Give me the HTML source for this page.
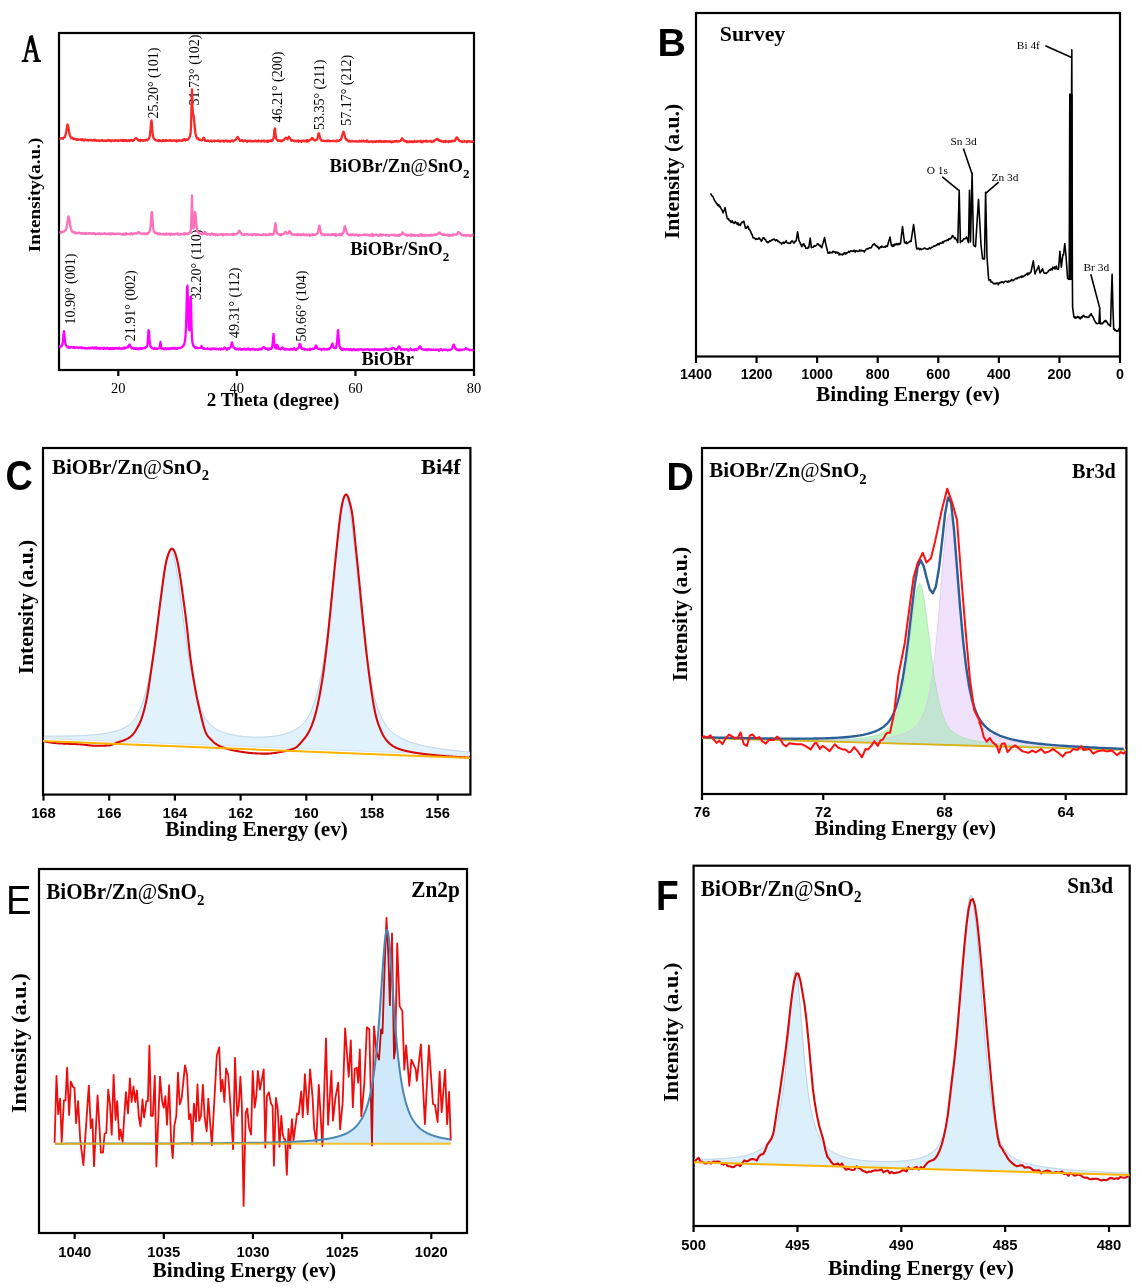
<!DOCTYPE html>
<html><head><meta charset="utf-8"><style>
html,body{margin:0;padding:0;background:#fff;}
svg{display:block;will-change:transform;}
</style></head><body>
<svg width="1142" height="1288" viewBox="0 0 1142 1288">
<rect width="1142" height="1288" fill="#fff"/>
<rect x="59" y="33" width="415" height="337" fill="none" stroke="#000" stroke-width="2.2"/>
<line x1="118.28571428571428" y1="370" x2="118.28571428571428" y2="376" stroke="#000" stroke-width="2.2"/>
<line x1="236.85714285714286" y1="370" x2="236.85714285714286" y2="376" stroke="#000" stroke-width="2.2"/>
<line x1="355.42857142857144" y1="370" x2="355.42857142857144" y2="376" stroke="#000" stroke-width="2.2"/>
<line x1="474.0" y1="370" x2="474.0" y2="376" stroke="#000" stroke-width="2.2"/>
<text x="118.28571428571428" y="393" font-family='"Liberation Serif", serif' font-size="14.5" font-weight="normal" text-anchor="middle" >20</text>
<text x="236.85714285714286" y="393" font-family='"Liberation Serif", serif' font-size="14.5" font-weight="normal" text-anchor="middle" >40</text>
<text x="355.42857142857144" y="393" font-family='"Liberation Serif", serif' font-size="14.5" font-weight="normal" text-anchor="middle" >60</text>
<text x="474.0" y="393" font-family='"Liberation Serif", serif' font-size="14.5" font-weight="normal" text-anchor="middle" >80</text>
<text x="273" y="406" font-family='"Liberation Serif", serif' font-size="18.8" font-weight="bold" text-anchor="middle" textLength="132.6" lengthAdjust="spacingAndGlyphs" >2 Theta (degree)</text>
<text transform="translate(39.65,195) scale(0.925,1) rotate(-90)" font-family='"Liberation Serif", serif' font-size="18.7" font-weight="bold" text-anchor="middle" textLength="114.6" lengthAdjust="spacingAndGlyphs">Intensity(a.u.)</text>
<path fill-rule="evenodd" d="M29.2 36.5 L30.5 35.4 L32.8 35.0 L38.8 59.6 L40.9 60.2 L40.9 61.9 L33.2 61.9 L33.2 60.4 L35.0 59.9 L33.8 52.6 L27.9 52.6 L26.0 59.6 L28.4 60.2 L28.4 61.9 L21.7 61.9 L21.7 60.4 L24.0 59.6 Z M30.5 41.8 L28.4 50.3 L32.9 50.3 Z" fill="#000"/>
<text transform="translate(158.1,118.60000000000001) rotate(-90)" font-family='"Liberation Serif", serif' font-size="14" font-weight="normal" text-anchor="start">25.20° (101)</text>
<text transform="translate(198.7,105.4) rotate(-90)" font-family='"Liberation Serif", serif' font-size="14" font-weight="normal" text-anchor="start">31.73° (102)</text>
<text transform="translate(282.2,122.60000000000001) rotate(-90)" font-family='"Liberation Serif", serif' font-size="14" font-weight="normal" text-anchor="start">46.21° (200)</text>
<text transform="translate(324.1,130.1) rotate(-90)" font-family='"Liberation Serif", serif' font-size="14" font-weight="normal" text-anchor="start">53.35° (211)</text>
<text transform="translate(351.1,125.80000000000001) rotate(-90)" font-family='"Liberation Serif", serif' font-size="14" font-weight="normal" text-anchor="start">57.17° (212)</text>
<text transform="translate(75.4,324.59999999999997) rotate(-90)" font-family='"Liberation Serif", serif' font-size="14" font-weight="normal" text-anchor="start">10.90° (001)</text>
<text transform="translate(135.0,341.2) rotate(-90)" font-family='"Liberation Serif", serif' font-size="14" font-weight="normal" text-anchor="start">21.91° (002)</text>
<text transform="translate(200.9,300.0) rotate(-90)" font-family='"Liberation Serif", serif' font-size="14" font-weight="normal" text-anchor="start">32.20° (110)</text>
<text transform="translate(238.5,338.09999999999997) rotate(-90)" font-family='"Liberation Serif", serif' font-size="14" font-weight="normal" text-anchor="start">49.31° (112)</text>
<text transform="translate(305.7,341.5) rotate(-90)" font-family='"Liberation Serif", serif' font-size="14" font-weight="normal" text-anchor="start">50.66° (104)</text>
<polyline points="59.50,138.70 60.00,138.78 60.50,138.55 61.00,138.29 61.50,138.38 62.00,138.12 62.50,138.38 63.00,138.69 63.50,137.84 64.00,137.49 64.50,137.39 65.00,136.55 65.50,135.14 66.00,132.71 66.50,130.15 67.00,127.15 67.50,124.42 68.00,125.69 68.50,128.25 69.00,131.64 69.50,133.88 70.00,136.07 70.50,136.73 71.00,137.90 71.50,138.26 72.00,138.42 72.50,137.81 73.00,138.66 73.50,138.96 74.00,139.12 74.50,138.63 75.00,139.07 75.50,138.96 76.00,139.08 76.50,139.78 77.00,139.17 77.50,139.49 78.00,139.85 78.50,139.37 79.00,139.57 79.50,139.68 80.00,139.69 80.50,139.27 81.00,139.76 81.50,140.23 82.00,139.24 82.50,140.11 83.00,139.88 83.50,139.64 84.00,140.59 84.50,140.18 85.00,139.51 85.50,139.98 86.00,140.18 86.50,139.94 87.00,140.26 87.50,140.02 88.00,140.30 88.50,140.60 89.00,139.88 89.50,140.21 90.00,139.99 90.50,140.22 91.00,139.78 91.50,140.02 92.00,140.17 92.50,140.58 93.00,140.68 93.50,139.84 94.00,140.04 94.50,140.57 95.00,139.67 95.50,140.22 96.00,140.37 96.50,140.86 97.00,140.69 97.50,140.35 98.00,140.36 98.50,140.42 99.00,141.06 99.50,140.40 100.00,140.46 100.50,140.69 101.00,140.53 101.50,140.50 102.00,140.18 102.50,140.57 103.00,140.42 103.50,140.99 104.00,140.81 104.50,140.58 105.00,140.82 105.50,140.47 106.00,140.96 106.50,140.59 107.00,140.80 107.50,140.14 108.00,140.72 108.50,140.01 109.00,139.89 109.50,140.50 110.00,140.29 110.50,140.66 111.00,141.39 111.50,140.32 112.00,140.39 112.50,140.69 113.00,140.79 113.50,140.55 114.00,140.55 114.50,140.87 115.00,140.80 115.50,140.26 116.00,140.60 116.50,140.64 117.00,140.26 117.50,140.72 118.00,140.33 118.50,140.97 119.00,140.70 119.50,140.66 120.00,140.42 120.50,140.59 121.00,139.93 121.50,140.24 122.00,140.76 122.50,139.89 123.00,140.93 123.50,140.02 124.00,140.90 124.50,140.34 125.00,140.90 125.50,140.67 126.00,140.09 126.50,141.06 127.00,141.13 127.50,140.59 128.00,140.52 128.50,140.55 129.00,140.26 129.50,140.97 130.00,140.39 130.50,140.55 131.00,140.27 131.50,140.30 132.00,140.03 132.50,140.87 133.00,140.29 133.50,140.54 134.00,139.97 134.50,139.35 135.00,138.94 135.50,138.26 136.00,138.16 136.50,138.32 137.00,138.94 137.50,139.09 138.00,139.67 138.50,140.76 139.00,140.08 139.50,140.02 140.00,140.55 140.50,140.96 141.00,139.97 141.50,140.42 142.00,140.27 142.50,139.87 143.00,140.73 143.50,140.45 144.00,140.46 144.50,140.14 145.00,140.52 145.50,140.12 146.00,140.19 146.50,139.76 147.00,139.59 147.50,140.31 148.00,139.40 148.50,139.29 149.00,138.50 149.50,137.07 150.00,134.39 150.50,129.91 151.00,122.96 151.50,120.40 152.00,125.73 152.50,132.36 153.00,136.11 153.50,138.00 154.00,138.66 154.50,138.91 155.00,140.06 155.50,140.29 156.00,140.07 156.50,140.42 157.00,140.60 157.50,140.69 158.00,140.77 158.50,140.33 159.00,141.06 159.50,140.12 160.00,140.89 160.50,140.78 161.00,140.93 161.50,141.30 162.00,141.17 162.50,140.26 163.00,140.08 163.50,140.97 164.00,140.34 164.50,140.69 165.00,141.00 165.50,140.13 166.00,139.98 166.50,140.81 167.00,140.74 167.50,140.64 168.00,140.74 168.50,140.43 169.00,140.20 169.50,140.67 170.00,140.39 170.50,140.16 171.00,140.91 171.50,140.71 172.00,140.87 172.50,140.38 173.00,140.50 173.50,140.38 174.00,140.41 174.50,140.79 175.00,140.44 175.50,140.83 176.00,140.82 176.50,141.41 177.00,140.20 177.50,140.99 178.00,140.64 178.50,140.66 179.00,140.14 179.50,140.47 180.00,140.88 180.50,140.57 181.00,140.61 181.50,140.45 182.00,140.93 182.50,140.48 183.00,139.68 183.50,140.17 184.00,139.67 184.50,139.16 185.00,140.04 185.50,140.60 186.00,140.04 186.50,139.48 187.00,139.39 187.50,139.90 188.00,139.27 188.50,138.85 189.00,138.27 189.50,137.47 190.00,136.37 190.50,133.75 191.00,127.38 191.50,107.43 192.00,89.34 192.50,107.90 193.00,114.47 193.50,115.00 194.00,119.33 194.50,124.75 195.00,129.09 195.50,133.72 196.00,136.02 196.50,136.88 197.00,138.28 197.50,138.78 198.00,138.16 198.50,139.48 199.00,139.60 199.50,139.83 200.00,139.56 200.50,139.94 201.00,140.04 201.50,140.53 202.00,140.17 202.50,139.78 203.00,139.54 203.50,137.57 204.00,137.90 204.50,138.71 205.00,140.63 205.50,140.72 206.00,140.84 206.50,140.84 207.00,140.70 207.50,140.78 208.00,140.64 208.50,140.69 209.00,140.80 209.50,141.33 210.00,141.01 210.50,140.81 211.00,140.64 211.50,140.63 212.00,141.43 212.50,141.05 213.00,140.91 213.50,140.77 214.00,140.51 214.50,140.89 215.00,141.22 215.50,140.79 216.00,140.85 216.50,140.86 217.00,140.98 217.50,140.39 218.00,140.87 218.50,140.66 219.00,141.27 219.50,140.69 220.00,141.17 220.50,141.50 221.00,140.86 221.50,140.77 222.00,141.05 222.50,140.98 223.00,140.64 223.50,141.15 224.00,141.69 224.50,140.90 225.00,140.92 225.50,140.62 226.00,141.10 226.50,140.55 227.00,140.60 227.50,141.44 228.00,140.67 228.50,141.36 229.00,141.51 229.50,141.06 230.00,141.16 230.50,141.64 231.00,140.87 231.50,140.72 232.00,140.43 232.50,140.89 233.00,141.35 233.50,141.12 234.00,140.38 234.50,140.29 235.00,140.21 235.50,140.15 236.00,139.43 236.50,138.76 237.00,137.83 237.50,137.00 238.00,137.38 238.50,138.38 239.00,139.19 239.50,140.05 240.00,140.95 240.50,140.75 241.00,140.71 241.50,140.19 242.00,140.98 242.50,140.21 243.00,140.43 243.50,141.25 244.00,141.22 244.50,140.94 245.00,140.41 245.50,140.89 246.00,140.79 246.50,141.26 247.00,141.84 247.50,141.13 248.00,140.79 248.50,140.66 249.00,141.05 249.50,141.01 250.00,140.68 250.50,141.12 251.00,140.68 251.50,141.48 252.00,141.46 252.50,141.47 253.00,140.93 253.50,141.28 254.00,141.05 254.50,140.97 255.00,140.98 255.50,140.65 256.00,140.60 256.50,141.39 257.00,141.04 257.50,141.18 258.00,141.46 258.50,140.50 259.00,140.84 259.50,141.17 260.00,141.25 260.50,140.98 261.00,141.47 261.50,141.18 262.00,140.68 262.50,140.78 263.00,141.39 263.50,141.26 264.00,140.43 264.50,141.57 265.00,141.30 265.50,141.56 266.00,140.95 266.50,140.97 267.00,140.67 267.50,141.94 268.00,140.98 268.50,141.58 269.00,140.77 269.50,141.03 270.00,140.35 270.50,140.75 271.00,141.15 271.50,140.27 272.00,140.92 272.50,140.39 273.00,139.40 273.50,138.35 274.00,135.18 274.50,129.57 275.00,128.38 275.50,134.04 276.00,137.97 276.50,139.21 277.00,139.71 277.50,140.44 278.00,140.93 278.50,140.19 279.00,140.79 279.50,140.60 280.00,140.50 280.50,141.14 281.00,140.64 281.50,141.32 282.00,140.46 282.50,140.77 283.00,140.38 283.50,139.90 284.00,139.89 284.50,138.96 285.00,138.47 285.50,137.82 286.00,137.69 286.50,138.56 287.00,138.93 287.50,139.18 288.00,138.06 288.50,137.70 289.00,136.80 289.50,138.11 290.00,138.38 290.50,138.92 291.00,140.08 291.50,140.84 292.00,140.13 292.50,140.41 293.00,140.62 293.50,140.54 294.00,141.12 294.50,140.73 295.00,140.79 295.50,141.27 296.00,140.82 296.50,141.25 297.00,140.77 297.50,140.70 298.00,140.49 298.50,141.79 299.00,141.03 299.50,141.23 300.00,141.14 300.50,141.21 301.00,141.17 301.50,141.82 302.00,140.79 302.50,140.60 303.00,140.79 303.50,140.68 304.00,141.40 304.50,141.42 305.00,140.79 305.50,140.62 306.00,140.97 306.50,141.56 307.00,140.06 307.50,141.20 308.00,140.59 308.50,141.27 309.00,140.42 309.50,140.52 310.00,139.81 310.50,139.53 311.00,139.70 311.50,138.78 312.00,137.98 312.50,138.15 313.00,138.48 313.50,139.61 314.00,140.14 314.50,140.35 315.00,140.42 315.50,140.03 316.00,140.26 316.50,139.96 317.00,139.78 317.50,138.72 318.00,135.97 318.50,133.48 319.00,133.43 319.50,135.35 320.00,137.52 320.50,139.20 321.00,139.64 321.50,140.63 322.00,140.61 322.50,140.88 323.00,140.83 323.50,140.71 324.00,140.68 324.50,140.97 325.00,140.89 325.50,141.19 326.00,141.13 326.50,140.67 327.00,141.18 327.50,140.70 328.00,140.96 328.50,141.08 329.00,140.46 329.50,141.22 330.00,141.24 330.50,141.13 331.00,141.04 331.50,141.05 332.00,140.84 332.50,141.08 333.00,140.97 333.50,141.19 334.00,140.72 334.50,141.21 335.00,141.16 335.50,141.04 336.00,140.91 336.50,141.22 337.00,140.40 337.50,141.09 338.00,140.94 338.50,140.86 339.00,140.77 339.50,140.23 340.00,140.11 340.50,140.00 341.00,139.24 341.50,138.05 342.00,135.79 342.50,134.33 343.00,132.46 343.50,131.75 344.00,132.89 344.50,134.52 345.00,137.40 345.50,138.45 346.00,138.54 346.50,140.13 347.00,139.82 347.50,140.12 348.00,140.50 348.50,141.29 349.00,140.80 349.50,141.09 350.00,141.66 350.50,141.65 351.00,141.09 351.50,141.08 352.00,140.75 352.50,140.97 353.00,141.38 353.50,141.38 354.00,141.30 354.50,141.62 355.00,141.01 355.50,141.27 356.00,141.56 356.50,141.51 357.00,141.69 357.50,141.46 358.00,141.22 358.50,141.46 359.00,140.99 359.50,140.77 360.00,141.56 360.50,141.34 361.00,141.47 361.50,140.77 362.00,141.24 362.50,141.16 363.00,141.07 363.50,140.59 364.00,141.26 364.50,141.70 365.00,141.52 365.50,141.18 366.00,141.39 366.50,141.66 367.00,140.43 367.50,141.36 368.00,141.59 368.50,141.64 369.00,142.00 369.50,141.81 370.00,141.52 370.50,141.52 371.00,141.69 371.50,141.23 372.00,141.40 372.50,141.74 373.00,142.11 373.50,141.37 374.00,141.41 374.50,141.50 375.00,141.90 375.50,141.42 376.00,141.95 376.50,141.09 377.00,141.37 377.50,141.37 378.00,141.71 378.50,141.80 379.00,140.91 379.50,141.12 380.00,141.56 380.50,141.21 381.00,140.91 381.50,141.81 382.00,141.62 382.50,141.62 383.00,141.28 383.50,141.81 384.00,141.37 384.50,141.84 385.00,141.13 385.50,141.16 386.00,141.53 386.50,141.21 387.00,141.69 387.50,141.55 388.00,141.14 388.50,141.48 389.00,141.34 389.50,141.78 390.00,141.24 390.50,141.31 391.00,141.88 391.50,142.24 392.00,142.16 392.50,141.48 393.00,141.53 393.50,141.99 394.00,141.41 394.50,141.10 395.00,141.48 395.50,141.59 396.00,141.14 396.50,140.84 397.00,140.90 397.50,141.62 398.00,141.10 398.50,141.28 399.00,141.35 399.50,141.41 400.00,140.93 400.50,140.93 401.00,139.90 401.50,139.26 402.00,138.24 402.50,139.11 403.00,139.56 403.50,140.09 404.00,140.71 404.50,141.01 405.00,141.47 405.50,140.74 406.00,140.99 406.50,141.25 407.00,142.30 407.50,141.76 408.00,141.41 408.50,141.71 409.00,142.19 409.50,141.39 410.00,141.35 410.50,141.91 411.00,141.66 411.50,141.73 412.00,141.32 412.50,142.17 413.00,142.10 413.50,141.70 414.00,141.75 414.50,140.80 415.00,141.73 415.50,141.45 416.00,141.67 416.50,141.75 417.00,141.40 417.50,140.93 418.00,141.65 418.50,141.26 419.00,141.40 419.50,141.31 420.00,141.40 420.50,140.71 421.00,141.94 421.50,141.61 422.00,141.91 422.50,142.21 423.00,141.52 423.50,140.88 424.00,141.20 424.50,141.09 425.00,141.33 425.50,141.53 426.00,140.80 426.50,141.61 427.00,140.96 427.50,141.58 428.00,141.43 428.50,141.35 429.00,141.42 429.50,141.24 430.00,141.20 430.50,140.80 431.00,141.36 431.50,141.98 432.00,141.98 432.50,141.68 433.00,141.37 433.50,140.77 434.00,141.34 434.50,140.60 435.00,140.31 435.50,139.90 436.00,139.67 436.50,139.15 437.00,139.08 437.50,138.75 438.00,139.23 438.50,140.51 439.00,140.05 439.50,140.32 440.00,140.86 440.50,141.13 441.00,140.65 441.50,141.08 442.00,141.56 442.50,141.40 443.00,141.39 443.50,141.92 444.00,141.17 444.50,141.46 445.00,141.26 445.50,141.98 446.00,140.78 446.50,141.24 447.00,141.29 447.50,141.71 448.00,141.70 448.50,141.97 449.00,140.93 449.50,141.73 450.00,141.36 450.50,141.22 451.00,141.62 451.50,141.08 452.00,140.64 452.50,141.20 453.00,140.73 453.50,140.93 454.00,141.12 454.50,140.83 455.00,140.83 455.50,139.54 456.00,138.21 456.50,137.64 457.00,137.33 457.50,137.79 458.00,139.27 458.50,139.69 459.00,139.80 459.50,141.11 460.00,141.06 460.50,141.36 461.00,141.37 461.50,141.61 462.00,141.45 462.50,141.91 463.00,141.65 463.50,141.66 464.00,141.69 464.50,141.05 465.00,141.52 465.50,141.50 466.00,141.67 466.50,141.13 467.00,142.18 467.50,141.66 468.00,141.20 468.50,141.03 469.00,141.54 469.50,141.61 470.00,141.39 470.50,141.68 471.00,141.43 471.50,141.85 472.00,141.40 472.50,141.65 473.00,142.01 473.50,142.57" fill="none" stroke="#fa2828" stroke-width="2.3" stroke-linejoin="round"/>
<polyline points="59.50,232.16 60.00,232.33 60.50,232.16 61.00,232.70 61.50,231.97 62.00,232.14 62.50,232.23 63.00,231.79 63.50,231.67 64.00,231.66 64.50,230.84 65.00,230.70 65.50,230.48 66.00,229.73 66.50,228.05 67.00,225.07 67.50,222.14 68.00,218.76 68.50,216.30 69.00,217.20 69.50,220.49 70.00,224.73 70.50,227.15 71.00,228.85 71.50,230.16 72.00,231.68 72.50,231.71 73.00,232.35 73.50,232.01 74.00,232.68 74.50,232.28 75.00,232.54 75.50,233.56 76.00,233.03 76.50,232.65 77.00,232.86 77.50,233.05 78.00,233.40 78.50,232.85 79.00,232.44 79.50,232.99 80.00,233.12 80.50,233.18 81.00,233.63 81.50,233.30 82.00,233.50 82.50,232.85 83.00,233.56 83.50,234.01 84.00,233.57 84.50,233.41 85.00,233.39 85.50,233.98 86.00,233.04 86.50,233.35 87.00,233.56 87.50,233.68 88.00,233.28 88.50,233.56 89.00,233.37 89.50,233.52 90.00,233.45 90.50,233.11 91.00,233.52 91.50,233.84 92.00,233.21 92.50,233.48 93.00,233.81 93.50,233.22 94.00,233.67 94.50,233.25 95.00,234.03 95.50,234.46 96.00,234.37 96.50,233.60 97.00,233.95 97.50,233.74 98.00,233.75 98.50,234.27 99.00,233.28 99.50,234.12 100.00,233.75 100.50,234.26 101.00,233.84 101.50,233.54 102.00,233.88 102.50,234.04 103.00,233.80 103.50,233.96 104.00,233.61 104.50,233.05 105.00,234.11 105.50,234.05 106.00,233.86 106.50,233.83 107.00,234.18 107.50,233.66 108.00,233.57 108.50,233.76 109.00,234.24 109.50,233.34 110.00,234.25 110.50,233.61 111.00,233.45 111.50,234.28 112.00,233.81 112.50,233.39 113.00,233.72 113.50,234.18 114.00,234.27 114.50,233.71 115.00,234.00 115.50,234.11 116.00,233.64 116.50,233.99 117.00,233.86 117.50,233.69 118.00,233.71 118.50,233.90 119.00,233.89 119.50,233.69 120.00,233.74 120.50,234.28 121.00,233.97 121.50,234.20 122.00,234.32 122.50,234.10 123.00,234.70 123.50,233.61 124.00,234.19 124.50,233.79 125.00,234.56 125.50,234.50 126.00,233.23 126.50,233.57 127.00,234.14 127.50,234.19 128.00,234.17 128.50,233.89 129.00,234.07 129.50,234.14 130.00,233.88 130.50,234.26 131.00,233.11 131.50,234.12 132.00,233.53 132.50,234.22 133.00,233.79 133.50,233.54 134.00,233.96 134.50,233.48 135.00,233.43 135.50,233.13 136.00,233.55 136.50,233.52 137.00,233.38 137.50,232.52 138.00,232.47 138.50,231.97 139.00,232.24 139.50,232.95 140.00,233.52 140.50,233.30 141.00,233.50 141.50,233.62 142.00,233.75 142.50,233.44 143.00,234.13 143.50,233.63 144.00,233.92 144.50,233.46 145.00,233.85 145.50,233.82 146.00,233.49 146.50,234.28 147.00,233.61 147.50,233.97 148.00,233.51 148.50,232.68 149.00,232.37 149.50,231.97 150.00,230.45 150.50,227.41 151.00,221.29 151.50,212.69 152.00,212.06 152.50,219.04 153.00,226.61 153.50,229.77 154.00,231.40 154.50,232.36 155.00,232.99 155.50,232.69 156.00,232.78 156.50,233.16 157.00,232.93 157.50,233.39 158.00,234.35 158.50,233.47 159.00,234.11 159.50,233.44 160.00,234.05 160.50,233.86 161.00,233.97 161.50,234.21 162.00,234.64 162.50,234.11 163.00,234.09 163.50,233.72 164.00,234.28 164.50,234.00 165.00,234.38 165.50,234.08 166.00,234.71 166.50,233.42 167.00,234.01 167.50,234.43 168.00,234.01 168.50,233.86 169.00,234.05 169.50,233.66 170.00,234.19 170.50,235.00 171.00,234.56 171.50,233.77 172.00,233.85 172.50,234.02 173.00,234.52 173.50,233.88 174.00,233.93 174.50,234.48 175.00,234.48 175.50,234.04 176.00,233.78 176.50,233.63 177.00,233.93 177.50,233.39 178.00,234.44 178.50,233.95 179.00,234.34 179.50,234.82 180.00,234.58 180.50,233.76 181.00,234.46 181.50,234.55 182.00,233.88 182.50,233.80 183.00,234.08 183.50,233.55 184.00,234.61 184.50,233.23 185.00,233.66 185.50,233.93 186.00,233.91 186.50,234.00 187.00,233.98 187.50,233.73 188.00,234.11 188.50,232.82 189.00,233.37 189.50,232.80 190.00,232.55 190.50,231.49 191.00,228.01 191.50,213.23 192.00,195.40 192.50,221.34 193.00,227.67 193.50,228.43 194.00,225.35 194.50,217.84 195.00,211.86 195.50,213.76 196.00,220.53 196.50,226.42 197.00,229.72 197.50,231.32 198.00,232.31 198.50,232.70 199.00,233.48 199.50,233.31 200.00,233.46 200.50,233.31 201.00,233.80 201.50,233.56 202.00,233.84 202.50,234.27 203.00,233.96 203.50,233.77 204.00,233.06 204.50,231.91 205.00,232.06 205.50,233.08 206.00,234.06 206.50,233.66 207.00,234.62 207.50,234.22 208.00,233.99 208.50,234.11 209.00,234.07 209.50,234.38 210.00,234.09 210.50,234.76 211.00,234.10 211.50,233.58 212.00,234.13 212.50,233.69 213.00,234.39 213.50,234.78 214.00,234.65 214.50,233.96 215.00,234.17 215.50,235.06 216.00,234.56 216.50,234.45 217.00,234.83 217.50,235.32 218.00,234.92 218.50,234.52 219.00,234.60 219.50,234.70 220.00,234.27 220.50,234.12 221.00,234.51 221.50,234.16 222.00,234.48 222.50,234.54 223.00,235.32 223.50,234.21 224.00,234.47 224.50,234.46 225.00,234.67 225.50,234.89 226.00,234.35 226.50,234.24 227.00,233.95 227.50,234.20 228.00,234.72 228.50,234.55 229.00,234.17 229.50,234.40 230.00,234.54 230.50,234.70 231.00,234.32 231.50,234.43 232.00,233.88 232.50,234.10 233.00,235.06 233.50,233.72 234.00,234.35 234.50,234.52 235.00,234.28 235.50,234.08 236.00,234.28 236.50,234.21 237.00,234.02 237.50,233.08 238.00,233.14 238.50,232.02 239.00,231.02 239.50,230.69 240.00,231.44 240.50,232.64 241.00,233.03 241.50,234.08 242.00,234.47 242.50,234.63 243.00,234.82 243.50,234.34 244.00,234.38 244.50,234.76 245.00,234.02 245.50,234.60 246.00,234.35 246.50,234.42 247.00,233.96 247.50,234.26 248.00,234.58 248.50,234.90 249.00,234.94 249.50,234.57 250.00,234.54 250.50,234.32 251.00,234.76 251.50,234.53 252.00,234.83 252.50,235.24 253.00,234.62 253.50,234.11 254.00,234.33 254.50,234.12 255.00,234.22 255.50,235.10 256.00,234.72 256.50,234.11 257.00,234.87 257.50,235.09 258.00,234.52 258.50,234.41 259.00,234.53 259.50,234.75 260.00,234.87 260.50,235.06 261.00,235.08 261.50,235.07 262.00,235.13 262.50,234.88 263.00,234.11 263.50,234.60 264.00,234.76 264.50,234.51 265.00,234.96 265.50,234.51 266.00,234.31 266.50,235.14 267.00,234.86 267.50,234.70 268.00,234.93 268.50,234.97 269.00,234.70 269.50,233.71 270.00,234.31 270.50,234.35 271.00,234.12 271.50,234.48 272.00,234.74 272.50,234.02 273.00,233.58 273.50,234.30 274.00,232.52 274.50,229.87 275.00,225.57 275.50,223.05 276.00,227.41 276.50,231.79 277.00,232.96 277.50,233.43 278.00,234.11 278.50,234.48 279.00,234.09 279.50,234.48 280.00,234.37 280.50,235.40 281.00,234.16 281.50,234.88 282.00,234.33 282.50,234.23 283.00,234.39 283.50,234.21 284.00,233.95 284.50,233.07 285.00,232.12 285.50,231.81 286.00,232.42 286.50,232.94 287.00,233.60 287.50,233.36 288.00,233.37 288.50,233.03 289.00,231.93 289.50,231.05 290.00,231.55 290.50,232.21 291.00,233.93 291.50,233.55 292.00,234.58 292.50,234.53 293.00,235.03 293.50,234.86 294.00,234.52 294.50,234.53 295.00,234.66 295.50,234.71 296.00,234.48 296.50,234.67 297.00,235.26 297.50,234.11 298.00,234.81 298.50,234.41 299.00,234.80 299.50,235.04 300.00,234.73 300.50,235.02 301.00,234.20 301.50,235.15 302.00,234.56 302.50,234.99 303.00,234.84 303.50,233.87 304.00,234.51 304.50,234.86 305.00,235.32 305.50,234.88 306.00,234.87 306.50,234.29 307.00,235.28 307.50,235.42 308.00,234.79 308.50,234.70 309.00,234.21 309.50,235.09 310.00,235.72 310.50,235.02 311.00,235.20 311.50,234.94 312.00,234.40 312.50,235.20 313.00,234.28 313.50,234.62 314.00,234.77 314.50,234.94 315.00,234.73 315.50,234.65 316.00,234.14 316.50,233.80 317.00,234.00 317.50,233.19 318.00,231.79 318.50,229.46 319.00,226.57 319.50,225.63 320.00,228.81 320.50,231.32 321.00,233.34 321.50,234.05 322.00,234.92 322.50,233.88 323.00,234.28 323.50,234.91 324.00,234.57 324.50,234.58 325.00,235.32 325.50,234.63 326.00,234.36 326.50,234.32 327.00,234.91 327.50,234.91 328.00,234.33 328.50,234.48 329.00,235.01 329.50,235.03 330.00,234.61 330.50,235.06 331.00,235.04 331.50,234.22 332.00,234.73 332.50,234.99 333.00,234.64 333.50,234.09 334.00,234.74 334.50,235.10 335.00,235.38 335.50,234.06 336.00,235.73 336.50,234.41 337.00,235.13 337.50,235.21 338.00,235.10 338.50,234.78 339.00,234.29 339.50,234.87 340.00,234.35 340.50,233.64 341.00,235.40 341.50,234.51 342.00,234.64 342.50,233.24 343.00,233.25 343.50,231.86 344.00,229.71 344.50,226.96 345.00,226.28 345.50,228.62 346.00,230.17 346.50,231.93 347.00,233.48 347.50,233.61 348.00,234.18 348.50,234.38 349.00,235.21 349.50,235.08 350.00,234.67 350.50,235.16 351.00,234.50 351.50,234.69 352.00,235.15 352.50,234.42 353.00,234.77 353.50,234.42 354.00,234.94 354.50,235.48 355.00,234.66 355.50,235.01 356.00,234.62 356.50,234.54 357.00,234.52 357.50,235.47 358.00,235.79 358.50,235.14 359.00,234.72 359.50,235.22 360.00,234.86 360.50,235.27 361.00,235.09 361.50,235.09 362.00,235.21 362.50,234.80 363.00,234.86 363.50,234.40 364.00,234.85 364.50,234.51 365.00,234.96 365.50,234.68 366.00,235.05 366.50,235.18 367.00,234.53 367.50,234.74 368.00,234.70 368.50,235.29 369.00,235.63 369.50,235.33 370.00,234.91 370.50,235.55 371.00,234.51 371.50,235.57 372.00,234.82 372.50,234.07 373.00,235.98 373.50,235.60 374.00,234.69 374.50,235.11 375.00,234.98 375.50,235.09 376.00,234.54 376.50,234.82 377.00,235.23 377.50,235.14 378.00,235.49 378.50,235.10 379.00,235.89 379.50,234.82 380.00,235.17 380.50,234.41 381.00,234.64 381.50,235.54 382.00,234.75 382.50,235.27 383.00,235.06 383.50,234.72 384.00,234.97 384.50,234.91 385.00,234.92 385.50,235.35 386.00,235.32 386.50,234.89 387.00,234.78 387.50,235.19 388.00,235.06 388.50,235.46 389.00,236.03 389.50,235.39 390.00,235.09 390.50,235.04 391.00,234.80 391.50,234.78 392.00,234.75 392.50,234.96 393.00,234.95 393.50,235.36 394.00,234.96 394.50,235.03 395.00,234.67 395.50,235.67 396.00,235.26 396.50,235.71 397.00,235.35 397.50,235.58 398.00,234.96 398.50,235.28 399.00,235.94 399.50,234.52 400.00,235.28 400.50,235.32 401.00,234.60 401.50,234.23 402.00,233.68 402.50,232.44 403.00,233.10 403.50,233.38 404.00,234.05 404.50,234.43 405.00,234.79 405.50,234.99 406.00,235.16 406.50,234.53 407.00,235.78 407.50,235.50 408.00,235.36 408.50,234.99 409.00,235.09 409.50,235.33 410.00,235.29 410.50,234.54 411.00,235.42 411.50,236.20 412.00,234.50 412.50,235.52 413.00,235.30 413.50,235.13 414.00,235.66 414.50,234.75 415.00,235.24 415.50,235.70 416.00,235.11 416.50,235.03 417.00,235.23 417.50,235.03 418.00,235.74 418.50,234.86 419.00,235.51 419.50,234.74 420.00,235.43 420.50,235.16 421.00,234.27 421.50,235.19 422.00,234.81 422.50,235.04 423.00,235.75 423.50,234.80 424.00,234.82 424.50,235.72 425.00,235.24 425.50,235.75 426.00,235.32 426.50,234.88 427.00,235.17 427.50,235.64 428.00,235.53 428.50,235.19 429.00,235.21 429.50,235.14 430.00,234.97 430.50,235.87 431.00,235.17 431.50,234.75 432.00,234.97 432.50,235.39 433.00,235.35 433.50,235.04 434.00,234.82 434.50,235.03 435.00,234.37 435.50,234.43 436.00,235.06 436.50,234.41 437.00,234.43 437.50,234.32 438.00,233.57 438.50,232.74 439.00,233.08 439.50,232.61 440.00,232.72 440.50,233.72 441.00,234.13 441.50,234.07 442.00,234.67 442.50,234.76 443.00,234.22 443.50,234.94 444.00,234.95 444.50,234.93 445.00,234.53 445.50,235.01 446.00,235.14 446.50,235.21 447.00,234.77 447.50,235.42 448.00,234.76 448.50,235.12 449.00,235.67 449.50,234.96 450.00,235.02 450.50,235.59 451.00,235.06 451.50,235.09 452.00,235.26 452.50,235.55 453.00,234.36 453.50,234.83 454.00,234.74 454.50,234.66 455.00,234.68 455.50,234.59 456.00,234.84 456.50,234.15 457.00,234.09 457.50,233.57 458.00,232.38 458.50,232.02 459.00,232.49 459.50,232.61 460.00,233.06 460.50,233.93 461.00,234.09 461.50,234.81 462.00,235.21 462.50,234.72 463.00,235.01 463.50,235.54 464.00,235.00 464.50,235.27 465.00,234.86 465.50,234.96 466.00,235.08 466.50,236.04 467.00,235.15 467.50,235.12 468.00,235.11 468.50,235.26 469.00,235.56 469.50,235.40 470.00,236.06 470.50,235.42 471.00,235.85 471.50,235.45 472.00,235.57 472.50,234.86 473.00,235.32 473.50,235.34" fill="none" stroke="#ff70bb" stroke-width="2.3" stroke-linejoin="round"/>
<polyline points="59.50,346.98 60.00,346.21 60.50,347.12 61.00,346.45 61.50,346.05 62.00,345.40 62.50,343.88 63.00,340.84 63.50,334.87 64.00,331.26 64.50,335.43 65.00,340.79 65.50,343.88 66.00,345.37 66.50,346.01 67.00,346.68 67.50,347.36 68.00,346.74 68.50,347.77 69.00,347.62 69.50,347.24 70.00,347.73 70.50,346.99 71.00,346.93 71.50,347.12 72.00,347.46 72.50,347.51 73.00,347.47 73.50,347.71 74.00,346.94 74.50,347.88 75.00,347.23 75.50,347.51 76.00,347.61 76.50,347.37 77.00,347.31 77.50,347.45 78.00,347.81 78.50,348.03 79.00,348.04 79.50,347.50 80.00,347.59 80.50,347.55 81.00,348.05 81.50,347.19 82.00,348.34 82.50,347.75 83.00,347.66 83.50,348.06 84.00,348.32 84.50,348.08 85.00,348.34 85.50,348.03 86.00,348.43 86.50,348.44 87.00,347.98 87.50,348.53 88.00,348.10 88.50,348.08 89.00,347.74 89.50,347.97 90.00,348.35 90.50,347.63 91.00,348.33 91.50,348.23 92.00,348.22 92.50,347.36 93.00,348.10 93.50,348.38 94.00,347.89 94.50,348.20 95.00,347.35 95.50,348.42 96.00,347.97 96.50,348.51 97.00,347.57 97.50,348.47 98.00,348.15 98.50,348.53 99.00,347.93 99.50,348.05 100.00,349.06 100.50,347.99 101.00,348.04 101.50,348.19 102.00,347.93 102.50,348.71 103.00,348.90 103.50,348.05 104.00,347.70 104.50,348.72 105.00,348.70 105.50,348.60 106.00,348.72 106.50,348.01 107.00,348.26 107.50,347.84 108.00,347.83 108.50,348.67 109.00,348.10 109.50,349.13 110.00,348.36 110.50,348.12 111.00,348.62 111.50,348.98 112.00,348.52 112.50,347.93 113.00,348.48 113.50,348.84 114.00,348.19 114.50,348.09 115.00,348.72 115.50,348.41 116.00,347.98 116.50,348.24 117.00,348.11 117.50,348.48 118.00,348.41 118.50,348.78 119.00,348.62 119.50,347.83 120.00,348.52 120.50,348.69 121.00,348.53 121.50,348.73 122.00,348.17 122.50,348.02 123.00,348.67 123.50,347.96 124.00,347.57 124.50,348.66 125.00,348.02 125.50,348.13 126.00,347.69 126.50,347.62 127.00,347.52 127.50,347.50 128.00,347.22 128.50,345.46 129.00,345.58 129.50,344.57 130.00,345.31 130.50,346.88 131.00,347.33 131.50,347.25 132.00,348.67 132.50,347.85 133.00,348.32 133.50,348.35 134.00,348.82 134.50,348.19 135.00,348.72 135.50,348.13 136.00,348.79 136.50,348.14 137.00,348.29 137.50,349.08 138.00,348.53 138.50,348.46 139.00,349.21 139.50,348.55 140.00,348.13 140.50,348.67 141.00,347.99 141.50,348.78 142.00,348.79 142.50,348.15 143.00,348.10 143.50,348.34 144.00,348.23 144.50,347.80 145.00,348.23 145.50,347.15 146.00,347.46 146.50,347.03 147.00,346.19 147.50,344.17 148.00,338.08 148.50,330.18 149.00,331.41 149.50,339.76 150.00,344.23 150.50,346.13 151.00,347.43 151.50,347.36 152.00,347.96 152.50,348.46 153.00,348.56 153.50,348.82 154.00,348.23 154.50,347.99 155.00,348.76 155.50,348.53 156.00,348.83 156.50,348.45 157.00,348.86 157.50,348.72 158.00,348.64 158.50,348.49 159.00,348.28 159.50,347.68 160.00,344.94 160.50,341.84 161.00,346.31 161.50,348.54 162.00,348.23 162.50,348.74 163.00,348.43 163.50,348.42 164.00,349.24 164.50,348.44 165.00,348.11 165.50,348.31 166.00,348.46 166.50,349.33 167.00,348.65 167.50,348.90 168.00,348.22 168.50,348.70 169.00,348.81 169.50,349.20 170.00,348.32 170.50,348.77 171.00,348.65 171.50,348.18 172.00,348.52 172.50,348.43 173.00,347.69 173.50,348.70 174.00,348.66 174.50,348.30 175.00,347.96 175.50,348.92 176.00,348.47 176.50,348.70 177.00,348.79 177.50,348.07 178.00,348.48 178.50,348.05 179.00,348.04 179.50,347.94 180.00,347.86 180.50,348.11 181.00,347.60 181.50,347.29 182.00,346.98 182.50,346.84 183.00,345.94 183.50,345.43 184.00,344.66 184.50,343.05 185.00,340.76 185.50,335.81 186.00,327.11 186.50,309.90 187.00,289.05 187.50,285.68 188.00,304.76 188.50,321.28 189.00,329.89 189.50,330.20 190.00,318.69 190.50,296.53 191.00,301.40 191.50,326.34 192.00,337.61 192.50,342.77 193.00,344.20 193.50,346.32 194.00,346.30 194.50,346.89 195.00,347.59 195.50,347.97 196.00,347.34 196.50,347.77 197.00,347.53 197.50,348.17 198.00,348.16 198.50,348.13 199.00,348.05 199.50,348.15 200.00,347.95 200.50,348.11 201.00,347.77 201.50,345.94 202.00,347.26 202.50,347.91 203.00,348.58 203.50,348.23 204.00,348.59 204.50,348.32 205.00,348.97 205.50,348.79 206.00,348.72 206.50,348.93 207.00,348.73 207.50,348.29 208.00,349.06 208.50,348.96 209.00,348.82 209.50,349.23 210.00,349.32 210.50,348.53 211.00,348.64 211.50,349.47 212.00,349.43 212.50,348.68 213.00,348.54 213.50,348.73 214.00,348.79 214.50,348.41 215.00,348.99 215.50,348.53 216.00,348.56 216.50,349.31 217.00,348.75 217.50,348.97 218.00,349.22 218.50,349.29 219.00,348.88 219.50,349.02 220.00,348.71 220.50,349.61 221.00,349.21 221.50,348.58 222.00,348.95 222.50,349.15 223.00,348.95 223.50,349.12 224.00,348.36 224.50,347.36 225.00,348.11 225.50,348.16 226.00,348.89 226.50,348.92 227.00,349.82 227.50,348.90 228.00,348.09 228.50,348.53 229.00,348.70 229.50,348.04 230.00,347.82 230.50,347.27 231.00,346.13 231.50,343.89 232.00,342.34 232.50,344.23 233.00,345.84 233.50,347.25 234.00,347.67 234.50,348.24 235.00,348.94 235.50,348.26 236.00,348.88 236.50,349.21 237.00,348.87 237.50,349.12 238.00,348.67 238.50,349.54 239.00,349.48 239.50,349.19 240.00,348.51 240.50,348.77 241.00,349.48 241.50,349.75 242.00,349.26 242.50,349.60 243.00,348.95 243.50,349.11 244.00,349.18 244.50,349.33 245.00,348.65 245.50,349.52 246.00,349.65 246.50,348.79 247.00,348.72 247.50,349.32 248.00,348.97 248.50,348.37 249.00,349.49 249.50,349.26 250.00,349.04 250.50,349.95 251.00,349.26 251.50,348.95 252.00,349.25 252.50,348.85 253.00,348.95 253.50,349.35 254.00,349.02 254.50,349.06 255.00,349.80 255.50,349.51 256.00,349.49 256.50,349.39 257.00,349.37 257.50,349.71 258.00,349.18 258.50,349.83 259.00,348.83 259.50,349.06 260.00,348.64 260.50,348.96 261.00,349.20 261.50,349.41 262.00,348.45 262.50,348.28 263.00,347.58 263.50,346.99 264.00,347.05 264.50,348.07 265.00,347.92 265.50,348.84 266.00,348.95 266.50,348.78 267.00,348.69 267.50,348.57 268.00,349.71 268.50,348.57 269.00,349.56 269.50,349.17 270.00,348.76 270.50,348.36 271.00,348.94 271.50,348.83 272.00,347.16 272.50,345.30 273.00,340.12 273.50,333.81 274.00,340.40 274.50,345.10 275.00,347.49 275.50,347.44 276.00,348.59 276.50,346.85 277.00,344.75 277.50,345.25 278.00,347.01 278.50,348.87 279.00,348.54 279.50,348.83 280.00,349.10 280.50,349.43 281.00,348.68 281.50,348.54 282.00,347.53 282.50,347.41 283.00,348.41 283.50,348.88 284.00,348.74 284.50,349.57 285.00,348.71 285.50,349.63 286.00,349.58 286.50,349.23 287.00,349.00 287.50,349.20 288.00,349.45 288.50,349.55 289.00,349.39 289.50,349.64 290.00,349.10 290.50,349.38 291.00,348.75 291.50,349.56 292.00,349.34 292.50,349.14 293.00,349.68 293.50,349.51 294.00,348.26 294.50,349.24 295.00,348.69 295.50,349.54 296.00,349.99 296.50,348.86 297.00,348.95 297.50,348.64 298.00,348.48 298.50,347.80 299.00,346.60 299.50,343.87 300.00,344.00 300.50,344.67 301.00,346.91 301.50,348.37 302.00,348.80 302.50,348.51 303.00,348.75 303.50,348.93 304.00,349.14 304.50,349.61 305.00,348.79 305.50,349.43 306.00,349.50 306.50,349.50 307.00,349.47 307.50,349.85 308.00,349.50 308.50,349.63 309.00,349.53 309.50,349.96 310.00,348.66 310.50,349.77 311.00,349.21 311.50,349.19 312.00,348.92 312.50,348.57 313.00,349.02 313.50,348.81 314.00,349.02 314.50,347.88 315.00,347.97 315.50,346.16 316.00,345.38 316.50,346.40 317.00,347.64 317.50,348.23 318.00,348.77 318.50,349.12 319.00,349.14 319.50,348.76 320.00,349.20 320.50,349.00 321.00,349.39 321.50,350.00 322.00,349.57 322.50,349.25 323.00,348.79 323.50,348.87 324.00,348.77 324.50,349.61 325.00,349.08 325.50,349.36 326.00,349.11 326.50,349.34 327.00,349.78 327.50,349.02 328.00,349.09 328.50,348.87 329.00,349.38 329.50,348.58 330.00,348.33 330.50,347.80 331.00,346.85 331.50,345.74 332.00,344.44 332.50,343.46 333.00,346.19 333.50,347.43 334.00,347.65 334.50,348.15 335.00,348.11 335.50,347.68 336.00,347.99 336.50,345.18 337.00,342.46 337.50,335.74 338.00,330.23 338.50,335.71 339.00,342.71 339.50,346.03 340.00,347.65 340.50,348.44 341.00,347.87 341.50,349.33 342.00,349.78 342.50,349.44 343.00,349.53 343.50,348.75 344.00,349.25 344.50,349.05 345.00,349.16 345.50,349.73 346.00,349.13 346.50,349.38 347.00,348.78 347.50,349.40 348.00,349.50 348.50,349.24 349.00,349.24 349.50,350.16 350.00,349.09 350.50,349.15 351.00,349.24 351.50,349.95 352.00,350.27 352.50,349.66 353.00,349.29 353.50,349.40 354.00,349.93 354.50,349.24 355.00,350.07 355.50,350.06 356.00,349.59 356.50,349.80 357.00,349.84 357.50,350.12 358.00,349.21 358.50,350.00 359.00,349.45 359.50,349.32 360.00,349.63 360.50,349.52 361.00,349.25 361.50,349.04 362.00,349.27 362.50,350.11 363.00,350.29 363.50,349.84 364.00,350.03 364.50,349.43 365.00,349.59 365.50,349.72 366.00,349.24 366.50,349.27 367.00,349.66 367.50,349.51 368.00,349.25 368.50,349.76 369.00,349.54 369.50,349.99 370.00,349.63 370.50,349.53 371.00,349.68 371.50,349.58 372.00,349.41 372.50,349.50 373.00,349.90 373.50,349.87 374.00,350.10 374.50,349.05 375.00,349.51 375.50,349.50 376.00,349.71 376.50,349.49 377.00,349.47 377.50,349.93 378.00,349.72 378.50,349.25 379.00,350.12 379.50,350.00 380.00,349.46 380.50,349.95 381.00,349.40 381.50,350.05 382.00,349.58 382.50,349.37 383.00,349.52 383.50,349.38 384.00,349.72 384.50,349.71 385.00,349.66 385.50,349.44 386.00,348.35 386.50,349.66 387.00,348.95 387.50,349.69 388.00,349.98 388.50,349.66 389.00,349.39 389.50,349.42 390.00,349.36 390.50,349.09 391.00,348.87 391.50,348.42 392.00,348.70 392.50,347.82 393.00,348.00 393.50,347.89 394.00,348.47 394.50,348.77 395.00,349.25 395.50,349.51 396.00,349.35 396.50,349.00 397.00,348.85 397.50,349.40 398.00,348.03 398.50,346.78 399.00,346.23 399.50,346.71 400.00,347.93 400.50,348.54 401.00,349.96 401.50,349.49 402.00,349.65 402.50,349.47 403.00,349.08 403.50,349.14 404.00,349.78 404.50,349.79 405.00,349.58 405.50,349.27 406.00,349.18 406.50,349.58 407.00,349.19 407.50,350.02 408.00,350.11 408.50,350.70 409.00,350.02 409.50,349.51 410.00,349.41 410.50,348.51 411.00,349.51 411.50,349.65 412.00,350.05 412.50,349.92 413.00,349.91 413.50,349.77 414.00,349.92 414.50,350.18 415.00,349.28 415.50,349.46 416.00,349.09 416.50,350.09 417.00,349.88 417.50,349.53 418.00,348.55 418.50,348.50 419.00,347.53 419.50,346.69 420.00,346.26 420.50,347.21 421.00,347.85 421.50,349.00 422.00,349.21 422.50,349.26 423.00,349.46 423.50,349.42 424.00,349.91 424.50,349.57 425.00,349.80 425.50,349.58 426.00,349.22 426.50,350.07 427.00,349.39 427.50,350.01 428.00,349.93 428.50,349.21 429.00,349.46 429.50,349.62 430.00,349.52 430.50,349.40 431.00,350.07 431.50,349.73 432.00,349.96 432.50,349.67 433.00,349.93 433.50,349.57 434.00,349.82 434.50,350.04 435.00,349.85 435.50,349.68 436.00,349.46 436.50,349.90 437.00,349.96 437.50,349.75 438.00,349.58 438.50,350.04 439.00,350.71 439.50,349.74 440.00,349.96 440.50,349.98 441.00,348.95 441.50,349.89 442.00,349.60 442.50,350.33 443.00,349.75 443.50,349.57 444.00,349.76 444.50,349.89 445.00,349.63 445.50,349.80 446.00,349.34 446.50,349.72 447.00,350.06 447.50,350.46 448.00,350.00 448.50,349.82 449.00,350.10 449.50,349.99 450.00,350.15 450.50,349.83 451.00,349.23 451.50,349.03 452.00,348.39 452.50,347.42 453.00,346.02 453.50,344.68 454.00,344.70 454.50,346.56 455.00,347.27 455.50,348.77 456.00,349.18 456.50,348.82 457.00,349.79 457.50,349.94 458.00,349.73 458.50,350.32 459.00,350.42 459.50,349.37 460.00,350.18 460.50,349.98 461.00,349.98 461.50,350.17 462.00,349.59 462.50,349.63 463.00,349.54 463.50,349.54 464.00,349.73 464.50,349.16 465.00,349.03 465.50,348.96 466.00,347.95 466.50,348.54 467.00,348.55 467.50,349.34 468.00,349.57 468.50,349.85 469.00,349.67 469.50,350.23 470.00,349.90 470.50,349.94 471.00,349.94 471.50,350.19 472.00,349.79 472.50,350.35 473.00,350.13 473.50,350.02" fill="none" stroke="#ff00ff" stroke-width="2.3" stroke-linejoin="round"/>
<text transform="translate(329.60,172.10) scale(1.010,1.000)" font-family='"Liberation Serif", serif' font-size="18.5" font-weight="bold" text-anchor="start">BiOBr/Zn<tspan font-weight="normal">@</tspan>SnO<tspan font-size="12.9" dy="5.5">2</tspan></text>
<text x="350.2" y="255" font-family='"Liberation Serif", serif' font-size="18.5" font-weight="bold">BiOBr/SnO<tspan font-size="13" dy="5.5">2</tspan></text>
<text x="361.5" y="365.4" font-family='"Liberation Serif", serif' font-size="18.5" font-weight="bold" text-anchor="start" >BiOBr</text>
<rect x="696" y="13" width="424" height="343.5" fill="none" stroke="#000" stroke-width="2.2"/>
<line x1="696.0" y1="356.5" x2="696.0" y2="363.0" stroke="#000" stroke-width="2.2"/>
<line x1="756.5714285714286" y1="356.5" x2="756.5714285714286" y2="363.0" stroke="#000" stroke-width="2.2"/>
<line x1="817.1428571428571" y1="356.5" x2="817.1428571428571" y2="363.0" stroke="#000" stroke-width="2.2"/>
<line x1="877.7142857142857" y1="356.5" x2="877.7142857142857" y2="363.0" stroke="#000" stroke-width="2.2"/>
<line x1="938.2857142857142" y1="356.5" x2="938.2857142857142" y2="363.0" stroke="#000" stroke-width="2.2"/>
<line x1="998.8571428571429" y1="356.5" x2="998.8571428571429" y2="363.0" stroke="#000" stroke-width="2.2"/>
<line x1="1059.4285714285713" y1="356.5" x2="1059.4285714285713" y2="363.0" stroke="#000" stroke-width="2.2"/>
<line x1="1120.0" y1="356.5" x2="1120.0" y2="363.0" stroke="#000" stroke-width="2.2"/>
<text x="696.0" y="379.4" font-family='"Liberation Sans", sans-serif' font-size="14.3" font-weight="bold" text-anchor="middle" >1400</text>
<text x="756.6" y="379.4" font-family='"Liberation Sans", sans-serif' font-size="14.3" font-weight="bold" text-anchor="middle" >1200</text>
<text x="817.1" y="379.4" font-family='"Liberation Sans", sans-serif' font-size="14.3" font-weight="bold" text-anchor="middle" >1000</text>
<text x="877.7" y="379.4" font-family='"Liberation Sans", sans-serif' font-size="14.3" font-weight="bold" text-anchor="middle" >800</text>
<text x="938.3" y="379.4" font-family='"Liberation Sans", sans-serif' font-size="14.3" font-weight="bold" text-anchor="middle" >600</text>
<text x="998.9" y="379.4" font-family='"Liberation Sans", sans-serif' font-size="14.3" font-weight="bold" text-anchor="middle" >400</text>
<text x="1059.4" y="379.4" font-family='"Liberation Sans", sans-serif' font-size="14.3" font-weight="bold" text-anchor="middle" >200</text>
<text x="1120.0" y="379.4" font-family='"Liberation Sans", sans-serif' font-size="14.3" font-weight="bold" text-anchor="middle" >0</text>
<text x="908" y="401.1" font-family='"Liberation Serif", serif' font-size="21.2" font-weight="bold" text-anchor="middle" textLength="183.9" lengthAdjust="spacingAndGlyphs" >Binding Energy (ev)</text>
<text transform="translate(679.3,171.45) rotate(-90)" font-family='"Liberation Serif", serif' font-size="21.2" font-weight="bold" text-anchor="middle" textLength="135.3" lengthAdjust="spacingAndGlyphs">Intensity (a.u.)</text>
<text transform="translate(657.42,56.29) scale(1.026,1.019)" font-family='"Liberation Sans", sans-serif' font-size="38.4" font-weight="bold">B</text>
<text x="719.75" y="40.8" font-family='"Liberation Serif", serif' font-size="21" font-weight="bold" text-anchor="start" textLength="65.5" lengthAdjust="spacingAndGlyphs" >Survey</text>
<polyline points="710.50,193.60 711.15,194.37 711.80,195.39 712.45,196.41 713.10,196.60 713.75,198.87 714.40,200.10 714.94,201.01 715.48,201.98 716.02,202.27 716.56,203.59 717.10,203.60 717.50,205.40 718.15,205.61 718.80,204.71 719.45,206.81 720.10,206.30 720.80,207.86 721.50,209.30 722.07,209.82 722.63,211.52 723.20,212.80 723.80,210.58 724.40,210.49 725.00,207.60 727.10,218.10 727.77,219.02 728.45,218.54 729.12,220.35 729.80,220.70 730.43,220.85 731.06,222.50 731.69,221.24 732.31,220.95 732.94,222.59 733.57,222.74 734.20,223.30 734.77,222.80 735.33,221.59 735.90,222.50 736.55,223.17 737.20,224.29 737.85,222.75 738.50,224.88 739.15,224.35 739.80,225.10 740.40,225.53 741.00,223.61 741.60,222.50 742.15,222.07 742.70,222.46 743.25,221.81 743.80,221.20 745.50,228.20 746.04,227.59 746.58,228.03 747.12,227.08 747.66,226.10 748.20,226.80 748.90,229.25 749.60,229.27 750.30,230.80 750.84,231.87 751.38,233.79 751.92,234.14 752.46,235.66 753.00,237.80 753.65,237.74 754.30,237.95 754.95,238.49 755.60,239.28 756.25,238.62 756.90,239.10 757.55,239.15 758.20,238.98 758.85,237.83 759.50,238.20 760.10,239.36 760.70,239.75 761.30,241.30 761.87,240.72 762.43,239.22 763.00,237.80 763.55,238.23 764.10,237.91 764.65,239.14 765.20,239.50 765.75,239.85 766.30,241.44 766.85,241.76 767.40,242.60 767.94,241.81 768.48,242.43 769.02,241.98 769.56,240.91 770.10,240.90 770.68,241.31 771.27,240.27 771.85,240.03 772.43,240.03 773.02,239.32 773.60,239.50 774.18,239.34 774.77,239.58 775.35,240.59 775.93,240.66 776.52,239.77 777.10,240.00 777.75,241.44 778.40,241.08 779.05,241.86 779.70,242.20 780.35,242.89 781.00,242.76 781.65,244.13 782.30,243.00 782.93,243.02 783.56,242.11 784.19,243.38 784.81,242.32 785.44,242.26 786.07,240.67 786.70,242.20 787.32,242.91 787.94,242.97 788.56,243.12 789.18,243.38 789.80,243.00 790.32,243.41 790.85,241.92 791.38,241.94 791.90,240.90 792.45,241.02 793.00,241.76 793.55,243.06 794.10,243.00 794.65,242.57 795.20,240.97 795.75,241.25 796.30,240.40 797.60,231.70 798.90,240.40 799.48,241.56 800.06,242.47 800.64,244.42 801.22,245.22 801.80,246.70 802.47,244.84 803.13,244.09 803.80,243.70 804.47,246.21 805.13,245.93 805.80,248.30 806.40,248.30 807.00,248.40 807.60,248.29 808.20,247.15 808.80,247.70 810.20,238.00 811.40,247.70 812.00,247.24 812.60,247.21 813.20,247.29 813.80,246.21 814.40,245.64 815.00,246.00 815.58,246.09 816.16,245.69 816.74,244.82 817.32,243.83 817.90,243.70 818.47,244.50 819.04,244.90 819.61,245.87 820.19,245.30 820.76,246.62 821.33,247.04 821.90,247.70 822.55,244.56 823.20,242.77 823.85,240.14 824.50,237.60 826.00,245.00 828.00,253.10 828.58,252.76 829.17,253.08 829.75,251.97 830.33,252.60 830.92,252.75 831.50,252.56 832.08,252.88 832.67,251.51 833.25,251.22 833.83,252.06 834.42,252.07 835.00,251.70 835.60,253.13 836.20,252.56 836.80,252.00 837.40,253.18 838.00,252.53 838.60,252.44 839.20,254.96 839.80,253.96 840.40,254.43 841.00,254.30 841.62,254.45 842.25,254.97 842.88,253.97 843.50,254.32 844.12,252.92 844.75,252.56 845.38,253.95 846.00,253.00 846.57,253.56 847.13,252.77 847.70,252.36 848.27,252.07 848.83,251.34 849.40,252.31 849.97,251.57 850.53,251.23 851.10,250.70 851.69,250.94 852.28,251.34 852.87,251.07 853.46,251.23 854.05,250.21 854.64,251.16 855.23,252.11 855.82,250.65 856.41,250.90 857.00,251.00 857.62,251.46 858.24,251.47 858.86,251.25 859.48,249.99 860.10,251.13 860.72,250.17 861.34,250.34 861.96,251.06 862.58,250.57 863.20,250.70 863.80,250.93 864.40,252.01 865.00,250.49 865.60,250.25 866.20,249.14 866.80,249.07 867.40,248.63 868.00,249.00 868.66,248.45 869.32,247.88 869.98,247.86 870.64,247.85 871.30,247.70 871.90,246.35 872.50,245.32 873.10,244.55 873.70,244.75 874.30,243.70 874.87,244.30 875.44,245.41 876.01,245.99 876.59,245.80 877.16,246.93 877.73,246.34 878.30,247.70 878.89,248.87 879.47,248.18 880.06,247.32 880.65,246.71 881.24,247.47 881.83,246.15 882.41,246.66 883.00,247.00 883.63,247.31 884.26,246.84 884.89,246.43 885.51,247.12 886.14,245.93 886.77,246.56 887.40,246.30 888.05,243.70 888.70,241.18 889.35,239.58 890.00,237.00 891.40,245.70 891.98,245.00 892.55,246.45 893.12,244.93 893.70,246.19 894.27,244.35 894.85,245.13 895.42,243.99 896.00,244.50 896.56,243.66 897.12,244.39 897.69,244.57 898.25,243.40 898.81,244.65 899.38,243.46 899.94,243.87 900.50,243.70 902.50,226.50 904.50,242.60 905.08,242.88 905.67,243.06 906.25,241.81 906.83,243.76 907.42,243.24 908.00,243.00 908.60,242.49 909.20,241.88 909.80,241.23 910.40,241.13 911.00,241.60 913.60,224.50 916.60,248.70 917.18,249.03 917.76,248.57 918.35,248.16 918.93,248.52 919.51,249.70 920.09,248.68 920.67,248.57 921.25,249.66 921.84,249.20 922.42,249.00 923.00,249.00 923.60,248.64 924.20,248.10 924.80,248.28 925.40,248.64 926.00,248.75 926.60,249.05 927.20,249.13 927.80,248.92 928.40,248.90 929.00,248.20 929.60,247.54 930.20,248.70 930.80,248.08 931.40,247.50 932.00,247.33 932.60,247.20 933.20,246.33 933.80,246.06 934.40,246.28 935.00,246.00 935.59,245.73 936.18,244.97 936.77,245.27 937.36,244.55 937.94,243.77 938.53,244.02 939.12,244.70 939.71,242.96 940.30,243.00 940.89,243.39 941.47,243.26 942.06,243.07 942.65,241.55 943.24,242.86 943.83,241.56 944.41,241.11 945.00,241.00 945.60,240.61 946.20,240.80 946.80,240.23 947.40,239.84 948.00,240.37 948.60,239.00 949.20,238.56 949.80,239.30 950.40,238.60 951.00,238.24 951.60,237.70 952.20,235.76 952.80,235.60 953.40,236.86 954.00,237.20 954.60,238.57 955.20,237.58 955.80,239.05 956.40,239.60 957.10,240.95 957.80,242.60 959.20,190.30 960.40,242.60 961.05,241.08 961.70,240.91 962.35,241.27 963.00,240.00 963.58,239.24 964.17,238.60 964.75,238.98 965.33,238.54 965.92,238.04 966.50,237.00 967.17,238.43 967.83,240.70 968.50,242.60 969.50,190.30 970.50,242.00 972.10,173.20 973.50,244.70 974.17,245.93 974.83,245.67 975.50,246.70 978.50,199.30 981.00,245.00 982.60,258.80 983.23,258.39 983.87,259.26 984.50,258.80 985.60,192.30 987.00,256.70 988.60,278.90 989.20,280.53 989.80,279.82 990.40,279.80 991.00,282.00 991.62,281.52 992.23,282.08 992.85,282.87 993.47,283.61 994.08,283.50 994.70,283.90 995.29,283.41 995.88,283.78 996.47,283.07 997.06,283.47 997.64,283.05 998.23,284.77 998.82,283.65 999.41,282.64 1000.00,283.00 1000.60,282.34 1001.20,282.53 1001.80,281.75 1002.40,282.13 1003.00,282.01 1003.60,282.79 1004.20,281.95 1004.80,281.63 1005.40,281.21 1006.00,281.19 1006.60,281.68 1007.20,281.48 1007.80,282.11 1008.40,281.02 1009.00,281.83 1009.60,281.27 1010.20,281.01 1010.80,280.90 1011.41,279.54 1012.03,279.67 1012.64,280.53 1013.25,280.63 1013.87,279.71 1014.48,279.76 1015.09,278.86 1015.71,278.62 1016.32,278.20 1016.93,278.84 1017.55,278.23 1018.16,277.65 1018.77,277.34 1019.39,277.57 1020.00,277.00 1020.59,276.97 1021.19,276.13 1021.78,277.32 1022.37,276.31 1022.97,275.97 1023.56,276.57 1024.15,276.12 1024.75,275.30 1025.34,275.43 1025.93,274.34 1026.53,274.37 1027.12,273.28 1027.71,274.98 1028.31,273.06 1028.90,273.90 1029.60,273.64 1030.30,272.18 1031.00,272.00 1033.30,260.80 1035.00,273.90 1035.60,272.01 1036.20,271.09 1036.80,270.00 1037.40,268.84 1038.00,268.12 1038.60,265.80 1040.00,272.90 1040.65,272.07 1041.30,271.33 1041.95,269.50 1042.60,268.80 1043.30,271.24 1044.00,272.90 1044.58,273.13 1045.15,272.95 1045.72,273.30 1046.30,273.50 1046.90,272.77 1047.50,272.21 1048.10,271.62 1048.70,270.70 1049.29,270.13 1049.88,269.71 1050.47,270.24 1051.07,268.60 1051.66,268.90 1052.25,269.80 1052.84,267.17 1053.43,267.99 1054.03,268.45 1054.62,266.88 1055.21,268.92 1055.80,267.20 1056.34,266.18 1056.88,268.79 1057.42,269.26 1057.96,269.30 1058.50,269.20 1059.90,251.40 1061.30,267.20 1062.90,254.60 1063.50,255.00 1064.80,243.50 1066.00,255.80 1067.60,278.60 1068.13,278.74 1068.67,279.33 1069.20,279.40 1069.80,94.00 1070.60,270.00 1071.80,49.90 1072.40,281.00 1072.60,307.00 1073.90,317.20 1074.50,316.91 1075.10,318.05 1075.70,317.18 1076.30,318.00 1077.05,317.05 1077.80,316.40 1078.40,317.55 1079.00,316.99 1079.60,318.00 1080.20,318.80 1080.76,318.27 1081.32,316.82 1081.88,317.58 1082.44,316.51 1083.00,315.70 1083.67,315.30 1084.33,316.54 1085.00,317.00 1085.62,316.69 1086.24,316.88 1086.86,317.40 1087.48,317.09 1088.10,317.60 1088.72,317.35 1089.34,315.65 1089.96,315.80 1090.58,314.46 1091.20,313.70 1091.84,315.51 1092.48,316.08 1093.12,317.44 1093.76,318.43 1094.40,320.40 1095.02,321.34 1095.64,322.16 1096.26,323.43 1096.88,323.59 1097.50,323.50 1098.25,323.39 1099.00,323.00 1099.70,308.60 1100.30,323.90 1100.84,323.54 1101.38,323.63 1101.92,323.16 1102.46,323.74 1103.00,322.70 1103.56,322.76 1104.12,321.32 1104.68,320.94 1105.24,321.61 1105.80,320.40 1106.47,321.60 1107.13,322.34 1107.80,323.50 1108.34,324.71 1108.88,324.41 1109.42,325.03 1109.96,325.49 1110.50,326.30 1111.30,298.30 1112.10,274.30 1112.90,307.00 1113.70,329.10 1114.32,328.48 1114.94,330.50 1115.56,329.82 1116.18,330.63 1116.80,331.40 1117.33,330.72 1117.87,331.27 1118.40,330.60 1119.20,328.30 1120.00,330.00" fill="none" stroke="#000" stroke-width="1.6" stroke-linejoin="round"/>
<rect x="1069.3" y="94" width="3.4" height="186" fill="#000"/>
<text x="1016.8" y="48.7" font-family='"Liberation Serif", serif' font-size="11.4" font-weight="normal" text-anchor="start" >Bi 4f</text>
<line x1="1045.3" y1="45.8" x2="1071.7" y2="57.6" stroke="#000" stroke-width="1.6"/>
<text x="950.4" y="145.2" font-family='"Liberation Serif", serif' font-size="11.4" font-weight="normal" text-anchor="start" >Sn 3d</text>
<line x1="963.4" y1="148.4" x2="972.1" y2="174" stroke="#000" stroke-width="1.6"/>
<text x="926.8" y="174.4" font-family='"Liberation Serif", serif' font-size="11.4" font-weight="normal" text-anchor="start" >O 1s</text>
<line x1="942.3" y1="176.8" x2="958.8" y2="190.3" stroke="#000" stroke-width="1.6"/>
<text x="991.6" y="181.2" font-family='"Liberation Serif", serif' font-size="11.4" font-weight="normal" text-anchor="start" >Zn 3d</text>
<line x1="998.7" y1="182.2" x2="985.6" y2="193.3" stroke="#000" stroke-width="1.6"/>
<text x="1083.5" y="270.9" font-family='"Liberation Serif", serif' font-size="11.4" font-weight="normal" text-anchor="start" >Br 3d</text>
<line x1="1090.8" y1="274.3" x2="1099.9" y2="308.6" stroke="#000" stroke-width="1.6"/>
<rect x="43" y="448" width="427.4" height="346.6" fill="none" stroke="#000" stroke-width="2.2"/>
<line x1="43.5" y1="794.6" x2="43.5" y2="800.6" stroke="#000" stroke-width="2.2"/>
<line x1="109.2" y1="794.6" x2="109.2" y2="800.6" stroke="#000" stroke-width="2.2"/>
<line x1="174.9" y1="794.6" x2="174.9" y2="800.6" stroke="#000" stroke-width="2.2"/>
<line x1="240.60000000000002" y1="794.6" x2="240.60000000000002" y2="800.6" stroke="#000" stroke-width="2.2"/>
<line x1="306.3" y1="794.6" x2="306.3" y2="800.6" stroke="#000" stroke-width="2.2"/>
<line x1="372.0" y1="794.6" x2="372.0" y2="800.6" stroke="#000" stroke-width="2.2"/>
<line x1="437.70000000000005" y1="794.6" x2="437.70000000000005" y2="800.6" stroke="#000" stroke-width="2.2"/>
<text x="43.5" y="817.6" font-family='"Liberation Sans", sans-serif' font-size="14.8" font-weight="bold" text-anchor="middle" >168</text>
<text x="109.2" y="817.6" font-family='"Liberation Sans", sans-serif' font-size="14.8" font-weight="bold" text-anchor="middle" >166</text>
<text x="174.9" y="817.6" font-family='"Liberation Sans", sans-serif' font-size="14.8" font-weight="bold" text-anchor="middle" >164</text>
<text x="240.6" y="817.6" font-family='"Liberation Sans", sans-serif' font-size="14.8" font-weight="bold" text-anchor="middle" >162</text>
<text x="306.3" y="817.6" font-family='"Liberation Sans", sans-serif' font-size="14.8" font-weight="bold" text-anchor="middle" >160</text>
<text x="372.0" y="817.6" font-family='"Liberation Sans", sans-serif' font-size="14.8" font-weight="bold" text-anchor="middle" >158</text>
<text x="437.7" y="817.6" font-family='"Liberation Sans", sans-serif' font-size="14.8" font-weight="bold" text-anchor="middle" >156</text>
<text x="256.55" y="836.1" font-family='"Liberation Serif", serif' font-size="21.2" font-weight="bold" text-anchor="middle" textLength="182.8" lengthAdjust="spacingAndGlyphs" >Binding Energy (ev)</text>
<text transform="translate(32.6,607.05) rotate(-90)" font-family='"Liberation Serif", serif' font-size="21.2" font-weight="bold" text-anchor="middle" textLength="134.3" lengthAdjust="spacingAndGlyphs">Intensity (a.u.)</text>
<text transform="translate(5.62,490.23) scale(0.984,1.089)" font-family='"Liberation Sans", sans-serif' font-size="38.4" font-weight="bold">C</text>
<text transform="translate(51.90,474.10) scale(0.999,0.964)" font-family='"Liberation Serif", serif' font-size="21" font-weight="bold" text-anchor="start">BiOBr/Zn<tspan font-weight="normal">@</tspan>SnO<tspan font-size="14.7" dy="6.3">2</tspan></text>
<text transform="translate(420.98,473.90) scale(1.065,1.036)" font-family='"Liberation Serif", serif' font-size="21" font-weight="bold">Bi4f</text>
<polygon points="44.00,736.07 44.50,736.07 45.00,736.08 45.50,736.08 46.00,736.08 46.50,736.09 47.00,736.09 47.50,736.09 48.00,736.09 48.50,736.09 49.00,736.10 49.50,736.10 50.00,736.10 50.50,736.10 51.00,736.10 51.50,736.10 52.00,736.10 52.50,736.10 53.00,736.10 53.50,736.10 54.00,736.10 54.50,736.10 55.00,736.10 55.50,736.10 56.00,736.10 56.50,736.10 57.00,736.09 57.50,736.09 58.00,736.09 58.50,736.09 59.00,736.08 59.50,736.08 60.00,736.08 60.50,736.07 61.00,736.07 61.50,736.06 62.00,736.06 62.50,736.05 63.00,736.05 63.50,736.04 64.00,736.04 64.50,736.03 65.00,736.02 65.50,736.02 66.00,736.01 66.50,736.00 67.00,735.99 67.50,735.98 68.00,735.98 68.50,735.97 69.00,735.96 69.50,735.95 70.00,735.94 70.50,735.92 71.00,735.91 71.50,735.90 72.00,735.89 72.50,735.88 73.00,735.86 73.50,735.85 74.00,735.83 74.50,735.82 75.00,735.80 75.50,735.79 76.00,735.77 76.50,735.76 77.00,735.74 77.50,735.72 78.00,735.70 78.50,735.68 79.00,735.66 79.50,735.64 80.00,735.62 80.50,735.60 81.00,735.58 81.50,735.56 82.00,735.53 82.50,735.51 83.00,735.48 83.50,735.46 84.00,735.43 84.50,735.41 85.00,735.38 85.50,735.35 86.00,735.32 86.50,735.29 87.00,735.26 87.50,735.23 88.00,735.20 88.50,735.16 89.00,735.13 89.50,735.09 90.00,735.06 90.50,735.02 91.00,734.98 91.50,734.94 92.00,734.90 92.50,734.86 93.00,734.82 93.50,734.77 94.00,734.73 94.50,734.68 95.00,734.64 95.50,734.59 96.00,734.54 96.50,734.49 97.00,734.44 97.50,734.38 98.00,734.33 98.50,734.27 99.00,734.21 99.50,734.16 100.00,734.09 100.50,734.03 101.00,733.97 101.50,733.90 102.00,733.84 102.50,733.77 103.00,733.70 103.50,733.62 104.00,733.55 104.50,733.47 105.00,733.39 105.50,733.31 106.00,733.23 106.50,733.15 107.00,733.06 107.50,732.97 108.00,732.88 108.50,732.78 109.00,732.69 109.50,732.59 110.00,732.49 110.50,732.38 111.00,732.27 111.50,732.16 112.00,732.05 112.50,731.93 113.00,731.81 113.50,731.69 114.00,731.56 114.50,731.43 115.00,731.29 115.50,731.15 116.00,731.01 116.50,730.86 117.00,730.71 117.50,730.55 118.00,730.38 118.50,730.22 119.00,730.04 119.50,729.86 120.00,729.68 120.50,729.48 121.00,729.28 121.50,729.08 122.00,728.86 122.50,728.64 123.00,728.41 123.50,728.17 124.00,727.92 124.50,727.66 125.00,727.39 125.50,727.11 126.00,726.82 126.50,726.51 127.00,726.19 127.50,725.86 128.00,725.51 128.50,725.14 129.00,724.76 129.50,724.36 130.00,723.94 130.50,723.50 131.00,723.04 131.50,722.56 132.00,722.05 132.50,721.52 133.00,720.96 133.50,720.38 134.00,719.76 134.50,719.11 135.00,718.43 135.50,717.71 136.00,716.96 136.50,716.17 137.00,715.33 137.50,714.46 138.00,713.54 138.50,712.57 139.00,711.55 139.50,710.49 140.00,709.37 140.50,708.19 141.00,706.96 141.50,705.66 142.00,704.31 142.50,702.89 143.00,701.40 143.50,699.85 144.00,698.23 144.50,696.53 145.00,694.76 145.50,692.91 146.00,690.99 146.50,688.98 147.00,686.90 147.50,684.73 148.00,682.48 148.50,680.14 149.00,677.72 149.50,675.21 150.00,672.61 150.50,669.93 151.00,667.16 151.50,664.31 152.00,661.37 152.50,658.34 153.00,655.24 153.50,652.05 154.00,648.78 154.50,645.44 155.00,642.02 155.50,638.54 156.00,634.98 156.50,631.37 157.00,627.71 157.50,624.00 158.00,620.24 158.50,616.46 159.00,612.64 159.50,608.82 160.00,604.98 160.50,601.16 161.00,597.35 161.50,593.58 162.00,589.86 162.50,586.19 163.00,582.61 163.50,579.12 164.00,575.75 164.50,572.51 165.00,569.42 165.50,566.50 166.00,563.77 166.50,561.25 167.00,558.95 167.50,556.90 168.00,555.11 168.50,553.60 169.00,552.38 169.50,551.45 170.00,550.83 170.50,550.52 171.00,550.53 171.50,550.85 172.00,551.49 172.50,552.43 173.00,553.67 173.50,555.20 174.00,557.00 174.50,559.07 175.00,561.38 175.50,563.92 176.00,566.66 176.50,569.60 177.00,572.71 177.50,575.97 178.00,579.36 178.50,582.87 179.00,586.47 179.50,590.16 180.00,593.90 180.50,597.70 181.00,601.53 181.50,605.37 182.00,609.23 182.50,613.08 183.00,616.91 183.50,620.72 184.00,624.50 184.50,628.23 185.00,631.92 185.50,635.56 186.00,639.13 186.50,642.64 187.00,646.08 187.50,649.44 188.00,652.74 188.50,655.95 189.00,659.08 189.50,662.13 190.00,665.09 190.50,667.97 191.00,670.76 191.50,673.47 192.00,676.08 192.50,678.62 193.00,681.06 193.50,683.42 194.00,685.70 194.50,687.89 195.00,690.00 195.50,692.02 196.00,693.97 196.50,695.84 197.00,697.63 197.50,699.35 198.00,701.00 198.50,702.57 199.00,704.08 199.50,705.52 200.00,706.90 200.50,708.21 201.00,709.46 201.50,710.66 202.00,711.80 202.50,712.89 203.00,713.93 203.50,714.91 204.00,715.85 204.50,716.75 205.00,717.60 205.50,718.41 206.00,719.19 206.50,719.92 207.00,720.62 207.50,721.29 208.00,721.93 208.50,722.53 209.00,723.11 209.50,723.66 210.00,724.18 210.50,724.68 211.00,725.16 211.50,725.62 212.00,726.05 212.50,726.47 213.00,726.87 213.50,727.25 214.00,727.61 214.50,727.96 215.00,728.30 215.50,728.62 216.00,728.93 216.50,729.22 217.00,729.51 217.50,729.78 218.00,730.04 218.50,730.30 219.00,730.54 219.50,730.78 220.00,731.01 220.50,731.23 221.00,731.44 221.50,731.64 222.00,731.84 222.50,732.03 223.00,732.22 223.50,732.40 224.00,732.57 224.50,732.74 225.00,732.91 225.50,733.06 226.00,733.22 226.50,733.37 227.00,733.51 227.50,733.65 228.00,733.79 228.50,733.92 229.00,734.05 229.50,734.18 230.00,734.30 230.50,734.42 231.00,734.53 231.50,734.64 232.00,734.75 232.50,734.86 233.00,734.96 233.50,735.06 234.00,735.15 234.50,735.25 235.00,735.34 235.50,735.43 236.00,735.51 236.50,735.59 237.00,735.67 237.50,735.75 238.00,735.83 238.50,735.90 239.00,735.97 239.50,736.04 240.00,736.11 240.50,736.17 241.00,736.23 241.50,736.29 242.00,736.35 242.50,736.41 243.00,736.46 243.50,736.51 244.00,736.56 244.50,736.61 245.00,736.65 245.50,736.70 246.00,736.74 246.50,736.78 247.00,736.82 247.50,736.85 248.00,736.89 248.50,736.92 249.00,736.95 249.50,736.98 250.00,737.01 250.50,737.03 251.00,737.06 251.50,737.08 252.00,737.10 252.50,737.12 253.00,737.14 253.50,737.15 254.00,737.16 254.50,737.18 255.00,737.18 255.50,737.19 256.00,737.20 256.50,737.20 257.00,737.21 257.50,737.21 258.00,737.21 258.50,737.20 259.00,737.20 259.50,737.19 260.00,737.19 260.50,737.18 261.00,737.17 261.50,737.15 262.00,737.14 262.50,737.12 263.00,737.10 263.50,737.08 264.00,737.06 264.50,737.03 265.00,737.01 265.50,736.98 266.00,736.95 266.50,736.92 267.00,736.88 267.50,736.85 268.00,736.81 268.50,736.77 269.00,736.72 269.50,736.68 270.00,736.63 270.50,736.58 271.00,736.53 271.50,736.48 272.00,736.42 272.50,736.36 273.00,736.30 273.50,736.23 274.00,736.17 274.50,736.10 275.00,736.03 275.50,735.95 276.00,735.87 276.50,735.79 277.00,735.71 277.50,735.63 278.00,735.54 278.50,735.44 279.00,735.35 279.50,735.25 280.00,735.15 280.50,735.04 281.00,734.93 281.50,734.82 282.00,734.71 282.50,734.59 283.00,734.46 283.50,734.34 284.00,734.20 284.50,734.07 285.00,733.93 285.50,733.78 286.00,733.63 286.50,733.48 287.00,733.32 287.50,733.15 288.00,732.98 288.50,732.81 289.00,732.62 289.50,732.44 290.00,732.24 290.50,732.04 291.00,731.84 291.50,731.62 292.00,731.40 292.50,731.17 293.00,730.93 293.50,730.69 294.00,730.43 294.50,730.17 295.00,729.90 295.50,729.61 296.00,729.32 296.50,729.01 297.00,728.70 297.50,728.37 298.00,728.02 298.50,727.67 299.00,727.30 299.50,726.91 300.00,726.51 300.50,726.09 301.00,725.65 301.50,725.20 302.00,724.72 302.50,724.23 303.00,723.71 303.50,723.16 304.00,722.60 304.50,722.00 305.00,721.38 305.50,720.73 306.00,720.05 306.50,719.34 307.00,718.59 307.50,717.81 308.00,716.99 308.50,716.13 309.00,715.23 309.50,714.29 310.00,713.30 310.50,712.27 311.00,711.18 311.50,710.04 312.00,708.85 312.50,707.60 313.00,706.29 313.50,704.92 314.00,703.48 314.50,701.98 315.00,700.41 315.50,698.77 316.00,697.05 316.50,695.26 317.00,693.38 317.50,691.43 318.00,689.39 318.50,687.26 319.00,685.05 319.50,682.74 320.00,680.35 320.50,677.85 321.00,675.26 321.50,672.57 322.00,669.78 322.50,666.89 323.00,663.90 323.50,660.80 324.00,657.60 324.50,654.29 325.00,650.88 325.50,647.36 326.00,643.74 326.50,640.01 327.00,636.18 327.50,632.25 328.00,628.22 328.50,624.09 329.00,619.87 329.50,615.56 330.00,611.16 330.50,606.68 331.00,602.12 331.50,597.50 332.00,592.81 332.50,588.08 333.00,583.29 333.50,578.47 334.00,573.63 334.50,568.78 335.00,563.93 335.50,559.10 336.00,554.31 336.50,549.56 337.00,544.88 337.50,540.30 338.00,535.82 338.50,531.47 339.00,527.28 339.50,523.26 340.00,519.45 340.50,515.86 341.00,512.52 341.50,509.44 342.00,506.66 342.50,504.20 343.00,502.06 343.50,500.28 344.00,498.86 344.50,497.82 345.00,497.16 345.50,496.89 346.00,497.02 346.50,497.54 347.00,498.44 347.50,499.73 348.00,501.39 348.50,503.41 349.00,505.77 349.50,508.45 350.00,511.43 350.50,514.70 351.00,518.22 351.50,521.98 352.00,525.95 352.50,530.12 353.00,534.44 353.50,538.91 354.00,543.50 354.50,548.18 355.00,552.95 355.50,557.78 356.00,562.64 356.50,567.54 357.00,572.44 357.50,577.34 358.00,582.22 358.50,587.07 359.00,591.89 359.50,596.65 360.00,601.36 360.50,606.00 361.00,610.57 361.50,615.06 362.00,619.46 362.50,623.78 363.00,628.01 363.50,632.14 364.00,636.17 364.50,640.10 365.00,643.93 365.50,647.66 366.00,651.28 366.50,654.79 367.00,658.20 367.50,661.51 368.00,664.71 368.50,667.81 369.00,670.80 369.50,673.69 370.00,676.48 370.50,679.17 371.00,681.76 371.50,684.26 372.00,686.66 372.50,688.97 373.00,691.19 373.50,693.33 374.00,695.38 374.50,697.34 375.00,699.23 375.50,701.03 376.00,702.77 376.50,704.42 377.00,706.01 377.50,707.53 378.00,708.99 378.50,710.38 379.00,711.71 379.50,712.99 380.00,714.21 380.50,715.37 381.00,716.49 381.50,717.55 382.00,718.57 382.50,719.55 383.00,720.48 383.50,721.37 384.00,722.23 384.50,723.05 385.00,723.83 385.50,724.58 386.00,725.30 386.50,725.99 387.00,726.65 387.50,727.29 388.00,727.90 388.50,728.48 389.00,729.04 389.50,729.59 390.00,730.11 390.50,730.61 391.00,731.09 391.50,731.56 392.00,732.01 392.50,732.45 393.00,732.87 393.50,733.27 394.00,733.66 394.50,734.04 395.00,734.41 395.50,734.77 396.00,735.12 396.50,735.45 397.00,735.78 397.50,736.10 398.00,736.40 398.50,736.70 399.00,737.00 399.50,737.28 400.00,737.56 400.50,737.83 401.00,738.09 401.50,738.35 402.00,738.60 402.50,738.84 403.00,739.08 403.50,739.31 404.00,739.54 404.50,739.77 405.00,739.98 405.50,740.20 406.00,740.41 406.50,740.61 407.00,740.81 407.50,741.01 408.00,741.20 408.50,741.39 409.00,741.57 409.50,741.76 410.00,741.93 410.50,742.11 411.00,742.28 411.50,742.45 412.00,742.61 412.50,742.77 413.00,742.93 413.50,743.09 414.00,743.24 414.50,743.39 415.00,743.54 415.50,743.69 416.00,743.83 416.50,743.97 417.00,744.11 417.50,744.25 418.00,744.38 418.50,744.51 419.00,744.64 419.50,744.77 420.00,744.89 420.50,745.02 421.00,745.14 421.50,745.26 422.00,745.38 422.50,745.49 423.00,745.61 423.50,745.72 424.00,745.83 424.50,745.94 425.00,746.05 425.50,746.16 426.00,746.26 426.50,746.37 427.00,746.47 427.50,746.57 428.00,746.67 428.50,746.77 429.00,746.86 429.50,746.96 430.00,747.05 430.50,747.15 431.00,747.24 431.50,747.33 432.00,747.42 432.50,747.51 433.00,747.59 433.50,747.68 434.00,747.77 434.50,747.85 435.00,747.93 435.50,748.01 436.00,748.10 436.50,748.18 437.00,748.26 437.50,748.33 438.00,748.41 438.50,748.49 439.00,748.56 439.50,748.64 440.00,748.71 440.50,748.79 441.00,748.86 441.50,748.93 442.00,749.00 442.50,749.07 443.00,749.14 443.50,749.21 444.00,749.28 444.50,749.35 445.00,749.41 445.50,749.48 446.00,749.54 446.50,749.61 447.00,749.67 447.50,749.74 448.00,749.80 448.50,749.86 449.00,749.92 449.50,749.98 450.00,750.04 450.50,750.10 451.00,750.16 451.50,750.22 452.00,750.28 452.50,750.34 453.00,750.40 453.50,750.45 454.00,750.51 454.50,750.57 455.00,750.62 455.50,750.68 456.00,750.73 456.50,750.79 457.00,750.84 457.50,750.89 458.00,750.95 458.50,751.00 459.00,751.05 459.50,751.10 460.00,751.15 460.50,751.20 461.00,751.26 461.50,751.31 462.00,751.36 462.50,751.40 463.00,751.45 463.50,751.50 464.00,751.55 464.50,751.60 465.00,751.65 465.50,751.69 466.00,751.74 466.50,751.79 467.00,751.83 467.50,751.88 468.00,751.93 468.50,751.97 469.00,752.02 469.50,752.06 470.00,752.11 470.00,755.42 469.50,755.40 469.00,755.38 468.50,755.36 468.00,755.34 467.50,755.32 467.00,755.30 466.50,755.28 466.00,755.26 465.50,755.24 465.00,755.22 464.50,755.20 464.00,755.18 463.50,755.16 463.00,755.14 462.50,755.12 462.00,755.10 461.50,755.08 461.00,755.06 460.50,755.04 460.00,755.02 459.50,755.00 459.00,754.98 458.50,754.96 458.00,754.94 457.50,754.92 457.00,754.90 456.50,754.88 456.00,754.86 455.50,754.84 455.00,754.82 454.50,754.80 454.00,754.78 453.50,754.76 453.00,754.74 452.50,754.72 452.00,754.70 451.50,754.68 451.00,754.66 450.50,754.64 450.00,754.62 449.50,754.60 449.00,754.58 448.50,754.56 448.00,754.54 447.50,754.52 447.00,754.50 446.50,754.48 446.00,754.46 445.50,754.44 445.00,754.42 444.50,754.40 444.00,754.38 443.50,754.36 443.00,754.34 442.50,754.32 442.00,754.30 441.50,754.28 441.00,754.26 440.50,754.24 440.00,754.22 439.50,754.20 439.00,754.18 438.50,754.16 438.00,754.14 437.50,754.12 437.00,754.10 436.50,754.08 436.00,754.06 435.50,754.04 435.00,754.02 434.50,754.00 434.00,753.98 433.50,753.96 433.00,753.94 432.50,753.92 432.00,753.90 431.50,753.88 431.00,753.86 430.50,753.84 430.00,753.82 429.50,753.80 429.00,753.79 428.50,753.77 428.00,753.75 427.50,753.73 427.00,753.71 426.50,753.69 426.00,753.67 425.50,753.65 425.00,753.63 424.50,753.61 424.00,753.59 423.50,753.57 423.00,753.55 422.50,753.53 422.00,753.51 421.50,753.49 421.00,753.47 420.50,753.45 420.00,753.43 419.50,753.41 419.00,753.39 418.50,753.37 418.00,753.35 417.50,753.33 417.00,753.31 416.50,753.29 416.00,753.27 415.50,753.25 415.00,753.23 414.50,753.21 414.00,753.19 413.50,753.17 413.00,753.15 412.50,753.13 412.00,753.11 411.50,753.09 411.00,753.07 410.50,753.05 410.00,753.03 409.50,753.01 409.00,752.99 408.50,752.97 408.00,752.95 407.50,752.93 407.00,752.91 406.50,752.89 406.00,752.87 405.50,752.85 405.00,752.83 404.50,752.81 404.00,752.79 403.50,752.77 403.00,752.75 402.50,752.73 402.00,752.71 401.50,752.69 401.00,752.67 400.50,752.65 400.00,752.63 399.50,752.61 399.00,752.59 398.50,752.57 398.00,752.55 397.50,752.53 397.00,752.51 396.50,752.49 396.00,752.47 395.50,752.45 395.00,752.43 394.50,752.41 394.00,752.39 393.50,752.37 393.00,752.35 392.50,752.33 392.00,752.31 391.50,752.29 391.00,752.27 390.50,752.25 390.00,752.23 389.50,752.21 389.00,752.19 388.50,752.17 388.00,752.15 387.50,752.13 387.00,752.11 386.50,752.09 386.00,752.07 385.50,752.05 385.00,752.03 384.50,752.01 384.00,751.99 383.50,751.97 383.00,751.95 382.50,751.93 382.00,751.91 381.50,751.89 381.00,751.87 380.50,751.85 380.00,751.83 379.50,751.81 379.00,751.80 378.50,751.78 378.00,751.76 377.50,751.74 377.00,751.72 376.50,751.70 376.00,751.68 375.50,751.66 375.00,751.64 374.50,751.62 374.00,751.60 373.50,751.58 373.00,751.56 372.50,751.54 372.00,751.52 371.50,751.50 371.00,751.48 370.50,751.46 370.00,751.44 369.50,751.42 369.00,751.40 368.50,751.38 368.00,751.36 367.50,751.34 367.00,751.32 366.50,751.30 366.00,751.28 365.50,751.26 365.00,751.24 364.50,751.22 364.00,751.20 363.50,751.18 363.00,751.16 362.50,751.14 362.00,751.12 361.50,751.10 361.00,751.08 360.50,751.06 360.00,751.04 359.50,751.02 359.00,751.00 358.50,750.98 358.00,750.96 357.50,750.94 357.00,750.92 356.50,750.90 356.00,750.88 355.50,750.86 355.00,750.84 354.50,750.82 354.00,750.80 353.50,750.78 353.00,750.76 352.50,750.74 352.00,750.72 351.50,750.70 351.00,750.68 350.50,750.66 350.00,750.64 349.50,750.62 349.00,750.60 348.50,750.58 348.00,750.56 347.50,750.54 347.00,750.52 346.50,750.50 346.00,750.48 345.50,750.46 345.00,750.44 344.50,750.42 344.00,750.40 343.50,750.38 343.00,750.36 342.50,750.34 342.00,750.32 341.50,750.30 341.00,750.28 340.50,750.26 340.00,750.24 339.50,750.22 339.00,750.20 338.50,750.18 338.00,750.16 337.50,750.14 337.00,750.12 336.50,750.10 336.00,750.08 335.50,750.06 335.00,750.04 334.50,750.02 334.00,750.00 333.50,749.98 333.00,749.96 332.50,749.94 332.00,749.92 331.50,749.90 331.00,749.88 330.50,749.86 330.00,749.84 329.50,749.82 329.00,749.81 328.50,749.79 328.00,749.77 327.50,749.75 327.00,749.73 326.50,749.71 326.00,749.69 325.50,749.67 325.00,749.65 324.50,749.63 324.00,749.61 323.50,749.59 323.00,749.57 322.50,749.55 322.00,749.53 321.50,749.51 321.00,749.49 320.50,749.47 320.00,749.45 319.50,749.43 319.00,749.41 318.50,749.39 318.00,749.37 317.50,749.35 317.00,749.33 316.50,749.31 316.00,749.29 315.50,749.27 315.00,749.25 314.50,749.23 314.00,749.21 313.50,749.19 313.00,749.17 312.50,749.15 312.00,749.13 311.50,749.11 311.00,749.09 310.50,749.07 310.00,749.05 309.50,749.03 309.00,749.01 308.50,748.99 308.00,748.97 307.50,748.95 307.00,748.93 306.50,748.91 306.00,748.89 305.50,748.87 305.00,748.85 304.50,748.83 304.00,748.81 303.50,748.79 303.00,748.77 302.50,748.75 302.00,748.73 301.50,748.71 301.00,748.69 300.50,748.67 300.00,748.65 299.50,748.63 299.00,748.61 298.50,748.59 298.00,748.57 297.50,748.55 297.00,748.53 296.50,748.51 296.00,748.49 295.50,748.47 295.00,748.45 294.50,748.43 294.00,748.41 293.50,748.39 293.00,748.37 292.50,748.35 292.00,748.33 291.50,748.31 291.00,748.29 290.50,748.27 290.00,748.25 289.50,748.23 289.00,748.21 288.50,748.19 288.00,748.17 287.50,748.15 287.00,748.13 286.50,748.11 286.00,748.09 285.50,748.07 285.00,748.05 284.50,748.03 284.00,748.01 283.50,747.99 283.00,747.97 282.50,747.95 282.00,747.93 281.50,747.91 281.00,747.89 280.50,747.87 280.00,747.85 279.50,747.83 279.00,747.82 278.50,747.80 278.00,747.78 277.50,747.76 277.00,747.74 276.50,747.72 276.00,747.70 275.50,747.68 275.00,747.66 274.50,747.64 274.00,747.62 273.50,747.60 273.00,747.58 272.50,747.56 272.00,747.54 271.50,747.52 271.00,747.50 270.50,747.48 270.00,747.46 269.50,747.44 269.00,747.42 268.50,747.40 268.00,747.38 267.50,747.36 267.00,747.34 266.50,747.32 266.00,747.30 265.50,747.28 265.00,747.26 264.50,747.24 264.00,747.22 263.50,747.20 263.00,747.18 262.50,747.16 262.00,747.14 261.50,747.12 261.00,747.10 260.50,747.08 260.00,747.06 259.50,747.04 259.00,747.02 258.50,747.00 258.00,746.98 257.50,746.96 257.00,746.94 256.50,746.92 256.00,746.90 255.50,746.88 255.00,746.86 254.50,746.84 254.00,746.82 253.50,746.80 253.00,746.78 252.50,746.76 252.00,746.74 251.50,746.72 251.00,746.70 250.50,746.68 250.00,746.66 249.50,746.64 249.00,746.62 248.50,746.60 248.00,746.58 247.50,746.56 247.00,746.54 246.50,746.52 246.00,746.50 245.50,746.48 245.00,746.46 244.50,746.44 244.00,746.42 243.50,746.40 243.00,746.38 242.50,746.36 242.00,746.34 241.50,746.32 241.00,746.30 240.50,746.28 240.00,746.26 239.50,746.24 239.00,746.22 238.50,746.20 238.00,746.18 237.50,746.16 237.00,746.14 236.50,746.12 236.00,746.10 235.50,746.08 235.00,746.06 234.50,746.04 234.00,746.02 233.50,746.00 233.00,745.98 232.50,745.96 232.00,745.94 231.50,745.92 231.00,745.90 230.50,745.88 230.00,745.86 229.50,745.84 229.00,745.83 228.50,745.81 228.00,745.79 227.50,745.77 227.00,745.75 226.50,745.73 226.00,745.71 225.50,745.69 225.00,745.67 224.50,745.65 224.00,745.63 223.50,745.61 223.00,745.59 222.50,745.57 222.00,745.55 221.50,745.53 221.00,745.51 220.50,745.49 220.00,745.47 219.50,745.45 219.00,745.43 218.50,745.41 218.00,745.39 217.50,745.37 217.00,745.35 216.50,745.33 216.00,745.31 215.50,745.29 215.00,745.27 214.50,745.25 214.00,745.23 213.50,745.21 213.00,745.19 212.50,745.17 212.00,745.15 211.50,745.13 211.00,745.11 210.50,745.09 210.00,745.07 209.50,745.05 209.00,745.03 208.50,745.01 208.00,744.99 207.50,744.97 207.00,744.95 206.50,744.93 206.00,744.91 205.50,744.89 205.00,744.87 204.50,744.85 204.00,744.83 203.50,744.81 203.00,744.79 202.50,744.77 202.00,744.75 201.50,744.73 201.00,744.71 200.50,744.69 200.00,744.67 199.50,744.65 199.00,744.63 198.50,744.61 198.00,744.59 197.50,744.57 197.00,744.55 196.50,744.53 196.00,744.51 195.50,744.49 195.00,744.47 194.50,744.45 194.00,744.43 193.50,744.41 193.00,744.39 192.50,744.37 192.00,744.35 191.50,744.33 191.00,744.31 190.50,744.29 190.00,744.27 189.50,744.25 189.00,744.23 188.50,744.21 188.00,744.19 187.50,744.17 187.00,744.15 186.50,744.13 186.00,744.11 185.50,744.09 185.00,744.07 184.50,744.05 184.00,744.03 183.50,744.01 183.00,743.99 182.50,743.97 182.00,743.95 181.50,743.93 181.00,743.91 180.50,743.89 180.00,743.87 179.50,743.85 179.00,743.84 178.50,743.82 178.00,743.80 177.50,743.78 177.00,743.76 176.50,743.74 176.00,743.72 175.50,743.70 175.00,743.68 174.50,743.66 174.00,743.64 173.50,743.62 173.00,743.60 172.50,743.58 172.00,743.56 171.50,743.54 171.00,743.52 170.50,743.50 170.00,743.48 169.50,743.46 169.00,743.44 168.50,743.42 168.00,743.40 167.50,743.38 167.00,743.36 166.50,743.34 166.00,743.32 165.50,743.30 165.00,743.28 164.50,743.26 164.00,743.24 163.50,743.22 163.00,743.20 162.50,743.18 162.00,743.16 161.50,743.14 161.00,743.12 160.50,743.10 160.00,743.08 159.50,743.06 159.00,743.04 158.50,743.02 158.00,743.00 157.50,742.98 157.00,742.96 156.50,742.94 156.00,742.92 155.50,742.90 155.00,742.88 154.50,742.86 154.00,742.84 153.50,742.82 153.00,742.80 152.50,742.78 152.00,742.76 151.50,742.74 151.00,742.72 150.50,742.70 150.00,742.68 149.50,742.66 149.00,742.64 148.50,742.62 148.00,742.60 147.50,742.58 147.00,742.56 146.50,742.54 146.00,742.52 145.50,742.50 145.00,742.48 144.50,742.46 144.00,742.44 143.50,742.42 143.00,742.40 142.50,742.38 142.00,742.36 141.50,742.34 141.00,742.32 140.50,742.30 140.00,742.28 139.50,742.26 139.00,742.24 138.50,742.22 138.00,742.20 137.50,742.18 137.00,742.16 136.50,742.14 136.00,742.12 135.50,742.10 135.00,742.08 134.50,742.06 134.00,742.04 133.50,742.02 133.00,742.00 132.50,741.98 132.00,741.96 131.50,741.94 131.00,741.92 130.50,741.90 130.00,741.88 129.50,741.86 129.00,741.85 128.50,741.83 128.00,741.81 127.50,741.79 127.00,741.77 126.50,741.75 126.00,741.73 125.50,741.71 125.00,741.69 124.50,741.67 124.00,741.65 123.50,741.63 123.00,741.61 122.50,741.59 122.00,741.57 121.50,741.55 121.00,741.53 120.50,741.51 120.00,741.49 119.50,741.47 119.00,741.45 118.50,741.43 118.00,741.41 117.50,741.39 117.00,741.37 116.50,741.35 116.00,741.33 115.50,741.31 115.00,741.29 114.50,741.27 114.00,741.25 113.50,741.23 113.00,741.21 112.50,741.19 112.00,741.17 111.50,741.15 111.00,741.13 110.50,741.11 110.00,741.09 109.50,741.07 109.00,741.05 108.50,741.03 108.00,741.01 107.50,740.99 107.00,740.97 106.50,740.95 106.00,740.93 105.50,740.91 105.00,740.89 104.50,740.87 104.00,740.85 103.50,740.83 103.00,740.81 102.50,740.79 102.00,740.77 101.50,740.75 101.00,740.73 100.50,740.71 100.00,740.69 99.50,740.67 99.00,740.65 98.50,740.63 98.00,740.61 97.50,740.59 97.00,740.57 96.50,740.55 96.00,740.53 95.50,740.51 95.00,740.49 94.50,740.47 94.00,740.45 93.50,740.43 93.00,740.41 92.50,740.39 92.00,740.37 91.50,740.35 91.00,740.33 90.50,740.31 90.00,740.29 89.50,740.27 89.00,740.25 88.50,740.23 88.00,740.21 87.50,740.19 87.00,740.17 86.50,740.15 86.00,740.13 85.50,740.11 85.00,740.09 84.50,740.07 84.00,740.05 83.50,740.03 83.00,740.01 82.50,739.99 82.00,739.97 81.50,739.95 81.00,739.93 80.50,739.91 80.00,739.89 79.50,739.87 79.00,739.86 78.50,739.84 78.00,739.82 77.50,739.80 77.00,739.78 76.50,739.76 76.00,739.74 75.50,739.72 75.00,739.70 74.50,739.68 74.00,739.66 73.50,739.64 73.00,739.62 72.50,739.60 72.00,739.58 71.50,739.56 71.00,739.54 70.50,739.52 70.00,739.50 69.50,739.48 69.00,739.46 68.50,739.44 68.00,739.42 67.50,739.40 67.00,739.38 66.50,739.36 66.00,739.34 65.50,739.32 65.00,739.30 64.50,739.28 64.00,739.26 63.50,739.24 63.00,739.22 62.50,739.20 62.00,739.18 61.50,739.16 61.00,739.14 60.50,739.12 60.00,739.10 59.50,739.08 59.00,739.06 58.50,739.04 58.00,739.02 57.50,739.00 57.00,738.98 56.50,738.96 56.00,738.94 55.50,738.92 55.00,738.90 54.50,738.88 54.00,738.86 53.50,738.84 53.00,738.82 52.50,738.80 52.00,738.78 51.50,738.76 51.00,738.74 50.50,738.72 50.00,738.70 49.50,738.68 49.00,738.66 48.50,738.64 48.00,738.62 47.50,738.60 47.00,738.58 46.50,738.56 46.00,738.54 45.50,738.52 45.00,738.50 44.50,738.48 44.00,738.46" fill="#e1f2fc" stroke="none"/>
<polyline points="44.00,736.07 44.50,736.07 45.00,736.08 45.50,736.08 46.00,736.08 46.50,736.09 47.00,736.09 47.50,736.09 48.00,736.09 48.50,736.09 49.00,736.10 49.50,736.10 50.00,736.10 50.50,736.10 51.00,736.10 51.50,736.10 52.00,736.10 52.50,736.10 53.00,736.10 53.50,736.10 54.00,736.10 54.50,736.10 55.00,736.10 55.50,736.10 56.00,736.10 56.50,736.10 57.00,736.09 57.50,736.09 58.00,736.09 58.50,736.09 59.00,736.08 59.50,736.08 60.00,736.08 60.50,736.07 61.00,736.07 61.50,736.06 62.00,736.06 62.50,736.05 63.00,736.05 63.50,736.04 64.00,736.04 64.50,736.03 65.00,736.02 65.50,736.02 66.00,736.01 66.50,736.00 67.00,735.99 67.50,735.98 68.00,735.98 68.50,735.97 69.00,735.96 69.50,735.95 70.00,735.94 70.50,735.92 71.00,735.91 71.50,735.90 72.00,735.89 72.50,735.88 73.00,735.86 73.50,735.85 74.00,735.83 74.50,735.82 75.00,735.80 75.50,735.79 76.00,735.77 76.50,735.76 77.00,735.74 77.50,735.72 78.00,735.70 78.50,735.68 79.00,735.66 79.50,735.64 80.00,735.62 80.50,735.60 81.00,735.58 81.50,735.56 82.00,735.53 82.50,735.51 83.00,735.48 83.50,735.46 84.00,735.43 84.50,735.41 85.00,735.38 85.50,735.35 86.00,735.32 86.50,735.29 87.00,735.26 87.50,735.23 88.00,735.20 88.50,735.16 89.00,735.13 89.50,735.09 90.00,735.06 90.50,735.02 91.00,734.98 91.50,734.94 92.00,734.90 92.50,734.86 93.00,734.82 93.50,734.77 94.00,734.73 94.50,734.68 95.00,734.64 95.50,734.59 96.00,734.54 96.50,734.49 97.00,734.44 97.50,734.38 98.00,734.33 98.50,734.27 99.00,734.21 99.50,734.16 100.00,734.09 100.50,734.03 101.00,733.97 101.50,733.90 102.00,733.84 102.50,733.77 103.00,733.70 103.50,733.62 104.00,733.55 104.50,733.47 105.00,733.39 105.50,733.31 106.00,733.23 106.50,733.15 107.00,733.06 107.50,732.97 108.00,732.88 108.50,732.78 109.00,732.69 109.50,732.59 110.00,732.49 110.50,732.38 111.00,732.27 111.50,732.16 112.00,732.05 112.50,731.93 113.00,731.81 113.50,731.69 114.00,731.56 114.50,731.43 115.00,731.29 115.50,731.15 116.00,731.01 116.50,730.86 117.00,730.71 117.50,730.55 118.00,730.38 118.50,730.22 119.00,730.04 119.50,729.86 120.00,729.68 120.50,729.48 121.00,729.28 121.50,729.08 122.00,728.86 122.50,728.64 123.00,728.41 123.50,728.17 124.00,727.92 124.50,727.66 125.00,727.39 125.50,727.11 126.00,726.82 126.50,726.51 127.00,726.19 127.50,725.86 128.00,725.51 128.50,725.14 129.00,724.76 129.50,724.36 130.00,723.94 130.50,723.50 131.00,723.04 131.50,722.56 132.00,722.05 132.50,721.52 133.00,720.96 133.50,720.38 134.00,719.76 134.50,719.11 135.00,718.43 135.50,717.71 136.00,716.96 136.50,716.17 137.00,715.33 137.50,714.46 138.00,713.54 138.50,712.57 139.00,711.55 139.50,710.49 140.00,709.37 140.50,708.19 141.00,706.96 141.50,705.66 142.00,704.31 142.50,702.89 143.00,701.40 143.50,699.85 144.00,698.23 144.50,696.53 145.00,694.76 145.50,692.91 146.00,690.99 146.50,688.98 147.00,686.90 147.50,684.73 148.00,682.48 148.50,680.14 149.00,677.72 149.50,675.21 150.00,672.61 150.50,669.93 151.00,667.16 151.50,664.31 152.00,661.37 152.50,658.34 153.00,655.24 153.50,652.05 154.00,648.78 154.50,645.44 155.00,642.02 155.50,638.54 156.00,634.98 156.50,631.37 157.00,627.71 157.50,624.00 158.00,620.24 158.50,616.46 159.00,612.64 159.50,608.82 160.00,604.98 160.50,601.16 161.00,597.35 161.50,593.58 162.00,589.86 162.50,586.19 163.00,582.61 163.50,579.12 164.00,575.75 164.50,572.51 165.00,569.42 165.50,566.50 166.00,563.77 166.50,561.25 167.00,558.95 167.50,556.90 168.00,555.11 168.50,553.60 169.00,552.38 169.50,551.45 170.00,550.83 170.50,550.52 171.00,550.53 171.50,550.85 172.00,551.49 172.50,552.43 173.00,553.67 173.50,555.20 174.00,557.00 174.50,559.07 175.00,561.38 175.50,563.92 176.00,566.66 176.50,569.60 177.00,572.71 177.50,575.97 178.00,579.36 178.50,582.87 179.00,586.47 179.50,590.16 180.00,593.90 180.50,597.70 181.00,601.53 181.50,605.37 182.00,609.23 182.50,613.08 183.00,616.91 183.50,620.72 184.00,624.50 184.50,628.23 185.00,631.92 185.50,635.56 186.00,639.13 186.50,642.64 187.00,646.08 187.50,649.44 188.00,652.74 188.50,655.95 189.00,659.08 189.50,662.13 190.00,665.09 190.50,667.97 191.00,670.76 191.50,673.47 192.00,676.08 192.50,678.62 193.00,681.06 193.50,683.42 194.00,685.70 194.50,687.89 195.00,690.00 195.50,692.02 196.00,693.97 196.50,695.84 197.00,697.63 197.50,699.35 198.00,701.00 198.50,702.57 199.00,704.08 199.50,705.52 200.00,706.90 200.50,708.21 201.00,709.46 201.50,710.66 202.00,711.80 202.50,712.89 203.00,713.93 203.50,714.91 204.00,715.85 204.50,716.75 205.00,717.60 205.50,718.41 206.00,719.19 206.50,719.92 207.00,720.62 207.50,721.29 208.00,721.93 208.50,722.53 209.00,723.11 209.50,723.66 210.00,724.18 210.50,724.68 211.00,725.16 211.50,725.62 212.00,726.05 212.50,726.47 213.00,726.87 213.50,727.25 214.00,727.61 214.50,727.96 215.00,728.30 215.50,728.62 216.00,728.93 216.50,729.22 217.00,729.51 217.50,729.78 218.00,730.04 218.50,730.30 219.00,730.54 219.50,730.78 220.00,731.01 220.50,731.23 221.00,731.44 221.50,731.64 222.00,731.84 222.50,732.03 223.00,732.22 223.50,732.40 224.00,732.57 224.50,732.74 225.00,732.91 225.50,733.06 226.00,733.22 226.50,733.37 227.00,733.51 227.50,733.65 228.00,733.79 228.50,733.92 229.00,734.05 229.50,734.18 230.00,734.30 230.50,734.42 231.00,734.53 231.50,734.64 232.00,734.75 232.50,734.86 233.00,734.96 233.50,735.06 234.00,735.15 234.50,735.25 235.00,735.34 235.50,735.43 236.00,735.51 236.50,735.59 237.00,735.67 237.50,735.75 238.00,735.83 238.50,735.90 239.00,735.97 239.50,736.04 240.00,736.11 240.50,736.17 241.00,736.23 241.50,736.29 242.00,736.35 242.50,736.41 243.00,736.46 243.50,736.51 244.00,736.56 244.50,736.61 245.00,736.65 245.50,736.70 246.00,736.74 246.50,736.78 247.00,736.82 247.50,736.85 248.00,736.89 248.50,736.92 249.00,736.95 249.50,736.98 250.00,737.01 250.50,737.03 251.00,737.06 251.50,737.08 252.00,737.10 252.50,737.12 253.00,737.14 253.50,737.15 254.00,737.16 254.50,737.18 255.00,737.18 255.50,737.19 256.00,737.20 256.50,737.20 257.00,737.21 257.50,737.21 258.00,737.21 258.50,737.20 259.00,737.20 259.50,737.19 260.00,737.19 260.50,737.18 261.00,737.17 261.50,737.15 262.00,737.14 262.50,737.12 263.00,737.10 263.50,737.08 264.00,737.06 264.50,737.03 265.00,737.01 265.50,736.98 266.00,736.95 266.50,736.92 267.00,736.88 267.50,736.85 268.00,736.81 268.50,736.77 269.00,736.72 269.50,736.68 270.00,736.63 270.50,736.58 271.00,736.53 271.50,736.48 272.00,736.42 272.50,736.36 273.00,736.30 273.50,736.23 274.00,736.17 274.50,736.10 275.00,736.03 275.50,735.95 276.00,735.87 276.50,735.79 277.00,735.71 277.50,735.63 278.00,735.54 278.50,735.44 279.00,735.35 279.50,735.25 280.00,735.15 280.50,735.04 281.00,734.93 281.50,734.82 282.00,734.71 282.50,734.59 283.00,734.46 283.50,734.34 284.00,734.20 284.50,734.07 285.00,733.93 285.50,733.78 286.00,733.63 286.50,733.48 287.00,733.32 287.50,733.15 288.00,732.98 288.50,732.81 289.00,732.62 289.50,732.44 290.00,732.24 290.50,732.04 291.00,731.84 291.50,731.62 292.00,731.40 292.50,731.17 293.00,730.93 293.50,730.69 294.00,730.43 294.50,730.17 295.00,729.90 295.50,729.61 296.00,729.32 296.50,729.01 297.00,728.70 297.50,728.37 298.00,728.02 298.50,727.67 299.00,727.30 299.50,726.91 300.00,726.51 300.50,726.09 301.00,725.65 301.50,725.20 302.00,724.72 302.50,724.23 303.00,723.71 303.50,723.16 304.00,722.60 304.50,722.00 305.00,721.38 305.50,720.73 306.00,720.05 306.50,719.34 307.00,718.59 307.50,717.81 308.00,716.99 308.50,716.13 309.00,715.23 309.50,714.29 310.00,713.30 310.50,712.27 311.00,711.18 311.50,710.04 312.00,708.85 312.50,707.60 313.00,706.29 313.50,704.92 314.00,703.48 314.50,701.98 315.00,700.41 315.50,698.77 316.00,697.05 316.50,695.26 317.00,693.38 317.50,691.43 318.00,689.39 318.50,687.26 319.00,685.05 319.50,682.74 320.00,680.35 320.50,677.85 321.00,675.26 321.50,672.57 322.00,669.78 322.50,666.89 323.00,663.90 323.50,660.80 324.00,657.60 324.50,654.29 325.00,650.88 325.50,647.36 326.00,643.74 326.50,640.01 327.00,636.18 327.50,632.25 328.00,628.22 328.50,624.09 329.00,619.87 329.50,615.56 330.00,611.16 330.50,606.68 331.00,602.12 331.50,597.50 332.00,592.81 332.50,588.08 333.00,583.29 333.50,578.47 334.00,573.63 334.50,568.78 335.00,563.93 335.50,559.10 336.00,554.31 336.50,549.56 337.00,544.88 337.50,540.30 338.00,535.82 338.50,531.47 339.00,527.28 339.50,523.26 340.00,519.45 340.50,515.86 341.00,512.52 341.50,509.44 342.00,506.66 342.50,504.20 343.00,502.06 343.50,500.28 344.00,498.86 344.50,497.82 345.00,497.16 345.50,496.89 346.00,497.02 346.50,497.54 347.00,498.44 347.50,499.73 348.00,501.39 348.50,503.41 349.00,505.77 349.50,508.45 350.00,511.43 350.50,514.70 351.00,518.22 351.50,521.98 352.00,525.95 352.50,530.12 353.00,534.44 353.50,538.91 354.00,543.50 354.50,548.18 355.00,552.95 355.50,557.78 356.00,562.64 356.50,567.54 357.00,572.44 357.50,577.34 358.00,582.22 358.50,587.07 359.00,591.89 359.50,596.65 360.00,601.36 360.50,606.00 361.00,610.57 361.50,615.06 362.00,619.46 362.50,623.78 363.00,628.01 363.50,632.14 364.00,636.17 364.50,640.10 365.00,643.93 365.50,647.66 366.00,651.28 366.50,654.79 367.00,658.20 367.50,661.51 368.00,664.71 368.50,667.81 369.00,670.80 369.50,673.69 370.00,676.48 370.50,679.17 371.00,681.76 371.50,684.26 372.00,686.66 372.50,688.97 373.00,691.19 373.50,693.33 374.00,695.38 374.50,697.34 375.00,699.23 375.50,701.03 376.00,702.77 376.50,704.42 377.00,706.01 377.50,707.53 378.00,708.99 378.50,710.38 379.00,711.71 379.50,712.99 380.00,714.21 380.50,715.37 381.00,716.49 381.50,717.55 382.00,718.57 382.50,719.55 383.00,720.48 383.50,721.37 384.00,722.23 384.50,723.05 385.00,723.83 385.50,724.58 386.00,725.30 386.50,725.99 387.00,726.65 387.50,727.29 388.00,727.90 388.50,728.48 389.00,729.04 389.50,729.59 390.00,730.11 390.50,730.61 391.00,731.09 391.50,731.56 392.00,732.01 392.50,732.45 393.00,732.87 393.50,733.27 394.00,733.66 394.50,734.04 395.00,734.41 395.50,734.77 396.00,735.12 396.50,735.45 397.00,735.78 397.50,736.10 398.00,736.40 398.50,736.70 399.00,737.00 399.50,737.28 400.00,737.56 400.50,737.83 401.00,738.09 401.50,738.35 402.00,738.60 402.50,738.84 403.00,739.08 403.50,739.31 404.00,739.54 404.50,739.77 405.00,739.98 405.50,740.20 406.00,740.41 406.50,740.61 407.00,740.81 407.50,741.01 408.00,741.20 408.50,741.39 409.00,741.57 409.50,741.76 410.00,741.93 410.50,742.11 411.00,742.28 411.50,742.45 412.00,742.61 412.50,742.77 413.00,742.93 413.50,743.09 414.00,743.24 414.50,743.39 415.00,743.54 415.50,743.69 416.00,743.83 416.50,743.97 417.00,744.11 417.50,744.25 418.00,744.38 418.50,744.51 419.00,744.64 419.50,744.77 420.00,744.89 420.50,745.02 421.00,745.14 421.50,745.26 422.00,745.38 422.50,745.49 423.00,745.61 423.50,745.72 424.00,745.83 424.50,745.94 425.00,746.05 425.50,746.16 426.00,746.26 426.50,746.37 427.00,746.47 427.50,746.57 428.00,746.67 428.50,746.77 429.00,746.86 429.50,746.96 430.00,747.05 430.50,747.15 431.00,747.24 431.50,747.33 432.00,747.42 432.50,747.51 433.00,747.59 433.50,747.68 434.00,747.77 434.50,747.85 435.00,747.93 435.50,748.01 436.00,748.10 436.50,748.18 437.00,748.26 437.50,748.33 438.00,748.41 438.50,748.49 439.00,748.56 439.50,748.64 440.00,748.71 440.50,748.79 441.00,748.86 441.50,748.93 442.00,749.00 442.50,749.07 443.00,749.14 443.50,749.21 444.00,749.28 444.50,749.35 445.00,749.41 445.50,749.48 446.00,749.54 446.50,749.61 447.00,749.67 447.50,749.74 448.00,749.80 448.50,749.86 449.00,749.92 449.50,749.98 450.00,750.04 450.50,750.10 451.00,750.16 451.50,750.22 452.00,750.28 452.50,750.34 453.00,750.40 453.50,750.45 454.00,750.51 454.50,750.57 455.00,750.62 455.50,750.68 456.00,750.73 456.50,750.79 457.00,750.84 457.50,750.89 458.00,750.95 458.50,751.00 459.00,751.05 459.50,751.10 460.00,751.15 460.50,751.20 461.00,751.26 461.50,751.31 462.00,751.36 462.50,751.40 463.00,751.45 463.50,751.50 464.00,751.55 464.50,751.60 465.00,751.65 465.50,751.69 466.00,751.74 466.50,751.79 467.00,751.83 467.50,751.88 468.00,751.93 468.50,751.97 469.00,752.02 469.50,752.06 470.00,752.11" fill="none" stroke="#b6cfe6" stroke-width="1"/>
<polyline points="44.00,738.46 44.50,738.48 45.00,738.50 45.50,738.52 46.00,738.54 46.50,738.56 47.00,738.58 47.50,738.60 48.00,738.62 48.50,738.64 49.00,738.66 49.50,738.68 50.00,738.70 50.50,738.72 51.00,738.74 51.50,738.76 52.00,738.78 52.50,738.80 53.00,738.82 53.50,738.84 54.00,738.86 54.50,738.88 55.00,738.90 55.50,738.92 56.00,738.94 56.50,738.96 57.00,738.98 57.50,739.00 58.00,739.02 58.50,739.04 59.00,739.06 59.50,739.08 60.00,739.10 60.50,739.12 61.00,739.14 61.50,739.16 62.00,739.18 62.50,739.20 63.00,739.22 63.50,739.24 64.00,739.26 64.50,739.28 65.00,739.30 65.50,739.32 66.00,739.34 66.50,739.36 67.00,739.38 67.50,739.40 68.00,739.42 68.50,739.44 69.00,739.46 69.50,739.48 70.00,739.50 70.50,739.52 71.00,739.54 71.50,739.56 72.00,739.58 72.50,739.60 73.00,739.62 73.50,739.64 74.00,739.66 74.50,739.68 75.00,739.70 75.50,739.72 76.00,739.74 76.50,739.76 77.00,739.78 77.50,739.80 78.00,739.82 78.50,739.84 79.00,739.86 79.50,739.87 80.00,739.89 80.50,739.91 81.00,739.93 81.50,739.95 82.00,739.97 82.50,739.99 83.00,740.01 83.50,740.03 84.00,740.05 84.50,740.07 85.00,740.09 85.50,740.11 86.00,740.13 86.50,740.15 87.00,740.17 87.50,740.19 88.00,740.21 88.50,740.23 89.00,740.25 89.50,740.27 90.00,740.29 90.50,740.31 91.00,740.33 91.50,740.35 92.00,740.37 92.50,740.39 93.00,740.41 93.50,740.43 94.00,740.45 94.50,740.47 95.00,740.49 95.50,740.51 96.00,740.53 96.50,740.55 97.00,740.57 97.50,740.59 98.00,740.61 98.50,740.63 99.00,740.65 99.50,740.67 100.00,740.69 100.50,740.71 101.00,740.73 101.50,740.75 102.00,740.77 102.50,740.79 103.00,740.81 103.50,740.83 104.00,740.85 104.50,740.87 105.00,740.89 105.50,740.91 106.00,740.93 106.50,740.95 107.00,740.97 107.50,740.99 108.00,741.01 108.50,741.03 109.00,741.05 109.50,741.07 110.00,741.09 110.50,741.11 111.00,741.13 111.50,741.15 112.00,741.17 112.50,741.19 113.00,741.21 113.50,741.23 114.00,741.25 114.50,741.27 115.00,741.29 115.50,741.31 116.00,741.33 116.50,741.35 117.00,741.37 117.50,741.39 118.00,741.41 118.50,741.43 119.00,741.45 119.50,741.47 120.00,741.49 120.50,741.51 121.00,741.53 121.50,741.55 122.00,741.57 122.50,741.59 123.00,741.61 123.50,741.63 124.00,741.65 124.50,741.67 125.00,741.69 125.50,741.71 126.00,741.73 126.50,741.75 127.00,741.77 127.50,741.79 128.00,741.81 128.50,741.83 129.00,741.85 129.50,741.86 130.00,741.88 130.50,741.90 131.00,741.92 131.50,741.94 132.00,741.96 132.50,741.98 133.00,742.00 133.50,742.02 134.00,742.04 134.50,742.06 135.00,742.08 135.50,742.10 136.00,742.12 136.50,742.14 137.00,742.16 137.50,742.18 138.00,742.20 138.50,742.22 139.00,742.24 139.50,742.26 140.00,742.28 140.50,742.30 141.00,742.32 141.50,742.34 142.00,742.36 142.50,742.38 143.00,742.40 143.50,742.42 144.00,742.44 144.50,742.46 145.00,742.48 145.50,742.50 146.00,742.52 146.50,742.54 147.00,742.56 147.50,742.58 148.00,742.60 148.50,742.62 149.00,742.64 149.50,742.66 150.00,742.68 150.50,742.70 151.00,742.72 151.50,742.74 152.00,742.76 152.50,742.78 153.00,742.80 153.50,742.82 154.00,742.84 154.50,742.86 155.00,742.88 155.50,742.90 156.00,742.92 156.50,742.94 157.00,742.96 157.50,742.98 158.00,743.00 158.50,743.02 159.00,743.04 159.50,743.06 160.00,743.08 160.50,743.10 161.00,743.12 161.50,743.14 162.00,743.16 162.50,743.18 163.00,743.20 163.50,743.22 164.00,743.24 164.50,743.26 165.00,743.28 165.50,743.30 166.00,743.32 166.50,743.34 167.00,743.36 167.50,743.38 168.00,743.40 168.50,743.42 169.00,743.44 169.50,743.46 170.00,743.48 170.50,743.50 171.00,743.52 171.50,743.54 172.00,743.56 172.50,743.58 173.00,743.60 173.50,743.62 174.00,743.64 174.50,743.66 175.00,743.68 175.50,743.70 176.00,743.72 176.50,743.74 177.00,743.76 177.50,743.78 178.00,743.80 178.50,743.82 179.00,743.84 179.50,743.85 180.00,743.87 180.50,743.89 181.00,743.91 181.50,743.93 182.00,743.95 182.50,743.97 183.00,743.99 183.50,744.01 184.00,744.03 184.50,744.05 185.00,744.07 185.50,744.09 186.00,744.11 186.50,744.13 187.00,744.15 187.50,744.17 188.00,744.19 188.50,744.21 189.00,744.23 189.50,744.25 190.00,744.27 190.50,744.29 191.00,744.31 191.50,744.33 192.00,744.35 192.50,744.37 193.00,744.39 193.50,744.41 194.00,744.43 194.50,744.45 195.00,744.47 195.50,744.49 196.00,744.51 196.50,744.53 197.00,744.55 197.50,744.57 198.00,744.59 198.50,744.61 199.00,744.63 199.50,744.65 200.00,744.67 200.50,744.69 201.00,744.71 201.50,744.73 202.00,744.75 202.50,744.77 203.00,744.79 203.50,744.81 204.00,744.83 204.50,744.85 205.00,744.87 205.50,744.89 206.00,744.91 206.50,744.93 207.00,744.95 207.50,744.97 208.00,744.99 208.50,745.01 209.00,745.03 209.50,745.05 210.00,745.07 210.50,745.09 211.00,745.11 211.50,745.13 212.00,745.15 212.50,745.17 213.00,745.19 213.50,745.21 214.00,745.23 214.50,745.25 215.00,745.27 215.50,745.29 216.00,745.31 216.50,745.33 217.00,745.35 217.50,745.37 218.00,745.39 218.50,745.41 219.00,745.43 219.50,745.45 220.00,745.47 220.50,745.49 221.00,745.51 221.50,745.53 222.00,745.55 222.50,745.57 223.00,745.59 223.50,745.61 224.00,745.63 224.50,745.65 225.00,745.67 225.50,745.69 226.00,745.71 226.50,745.73 227.00,745.75 227.50,745.77 228.00,745.79 228.50,745.81 229.00,745.83 229.50,745.84 230.00,745.86 230.50,745.88 231.00,745.90 231.50,745.92 232.00,745.94 232.50,745.96 233.00,745.98 233.50,746.00 234.00,746.02 234.50,746.04 235.00,746.06 235.50,746.08 236.00,746.10 236.50,746.12 237.00,746.14 237.50,746.16 238.00,746.18 238.50,746.20 239.00,746.22 239.50,746.24 240.00,746.26 240.50,746.28 241.00,746.30 241.50,746.32 242.00,746.34 242.50,746.36 243.00,746.38 243.50,746.40 244.00,746.42 244.50,746.44 245.00,746.46 245.50,746.48 246.00,746.50 246.50,746.52 247.00,746.54 247.50,746.56 248.00,746.58 248.50,746.60 249.00,746.62 249.50,746.64 250.00,746.66 250.50,746.68 251.00,746.70 251.50,746.72 252.00,746.74 252.50,746.76 253.00,746.78 253.50,746.80 254.00,746.82 254.50,746.84 255.00,746.86 255.50,746.88 256.00,746.90 256.50,746.92 257.00,746.94 257.50,746.96 258.00,746.98 258.50,747.00 259.00,747.02 259.50,747.04 260.00,747.06 260.50,747.08 261.00,747.10 261.50,747.12 262.00,747.14 262.50,747.16 263.00,747.18 263.50,747.20 264.00,747.22 264.50,747.24 265.00,747.26 265.50,747.28 266.00,747.30 266.50,747.32 267.00,747.34 267.50,747.36 268.00,747.38 268.50,747.40 269.00,747.42 269.50,747.44 270.00,747.46 270.50,747.48 271.00,747.50 271.50,747.52 272.00,747.54 272.50,747.56 273.00,747.58 273.50,747.60 274.00,747.62 274.50,747.64 275.00,747.66 275.50,747.68 276.00,747.70 276.50,747.72 277.00,747.74 277.50,747.76 278.00,747.78 278.50,747.80 279.00,747.82 279.50,747.83 280.00,747.85 280.50,747.87 281.00,747.89 281.50,747.91 282.00,747.93 282.50,747.95 283.00,747.97 283.50,747.99 284.00,748.01 284.50,748.03 285.00,748.05 285.50,748.07 286.00,748.09 286.50,748.11 287.00,748.13 287.50,748.15 288.00,748.17 288.50,748.19 289.00,748.21 289.50,748.23 290.00,748.25 290.50,748.27 291.00,748.29 291.50,748.31 292.00,748.33 292.50,748.35 293.00,748.37 293.50,748.39 294.00,748.41 294.50,748.43 295.00,748.45 295.50,748.47 296.00,748.49 296.50,748.51 297.00,748.53 297.50,748.55 298.00,748.57 298.50,748.59 299.00,748.61 299.50,748.63 300.00,748.65 300.50,748.67 301.00,748.69 301.50,748.71 302.00,748.73 302.50,748.75 303.00,748.77 303.50,748.79 304.00,748.81 304.50,748.83 305.00,748.85 305.50,748.87 306.00,748.89 306.50,748.91 307.00,748.93 307.50,748.95 308.00,748.97 308.50,748.99 309.00,749.01 309.50,749.03 310.00,749.05 310.50,749.07 311.00,749.09 311.50,749.11 312.00,749.13 312.50,749.15 313.00,749.17 313.50,749.19 314.00,749.21 314.50,749.23 315.00,749.25 315.50,749.27 316.00,749.29 316.50,749.31 317.00,749.33 317.50,749.35 318.00,749.37 318.50,749.39 319.00,749.41 319.50,749.43 320.00,749.45 320.50,749.47 321.00,749.49 321.50,749.51 322.00,749.53 322.50,749.55 323.00,749.57 323.50,749.59 324.00,749.61 324.50,749.63 325.00,749.65 325.50,749.67 326.00,749.69 326.50,749.71 327.00,749.73 327.50,749.75 328.00,749.77 328.50,749.79 329.00,749.81 329.50,749.82 330.00,749.84 330.50,749.86 331.00,749.88 331.50,749.90 332.00,749.92 332.50,749.94 333.00,749.96 333.50,749.98 334.00,750.00 334.50,750.02 335.00,750.04 335.50,750.06 336.00,750.08 336.50,750.10 337.00,750.12 337.50,750.14 338.00,750.16 338.50,750.18 339.00,750.20 339.50,750.22 340.00,750.24 340.50,750.26 341.00,750.28 341.50,750.30 342.00,750.32 342.50,750.34 343.00,750.36 343.50,750.38 344.00,750.40 344.50,750.42 345.00,750.44 345.50,750.46 346.00,750.48 346.50,750.50 347.00,750.52 347.50,750.54 348.00,750.56 348.50,750.58 349.00,750.60 349.50,750.62 350.00,750.64 350.50,750.66 351.00,750.68 351.50,750.70 352.00,750.72 352.50,750.74 353.00,750.76 353.50,750.78 354.00,750.80 354.50,750.82 355.00,750.84 355.50,750.86 356.00,750.88 356.50,750.90 357.00,750.92 357.50,750.94 358.00,750.96 358.50,750.98 359.00,751.00 359.50,751.02 360.00,751.04 360.50,751.06 361.00,751.08 361.50,751.10 362.00,751.12 362.50,751.14 363.00,751.16 363.50,751.18 364.00,751.20 364.50,751.22 365.00,751.24 365.50,751.26 366.00,751.28 366.50,751.30 367.00,751.32 367.50,751.34 368.00,751.36 368.50,751.38 369.00,751.40 369.50,751.42 370.00,751.44 370.50,751.46 371.00,751.48 371.50,751.50 372.00,751.52 372.50,751.54 373.00,751.56 373.50,751.58 374.00,751.60 374.50,751.62 375.00,751.64 375.50,751.66 376.00,751.68 376.50,751.70 377.00,751.72 377.50,751.74 378.00,751.76 378.50,751.78 379.00,751.80 379.50,751.81 380.00,751.83 380.50,751.85 381.00,751.87 381.50,751.89 382.00,751.91 382.50,751.93 383.00,751.95 383.50,751.97 384.00,751.99 384.50,752.01 385.00,752.03 385.50,752.05 386.00,752.07 386.50,752.09 387.00,752.11 387.50,752.13 388.00,752.15 388.50,752.17 389.00,752.19 389.50,752.21 390.00,752.23 390.50,752.25 391.00,752.27 391.50,752.29 392.00,752.31 392.50,752.33 393.00,752.35 393.50,752.37 394.00,752.39 394.50,752.41 395.00,752.43 395.50,752.45 396.00,752.47 396.50,752.49 397.00,752.51 397.50,752.53 398.00,752.55 398.50,752.57 399.00,752.59 399.50,752.61 400.00,752.63 400.50,752.65 401.00,752.67 401.50,752.69 402.00,752.71 402.50,752.73 403.00,752.75 403.50,752.77 404.00,752.79 404.50,752.81 405.00,752.83 405.50,752.85 406.00,752.87 406.50,752.89 407.00,752.91 407.50,752.93 408.00,752.95 408.50,752.97 409.00,752.99 409.50,753.01 410.00,753.03 410.50,753.05 411.00,753.07 411.50,753.09 412.00,753.11 412.50,753.13 413.00,753.15 413.50,753.17 414.00,753.19 414.50,753.21 415.00,753.23 415.50,753.25 416.00,753.27 416.50,753.29 417.00,753.31 417.50,753.33 418.00,753.35 418.50,753.37 419.00,753.39 419.50,753.41 420.00,753.43 420.50,753.45 421.00,753.47 421.50,753.49 422.00,753.51 422.50,753.53 423.00,753.55 423.50,753.57 424.00,753.59 424.50,753.61 425.00,753.63 425.50,753.65 426.00,753.67 426.50,753.69 427.00,753.71 427.50,753.73 428.00,753.75 428.50,753.77 429.00,753.79 429.50,753.80 430.00,753.82 430.50,753.84 431.00,753.86 431.50,753.88 432.00,753.90 432.50,753.92 433.00,753.94 433.50,753.96 434.00,753.98 434.50,754.00 435.00,754.02 435.50,754.04 436.00,754.06 436.50,754.08 437.00,754.10 437.50,754.12 438.00,754.14 438.50,754.16 439.00,754.18 439.50,754.20 440.00,754.22 440.50,754.24 441.00,754.26 441.50,754.28 442.00,754.30 442.50,754.32 443.00,754.34 443.50,754.36 444.00,754.38 444.50,754.40 445.00,754.42 445.50,754.44 446.00,754.46 446.50,754.48 447.00,754.50 447.50,754.52 448.00,754.54 448.50,754.56 449.00,754.58 449.50,754.60 450.00,754.62 450.50,754.64 451.00,754.66 451.50,754.68 452.00,754.70 452.50,754.72 453.00,754.74 453.50,754.76 454.00,754.78 454.50,754.80 455.00,754.82 455.50,754.84 456.00,754.86 456.50,754.88 457.00,754.90 457.50,754.92 458.00,754.94 458.50,754.96 459.00,754.98 459.50,755.00 460.00,755.02 460.50,755.04 461.00,755.06 461.50,755.08 462.00,755.10 462.50,755.12 463.00,755.14 463.50,755.16 464.00,755.18 464.50,755.20 465.00,755.22 465.50,755.24 466.00,755.26 466.50,755.28 467.00,755.30 467.50,755.32 468.00,755.34 468.50,755.36 469.00,755.38 469.50,755.40 470.00,755.42" fill="none" stroke="#c3d7ea" stroke-width="0.8"/>
<polyline points="44.00,741.39 44.50,741.47 45.00,741.56 45.50,741.64 46.00,741.73 46.50,741.81 47.00,741.90 47.50,741.98 48.00,742.06 48.50,742.14 49.00,742.22 49.50,742.29 50.00,742.37 50.50,742.45 51.00,742.52 51.50,742.59 52.00,742.66 52.50,742.73 53.00,742.79 53.50,742.85 54.00,742.92 54.50,742.97 55.00,743.03 55.50,743.08 56.00,743.14 56.50,743.18 57.00,743.23 57.50,743.27 58.00,743.31 58.50,743.35 59.00,743.38 59.50,743.41 60.00,743.44 60.50,743.47 61.00,743.49 61.50,743.52 62.00,743.54 62.50,743.57 63.00,743.59 63.50,743.61 64.00,743.64 64.50,743.66 65.00,743.68 65.50,743.70 66.00,743.72 66.50,743.74 67.00,743.75 67.50,743.77 68.00,743.79 68.50,743.81 69.00,743.83 69.50,743.84 70.00,743.86 70.50,743.88 71.00,743.90 71.50,743.92 72.00,743.93 72.50,743.95 73.00,743.97 73.50,743.99 74.00,744.01 74.50,744.03 75.00,744.05 75.50,744.07 76.00,744.09 76.50,744.11 77.00,744.13 77.50,744.15 78.00,744.18 78.50,744.20 79.00,744.23 79.50,744.26 80.00,744.29 80.50,744.33 81.00,744.38 81.50,744.43 82.00,744.48 82.50,744.53 83.00,744.58 83.50,744.64 84.00,744.70 84.50,744.76 85.00,744.82 85.50,744.89 86.00,744.95 86.50,745.01 87.00,745.07 87.50,745.14 88.00,745.20 88.50,745.26 89.00,745.32 89.50,745.37 90.00,745.43 90.50,745.48 91.00,745.53 91.50,745.58 92.00,745.62 92.50,745.66 93.00,745.70 93.50,745.73 94.00,745.75 94.50,745.77 95.00,745.79 95.50,745.80 96.00,745.80 96.50,745.80 97.00,745.80 97.50,745.80 98.00,745.80 98.50,745.79 99.00,745.79 99.50,745.78 100.00,745.77 100.50,745.77 101.00,745.76 101.50,745.74 102.00,745.73 102.50,745.72 103.00,745.70 103.50,745.69 104.00,745.67 104.50,745.65 105.00,745.63 105.50,745.61 106.00,745.59 106.50,745.56 107.00,745.54 107.50,745.51 108.00,745.48 108.50,745.45 109.00,745.42 109.50,745.38 110.00,745.32 110.50,745.22 111.00,745.10 111.50,744.95 112.00,744.78 112.50,744.60 113.00,744.40 113.50,744.18 114.00,743.96 114.50,743.73 115.00,743.50 115.50,743.27 116.00,743.04 116.50,742.81 117.00,742.60 117.50,742.40 118.00,742.22 118.50,742.05 119.00,741.90 119.50,741.76 120.00,741.62 120.50,741.47 121.00,741.31 121.50,741.15 122.00,740.99 122.50,740.82 123.00,740.64 123.50,740.45 124.00,740.26 124.50,740.05 125.00,739.84 125.50,739.62 126.00,739.39 126.50,739.15 127.00,738.90 127.50,738.63 128.00,738.35 128.50,738.06 129.00,737.75 129.50,737.41 130.00,737.05 130.50,736.66 131.00,736.24 131.50,735.79 132.00,735.30 132.50,734.78 133.00,734.22 133.50,733.62 134.00,732.97 134.50,732.29 135.00,731.55 135.50,730.77 136.00,729.93 136.50,729.04 137.00,728.16 137.50,727.27 138.00,726.38 138.50,725.46 139.00,724.50 139.50,723.49 140.00,722.42 140.50,721.26 141.00,720.02 141.50,718.67 142.00,717.21 142.50,715.64 143.00,713.99 143.50,712.26 144.00,710.45 144.50,708.53 145.00,706.50 145.50,704.35 146.00,702.06 146.50,699.64 147.00,697.07 147.50,694.33 148.00,691.42 148.50,688.37 149.00,685.19 149.50,681.90 150.00,678.54 150.50,675.12 151.00,671.66 151.50,668.19 152.00,664.72 152.50,661.26 153.00,657.79 153.50,654.29 154.00,650.75 154.50,647.17 155.00,643.52 155.50,639.80 156.00,636.00 156.50,632.10 157.00,628.14 157.50,624.16 158.00,620.18 158.50,616.19 159.00,612.22 159.50,608.26 160.00,604.34 160.50,600.46 161.00,596.62 161.50,592.85 162.00,589.05 162.50,585.23 163.00,581.44 163.50,577.74 164.00,574.19 164.50,570.84 165.00,567.75 165.50,564.97 166.00,562.52 166.50,560.34 167.00,558.41 167.50,556.68 168.00,555.11 168.50,553.66 169.00,552.31 169.50,551.17 170.00,550.24 170.50,549.53 171.00,549.03 171.50,548.73 172.00,548.65 172.50,548.78 173.00,549.12 173.50,549.68 174.00,550.47 174.50,551.48 175.00,552.72 175.50,554.13 176.00,555.71 176.50,557.49 177.00,559.46 177.50,561.65 178.00,564.05 178.50,566.68 179.00,569.49 179.50,572.46 180.00,575.57 180.50,578.83 181.00,582.19 181.50,585.67 182.00,589.23 182.50,592.86 183.00,596.55 183.50,600.26 184.00,603.99 184.50,607.75 185.00,611.56 185.50,615.41 186.00,619.32 186.50,623.31 187.00,627.56 187.50,632.07 188.00,636.74 188.50,641.46 189.00,646.11 189.50,650.59 190.00,654.77 190.50,658.59 191.00,662.22 191.50,665.72 192.00,669.10 192.50,672.37 193.00,675.54 193.50,678.62 194.00,681.62 194.50,684.56 195.00,687.43 195.50,690.24 196.00,692.93 196.50,695.53 197.00,698.03 197.50,700.45 198.00,702.79 198.50,705.05 199.00,707.26 199.50,709.41 200.00,711.52 200.50,713.63 201.00,715.73 201.50,717.83 202.00,719.88 202.50,721.89 203.00,723.82 203.50,725.67 204.00,727.41 204.50,729.02 205.00,730.50 205.50,731.82 206.00,732.97 206.50,733.98 207.00,734.85 207.50,735.62 208.00,736.30 208.50,736.91 209.00,737.46 209.50,737.97 210.00,738.46 210.50,738.95 211.00,739.46 211.50,740.00 212.00,740.55 212.50,741.07 213.00,741.56 213.50,742.02 214.00,742.46 214.50,742.88 215.00,743.27 215.50,743.64 216.00,744.00 216.50,744.33 217.00,744.65 217.50,744.95 218.00,745.24 218.50,745.51 219.00,745.77 219.50,746.01 220.00,746.24 220.50,746.46 221.00,746.66 221.50,746.86 222.00,747.04 222.50,747.23 223.00,747.41 223.50,747.58 224.00,747.75 224.50,747.92 225.00,748.08 225.50,748.24 226.00,748.40 226.50,748.55 227.00,748.70 227.50,748.85 228.00,749.00 228.50,749.14 229.00,749.28 229.50,749.41 230.00,749.54 230.50,749.67 231.00,749.80 231.50,749.92 232.00,750.04 232.50,750.16 233.00,750.27 233.50,750.38 234.00,750.48 234.50,750.58 235.00,750.68 235.50,750.77 236.00,750.87 236.50,750.96 237.00,751.05 237.50,751.14 238.00,751.23 238.50,751.32 239.00,751.41 239.50,751.50 240.00,751.58 240.50,751.67 241.00,751.75 241.50,751.83 242.00,751.91 242.50,751.99 243.00,752.07 243.50,752.15 244.00,752.22 244.50,752.29 245.00,752.36 245.50,752.43 246.00,752.50 246.50,752.56 247.00,752.62 247.50,752.68 248.00,752.74 248.50,752.80 249.00,752.85 249.50,752.90 250.00,752.95 250.50,752.99 251.00,753.03 251.50,753.07 252.00,753.11 252.50,753.14 253.00,753.18 253.50,753.21 254.00,753.24 254.50,753.27 255.00,753.30 255.50,753.33 256.00,753.36 256.50,753.39 257.00,753.42 257.50,753.44 258.00,753.47 258.50,753.49 259.00,753.51 259.50,753.53 260.00,753.55 260.50,753.57 261.00,753.58 261.50,753.60 262.00,753.61 262.50,753.62 263.00,753.63 263.50,753.64 264.00,753.64 264.50,753.64 265.00,753.64 265.50,753.64 266.00,753.64 266.50,753.63 267.00,753.62 267.50,753.61 268.00,753.60 268.50,753.58 269.00,753.56 269.50,753.53 270.00,753.50 270.50,753.46 271.00,753.42 271.50,753.37 272.00,753.32 272.50,753.26 273.00,753.20 273.50,753.14 274.00,753.07 274.50,753.00 275.00,752.93 275.50,752.85 276.00,752.77 276.50,752.69 277.00,752.61 277.50,752.52 278.00,752.43 278.50,752.34 279.00,752.25 279.50,752.16 280.00,752.06 280.50,751.96 281.00,751.87 281.50,751.77 282.00,751.67 282.50,751.56 283.00,751.46 283.50,751.36 284.00,751.26 284.50,751.16 285.00,751.05 285.50,750.95 286.00,750.84 286.50,750.73 287.00,750.62 287.50,750.50 288.00,750.39 288.50,750.26 289.00,750.13 289.50,750.00 290.00,749.86 290.50,749.72 291.00,749.56 291.50,749.40 292.00,749.23 292.50,749.06 293.00,748.87 293.50,748.67 294.00,748.46 294.50,748.24 295.00,748.00 295.50,747.73 296.00,747.42 296.50,747.06 297.00,746.67 297.50,746.24 298.00,745.78 298.50,745.29 299.00,744.77 299.50,744.24 300.00,743.69 300.50,743.12 301.00,742.54 301.50,741.95 302.00,741.36 302.50,740.77 303.00,740.17 303.50,739.58 304.00,739.00 304.50,738.40 305.00,737.78 305.50,737.11 306.00,736.42 306.50,735.69 307.00,734.92 307.50,734.11 308.00,733.26 308.50,732.37 309.00,731.44 309.50,730.47 310.00,729.44 310.50,728.37 311.00,727.24 311.50,726.06 312.00,724.80 312.50,723.48 313.00,722.09 313.50,720.61 314.00,719.06 314.50,717.42 315.00,715.70 315.50,713.88 316.00,711.97 316.50,709.97 317.00,707.86 317.50,705.65 318.00,703.35 318.50,700.97 319.00,698.51 319.50,695.95 320.00,693.30 320.50,690.54 321.00,687.67 321.50,684.69 322.00,681.58 322.50,678.35 323.00,674.98 323.50,671.49 324.00,667.90 324.50,664.20 325.00,660.39 325.50,656.47 326.00,652.41 326.50,648.23 327.00,643.90 327.50,639.43 328.00,634.81 328.50,630.06 329.00,625.19 329.50,620.23 330.00,615.19 330.50,610.09 331.00,604.95 331.50,599.80 332.00,594.65 332.50,589.53 333.00,584.41 333.50,579.32 334.00,574.24 334.50,569.20 335.00,564.20 335.50,559.25 336.00,554.35 336.50,549.51 337.00,544.74 337.50,539.98 338.00,535.28 338.50,530.67 339.00,526.20 339.50,521.91 340.00,517.85 340.50,514.06 341.00,510.59 341.50,507.47 342.00,504.72 342.50,502.32 343.00,500.27 343.50,498.55 344.00,497.15 344.50,496.06 345.00,495.26 345.50,494.74 346.00,494.49 346.50,494.57 347.00,494.99 347.50,495.75 348.00,496.83 348.50,498.22 349.00,499.92 349.50,501.78 350.00,503.56 350.50,505.40 351.00,507.44 351.50,509.79 352.00,512.60 352.50,516.00 353.00,520.03 353.50,524.55 354.00,529.42 354.50,534.49 355.00,539.62 355.50,544.67 356.00,549.52 356.50,554.37 357.00,559.26 357.50,564.20 358.00,569.19 358.50,574.21 359.00,579.27 359.50,584.37 360.00,589.50 360.50,594.67 361.00,599.83 361.50,604.97 362.00,610.08 362.50,615.14 363.00,620.15 363.50,625.09 364.00,629.97 364.50,634.76 365.00,639.47 365.50,644.09 366.00,648.62 366.50,653.05 367.00,657.37 367.50,661.60 368.00,665.71 368.50,669.72 369.00,673.62 369.50,677.40 370.00,681.11 370.50,684.72 371.00,688.24 371.50,691.66 372.00,694.96 372.50,698.13 373.00,701.18 373.50,704.09 374.00,706.85 374.50,709.46 375.00,711.90 375.50,714.16 376.00,716.25 376.50,718.16 377.00,719.93 377.50,721.57 378.00,723.10 378.50,724.53 379.00,725.88 379.50,727.17 380.00,728.43 380.50,729.66 381.00,730.85 381.50,731.99 382.00,733.05 382.50,734.05 383.00,735.00 383.50,735.88 384.00,736.72 384.50,737.51 385.00,738.25 385.50,738.95 386.00,739.61 386.50,740.24 387.00,740.83 387.50,741.40 388.00,741.93 388.50,742.45 389.00,742.94 389.50,743.41 390.00,743.86 390.50,744.28 391.00,744.69 391.50,745.06 392.00,745.42 392.50,745.76 393.00,746.08 393.50,746.39 394.00,746.68 394.50,746.95 395.00,747.21 395.50,747.46 396.00,747.70 396.50,747.93 397.00,748.14 397.50,748.35 398.00,748.55 398.50,748.74 399.00,748.92 399.50,749.10 400.00,749.27 400.50,749.43 401.00,749.59 401.50,749.74 402.00,749.89 402.50,750.03 403.00,750.17 403.50,750.31 404.00,750.44 404.50,750.57 405.00,750.69 405.50,750.81 406.00,750.93 406.50,751.05 407.00,751.16 407.50,751.27 408.00,751.38 408.50,751.48 409.00,751.59 409.50,751.69 410.00,751.79 410.50,751.88 411.00,751.98 411.50,752.07 412.00,752.16 412.50,752.26 413.00,752.34 413.50,752.43 414.00,752.52 414.50,752.60 415.00,752.68 415.50,752.77 416.00,752.85 416.50,752.92 417.00,753.00 417.50,753.08 418.00,753.16 418.50,753.23 419.00,753.30 419.50,753.38 420.00,753.45 420.50,753.52 421.00,753.59 421.50,753.65 422.00,753.72 422.50,753.79 423.00,753.85 423.50,753.92 424.00,753.98 424.50,754.05 425.00,754.11 425.50,754.17 426.00,754.23 426.50,754.29 427.00,754.35 427.50,754.41 428.00,754.47 428.50,754.52 429.00,754.58 429.50,754.64 430.00,754.69 430.50,754.74 431.00,754.80 431.50,754.85 432.00,754.90 432.50,754.96 433.00,755.01 433.50,755.06 434.00,755.11 434.50,755.16 435.00,755.21 435.50,755.26 436.00,755.31 436.50,755.35 437.00,755.40 437.50,755.45 438.00,755.50 438.50,755.54 439.00,755.59 439.50,755.63 440.00,755.68 440.50,755.72 441.00,755.77 441.50,755.81 442.00,755.85 442.50,755.89 443.00,755.94 443.50,755.98 444.00,756.02 444.50,756.06 445.00,756.10 445.50,756.14 446.00,756.18 446.50,756.22 447.00,756.25 447.50,756.29 448.00,756.33 448.50,756.37 449.00,756.40 449.50,756.44 450.00,756.47 450.50,756.51 451.00,756.54 451.50,756.58 452.00,756.61 452.50,756.64 453.00,756.68 453.50,756.71 454.00,756.74 454.50,756.77 455.00,756.81 455.50,756.84 456.00,756.87 456.50,756.90 457.00,756.93 457.50,756.96 458.00,756.99 458.50,757.02 459.00,757.05 459.50,757.08 460.00,757.10 460.50,757.13 461.00,757.16 461.50,757.19 462.00,757.22 462.50,757.24 463.00,757.27 463.50,757.30 464.00,757.32 464.50,757.35 465.00,757.38 465.50,757.40 466.00,757.43 466.50,757.45 467.00,757.48 467.50,757.50 468.00,757.53 468.50,757.55 469.00,757.58 469.50,757.60 470.00,757.62" fill="none" stroke="#d8070a" stroke-width="2.1" stroke-linejoin="round"/>
<line x1="43" y1="741" x2="470" y2="758" stroke="#ffb300" stroke-width="2"/>
<rect x="702" y="448" width="424.4000000000001" height="346" fill="none" stroke="#000" stroke-width="2.2"/>
<line x1="702.0" y1="794" x2="702.0" y2="800" stroke="#000" stroke-width="2.2"/>
<line x1="823.24" y1="794" x2="823.24" y2="800" stroke="#000" stroke-width="2.2"/>
<line x1="944.48" y1="794" x2="944.48" y2="800" stroke="#000" stroke-width="2.2"/>
<line x1="1065.72" y1="794" x2="1065.72" y2="800" stroke="#000" stroke-width="2.2"/>
<text x="702.0" y="816.9" font-family='"Liberation Sans", sans-serif' font-size="14.8" font-weight="bold" text-anchor="middle" >76</text>
<text x="823.2" y="816.9" font-family='"Liberation Sans", sans-serif' font-size="14.8" font-weight="bold" text-anchor="middle" >72</text>
<text x="944.5" y="816.9" font-family='"Liberation Sans", sans-serif' font-size="14.8" font-weight="bold" text-anchor="middle" >68</text>
<text x="1065.7" y="816.9" font-family='"Liberation Sans", sans-serif' font-size="14.8" font-weight="bold" text-anchor="middle" >64</text>
<text x="905.35" y="835.3" font-family='"Liberation Serif", serif' font-size="21.2" font-weight="bold" text-anchor="middle" textLength="181.6" lengthAdjust="spacingAndGlyphs" >Binding Energy (ev)</text>
<text transform="translate(686.5,614.05) rotate(-90)" font-family='"Liberation Serif", serif' font-size="21.2" font-weight="bold" text-anchor="middle" textLength="134.3" lengthAdjust="spacingAndGlyphs">Intensity (a.u.)</text>
<text transform="translate(666.43,489.60) scale(0.988,1.018)" font-family='"Liberation Sans", sans-serif' font-size="38.4" font-weight="bold">D</text>
<text transform="translate(709.20,477.10) scale(1.000,1.020)" font-family='"Liberation Serif", serif' font-size="21" font-weight="bold" text-anchor="start">BiOBr/Zn<tspan font-weight="normal">@</tspan>SnO<tspan font-size="14.7" dy="6.3">2</tspan></text>
<text transform="translate(1072.02,478.10) scale(0.962,1.036)" font-family='"Liberation Serif", serif' font-size="21" font-weight="bold">Br3d</text>
<polygon points="703.00,737.66 703.50,737.67 704.00,737.68 704.50,737.69 705.00,737.71 705.50,737.72 706.00,737.73 706.50,737.75 707.00,737.76 707.50,737.77 708.00,737.78 708.50,737.80 709.00,737.81 709.50,737.82 710.00,737.83 710.50,737.85 711.00,737.86 711.50,737.87 712.00,737.88 712.50,737.90 713.00,737.91 713.50,737.92 714.00,737.93 714.50,737.95 715.00,737.96 715.50,737.97 716.00,737.98 716.50,738.00 717.00,738.01 717.50,738.02 718.00,738.03 718.50,738.05 719.00,738.06 719.50,738.07 720.00,738.08 720.50,738.10 721.00,738.11 721.50,738.12 722.00,738.13 722.50,738.15 723.00,738.16 723.50,738.17 724.00,738.18 724.50,738.19 725.00,738.21 725.50,738.22 726.00,738.23 726.50,738.24 727.00,738.26 727.50,738.27 728.00,738.28 728.50,738.29 729.00,738.30 729.50,738.32 730.00,738.33 730.50,738.34 731.00,738.35 731.50,738.36 732.00,738.38 732.50,738.39 733.00,738.40 733.50,738.41 734.00,738.43 734.50,738.44 735.00,738.45 735.50,738.46 736.00,738.47 736.50,738.48 737.00,738.50 737.50,738.51 738.00,738.52 738.50,738.53 739.00,738.54 739.50,738.56 740.00,738.57 740.50,738.58 741.00,738.59 741.50,738.60 742.00,738.61 742.50,738.63 743.00,738.64 743.50,738.65 744.00,738.66 744.50,738.67 745.00,738.68 745.50,738.70 746.00,738.71 746.50,738.72 747.00,738.73 747.50,738.74 748.00,738.75 748.50,738.77 749.00,738.78 749.50,738.79 750.00,738.80 750.50,738.81 751.00,738.82 751.50,738.83 752.00,738.85 752.50,738.86 753.00,738.87 753.50,738.88 754.00,738.89 754.50,738.90 755.00,738.91 755.50,738.92 756.00,738.94 756.50,738.95 757.00,738.96 757.50,738.97 758.00,738.98 758.50,738.99 759.00,739.00 759.50,739.01 760.00,739.02 760.50,739.03 761.00,739.05 761.50,739.06 762.00,739.07 762.50,739.08 763.00,739.09 763.50,739.10 764.00,739.11 764.50,739.12 765.00,739.13 765.50,739.14 766.00,739.15 766.50,739.16 767.00,739.17 767.50,739.18 768.00,739.20 768.50,739.21 769.00,739.22 769.50,739.23 770.00,739.24 770.50,739.25 771.00,739.26 771.50,739.27 772.00,739.28 772.50,739.29 773.00,739.30 773.50,739.31 774.00,739.32 774.50,739.33 775.00,739.34 775.50,739.35 776.00,739.36 776.50,739.37 777.00,739.38 777.50,739.39 778.00,739.40 778.50,739.41 779.00,739.42 779.50,739.43 780.00,739.44 780.50,739.45 781.00,739.46 781.50,739.47 782.00,739.48 782.50,739.48 783.00,739.49 783.50,739.50 784.00,739.51 784.50,739.52 785.00,739.53 785.50,739.54 786.00,739.55 786.50,739.56 787.00,739.57 787.50,739.58 788.00,739.59 788.50,739.59 789.00,739.60 789.50,739.61 790.00,739.62 790.50,739.63 791.00,739.64 791.50,739.65 792.00,739.66 792.50,739.66 793.00,739.67 793.50,739.68 794.00,739.69 794.50,739.70 795.00,739.71 795.50,739.71 796.00,739.72 796.50,739.73 797.00,739.74 797.50,739.75 798.00,739.75 798.50,739.76 799.00,739.77 799.50,739.78 800.00,739.78 800.50,739.79 801.00,739.80 801.50,739.81 802.00,739.81 802.50,739.82 803.00,739.83 803.50,739.83 804.00,739.84 804.50,739.85 805.00,739.86 805.50,739.86 806.00,739.87 806.50,739.88 807.00,739.88 807.50,739.89 808.00,739.90 808.50,739.90 809.00,739.91 809.50,739.91 810.00,739.92 810.50,739.93 811.00,739.93 811.50,739.94 812.00,739.94 812.50,739.95 813.00,739.95 813.50,739.96 814.00,739.97 814.50,739.97 815.00,739.98 815.50,739.98 816.00,739.99 816.50,739.99 817.00,739.99 817.50,740.00 818.00,740.00 818.50,740.01 819.00,740.01 819.50,740.02 820.00,740.02 820.50,740.02 821.00,740.03 821.50,740.03 822.00,740.04 822.50,740.04 823.00,740.04 823.50,740.05 824.00,740.05 824.50,740.05 825.00,740.05 825.50,740.06 826.00,740.06 826.50,740.06 827.00,740.06 827.50,740.07 828.00,740.07 828.50,740.07 829.00,740.07 829.50,740.07 830.00,740.07 830.50,740.07 831.00,740.08 831.50,740.08 832.00,740.08 832.50,740.08 833.00,740.08 833.50,740.08 834.00,740.08 834.50,740.08 835.00,740.08 835.50,740.08 836.00,740.08 836.50,740.07 837.00,740.07 837.50,740.07 838.00,740.07 838.50,740.07 839.00,740.07 839.50,740.06 840.00,740.06 840.50,740.06 841.00,740.06 841.50,740.05 842.00,740.05 842.50,740.04 843.00,740.04 843.50,740.04 844.00,740.03 844.50,740.03 845.00,740.02 845.50,740.02 846.00,740.01 846.50,740.01 847.00,740.00 847.50,739.99 848.00,739.99 848.50,739.98 849.00,739.97 849.50,739.96 850.00,739.96 850.50,739.95 851.00,739.94 851.50,739.93 852.00,739.92 852.50,739.91 853.00,739.90 853.50,739.89 854.00,739.88 854.50,739.87 855.00,739.86 855.50,739.84 856.00,739.83 856.50,739.82 857.00,739.81 857.50,739.79 858.00,739.78 858.50,739.76 859.00,739.75 859.50,739.73 860.00,739.72 860.50,739.70 861.00,739.68 861.50,739.66 862.00,739.65 862.50,739.63 863.00,739.61 863.50,739.59 864.00,739.57 864.50,739.55 865.00,739.52 865.50,739.50 866.00,739.48 866.50,739.46 867.00,739.43 867.50,739.41 868.00,739.38 868.50,739.35 869.00,739.33 869.50,739.30 870.00,739.27 870.50,739.24 871.00,739.21 871.50,739.18 872.00,739.15 872.50,739.11 873.00,739.08 873.50,739.05 874.00,739.01 874.50,738.97 875.00,738.94 875.50,738.90 876.00,738.86 876.50,738.82 877.00,738.78 877.50,738.73 878.00,738.69 878.50,738.64 879.00,738.60 879.50,738.55 880.00,738.50 880.50,738.45 881.00,738.40 881.50,738.34 882.00,738.29 882.50,738.23 883.00,738.18 883.50,738.12 884.00,738.05 884.50,737.99 885.00,737.93 885.50,737.86 886.00,737.79 886.50,737.72 887.00,737.65 887.50,737.58 888.00,737.50 888.50,737.43 889.00,737.35 889.50,737.26 890.00,737.18 890.50,737.09 891.00,737.00 891.50,736.91 892.00,736.81 892.50,736.72 893.00,736.62 893.50,736.51 894.00,736.41 894.50,736.30 895.00,736.19 895.50,736.07 896.00,735.95 896.50,735.83 897.00,735.70 897.50,735.57 898.00,735.44 898.50,735.30 899.00,735.16 899.50,735.01 900.00,734.86 900.50,734.70 901.00,734.54 901.50,734.37 902.00,734.20 902.50,734.02 903.00,733.84 903.50,733.65 904.00,733.46 904.50,733.25 905.00,733.04 905.50,732.83 906.00,732.60 906.50,732.37 907.00,732.13 907.50,731.88 908.00,731.63 908.50,731.36 909.00,731.08 909.50,730.80 910.00,730.50 910.50,730.19 911.00,729.86 911.50,729.53 912.00,729.17 912.50,728.81 913.00,728.43 913.50,728.03 914.00,727.61 914.50,727.17 915.00,726.72 915.50,726.24 916.00,725.73 916.50,725.20 917.00,724.64 917.50,724.05 918.00,723.43 918.50,722.78 919.00,722.08 919.50,721.35 920.00,720.57 920.50,719.75 921.00,718.87 921.50,717.94 922.00,716.96 922.50,715.91 923.00,714.79 923.50,713.60 924.00,712.34 924.50,710.99 925.00,709.55 925.50,708.03 926.00,706.40 926.50,704.66 927.00,702.82 927.50,700.86 928.00,698.77 928.50,696.55 929.00,694.20 929.50,691.70 930.00,689.06 930.50,686.25 931.00,683.29 931.50,680.16 932.00,676.85 932.50,673.37 933.00,669.71 933.50,665.86 934.00,661.83 934.50,657.60 935.00,653.18 935.50,648.57 936.00,643.76 936.50,638.77 937.00,633.59 937.50,628.23 938.00,622.70 938.50,617.00 939.00,611.15 939.50,605.17 940.00,599.07 940.50,592.88 941.00,586.61 941.50,580.31 942.00,574.00 942.50,567.72 943.00,561.52 943.50,555.45 944.00,549.56 944.50,543.91 945.00,538.55 945.50,533.56 946.00,528.99 946.50,524.91 947.00,521.37 947.50,518.44 948.00,516.15 948.50,514.56 949.00,513.68 949.50,513.53 950.00,514.12 950.50,515.43 951.00,517.44 951.50,520.13 952.00,523.43 952.50,527.31 953.00,531.70 953.50,536.54 954.00,541.78 954.50,547.33 955.00,553.16 955.50,559.18 956.00,565.36 956.50,571.64 957.00,577.97 957.50,584.31 958.00,590.62 958.50,596.88 959.00,603.05 959.50,609.12 960.00,615.05 960.50,620.84 961.00,626.48 961.50,631.94 962.00,637.23 962.50,642.34 963.00,647.25 963.50,651.98 964.00,656.51 964.50,660.85 965.00,665.00 965.50,668.96 966.00,672.73 966.50,676.32 967.00,679.73 967.50,682.97 968.00,686.03 968.50,688.93 969.00,691.68 969.50,694.27 970.00,696.71 970.50,699.02 971.00,701.19 971.50,703.23 972.00,705.16 972.50,706.97 973.00,708.67 973.50,710.27 974.00,711.77 974.50,713.19 975.00,714.52 975.50,715.77 976.00,716.94 976.50,718.05 977.00,719.09 977.50,720.08 978.00,721.00 978.50,721.88 979.00,722.70 979.50,723.48 980.00,724.22 980.50,724.92 981.00,725.59 981.50,726.22 982.00,726.82 982.50,727.39 983.00,727.93 983.50,728.45 984.00,728.95 984.50,729.42 985.00,729.88 985.50,730.31 986.00,730.73 986.50,731.13 987.00,731.52 987.50,731.89 988.00,732.25 988.50,732.59 989.00,732.92 989.50,733.25 990.00,733.56 990.50,733.86 991.00,734.15 991.50,734.43 992.00,734.70 992.50,734.96 993.00,735.22 993.50,735.47 994.00,735.71 994.50,735.94 995.00,736.17 995.50,736.39 996.00,736.60 996.50,736.81 997.00,737.01 997.50,737.21 998.00,737.40 998.50,737.59 999.00,737.77 999.50,737.95 1000.00,738.12 1000.50,738.29 1001.00,738.46 1001.50,738.62 1002.00,738.77 1002.50,738.93 1003.00,739.08 1003.50,739.22 1004.00,739.36 1004.50,739.50 1005.00,739.64 1005.50,739.77 1006.00,739.90 1006.50,740.03 1007.00,740.15 1007.50,740.28 1008.00,740.39 1008.50,740.51 1009.00,740.63 1009.50,740.74 1010.00,740.85 1010.50,740.95 1011.00,741.06 1011.50,741.16 1012.00,741.26 1012.50,741.36 1013.00,741.46 1013.50,741.56 1014.00,741.65 1014.50,741.74 1015.00,741.83 1015.50,741.92 1016.00,742.01 1016.50,742.09 1017.00,742.18 1017.50,742.26 1018.00,742.34 1018.50,742.42 1019.00,742.50 1019.50,742.57 1020.00,742.65 1020.50,742.72 1021.00,742.80 1021.50,742.87 1022.00,742.94 1022.50,743.01 1023.00,743.08 1023.50,743.15 1024.00,743.21 1024.50,743.28 1025.00,743.34 1025.50,743.41 1026.00,743.47 1026.50,743.53 1027.00,743.59 1027.50,743.65 1028.00,743.71 1028.50,743.77 1029.00,743.83 1029.50,743.88 1030.00,743.94 1030.50,743.99 1031.00,744.05 1031.50,744.10 1032.00,744.16 1032.50,744.21 1033.00,744.26 1033.50,744.31 1034.00,744.36 1034.50,744.41 1035.00,744.46 1035.50,744.51 1036.00,744.56 1036.50,744.60 1037.00,744.65 1037.50,744.70 1038.00,744.74 1038.50,744.79 1039.00,744.83 1039.50,744.88 1040.00,744.92 1040.50,744.97 1041.00,745.01 1041.50,745.05 1042.00,745.09 1042.50,745.13 1043.00,745.18 1043.50,745.22 1044.00,745.26 1044.50,745.30 1045.00,745.34 1045.50,745.38 1046.00,745.41 1046.50,745.45 1047.00,745.49 1047.50,745.53 1048.00,745.57 1048.50,745.60 1049.00,745.64 1049.50,745.68 1050.00,745.71 1050.50,745.75 1051.00,745.78 1051.50,745.82 1052.00,745.85 1052.50,745.89 1053.00,745.92 1053.50,745.96 1054.00,745.99 1054.50,746.02 1055.00,746.06 1055.50,746.09 1056.00,746.12 1056.50,746.15 1057.00,746.19 1057.50,746.22 1058.00,746.25 1058.50,746.28 1059.00,746.31 1059.50,746.34 1060.00,746.37 1060.50,746.40 1061.00,746.43 1061.50,746.46 1062.00,746.49 1062.50,746.52 1063.00,746.55 1063.50,746.58 1064.00,746.61 1064.50,746.64 1065.00,746.67 1065.50,746.70 1066.00,746.73 1066.50,746.75 1067.00,746.78 1067.50,746.81 1068.00,746.84 1068.50,746.87 1069.00,746.89 1069.50,746.92 1070.00,746.95 1070.50,746.97 1071.00,747.00 1071.50,747.03 1072.00,747.05 1072.50,747.08 1073.00,747.11 1073.50,747.13 1074.00,747.16 1074.50,747.18 1075.00,747.21 1075.50,747.23 1076.00,747.26 1076.50,747.28 1077.00,747.31 1077.50,747.33 1078.00,747.36 1078.50,747.38 1079.00,747.41 1079.50,747.43 1080.00,747.46 1080.50,747.48 1081.00,747.50 1081.50,747.53 1082.00,747.55 1082.50,747.58 1083.00,747.60 1083.50,747.62 1084.00,747.65 1084.50,747.67 1085.00,747.69 1085.50,747.72 1086.00,747.74 1086.50,747.76 1087.00,747.79 1087.50,747.81 1088.00,747.83 1088.50,747.85 1089.00,747.88 1089.50,747.90 1090.00,747.92 1090.50,747.94 1091.00,747.97 1091.50,747.99 1092.00,748.01 1092.50,748.03 1093.00,748.05 1093.50,748.07 1094.00,748.10 1094.50,748.12 1095.00,748.14 1095.50,748.16 1096.00,748.18 1096.50,748.20 1097.00,748.22 1097.50,748.25 1098.00,748.27 1098.50,748.29 1099.00,748.31 1099.50,748.33 1100.00,748.35 1100.50,748.37 1101.00,748.39 1101.50,748.41 1102.00,748.43 1102.50,748.45 1103.00,748.47 1103.50,748.49 1104.00,748.52 1104.50,748.54 1105.00,748.56 1105.50,748.58 1106.00,748.60 1106.50,748.62 1107.00,748.64 1107.50,748.66 1108.00,748.68 1108.50,748.70 1109.00,748.72 1109.50,748.74 1110.00,748.75 1110.50,748.77 1111.00,748.79 1111.50,748.81 1112.00,748.83 1112.50,748.85 1113.00,748.87 1113.50,748.89 1114.00,748.91 1114.50,748.93 1115.00,748.95 1115.50,748.97 1116.00,748.99 1116.50,749.01 1117.00,749.03 1117.50,749.04 1118.00,749.06 1118.50,749.08 1119.00,749.10 1119.50,749.12 1120.00,749.14 1120.50,749.16 1121.00,749.18 1121.50,749.19 1122.00,749.21 1122.50,749.23 1123.00,749.25 1123.50,749.27 1124.00,749.29 1124.50,749.31 1125.00,749.32 1125.50,749.34 1125.50,750.07 1125.00,750.06 1124.50,750.04 1124.00,750.03 1123.50,750.01 1123.00,750.00 1122.50,749.98 1122.00,749.97 1121.50,749.96 1121.00,749.94 1120.50,749.93 1120.00,749.91 1119.50,749.90 1119.00,749.88 1118.50,749.87 1118.00,749.86 1117.50,749.84 1117.00,749.83 1116.50,749.81 1116.00,749.80 1115.50,749.78 1115.00,749.77 1114.50,749.76 1114.00,749.74 1113.50,749.73 1113.00,749.71 1112.50,749.70 1112.00,749.68 1111.50,749.67 1111.00,749.66 1110.50,749.64 1110.00,749.63 1109.50,749.61 1109.00,749.60 1108.50,749.59 1108.00,749.57 1107.50,749.56 1107.00,749.54 1106.50,749.53 1106.00,749.51 1105.50,749.50 1105.00,749.49 1104.50,749.47 1104.00,749.46 1103.50,749.44 1103.00,749.43 1102.50,749.41 1102.00,749.40 1101.50,749.39 1101.00,749.37 1100.50,749.36 1100.00,749.34 1099.50,749.33 1099.00,749.31 1098.50,749.30 1098.00,749.29 1097.50,749.27 1097.00,749.26 1096.50,749.24 1096.00,749.23 1095.50,749.21 1095.00,749.20 1094.50,749.19 1094.00,749.17 1093.50,749.16 1093.00,749.14 1092.50,749.13 1092.00,749.12 1091.50,749.10 1091.00,749.09 1090.50,749.07 1090.00,749.06 1089.50,749.04 1089.00,749.03 1088.50,749.02 1088.00,749.00 1087.50,748.99 1087.00,748.97 1086.50,748.96 1086.00,748.94 1085.50,748.93 1085.00,748.92 1084.50,748.90 1084.00,748.89 1083.50,748.87 1083.00,748.86 1082.50,748.84 1082.00,748.83 1081.50,748.82 1081.00,748.80 1080.50,748.79 1080.00,748.77 1079.50,748.76 1079.00,748.74 1078.50,748.73 1078.00,748.72 1077.50,748.70 1077.00,748.69 1076.50,748.67 1076.00,748.66 1075.50,748.64 1075.00,748.63 1074.50,748.62 1074.00,748.60 1073.50,748.59 1073.00,748.57 1072.50,748.56 1072.00,748.54 1071.50,748.53 1071.00,748.52 1070.50,748.50 1070.00,748.49 1069.50,748.47 1069.00,748.46 1068.50,748.45 1068.00,748.43 1067.50,748.42 1067.00,748.40 1066.50,748.39 1066.00,748.37 1065.50,748.36 1065.00,748.35 1064.50,748.33 1064.00,748.32 1063.50,748.30 1063.00,748.29 1062.50,748.27 1062.00,748.26 1061.50,748.25 1061.00,748.23 1060.50,748.22 1060.00,748.20 1059.50,748.19 1059.00,748.17 1058.50,748.16 1058.00,748.15 1057.50,748.13 1057.00,748.12 1056.50,748.10 1056.00,748.09 1055.50,748.07 1055.00,748.06 1054.50,748.05 1054.00,748.03 1053.50,748.02 1053.00,748.00 1052.50,747.99 1052.00,747.98 1051.50,747.96 1051.00,747.95 1050.50,747.93 1050.00,747.92 1049.50,747.90 1049.00,747.89 1048.50,747.88 1048.00,747.86 1047.50,747.85 1047.00,747.83 1046.50,747.82 1046.00,747.80 1045.50,747.79 1045.00,747.78 1044.50,747.76 1044.00,747.75 1043.50,747.73 1043.00,747.72 1042.50,747.70 1042.00,747.69 1041.50,747.68 1041.00,747.66 1040.50,747.65 1040.00,747.63 1039.50,747.62 1039.00,747.60 1038.50,747.59 1038.00,747.58 1037.50,747.56 1037.00,747.55 1036.50,747.53 1036.00,747.52 1035.50,747.50 1035.00,747.49 1034.50,747.48 1034.00,747.46 1033.50,747.45 1033.00,747.43 1032.50,747.42 1032.00,747.40 1031.50,747.39 1031.00,747.38 1030.50,747.36 1030.00,747.35 1029.50,747.33 1029.00,747.32 1028.50,747.31 1028.00,747.29 1027.50,747.28 1027.00,747.26 1026.50,747.25 1026.00,747.23 1025.50,747.22 1025.00,747.21 1024.50,747.19 1024.00,747.18 1023.50,747.16 1023.00,747.15 1022.50,747.13 1022.00,747.12 1021.50,747.11 1021.00,747.09 1020.50,747.08 1020.00,747.06 1019.50,747.05 1019.00,747.03 1018.50,747.02 1018.00,747.01 1017.50,746.99 1017.00,746.98 1016.50,746.96 1016.00,746.95 1015.50,746.93 1015.00,746.92 1014.50,746.91 1014.00,746.89 1013.50,746.88 1013.00,746.86 1012.50,746.85 1012.00,746.84 1011.50,746.82 1011.00,746.81 1010.50,746.79 1010.00,746.78 1009.50,746.76 1009.00,746.75 1008.50,746.74 1008.00,746.72 1007.50,746.71 1007.00,746.69 1006.50,746.68 1006.00,746.66 1005.50,746.65 1005.00,746.64 1004.50,746.62 1004.00,746.61 1003.50,746.59 1003.00,746.58 1002.50,746.56 1002.00,746.55 1001.50,746.54 1001.00,746.52 1000.50,746.51 1000.00,746.49 999.50,746.48 999.00,746.46 998.50,746.45 998.00,746.44 997.50,746.42 997.00,746.41 996.50,746.39 996.00,746.38 995.50,746.36 995.00,746.35 994.50,746.34 994.00,746.32 993.50,746.31 993.00,746.29 992.50,746.28 992.00,746.26 991.50,746.25 991.00,746.24 990.50,746.22 990.00,746.21 989.50,746.19 989.00,746.18 988.50,746.17 988.00,746.15 987.50,746.14 987.00,746.12 986.50,746.11 986.00,746.09 985.50,746.08 985.00,746.07 984.50,746.05 984.00,746.04 983.50,746.02 983.00,746.01 982.50,745.99 982.00,745.98 981.50,745.97 981.00,745.95 980.50,745.94 980.00,745.92 979.50,745.91 979.00,745.89 978.50,745.88 978.00,745.87 977.50,745.85 977.00,745.84 976.50,745.82 976.00,745.81 975.50,745.79 975.00,745.78 974.50,745.77 974.00,745.75 973.50,745.74 973.00,745.72 972.50,745.71 972.00,745.70 971.50,745.68 971.00,745.67 970.50,745.65 970.00,745.64 969.50,745.62 969.00,745.61 968.50,745.60 968.00,745.58 967.50,745.57 967.00,745.55 966.50,745.54 966.00,745.52 965.50,745.51 965.00,745.50 964.50,745.48 964.00,745.47 963.50,745.45 963.00,745.44 962.50,745.42 962.00,745.41 961.50,745.40 961.00,745.38 960.50,745.37 960.00,745.35 959.50,745.34 959.00,745.32 958.50,745.31 958.00,745.30 957.50,745.28 957.00,745.27 956.50,745.25 956.00,745.24 955.50,745.22 955.00,745.21 954.50,745.20 954.00,745.18 953.50,745.17 953.00,745.15 952.50,745.14 952.00,745.12 951.50,745.11 951.00,745.10 950.50,745.08 950.00,745.07 949.50,745.05 949.00,745.04 948.50,745.03 948.00,745.01 947.50,745.00 947.00,744.98 946.50,744.97 946.00,744.95 945.50,744.94 945.00,744.93 944.50,744.91 944.00,744.90 943.50,744.88 943.00,744.87 942.50,744.85 942.00,744.84 941.50,744.83 941.00,744.81 940.50,744.80 940.00,744.78 939.50,744.77 939.00,744.75 938.50,744.74 938.00,744.73 937.50,744.71 937.00,744.70 936.50,744.68 936.00,744.67 935.50,744.65 935.00,744.64 934.50,744.63 934.00,744.61 933.50,744.60 933.00,744.58 932.50,744.57 932.00,744.55 931.50,744.54 931.00,744.53 930.50,744.51 930.00,744.50 929.50,744.48 929.00,744.47 928.50,744.46 928.00,744.44 927.50,744.43 927.00,744.41 926.50,744.40 926.00,744.38 925.50,744.37 925.00,744.36 924.50,744.34 924.00,744.33 923.50,744.31 923.00,744.30 922.50,744.28 922.00,744.27 921.50,744.26 921.00,744.24 920.50,744.23 920.00,744.21 919.50,744.20 919.00,744.18 918.50,744.17 918.00,744.16 917.50,744.14 917.00,744.13 916.50,744.11 916.00,744.10 915.50,744.08 915.00,744.07 914.50,744.06 914.00,744.04 913.50,744.03 913.00,744.01 912.50,744.00 912.00,743.99 911.50,743.97 911.00,743.96 910.50,743.94 910.00,743.93 909.50,743.91 909.00,743.90 908.50,743.89 908.00,743.87 907.50,743.86 907.00,743.84 906.50,743.83 906.00,743.81 905.50,743.80 905.00,743.79 904.50,743.77 904.00,743.76 903.50,743.74 903.00,743.73 902.50,743.71 902.00,743.70 901.50,743.69 901.00,743.67 900.50,743.66 900.00,743.64 899.50,743.63 899.00,743.61 898.50,743.60 898.00,743.59 897.50,743.57 897.00,743.56 896.50,743.54 896.00,743.53 895.50,743.51 895.00,743.50 894.50,743.49 894.00,743.47 893.50,743.46 893.00,743.44 892.50,743.43 892.00,743.41 891.50,743.40 891.00,743.39 890.50,743.37 890.00,743.36 889.50,743.34 889.00,743.33 888.50,743.32 888.00,743.30 887.50,743.29 887.00,743.27 886.50,743.26 886.00,743.24 885.50,743.23 885.00,743.22 884.50,743.20 884.00,743.19 883.50,743.17 883.00,743.16 882.50,743.14 882.00,743.13 881.50,743.12 881.00,743.10 880.50,743.09 880.00,743.07 879.50,743.06 879.00,743.04 878.50,743.03 878.00,743.02 877.50,743.00 877.00,742.99 876.50,742.97 876.00,742.96 875.50,742.94 875.00,742.93 874.50,742.92 874.00,742.90 873.50,742.89 873.00,742.87 872.50,742.86 872.00,742.85 871.50,742.83 871.00,742.82 870.50,742.80 870.00,742.79 869.50,742.77 869.00,742.76 868.50,742.75 868.00,742.73 867.50,742.72 867.00,742.70 866.50,742.69 866.00,742.67 865.50,742.66 865.00,742.65 864.50,742.63 864.00,742.62 863.50,742.60 863.00,742.59 862.50,742.57 862.00,742.56 861.50,742.55 861.00,742.53 860.50,742.52 860.00,742.50 859.50,742.49 859.00,742.47 858.50,742.46 858.00,742.45 857.50,742.43 857.00,742.42 856.50,742.40 856.00,742.39 855.50,742.37 855.00,742.36 854.50,742.35 854.00,742.33 853.50,742.32 853.00,742.30 852.50,742.29 852.00,742.27 851.50,742.26 851.00,742.25 850.50,742.23 850.00,742.22 849.50,742.20 849.00,742.19 848.50,742.18 848.00,742.16 847.50,742.15 847.00,742.13 846.50,742.12 846.00,742.10 845.50,742.09 845.00,742.08 844.50,742.06 844.00,742.05 843.50,742.03 843.00,742.02 842.50,742.00 842.00,741.99 841.50,741.98 841.00,741.96 840.50,741.95 840.00,741.93 839.50,741.92 839.00,741.90 838.50,741.89 838.00,741.88 837.50,741.86 837.00,741.85 836.50,741.83 836.00,741.82 835.50,741.80 835.00,741.79 834.50,741.78 834.00,741.76 833.50,741.75 833.00,741.73 832.50,741.72 832.00,741.71 831.50,741.69 831.00,741.68 830.50,741.66 830.00,741.65 829.50,741.63 829.00,741.62 828.50,741.61 828.00,741.59 827.50,741.58 827.00,741.56 826.50,741.55 826.00,741.53 825.50,741.52 825.00,741.51 824.50,741.49 824.00,741.48 823.50,741.46 823.00,741.45 822.50,741.43 822.00,741.42 821.50,741.41 821.00,741.39 820.50,741.38 820.00,741.36 819.50,741.35 819.00,741.33 818.50,741.32 818.00,741.31 817.50,741.29 817.00,741.28 816.50,741.26 816.00,741.25 815.50,741.23 815.00,741.22 814.50,741.21 814.00,741.19 813.50,741.18 813.00,741.16 812.50,741.15 812.00,741.13 811.50,741.12 811.00,741.11 810.50,741.09 810.00,741.08 809.50,741.06 809.00,741.05 808.50,741.04 808.00,741.02 807.50,741.01 807.00,740.99 806.50,740.98 806.00,740.96 805.50,740.95 805.00,740.94 804.50,740.92 804.00,740.91 803.50,740.89 803.00,740.88 802.50,740.86 802.00,740.85 801.50,740.84 801.00,740.82 800.50,740.81 800.00,740.79 799.50,740.78 799.00,740.76 798.50,740.75 798.00,740.74 797.50,740.72 797.00,740.71 796.50,740.69 796.00,740.68 795.50,740.66 795.00,740.65 794.50,740.64 794.00,740.62 793.50,740.61 793.00,740.59 792.50,740.58 792.00,740.57 791.50,740.55 791.00,740.54 790.50,740.52 790.00,740.51 789.50,740.49 789.00,740.48 788.50,740.47 788.00,740.45 787.50,740.44 787.00,740.42 786.50,740.41 786.00,740.39 785.50,740.38 785.00,740.37 784.50,740.35 784.00,740.34 783.50,740.32 783.00,740.31 782.50,740.29 782.00,740.28 781.50,740.27 781.00,740.25 780.50,740.24 780.00,740.22 779.50,740.21 779.00,740.19 778.50,740.18 778.00,740.17 777.50,740.15 777.00,740.14 776.50,740.12 776.00,740.11 775.50,740.09 775.00,740.08 774.50,740.07 774.00,740.05 773.50,740.04 773.00,740.02 772.50,740.01 772.00,740.00 771.50,739.98 771.00,739.97 770.50,739.95 770.00,739.94 769.50,739.92 769.00,739.91 768.50,739.90 768.00,739.88 767.50,739.87 767.00,739.85 766.50,739.84 766.00,739.82 765.50,739.81 765.00,739.80 764.50,739.78 764.00,739.77 763.50,739.75 763.00,739.74 762.50,739.72 762.00,739.71 761.50,739.70 761.00,739.68 760.50,739.67 760.00,739.65 759.50,739.64 759.00,739.62 758.50,739.61 758.00,739.60 757.50,739.58 757.00,739.57 756.50,739.55 756.00,739.54 755.50,739.52 755.00,739.51 754.50,739.50 754.00,739.48 753.50,739.47 753.00,739.45 752.50,739.44 752.00,739.42 751.50,739.41 751.00,739.40 750.50,739.38 750.00,739.37 749.50,739.35 749.00,739.34 748.50,739.33 748.00,739.31 747.50,739.30 747.00,739.28 746.50,739.27 746.00,739.25 745.50,739.24 745.00,739.23 744.50,739.21 744.00,739.20 743.50,739.18 743.00,739.17 742.50,739.15 742.00,739.14 741.50,739.13 741.00,739.11 740.50,739.10 740.00,739.08 739.50,739.07 739.00,739.05 738.50,739.04 738.00,739.03 737.50,739.01 737.00,739.00 736.50,738.98 736.00,738.97 735.50,738.95 735.00,738.94 734.50,738.93 734.00,738.91 733.50,738.90 733.00,738.88 732.50,738.87 732.00,738.86 731.50,738.84 731.00,738.83 730.50,738.81 730.00,738.80 729.50,738.78 729.00,738.77 728.50,738.76 728.00,738.74 727.50,738.73 727.00,738.71 726.50,738.70 726.00,738.68 725.50,738.67 725.00,738.66 724.50,738.64 724.00,738.63 723.50,738.61 723.00,738.60 722.50,738.58 722.00,738.57 721.50,738.56 721.00,738.54 720.50,738.53 720.00,738.51 719.50,738.50 719.00,738.48 718.50,738.47 718.00,738.46 717.50,738.44 717.00,738.43 716.50,738.41 716.00,738.40 715.50,738.38 715.00,738.37 714.50,738.36 714.00,738.34 713.50,738.33 713.00,738.31 712.50,738.30 712.00,738.28 711.50,738.27 711.00,738.26 710.50,738.24 710.00,738.23 709.50,738.21 709.00,738.20 708.50,738.19 708.00,738.17 707.50,738.16 707.00,738.14 706.50,738.13 706.00,738.11 705.50,738.10 705.00,738.09 704.50,738.07 704.00,738.06 703.50,738.04 703.00,738.03" fill="#f0e2fc" stroke="none"/>
<polygon points="703.00,737.69 703.50,737.70 704.00,737.71 704.50,737.72 705.00,737.74 705.50,737.75 706.00,737.76 706.50,737.78 707.00,737.79 707.50,737.80 708.00,737.81 708.50,737.83 709.00,737.84 709.50,737.85 710.00,737.86 710.50,737.88 711.00,737.89 711.50,737.90 712.00,737.91 712.50,737.93 713.00,737.94 713.50,737.95 714.00,737.96 714.50,737.98 715.00,737.99 715.50,738.00 716.00,738.01 716.50,738.02 717.00,738.04 717.50,738.05 718.00,738.06 718.50,738.07 719.00,738.09 719.50,738.10 720.00,738.11 720.50,738.12 721.00,738.14 721.50,738.15 722.00,738.16 722.50,738.17 723.00,738.18 723.50,738.20 724.00,738.21 724.50,738.22 725.00,738.23 725.50,738.24 726.00,738.26 726.50,738.27 727.00,738.28 727.50,738.29 728.00,738.30 728.50,738.32 729.00,738.33 729.50,738.34 730.00,738.35 730.50,738.36 731.00,738.38 731.50,738.39 732.00,738.40 732.50,738.41 733.00,738.42 733.50,738.44 734.00,738.45 734.50,738.46 735.00,738.47 735.50,738.48 736.00,738.49 736.50,738.51 737.00,738.52 737.50,738.53 738.00,738.54 738.50,738.55 739.00,738.56 739.50,738.58 740.00,738.59 740.50,738.60 741.00,738.61 741.50,738.62 742.00,738.63 742.50,738.64 743.00,738.66 743.50,738.67 744.00,738.68 744.50,738.69 745.00,738.70 745.50,738.71 746.00,738.72 746.50,738.73 747.00,738.75 747.50,738.76 748.00,738.77 748.50,738.78 749.00,738.79 749.50,738.80 750.00,738.81 750.50,738.82 751.00,738.83 751.50,738.84 752.00,738.86 752.50,738.87 753.00,738.88 753.50,738.89 754.00,738.90 754.50,738.91 755.00,738.92 755.50,738.93 756.00,738.94 756.50,738.95 757.00,738.96 757.50,738.97 758.00,738.98 758.50,738.99 759.00,739.00 759.50,739.02 760.00,739.03 760.50,739.04 761.00,739.05 761.50,739.06 762.00,739.07 762.50,739.08 763.00,739.09 763.50,739.10 764.00,739.11 764.50,739.12 765.00,739.13 765.50,739.14 766.00,739.15 766.50,739.16 767.00,739.17 767.50,739.18 768.00,739.19 768.50,739.20 769.00,739.21 769.50,739.22 770.00,739.22 770.50,739.23 771.00,739.24 771.50,739.25 772.00,739.26 772.50,739.27 773.00,739.28 773.50,739.29 774.00,739.30 774.50,739.31 775.00,739.32 775.50,739.33 776.00,739.34 776.50,739.34 777.00,739.35 777.50,739.36 778.00,739.37 778.50,739.38 779.00,739.39 779.50,739.40 780.00,739.40 780.50,739.41 781.00,739.42 781.50,739.43 782.00,739.44 782.50,739.45 783.00,739.45 783.50,739.46 784.00,739.47 784.50,739.48 785.00,739.49 785.50,739.49 786.00,739.50 786.50,739.51 787.00,739.52 787.50,739.52 788.00,739.53 788.50,739.54 789.00,739.55 789.50,739.55 790.00,739.56 790.50,739.57 791.00,739.57 791.50,739.58 792.00,739.59 792.50,739.59 793.00,739.60 793.50,739.61 794.00,739.61 794.50,739.62 795.00,739.63 795.50,739.63 796.00,739.64 796.50,739.64 797.00,739.65 797.50,739.65 798.00,739.66 798.50,739.67 799.00,739.67 799.50,739.68 800.00,739.68 800.50,739.69 801.00,739.69 801.50,739.70 802.00,739.70 802.50,739.71 803.00,739.71 803.50,739.71 804.00,739.72 804.50,739.72 805.00,739.73 805.50,739.73 806.00,739.73 806.50,739.74 807.00,739.74 807.50,739.74 808.00,739.75 808.50,739.75 809.00,739.75 809.50,739.75 810.00,739.76 810.50,739.76 811.00,739.76 811.50,739.76 812.00,739.77 812.50,739.77 813.00,739.77 813.50,739.77 814.00,739.77 814.50,739.77 815.00,739.77 815.50,739.77 816.00,739.77 816.50,739.77 817.00,739.77 817.50,739.77 818.00,739.77 818.50,739.77 819.00,739.77 819.50,739.77 820.00,739.77 820.50,739.77 821.00,739.76 821.50,739.76 822.00,739.76 822.50,739.76 823.00,739.76 823.50,739.75 824.00,739.75 824.50,739.75 825.00,739.74 825.50,739.74 826.00,739.73 826.50,739.73 827.00,739.72 827.50,739.72 828.00,739.71 828.50,739.71 829.00,739.70 829.50,739.69 830.00,739.69 830.50,739.68 831.00,739.67 831.50,739.66 832.00,739.65 832.50,739.64 833.00,739.64 833.50,739.63 834.00,739.62 834.50,739.61 835.00,739.59 835.50,739.58 836.00,739.57 836.50,739.56 837.00,739.55 837.50,739.53 838.00,739.52 838.50,739.51 839.00,739.49 839.50,739.48 840.00,739.46 840.50,739.44 841.00,739.43 841.50,739.41 842.00,739.39 842.50,739.37 843.00,739.35 843.50,739.33 844.00,739.31 844.50,739.29 845.00,739.27 845.50,739.25 846.00,739.22 846.50,739.20 847.00,739.17 847.50,739.15 848.00,739.12 848.50,739.10 849.00,739.07 849.50,739.04 850.00,739.01 850.50,738.98 851.00,738.95 851.50,738.91 852.00,738.88 852.50,738.84 853.00,738.81 853.50,738.77 854.00,738.73 854.50,738.69 855.00,738.65 855.50,738.61 856.00,738.57 856.50,738.53 857.00,738.48 857.50,738.43 858.00,738.39 858.50,738.34 859.00,738.29 859.50,738.23 860.00,738.18 860.50,738.12 861.00,738.06 861.50,738.01 862.00,737.94 862.50,737.88 863.00,737.82 863.50,737.75 864.00,737.68 864.50,737.61 865.00,737.54 865.50,737.46 866.00,737.38 866.50,737.30 867.00,737.22 867.50,737.13 868.00,737.05 868.50,736.95 869.00,736.86 869.50,736.76 870.00,736.66 870.50,736.56 871.00,736.45 871.50,736.34 872.00,736.23 872.50,736.11 873.00,735.99 873.50,735.86 874.00,735.73 874.50,735.59 875.00,735.45 875.50,735.31 876.00,735.16 876.50,735.00 877.00,734.84 877.50,734.67 878.00,734.49 878.50,734.31 879.00,734.12 879.50,733.92 880.00,733.71 880.50,733.49 881.00,733.26 881.50,733.02 882.00,732.77 882.50,732.51 883.00,732.24 883.50,731.95 884.00,731.64 884.50,731.32 885.00,730.98 885.50,730.62 886.00,730.25 886.50,729.84 887.00,729.42 887.50,728.97 888.00,728.49 888.50,727.99 889.00,727.45 889.50,726.87 890.00,726.26 890.50,725.61 891.00,724.92 891.50,724.19 892.00,723.40 892.50,722.57 893.00,721.68 893.50,720.73 894.00,719.72 894.50,718.65 895.00,717.51 895.50,716.29 896.00,715.00 896.50,713.63 897.00,712.18 897.50,710.65 898.00,709.02 898.50,707.29 899.00,705.48 899.50,703.56 900.00,701.53 900.50,699.40 901.00,697.17 901.50,694.82 902.00,692.36 902.50,689.78 903.00,687.09 903.50,684.29 904.00,681.36 904.50,678.33 905.00,675.18 905.50,671.92 906.00,668.55 906.50,665.08 907.00,661.51 907.50,657.84 908.00,654.09 908.50,650.26 909.00,646.36 909.50,642.40 910.00,638.40 910.50,634.37 911.00,630.33 911.50,626.29 912.00,622.28 912.50,618.32 913.00,614.44 913.50,610.65 914.00,607.00 914.50,603.51 915.00,600.21 915.50,597.14 916.00,594.32 916.50,591.79 917.00,589.58 917.50,587.72 918.00,586.23 918.50,585.12 919.00,584.43 919.50,584.15 920.00,584.29 920.50,584.85 921.00,585.82 921.50,587.18 922.00,588.93 922.50,591.03 923.00,593.46 923.50,596.20 924.00,599.20 924.50,602.44 925.00,605.89 925.50,609.51 926.00,613.27 926.50,617.15 927.00,621.11 927.50,625.13 928.00,629.19 928.50,633.26 929.00,637.33 929.50,641.37 930.00,645.37 930.50,649.33 931.00,653.21 931.50,657.03 932.00,660.76 932.50,664.40 933.00,667.94 933.50,671.38 934.00,674.71 934.50,677.93 935.00,681.04 935.50,684.04 936.00,686.92 936.50,689.68 937.00,692.33 937.50,694.87 938.00,697.29 938.50,699.60 939.00,701.80 939.50,703.89 940.00,705.88 940.50,707.77 941.00,709.56 941.50,711.25 942.00,712.86 942.50,714.37 943.00,715.80 943.50,717.15 944.00,718.42 944.50,719.62 945.00,720.75 945.50,721.81 946.00,722.81 946.50,723.75 947.00,724.64 947.50,725.47 948.00,726.25 948.50,726.99 949.00,727.68 949.50,728.34 950.00,728.95 950.50,729.53 951.00,730.08 951.50,730.60 952.00,731.09 952.50,731.55 953.00,731.99 953.50,732.41 954.00,732.80 954.50,733.18 955.00,733.53 955.50,733.87 956.00,734.20 956.50,734.51 957.00,734.80 957.50,735.09 958.00,735.36 958.50,735.62 959.00,735.87 959.50,736.11 960.00,736.34 960.50,736.56 961.00,736.78 961.50,736.99 962.00,737.19 962.50,737.38 963.00,737.57 963.50,737.75 964.00,737.93 964.50,738.10 965.00,738.26 965.50,738.43 966.00,738.58 966.50,738.73 967.00,738.88 967.50,739.03 968.00,739.17 968.50,739.30 969.00,739.44 969.50,739.57 970.00,739.69 970.50,739.82 971.00,739.94 971.50,740.06 972.00,740.17 972.50,740.28 973.00,740.39 973.50,740.50 974.00,740.61 974.50,740.71 975.00,740.81 975.50,740.91 976.00,741.00 976.50,741.10 977.00,741.19 977.50,741.28 978.00,741.37 978.50,741.46 979.00,741.54 979.50,741.63 980.00,741.71 980.50,741.79 981.00,741.87 981.50,741.94 982.00,742.02 982.50,742.09 983.00,742.17 983.50,742.24 984.00,742.31 984.50,742.38 985.00,742.45 985.50,742.51 986.00,742.58 986.50,742.64 987.00,742.71 987.50,742.77 988.00,742.83 988.50,742.89 989.00,742.95 989.50,743.01 990.00,743.07 990.50,743.13 991.00,743.18 991.50,743.24 992.00,743.29 992.50,743.34 993.00,743.40 993.50,743.45 994.00,743.50 994.50,743.55 995.00,743.60 995.50,743.65 996.00,743.70 996.50,743.75 997.00,743.80 997.50,743.84 998.00,743.89 998.50,743.93 999.00,743.98 999.50,744.02 1000.00,744.07 1000.50,744.11 1001.00,744.15 1001.50,744.20 1002.00,744.24 1002.50,744.28 1003.00,744.32 1003.50,744.36 1004.00,744.40 1004.50,744.44 1005.00,744.48 1005.50,744.52 1006.00,744.56 1006.50,744.59 1007.00,744.63 1007.50,744.67 1008.00,744.71 1008.50,744.74 1009.00,744.78 1009.50,744.81 1010.00,744.85 1010.50,744.88 1011.00,744.92 1011.50,744.95 1012.00,744.99 1012.50,745.02 1013.00,745.05 1013.50,745.09 1014.00,745.12 1014.50,745.15 1015.00,745.19 1015.50,745.22 1016.00,745.25 1016.50,745.28 1017.00,745.31 1017.50,745.34 1018.00,745.37 1018.50,745.40 1019.00,745.43 1019.50,745.46 1020.00,745.49 1020.50,745.52 1021.00,745.55 1021.50,745.58 1022.00,745.61 1022.50,745.64 1023.00,745.67 1023.50,745.70 1024.00,745.72 1024.50,745.75 1025.00,745.78 1025.50,745.81 1026.00,745.83 1026.50,745.86 1027.00,745.89 1027.50,745.91 1028.00,745.94 1028.50,745.97 1029.00,745.99 1029.50,746.02 1030.00,746.05 1030.50,746.07 1031.00,746.10 1031.50,746.12 1032.00,746.15 1032.50,746.17 1033.00,746.20 1033.50,746.22 1034.00,746.25 1034.50,746.27 1035.00,746.30 1035.50,746.32 1036.00,746.35 1036.50,746.37 1037.00,746.39 1037.50,746.42 1038.00,746.44 1038.50,746.47 1039.00,746.49 1039.50,746.51 1040.00,746.54 1040.50,746.56 1041.00,746.58 1041.50,746.61 1042.00,746.63 1042.50,746.65 1043.00,746.67 1043.50,746.70 1044.00,746.72 1044.50,746.74 1045.00,746.76 1045.50,746.79 1046.00,746.81 1046.50,746.83 1047.00,746.85 1047.50,746.87 1048.00,746.90 1048.50,746.92 1049.00,746.94 1049.50,746.96 1050.00,746.98 1050.50,747.00 1051.00,747.02 1051.50,747.05 1052.00,747.07 1052.50,747.09 1053.00,747.11 1053.50,747.13 1054.00,747.15 1054.50,747.17 1055.00,747.19 1055.50,747.21 1056.00,747.23 1056.50,747.25 1057.00,747.27 1057.50,747.29 1058.00,747.31 1058.50,747.33 1059.00,747.35 1059.50,747.37 1060.00,747.39 1060.50,747.41 1061.00,747.43 1061.50,747.45 1062.00,747.47 1062.50,747.49 1063.00,747.51 1063.50,747.53 1064.00,747.55 1064.50,747.57 1065.00,747.59 1065.50,747.61 1066.00,747.63 1066.50,747.65 1067.00,747.67 1067.50,747.69 1068.00,747.71 1068.50,747.73 1069.00,747.74 1069.50,747.76 1070.00,747.78 1070.50,747.80 1071.00,747.82 1071.50,747.84 1072.00,747.86 1072.50,747.88 1073.00,747.89 1073.50,747.91 1074.00,747.93 1074.50,747.95 1075.00,747.97 1075.50,747.99 1076.00,748.01 1076.50,748.02 1077.00,748.04 1077.50,748.06 1078.00,748.08 1078.50,748.10 1079.00,748.12 1079.50,748.13 1080.00,748.15 1080.50,748.17 1081.00,748.19 1081.50,748.21 1082.00,748.22 1082.50,748.24 1083.00,748.26 1083.50,748.28 1084.00,748.30 1084.50,748.31 1085.00,748.33 1085.50,748.35 1086.00,748.37 1086.50,748.38 1087.00,748.40 1087.50,748.42 1088.00,748.44 1088.50,748.45 1089.00,748.47 1089.50,748.49 1090.00,748.51 1090.50,748.52 1091.00,748.54 1091.50,748.56 1092.00,748.58 1092.50,748.59 1093.00,748.61 1093.50,748.63 1094.00,748.65 1094.50,748.66 1095.00,748.68 1095.50,748.70 1096.00,748.71 1096.50,748.73 1097.00,748.75 1097.50,748.77 1098.00,748.78 1098.50,748.80 1099.00,748.82 1099.50,748.83 1100.00,748.85 1100.50,748.87 1101.00,748.89 1101.50,748.90 1102.00,748.92 1102.50,748.94 1103.00,748.95 1103.50,748.97 1104.00,748.99 1104.50,749.00 1105.00,749.02 1105.50,749.04 1106.00,749.05 1106.50,749.07 1107.00,749.09 1107.50,749.10 1108.00,749.12 1108.50,749.14 1109.00,749.15 1109.50,749.17 1110.00,749.19 1110.50,749.20 1111.00,749.22 1111.50,749.24 1112.00,749.25 1112.50,749.27 1113.00,749.29 1113.50,749.30 1114.00,749.32 1114.50,749.33 1115.00,749.35 1115.50,749.37 1116.00,749.38 1116.50,749.40 1117.00,749.42 1117.50,749.43 1118.00,749.45 1118.50,749.47 1119.00,749.48 1119.50,749.50 1120.00,749.51 1120.50,749.53 1121.00,749.55 1121.50,749.56 1122.00,749.58 1122.50,749.60 1123.00,749.61 1123.50,749.63 1124.00,749.64 1124.50,749.66 1125.00,749.68 1125.50,749.69 1125.50,750.07 1125.00,750.06 1124.50,750.04 1124.00,750.03 1123.50,750.01 1123.00,750.00 1122.50,749.98 1122.00,749.97 1121.50,749.96 1121.00,749.94 1120.50,749.93 1120.00,749.91 1119.50,749.90 1119.00,749.88 1118.50,749.87 1118.00,749.86 1117.50,749.84 1117.00,749.83 1116.50,749.81 1116.00,749.80 1115.50,749.78 1115.00,749.77 1114.50,749.76 1114.00,749.74 1113.50,749.73 1113.00,749.71 1112.50,749.70 1112.00,749.68 1111.50,749.67 1111.00,749.66 1110.50,749.64 1110.00,749.63 1109.50,749.61 1109.00,749.60 1108.50,749.59 1108.00,749.57 1107.50,749.56 1107.00,749.54 1106.50,749.53 1106.00,749.51 1105.50,749.50 1105.00,749.49 1104.50,749.47 1104.00,749.46 1103.50,749.44 1103.00,749.43 1102.50,749.41 1102.00,749.40 1101.50,749.39 1101.00,749.37 1100.50,749.36 1100.00,749.34 1099.50,749.33 1099.00,749.31 1098.50,749.30 1098.00,749.29 1097.50,749.27 1097.00,749.26 1096.50,749.24 1096.00,749.23 1095.50,749.21 1095.00,749.20 1094.50,749.19 1094.00,749.17 1093.50,749.16 1093.00,749.14 1092.50,749.13 1092.00,749.12 1091.50,749.10 1091.00,749.09 1090.50,749.07 1090.00,749.06 1089.50,749.04 1089.00,749.03 1088.50,749.02 1088.00,749.00 1087.50,748.99 1087.00,748.97 1086.50,748.96 1086.00,748.94 1085.50,748.93 1085.00,748.92 1084.50,748.90 1084.00,748.89 1083.50,748.87 1083.00,748.86 1082.50,748.84 1082.00,748.83 1081.50,748.82 1081.00,748.80 1080.50,748.79 1080.00,748.77 1079.50,748.76 1079.00,748.74 1078.50,748.73 1078.00,748.72 1077.50,748.70 1077.00,748.69 1076.50,748.67 1076.00,748.66 1075.50,748.64 1075.00,748.63 1074.50,748.62 1074.00,748.60 1073.50,748.59 1073.00,748.57 1072.50,748.56 1072.00,748.54 1071.50,748.53 1071.00,748.52 1070.50,748.50 1070.00,748.49 1069.50,748.47 1069.00,748.46 1068.50,748.45 1068.00,748.43 1067.50,748.42 1067.00,748.40 1066.50,748.39 1066.00,748.37 1065.50,748.36 1065.00,748.35 1064.50,748.33 1064.00,748.32 1063.50,748.30 1063.00,748.29 1062.50,748.27 1062.00,748.26 1061.50,748.25 1061.00,748.23 1060.50,748.22 1060.00,748.20 1059.50,748.19 1059.00,748.17 1058.50,748.16 1058.00,748.15 1057.50,748.13 1057.00,748.12 1056.50,748.10 1056.00,748.09 1055.50,748.07 1055.00,748.06 1054.50,748.05 1054.00,748.03 1053.50,748.02 1053.00,748.00 1052.50,747.99 1052.00,747.98 1051.50,747.96 1051.00,747.95 1050.50,747.93 1050.00,747.92 1049.50,747.90 1049.00,747.89 1048.50,747.88 1048.00,747.86 1047.50,747.85 1047.00,747.83 1046.50,747.82 1046.00,747.80 1045.50,747.79 1045.00,747.78 1044.50,747.76 1044.00,747.75 1043.50,747.73 1043.00,747.72 1042.50,747.70 1042.00,747.69 1041.50,747.68 1041.00,747.66 1040.50,747.65 1040.00,747.63 1039.50,747.62 1039.00,747.60 1038.50,747.59 1038.00,747.58 1037.50,747.56 1037.00,747.55 1036.50,747.53 1036.00,747.52 1035.50,747.50 1035.00,747.49 1034.50,747.48 1034.00,747.46 1033.50,747.45 1033.00,747.43 1032.50,747.42 1032.00,747.40 1031.50,747.39 1031.00,747.38 1030.50,747.36 1030.00,747.35 1029.50,747.33 1029.00,747.32 1028.50,747.31 1028.00,747.29 1027.50,747.28 1027.00,747.26 1026.50,747.25 1026.00,747.23 1025.50,747.22 1025.00,747.21 1024.50,747.19 1024.00,747.18 1023.50,747.16 1023.00,747.15 1022.50,747.13 1022.00,747.12 1021.50,747.11 1021.00,747.09 1020.50,747.08 1020.00,747.06 1019.50,747.05 1019.00,747.03 1018.50,747.02 1018.00,747.01 1017.50,746.99 1017.00,746.98 1016.50,746.96 1016.00,746.95 1015.50,746.93 1015.00,746.92 1014.50,746.91 1014.00,746.89 1013.50,746.88 1013.00,746.86 1012.50,746.85 1012.00,746.84 1011.50,746.82 1011.00,746.81 1010.50,746.79 1010.00,746.78 1009.50,746.76 1009.00,746.75 1008.50,746.74 1008.00,746.72 1007.50,746.71 1007.00,746.69 1006.50,746.68 1006.00,746.66 1005.50,746.65 1005.00,746.64 1004.50,746.62 1004.00,746.61 1003.50,746.59 1003.00,746.58 1002.50,746.56 1002.00,746.55 1001.50,746.54 1001.00,746.52 1000.50,746.51 1000.00,746.49 999.50,746.48 999.00,746.46 998.50,746.45 998.00,746.44 997.50,746.42 997.00,746.41 996.50,746.39 996.00,746.38 995.50,746.36 995.00,746.35 994.50,746.34 994.00,746.32 993.50,746.31 993.00,746.29 992.50,746.28 992.00,746.26 991.50,746.25 991.00,746.24 990.50,746.22 990.00,746.21 989.50,746.19 989.00,746.18 988.50,746.17 988.00,746.15 987.50,746.14 987.00,746.12 986.50,746.11 986.00,746.09 985.50,746.08 985.00,746.07 984.50,746.05 984.00,746.04 983.50,746.02 983.00,746.01 982.50,745.99 982.00,745.98 981.50,745.97 981.00,745.95 980.50,745.94 980.00,745.92 979.50,745.91 979.00,745.89 978.50,745.88 978.00,745.87 977.50,745.85 977.00,745.84 976.50,745.82 976.00,745.81 975.50,745.79 975.00,745.78 974.50,745.77 974.00,745.75 973.50,745.74 973.00,745.72 972.50,745.71 972.00,745.70 971.50,745.68 971.00,745.67 970.50,745.65 970.00,745.64 969.50,745.62 969.00,745.61 968.50,745.60 968.00,745.58 967.50,745.57 967.00,745.55 966.50,745.54 966.00,745.52 965.50,745.51 965.00,745.50 964.50,745.48 964.00,745.47 963.50,745.45 963.00,745.44 962.50,745.42 962.00,745.41 961.50,745.40 961.00,745.38 960.50,745.37 960.00,745.35 959.50,745.34 959.00,745.32 958.50,745.31 958.00,745.30 957.50,745.28 957.00,745.27 956.50,745.25 956.00,745.24 955.50,745.22 955.00,745.21 954.50,745.20 954.00,745.18 953.50,745.17 953.00,745.15 952.50,745.14 952.00,745.12 951.50,745.11 951.00,745.10 950.50,745.08 950.00,745.07 949.50,745.05 949.00,745.04 948.50,745.03 948.00,745.01 947.50,745.00 947.00,744.98 946.50,744.97 946.00,744.95 945.50,744.94 945.00,744.93 944.50,744.91 944.00,744.90 943.50,744.88 943.00,744.87 942.50,744.85 942.00,744.84 941.50,744.83 941.00,744.81 940.50,744.80 940.00,744.78 939.50,744.77 939.00,744.75 938.50,744.74 938.00,744.73 937.50,744.71 937.00,744.70 936.50,744.68 936.00,744.67 935.50,744.65 935.00,744.64 934.50,744.63 934.00,744.61 933.50,744.60 933.00,744.58 932.50,744.57 932.00,744.55 931.50,744.54 931.00,744.53 930.50,744.51 930.00,744.50 929.50,744.48 929.00,744.47 928.50,744.46 928.00,744.44 927.50,744.43 927.00,744.41 926.50,744.40 926.00,744.38 925.50,744.37 925.00,744.36 924.50,744.34 924.00,744.33 923.50,744.31 923.00,744.30 922.50,744.28 922.00,744.27 921.50,744.26 921.00,744.24 920.50,744.23 920.00,744.21 919.50,744.20 919.00,744.18 918.50,744.17 918.00,744.16 917.50,744.14 917.00,744.13 916.50,744.11 916.00,744.10 915.50,744.08 915.00,744.07 914.50,744.06 914.00,744.04 913.50,744.03 913.00,744.01 912.50,744.00 912.00,743.99 911.50,743.97 911.00,743.96 910.50,743.94 910.00,743.93 909.50,743.91 909.00,743.90 908.50,743.89 908.00,743.87 907.50,743.86 907.00,743.84 906.50,743.83 906.00,743.81 905.50,743.80 905.00,743.79 904.50,743.77 904.00,743.76 903.50,743.74 903.00,743.73 902.50,743.71 902.00,743.70 901.50,743.69 901.00,743.67 900.50,743.66 900.00,743.64 899.50,743.63 899.00,743.61 898.50,743.60 898.00,743.59 897.50,743.57 897.00,743.56 896.50,743.54 896.00,743.53 895.50,743.51 895.00,743.50 894.50,743.49 894.00,743.47 893.50,743.46 893.00,743.44 892.50,743.43 892.00,743.41 891.50,743.40 891.00,743.39 890.50,743.37 890.00,743.36 889.50,743.34 889.00,743.33 888.50,743.32 888.00,743.30 887.50,743.29 887.00,743.27 886.50,743.26 886.00,743.24 885.50,743.23 885.00,743.22 884.50,743.20 884.00,743.19 883.50,743.17 883.00,743.16 882.50,743.14 882.00,743.13 881.50,743.12 881.00,743.10 880.50,743.09 880.00,743.07 879.50,743.06 879.00,743.04 878.50,743.03 878.00,743.02 877.50,743.00 877.00,742.99 876.50,742.97 876.00,742.96 875.50,742.94 875.00,742.93 874.50,742.92 874.00,742.90 873.50,742.89 873.00,742.87 872.50,742.86 872.00,742.85 871.50,742.83 871.00,742.82 870.50,742.80 870.00,742.79 869.50,742.77 869.00,742.76 868.50,742.75 868.00,742.73 867.50,742.72 867.00,742.70 866.50,742.69 866.00,742.67 865.50,742.66 865.00,742.65 864.50,742.63 864.00,742.62 863.50,742.60 863.00,742.59 862.50,742.57 862.00,742.56 861.50,742.55 861.00,742.53 860.50,742.52 860.00,742.50 859.50,742.49 859.00,742.47 858.50,742.46 858.00,742.45 857.50,742.43 857.00,742.42 856.50,742.40 856.00,742.39 855.50,742.37 855.00,742.36 854.50,742.35 854.00,742.33 853.50,742.32 853.00,742.30 852.50,742.29 852.00,742.27 851.50,742.26 851.00,742.25 850.50,742.23 850.00,742.22 849.50,742.20 849.00,742.19 848.50,742.18 848.00,742.16 847.50,742.15 847.00,742.13 846.50,742.12 846.00,742.10 845.50,742.09 845.00,742.08 844.50,742.06 844.00,742.05 843.50,742.03 843.00,742.02 842.50,742.00 842.00,741.99 841.50,741.98 841.00,741.96 840.50,741.95 840.00,741.93 839.50,741.92 839.00,741.90 838.50,741.89 838.00,741.88 837.50,741.86 837.00,741.85 836.50,741.83 836.00,741.82 835.50,741.80 835.00,741.79 834.50,741.78 834.00,741.76 833.50,741.75 833.00,741.73 832.50,741.72 832.00,741.71 831.50,741.69 831.00,741.68 830.50,741.66 830.00,741.65 829.50,741.63 829.00,741.62 828.50,741.61 828.00,741.59 827.50,741.58 827.00,741.56 826.50,741.55 826.00,741.53 825.50,741.52 825.00,741.51 824.50,741.49 824.00,741.48 823.50,741.46 823.00,741.45 822.50,741.43 822.00,741.42 821.50,741.41 821.00,741.39 820.50,741.38 820.00,741.36 819.50,741.35 819.00,741.33 818.50,741.32 818.00,741.31 817.50,741.29 817.00,741.28 816.50,741.26 816.00,741.25 815.50,741.23 815.00,741.22 814.50,741.21 814.00,741.19 813.50,741.18 813.00,741.16 812.50,741.15 812.00,741.13 811.50,741.12 811.00,741.11 810.50,741.09 810.00,741.08 809.50,741.06 809.00,741.05 808.50,741.04 808.00,741.02 807.50,741.01 807.00,740.99 806.50,740.98 806.00,740.96 805.50,740.95 805.00,740.94 804.50,740.92 804.00,740.91 803.50,740.89 803.00,740.88 802.50,740.86 802.00,740.85 801.50,740.84 801.00,740.82 800.50,740.81 800.00,740.79 799.50,740.78 799.00,740.76 798.50,740.75 798.00,740.74 797.50,740.72 797.00,740.71 796.50,740.69 796.00,740.68 795.50,740.66 795.00,740.65 794.50,740.64 794.00,740.62 793.50,740.61 793.00,740.59 792.50,740.58 792.00,740.57 791.50,740.55 791.00,740.54 790.50,740.52 790.00,740.51 789.50,740.49 789.00,740.48 788.50,740.47 788.00,740.45 787.50,740.44 787.00,740.42 786.50,740.41 786.00,740.39 785.50,740.38 785.00,740.37 784.50,740.35 784.00,740.34 783.50,740.32 783.00,740.31 782.50,740.29 782.00,740.28 781.50,740.27 781.00,740.25 780.50,740.24 780.00,740.22 779.50,740.21 779.00,740.19 778.50,740.18 778.00,740.17 777.50,740.15 777.00,740.14 776.50,740.12 776.00,740.11 775.50,740.09 775.00,740.08 774.50,740.07 774.00,740.05 773.50,740.04 773.00,740.02 772.50,740.01 772.00,740.00 771.50,739.98 771.00,739.97 770.50,739.95 770.00,739.94 769.50,739.92 769.00,739.91 768.50,739.90 768.00,739.88 767.50,739.87 767.00,739.85 766.50,739.84 766.00,739.82 765.50,739.81 765.00,739.80 764.50,739.78 764.00,739.77 763.50,739.75 763.00,739.74 762.50,739.72 762.00,739.71 761.50,739.70 761.00,739.68 760.50,739.67 760.00,739.65 759.50,739.64 759.00,739.62 758.50,739.61 758.00,739.60 757.50,739.58 757.00,739.57 756.50,739.55 756.00,739.54 755.50,739.52 755.00,739.51 754.50,739.50 754.00,739.48 753.50,739.47 753.00,739.45 752.50,739.44 752.00,739.42 751.50,739.41 751.00,739.40 750.50,739.38 750.00,739.37 749.50,739.35 749.00,739.34 748.50,739.33 748.00,739.31 747.50,739.30 747.00,739.28 746.50,739.27 746.00,739.25 745.50,739.24 745.00,739.23 744.50,739.21 744.00,739.20 743.50,739.18 743.00,739.17 742.50,739.15 742.00,739.14 741.50,739.13 741.00,739.11 740.50,739.10 740.00,739.08 739.50,739.07 739.00,739.05 738.50,739.04 738.00,739.03 737.50,739.01 737.00,739.00 736.50,738.98 736.00,738.97 735.50,738.95 735.00,738.94 734.50,738.93 734.00,738.91 733.50,738.90 733.00,738.88 732.50,738.87 732.00,738.86 731.50,738.84 731.00,738.83 730.50,738.81 730.00,738.80 729.50,738.78 729.00,738.77 728.50,738.76 728.00,738.74 727.50,738.73 727.00,738.71 726.50,738.70 726.00,738.68 725.50,738.67 725.00,738.66 724.50,738.64 724.00,738.63 723.50,738.61 723.00,738.60 722.50,738.58 722.00,738.57 721.50,738.56 721.00,738.54 720.50,738.53 720.00,738.51 719.50,738.50 719.00,738.48 718.50,738.47 718.00,738.46 717.50,738.44 717.00,738.43 716.50,738.41 716.00,738.40 715.50,738.38 715.00,738.37 714.50,738.36 714.00,738.34 713.50,738.33 713.00,738.31 712.50,738.30 712.00,738.28 711.50,738.27 711.00,738.26 710.50,738.24 710.00,738.23 709.50,738.21 709.00,738.20 708.50,738.19 708.00,738.17 707.50,738.16 707.00,738.14 706.50,738.13 706.00,738.11 705.50,738.10 705.00,738.09 704.50,738.07 704.00,738.06 703.50,738.04 703.00,738.03" fill="#c2f8c2" stroke="none"/>
<polygon points="703.00,737.69 703.50,737.70 704.00,737.71 704.50,737.72 705.00,737.74 705.50,737.75 706.00,737.76 706.50,737.78 707.00,737.79 707.50,737.80 708.00,737.81 708.50,737.83 709.00,737.84 709.50,737.85 710.00,737.86 710.50,737.88 711.00,737.89 711.50,737.90 712.00,737.91 712.50,737.93 713.00,737.94 713.50,737.95 714.00,737.96 714.50,737.98 715.00,737.99 715.50,738.00 716.00,738.01 716.50,738.02 717.00,738.04 717.50,738.05 718.00,738.06 718.50,738.07 719.00,738.09 719.50,738.10 720.00,738.11 720.50,738.12 721.00,738.14 721.50,738.15 722.00,738.16 722.50,738.17 723.00,738.18 723.50,738.20 724.00,738.21 724.50,738.22 725.00,738.23 725.50,738.24 726.00,738.26 726.50,738.27 727.00,738.28 727.50,738.29 728.00,738.30 728.50,738.32 729.00,738.33 729.50,738.34 730.00,738.35 730.50,738.36 731.00,738.38 731.50,738.39 732.00,738.40 732.50,738.41 733.00,738.42 733.50,738.44 734.00,738.45 734.50,738.46 735.00,738.47 735.50,738.48 736.00,738.49 736.50,738.51 737.00,738.52 737.50,738.53 738.00,738.54 738.50,738.55 739.00,738.56 739.50,738.58 740.00,738.59 740.50,738.60 741.00,738.61 741.50,738.62 742.00,738.63 742.50,738.64 743.00,738.66 743.50,738.67 744.00,738.68 744.50,738.69 745.00,738.70 745.50,738.71 746.00,738.72 746.50,738.73 747.00,738.75 747.50,738.76 748.00,738.77 748.50,738.78 749.00,738.79 749.50,738.80 750.00,738.81 750.50,738.82 751.00,738.83 751.50,738.84 752.00,738.86 752.50,738.87 753.00,738.88 753.50,738.89 754.00,738.90 754.50,738.91 755.00,738.92 755.50,738.93 756.00,738.94 756.50,738.95 757.00,738.96 757.50,738.97 758.00,738.98 758.50,738.99 759.00,739.00 759.50,739.02 760.00,739.03 760.50,739.04 761.00,739.05 761.50,739.06 762.00,739.07 762.50,739.08 763.00,739.09 763.50,739.10 764.00,739.11 764.50,739.12 765.00,739.13 765.50,739.14 766.00,739.15 766.50,739.16 767.00,739.17 767.50,739.18 768.00,739.20 768.50,739.21 769.00,739.22 769.50,739.23 770.00,739.24 770.50,739.25 771.00,739.26 771.50,739.27 772.00,739.28 772.50,739.29 773.00,739.30 773.50,739.31 774.00,739.32 774.50,739.33 775.00,739.34 775.50,739.35 776.00,739.36 776.50,739.37 777.00,739.38 777.50,739.39 778.00,739.40 778.50,739.41 779.00,739.42 779.50,739.43 780.00,739.44 780.50,739.45 781.00,739.46 781.50,739.47 782.00,739.48 782.50,739.48 783.00,739.49 783.50,739.50 784.00,739.51 784.50,739.52 785.00,739.53 785.50,739.54 786.00,739.55 786.50,739.56 787.00,739.57 787.50,739.58 788.00,739.59 788.50,739.59 789.00,739.60 789.50,739.61 790.00,739.62 790.50,739.63 791.00,739.64 791.50,739.65 792.00,739.66 792.50,739.66 793.00,739.67 793.50,739.68 794.00,739.69 794.50,739.70 795.00,739.71 795.50,739.71 796.00,739.72 796.50,739.73 797.00,739.74 797.50,739.75 798.00,739.75 798.50,739.76 799.00,739.77 799.50,739.78 800.00,739.78 800.50,739.79 801.00,739.80 801.50,739.81 802.00,739.81 802.50,739.82 803.00,739.83 803.50,739.83 804.00,739.84 804.50,739.85 805.00,739.86 805.50,739.86 806.00,739.87 806.50,739.88 807.00,739.88 807.50,739.89 808.00,739.90 808.50,739.90 809.00,739.91 809.50,739.91 810.00,739.92 810.50,739.93 811.00,739.93 811.50,739.94 812.00,739.94 812.50,739.95 813.00,739.95 813.50,739.96 814.00,739.97 814.50,739.97 815.00,739.98 815.50,739.98 816.00,739.99 816.50,739.99 817.00,739.99 817.50,740.00 818.00,740.00 818.50,740.01 819.00,740.01 819.50,740.02 820.00,740.02 820.50,740.02 821.00,740.03 821.50,740.03 822.00,740.04 822.50,740.04 823.00,740.04 823.50,740.05 824.00,740.05 824.50,740.05 825.00,740.05 825.50,740.06 826.00,740.06 826.50,740.06 827.00,740.06 827.50,740.07 828.00,740.07 828.50,740.07 829.00,740.07 829.50,740.07 830.00,740.07 830.50,740.07 831.00,740.08 831.50,740.08 832.00,740.08 832.50,740.08 833.00,740.08 833.50,740.08 834.00,740.08 834.50,740.08 835.00,740.08 835.50,740.08 836.00,740.08 836.50,740.07 837.00,740.07 837.50,740.07 838.00,740.07 838.50,740.07 839.00,740.07 839.50,740.06 840.00,740.06 840.50,740.06 841.00,740.06 841.50,740.05 842.00,740.05 842.50,740.04 843.00,740.04 843.50,740.04 844.00,740.03 844.50,740.03 845.00,740.02 845.50,740.02 846.00,740.01 846.50,740.01 847.00,740.00 847.50,739.99 848.00,739.99 848.50,739.98 849.00,739.97 849.50,739.96 850.00,739.96 850.50,739.95 851.00,739.94 851.50,739.93 852.00,739.92 852.50,739.91 853.00,739.90 853.50,739.89 854.00,739.88 854.50,739.87 855.00,739.86 855.50,739.84 856.00,739.83 856.50,739.82 857.00,739.81 857.50,739.79 858.00,739.78 858.50,739.76 859.00,739.75 859.50,739.73 860.00,739.72 860.50,739.70 861.00,739.68 861.50,739.66 862.00,739.65 862.50,739.63 863.00,739.61 863.50,739.59 864.00,739.57 864.50,739.55 865.00,739.52 865.50,739.50 866.00,739.48 866.50,739.46 867.00,739.43 867.50,739.41 868.00,739.38 868.50,739.35 869.00,739.33 869.50,739.30 870.00,739.27 870.50,739.24 871.00,739.21 871.50,739.18 872.00,739.15 872.50,739.11 873.00,739.08 873.50,739.05 874.00,739.01 874.50,738.97 875.00,738.94 875.50,738.90 876.00,738.86 876.50,738.82 877.00,738.78 877.50,738.73 878.00,738.69 878.50,738.64 879.00,738.60 879.50,738.55 880.00,738.50 880.50,738.45 881.00,738.40 881.50,738.34 882.00,738.29 882.50,738.23 883.00,738.18 883.50,738.12 884.00,738.05 884.50,737.99 885.00,737.93 885.50,737.86 886.00,737.79 886.50,737.72 887.00,737.65 887.50,737.58 888.00,737.50 888.50,737.43 889.00,737.35 889.50,737.26 890.00,737.18 890.50,737.09 891.00,737.00 891.50,736.91 892.00,736.81 892.50,736.72 893.00,736.62 893.50,736.51 894.00,736.41 894.50,736.30 895.00,736.19 895.50,736.07 896.00,735.95 896.50,735.83 897.00,735.70 897.50,735.57 898.00,735.44 898.50,735.30 899.00,735.16 899.50,735.01 900.00,734.86 900.50,734.70 901.00,734.54 901.50,734.37 902.00,734.20 902.50,734.02 903.00,733.84 903.50,733.65 904.00,733.46 904.50,733.25 905.00,733.04 905.50,732.83 906.00,732.60 906.50,732.37 907.00,732.13 907.50,731.88 908.00,731.63 908.50,731.36 909.00,731.08 909.50,730.80 910.00,730.50 910.50,730.19 911.00,729.86 911.50,729.53 912.00,729.17 912.50,728.81 913.00,728.43 913.50,728.03 914.00,727.61 914.50,727.17 915.00,726.72 915.50,726.24 916.00,725.73 916.50,725.20 917.00,724.64 917.50,724.05 918.00,723.43 918.50,722.78 919.00,722.08 919.50,721.35 920.00,720.57 920.50,719.75 921.00,718.87 921.50,717.94 922.00,716.96 922.50,715.91 923.00,714.79 923.50,713.60 924.00,712.34 924.50,710.99 925.00,709.55 925.50,708.03 926.00,706.40 926.50,704.66 927.00,702.82 927.50,700.86 928.00,698.77 928.50,696.55 929.00,694.20 929.50,691.70 930.00,689.06 930.50,686.25 931.00,683.29 931.50,680.16 932.00,676.85 932.50,673.37 933.00,669.71 933.50,671.38 934.00,674.71 934.50,677.93 935.00,681.04 935.50,684.04 936.00,686.92 936.50,689.68 937.00,692.33 937.50,694.87 938.00,697.29 938.50,699.60 939.00,701.80 939.50,703.89 940.00,705.88 940.50,707.77 941.00,709.56 941.50,711.25 942.00,712.86 942.50,714.37 943.00,715.80 943.50,717.15 944.00,718.42 944.50,719.62 945.00,720.75 945.50,721.81 946.00,722.81 946.50,723.75 947.00,724.64 947.50,725.47 948.00,726.25 948.50,726.99 949.00,727.68 949.50,728.34 950.00,728.95 950.50,729.53 951.00,730.08 951.50,730.60 952.00,731.09 952.50,731.55 953.00,731.99 953.50,732.41 954.00,732.80 954.50,733.18 955.00,733.53 955.50,733.87 956.00,734.20 956.50,734.51 957.00,734.80 957.50,735.09 958.00,735.36 958.50,735.62 959.00,735.87 959.50,736.11 960.00,736.34 960.50,736.56 961.00,736.78 961.50,736.99 962.00,737.19 962.50,737.38 963.00,737.57 963.50,737.75 964.00,737.93 964.50,738.10 965.00,738.26 965.50,738.43 966.00,738.58 966.50,738.73 967.00,738.88 967.50,739.03 968.00,739.17 968.50,739.30 969.00,739.44 969.50,739.57 970.00,739.69 970.50,739.82 971.00,739.94 971.50,740.06 972.00,740.17 972.50,740.28 973.00,740.39 973.50,740.50 974.00,740.61 974.50,740.71 975.00,740.81 975.50,740.91 976.00,741.00 976.50,741.10 977.00,741.19 977.50,741.28 978.00,741.37 978.50,741.46 979.00,741.54 979.50,741.63 980.00,741.71 980.50,741.79 981.00,741.87 981.50,741.94 982.00,742.02 982.50,742.09 983.00,742.17 983.50,742.24 984.00,742.31 984.50,742.38 985.00,742.45 985.50,742.51 986.00,742.58 986.50,742.64 987.00,742.71 987.50,742.77 988.00,742.83 988.50,742.89 989.00,742.95 989.50,743.01 990.00,743.07 990.50,743.13 991.00,743.18 991.50,743.24 992.00,743.29 992.50,743.34 993.00,743.40 993.50,743.45 994.00,743.50 994.50,743.55 995.00,743.60 995.50,743.65 996.00,743.70 996.50,743.75 997.00,743.80 997.50,743.84 998.00,743.89 998.50,743.93 999.00,743.98 999.50,744.02 1000.00,744.07 1000.50,744.11 1001.00,744.15 1001.50,744.20 1002.00,744.24 1002.50,744.28 1003.00,744.32 1003.50,744.36 1004.00,744.40 1004.50,744.44 1005.00,744.48 1005.50,744.52 1006.00,744.56 1006.50,744.59 1007.00,744.63 1007.50,744.67 1008.00,744.71 1008.50,744.74 1009.00,744.78 1009.50,744.81 1010.00,744.85 1010.50,744.88 1011.00,744.92 1011.50,744.95 1012.00,744.99 1012.50,745.02 1013.00,745.05 1013.50,745.09 1014.00,745.12 1014.50,745.15 1015.00,745.19 1015.50,745.22 1016.00,745.25 1016.50,745.28 1017.00,745.31 1017.50,745.34 1018.00,745.37 1018.50,745.40 1019.00,745.43 1019.50,745.46 1020.00,745.49 1020.50,745.52 1021.00,745.55 1021.50,745.58 1022.00,745.61 1022.50,745.64 1023.00,745.67 1023.50,745.70 1024.00,745.72 1024.50,745.75 1025.00,745.78 1025.50,745.81 1026.00,745.83 1026.50,745.86 1027.00,745.89 1027.50,745.91 1028.00,745.94 1028.50,745.97 1029.00,745.99 1029.50,746.02 1030.00,746.05 1030.50,746.07 1031.00,746.10 1031.50,746.12 1032.00,746.15 1032.50,746.17 1033.00,746.20 1033.50,746.22 1034.00,746.25 1034.50,746.27 1035.00,746.30 1035.50,746.32 1036.00,746.35 1036.50,746.37 1037.00,746.39 1037.50,746.42 1038.00,746.44 1038.50,746.47 1039.00,746.49 1039.50,746.51 1040.00,746.54 1040.50,746.56 1041.00,746.58 1041.50,746.61 1042.00,746.63 1042.50,746.65 1043.00,746.67 1043.50,746.70 1044.00,746.72 1044.50,746.74 1045.00,746.76 1045.50,746.79 1046.00,746.81 1046.50,746.83 1047.00,746.85 1047.50,746.87 1048.00,746.90 1048.50,746.92 1049.00,746.94 1049.50,746.96 1050.00,746.98 1050.50,747.00 1051.00,747.02 1051.50,747.05 1052.00,747.07 1052.50,747.09 1053.00,747.11 1053.50,747.13 1054.00,747.15 1054.50,747.17 1055.00,747.19 1055.50,747.21 1056.00,747.23 1056.50,747.25 1057.00,747.27 1057.50,747.29 1058.00,747.31 1058.50,747.33 1059.00,747.35 1059.50,747.37 1060.00,747.39 1060.50,747.41 1061.00,747.43 1061.50,747.45 1062.00,747.47 1062.50,747.49 1063.00,747.51 1063.50,747.53 1064.00,747.55 1064.50,747.57 1065.00,747.59 1065.50,747.61 1066.00,747.63 1066.50,747.65 1067.00,747.67 1067.50,747.69 1068.00,747.71 1068.50,747.73 1069.00,747.74 1069.50,747.76 1070.00,747.78 1070.50,747.80 1071.00,747.82 1071.50,747.84 1072.00,747.86 1072.50,747.88 1073.00,747.89 1073.50,747.91 1074.00,747.93 1074.50,747.95 1075.00,747.97 1075.50,747.99 1076.00,748.01 1076.50,748.02 1077.00,748.04 1077.50,748.06 1078.00,748.08 1078.50,748.10 1079.00,748.12 1079.50,748.13 1080.00,748.15 1080.50,748.17 1081.00,748.19 1081.50,748.21 1082.00,748.22 1082.50,748.24 1083.00,748.26 1083.50,748.28 1084.00,748.30 1084.50,748.31 1085.00,748.33 1085.50,748.35 1086.00,748.37 1086.50,748.38 1087.00,748.40 1087.50,748.42 1088.00,748.44 1088.50,748.45 1089.00,748.47 1089.50,748.49 1090.00,748.51 1090.50,748.52 1091.00,748.54 1091.50,748.56 1092.00,748.58 1092.50,748.59 1093.00,748.61 1093.50,748.63 1094.00,748.65 1094.50,748.66 1095.00,748.68 1095.50,748.70 1096.00,748.71 1096.50,748.73 1097.00,748.75 1097.50,748.77 1098.00,748.78 1098.50,748.80 1099.00,748.82 1099.50,748.83 1100.00,748.85 1100.50,748.87 1101.00,748.89 1101.50,748.90 1102.00,748.92 1102.50,748.94 1103.00,748.95 1103.50,748.97 1104.00,748.99 1104.50,749.00 1105.00,749.02 1105.50,749.04 1106.00,749.05 1106.50,749.07 1107.00,749.09 1107.50,749.10 1108.00,749.12 1108.50,749.14 1109.00,749.15 1109.50,749.17 1110.00,749.19 1110.50,749.20 1111.00,749.22 1111.50,749.24 1112.00,749.25 1112.50,749.27 1113.00,749.29 1113.50,749.30 1114.00,749.32 1114.50,749.33 1115.00,749.35 1115.50,749.37 1116.00,749.38 1116.50,749.40 1117.00,749.42 1117.50,749.43 1118.00,749.45 1118.50,749.47 1119.00,749.48 1119.50,749.50 1120.00,749.51 1120.50,749.53 1121.00,749.55 1121.50,749.56 1122.00,749.58 1122.50,749.60 1123.00,749.61 1123.50,749.63 1124.00,749.64 1124.50,749.66 1125.00,749.68 1125.50,749.69 1125.50,750.07 1125.00,750.06 1124.50,750.04 1124.00,750.03 1123.50,750.01 1123.00,750.00 1122.50,749.98 1122.00,749.97 1121.50,749.96 1121.00,749.94 1120.50,749.93 1120.00,749.91 1119.50,749.90 1119.00,749.88 1118.50,749.87 1118.00,749.86 1117.50,749.84 1117.00,749.83 1116.50,749.81 1116.00,749.80 1115.50,749.78 1115.00,749.77 1114.50,749.76 1114.00,749.74 1113.50,749.73 1113.00,749.71 1112.50,749.70 1112.00,749.68 1111.50,749.67 1111.00,749.66 1110.50,749.64 1110.00,749.63 1109.50,749.61 1109.00,749.60 1108.50,749.59 1108.00,749.57 1107.50,749.56 1107.00,749.54 1106.50,749.53 1106.00,749.51 1105.50,749.50 1105.00,749.49 1104.50,749.47 1104.00,749.46 1103.50,749.44 1103.00,749.43 1102.50,749.41 1102.00,749.40 1101.50,749.39 1101.00,749.37 1100.50,749.36 1100.00,749.34 1099.50,749.33 1099.00,749.31 1098.50,749.30 1098.00,749.29 1097.50,749.27 1097.00,749.26 1096.50,749.24 1096.00,749.23 1095.50,749.21 1095.00,749.20 1094.50,749.19 1094.00,749.17 1093.50,749.16 1093.00,749.14 1092.50,749.13 1092.00,749.12 1091.50,749.10 1091.00,749.09 1090.50,749.07 1090.00,749.06 1089.50,749.04 1089.00,749.03 1088.50,749.02 1088.00,749.00 1087.50,748.99 1087.00,748.97 1086.50,748.96 1086.00,748.94 1085.50,748.93 1085.00,748.92 1084.50,748.90 1084.00,748.89 1083.50,748.87 1083.00,748.86 1082.50,748.84 1082.00,748.83 1081.50,748.82 1081.00,748.80 1080.50,748.79 1080.00,748.77 1079.50,748.76 1079.00,748.74 1078.50,748.73 1078.00,748.72 1077.50,748.70 1077.00,748.69 1076.50,748.67 1076.00,748.66 1075.50,748.64 1075.00,748.63 1074.50,748.62 1074.00,748.60 1073.50,748.59 1073.00,748.57 1072.50,748.56 1072.00,748.54 1071.50,748.53 1071.00,748.52 1070.50,748.50 1070.00,748.49 1069.50,748.47 1069.00,748.46 1068.50,748.45 1068.00,748.43 1067.50,748.42 1067.00,748.40 1066.50,748.39 1066.00,748.37 1065.50,748.36 1065.00,748.35 1064.50,748.33 1064.00,748.32 1063.50,748.30 1063.00,748.29 1062.50,748.27 1062.00,748.26 1061.50,748.25 1061.00,748.23 1060.50,748.22 1060.00,748.20 1059.50,748.19 1059.00,748.17 1058.50,748.16 1058.00,748.15 1057.50,748.13 1057.00,748.12 1056.50,748.10 1056.00,748.09 1055.50,748.07 1055.00,748.06 1054.50,748.05 1054.00,748.03 1053.50,748.02 1053.00,748.00 1052.50,747.99 1052.00,747.98 1051.50,747.96 1051.00,747.95 1050.50,747.93 1050.00,747.92 1049.50,747.90 1049.00,747.89 1048.50,747.88 1048.00,747.86 1047.50,747.85 1047.00,747.83 1046.50,747.82 1046.00,747.80 1045.50,747.79 1045.00,747.78 1044.50,747.76 1044.00,747.75 1043.50,747.73 1043.00,747.72 1042.50,747.70 1042.00,747.69 1041.50,747.68 1041.00,747.66 1040.50,747.65 1040.00,747.63 1039.50,747.62 1039.00,747.60 1038.50,747.59 1038.00,747.58 1037.50,747.56 1037.00,747.55 1036.50,747.53 1036.00,747.52 1035.50,747.50 1035.00,747.49 1034.50,747.48 1034.00,747.46 1033.50,747.45 1033.00,747.43 1032.50,747.42 1032.00,747.40 1031.50,747.39 1031.00,747.38 1030.50,747.36 1030.00,747.35 1029.50,747.33 1029.00,747.32 1028.50,747.31 1028.00,747.29 1027.50,747.28 1027.00,747.26 1026.50,747.25 1026.00,747.23 1025.50,747.22 1025.00,747.21 1024.50,747.19 1024.00,747.18 1023.50,747.16 1023.00,747.15 1022.50,747.13 1022.00,747.12 1021.50,747.11 1021.00,747.09 1020.50,747.08 1020.00,747.06 1019.50,747.05 1019.00,747.03 1018.50,747.02 1018.00,747.01 1017.50,746.99 1017.00,746.98 1016.50,746.96 1016.00,746.95 1015.50,746.93 1015.00,746.92 1014.50,746.91 1014.00,746.89 1013.50,746.88 1013.00,746.86 1012.50,746.85 1012.00,746.84 1011.50,746.82 1011.00,746.81 1010.50,746.79 1010.00,746.78 1009.50,746.76 1009.00,746.75 1008.50,746.74 1008.00,746.72 1007.50,746.71 1007.00,746.69 1006.50,746.68 1006.00,746.66 1005.50,746.65 1005.00,746.64 1004.50,746.62 1004.00,746.61 1003.50,746.59 1003.00,746.58 1002.50,746.56 1002.00,746.55 1001.50,746.54 1001.00,746.52 1000.50,746.51 1000.00,746.49 999.50,746.48 999.00,746.46 998.50,746.45 998.00,746.44 997.50,746.42 997.00,746.41 996.50,746.39 996.00,746.38 995.50,746.36 995.00,746.35 994.50,746.34 994.00,746.32 993.50,746.31 993.00,746.29 992.50,746.28 992.00,746.26 991.50,746.25 991.00,746.24 990.50,746.22 990.00,746.21 989.50,746.19 989.00,746.18 988.50,746.17 988.00,746.15 987.50,746.14 987.00,746.12 986.50,746.11 986.00,746.09 985.50,746.08 985.00,746.07 984.50,746.05 984.00,746.04 983.50,746.02 983.00,746.01 982.50,745.99 982.00,745.98 981.50,745.97 981.00,745.95 980.50,745.94 980.00,745.92 979.50,745.91 979.00,745.89 978.50,745.88 978.00,745.87 977.50,745.85 977.00,745.84 976.50,745.82 976.00,745.81 975.50,745.79 975.00,745.78 974.50,745.77 974.00,745.75 973.50,745.74 973.00,745.72 972.50,745.71 972.00,745.70 971.50,745.68 971.00,745.67 970.50,745.65 970.00,745.64 969.50,745.62 969.00,745.61 968.50,745.60 968.00,745.58 967.50,745.57 967.00,745.55 966.50,745.54 966.00,745.52 965.50,745.51 965.00,745.50 964.50,745.48 964.00,745.47 963.50,745.45 963.00,745.44 962.50,745.42 962.00,745.41 961.50,745.40 961.00,745.38 960.50,745.37 960.00,745.35 959.50,745.34 959.00,745.32 958.50,745.31 958.00,745.30 957.50,745.28 957.00,745.27 956.50,745.25 956.00,745.24 955.50,745.22 955.00,745.21 954.50,745.20 954.00,745.18 953.50,745.17 953.00,745.15 952.50,745.14 952.00,745.12 951.50,745.11 951.00,745.10 950.50,745.08 950.00,745.07 949.50,745.05 949.00,745.04 948.50,745.03 948.00,745.01 947.50,745.00 947.00,744.98 946.50,744.97 946.00,744.95 945.50,744.94 945.00,744.93 944.50,744.91 944.00,744.90 943.50,744.88 943.00,744.87 942.50,744.85 942.00,744.84 941.50,744.83 941.00,744.81 940.50,744.80 940.00,744.78 939.50,744.77 939.00,744.75 938.50,744.74 938.00,744.73 937.50,744.71 937.00,744.70 936.50,744.68 936.00,744.67 935.50,744.65 935.00,744.64 934.50,744.63 934.00,744.61 933.50,744.60 933.00,744.58 932.50,744.57 932.00,744.55 931.50,744.54 931.00,744.53 930.50,744.51 930.00,744.50 929.50,744.48 929.00,744.47 928.50,744.46 928.00,744.44 927.50,744.43 927.00,744.41 926.50,744.40 926.00,744.38 925.50,744.37 925.00,744.36 924.50,744.34 924.00,744.33 923.50,744.31 923.00,744.30 922.50,744.28 922.00,744.27 921.50,744.26 921.00,744.24 920.50,744.23 920.00,744.21 919.50,744.20 919.00,744.18 918.50,744.17 918.00,744.16 917.50,744.14 917.00,744.13 916.50,744.11 916.00,744.10 915.50,744.08 915.00,744.07 914.50,744.06 914.00,744.04 913.50,744.03 913.00,744.01 912.50,744.00 912.00,743.99 911.50,743.97 911.00,743.96 910.50,743.94 910.00,743.93 909.50,743.91 909.00,743.90 908.50,743.89 908.00,743.87 907.50,743.86 907.00,743.84 906.50,743.83 906.00,743.81 905.50,743.80 905.00,743.79 904.50,743.77 904.00,743.76 903.50,743.74 903.00,743.73 902.50,743.71 902.00,743.70 901.50,743.69 901.00,743.67 900.50,743.66 900.00,743.64 899.50,743.63 899.00,743.61 898.50,743.60 898.00,743.59 897.50,743.57 897.00,743.56 896.50,743.54 896.00,743.53 895.50,743.51 895.00,743.50 894.50,743.49 894.00,743.47 893.50,743.46 893.00,743.44 892.50,743.43 892.00,743.41 891.50,743.40 891.00,743.39 890.50,743.37 890.00,743.36 889.50,743.34 889.00,743.33 888.50,743.32 888.00,743.30 887.50,743.29 887.00,743.27 886.50,743.26 886.00,743.24 885.50,743.23 885.00,743.22 884.50,743.20 884.00,743.19 883.50,743.17 883.00,743.16 882.50,743.14 882.00,743.13 881.50,743.12 881.00,743.10 880.50,743.09 880.00,743.07 879.50,743.06 879.00,743.04 878.50,743.03 878.00,743.02 877.50,743.00 877.00,742.99 876.50,742.97 876.00,742.96 875.50,742.94 875.00,742.93 874.50,742.92 874.00,742.90 873.50,742.89 873.00,742.87 872.50,742.86 872.00,742.85 871.50,742.83 871.00,742.82 870.50,742.80 870.00,742.79 869.50,742.77 869.00,742.76 868.50,742.75 868.00,742.73 867.50,742.72 867.00,742.70 866.50,742.69 866.00,742.67 865.50,742.66 865.00,742.65 864.50,742.63 864.00,742.62 863.50,742.60 863.00,742.59 862.50,742.57 862.00,742.56 861.50,742.55 861.00,742.53 860.50,742.52 860.00,742.50 859.50,742.49 859.00,742.47 858.50,742.46 858.00,742.45 857.50,742.43 857.00,742.42 856.50,742.40 856.00,742.39 855.50,742.37 855.00,742.36 854.50,742.35 854.00,742.33 853.50,742.32 853.00,742.30 852.50,742.29 852.00,742.27 851.50,742.26 851.00,742.25 850.50,742.23 850.00,742.22 849.50,742.20 849.00,742.19 848.50,742.18 848.00,742.16 847.50,742.15 847.00,742.13 846.50,742.12 846.00,742.10 845.50,742.09 845.00,742.08 844.50,742.06 844.00,742.05 843.50,742.03 843.00,742.02 842.50,742.00 842.00,741.99 841.50,741.98 841.00,741.96 840.50,741.95 840.00,741.93 839.50,741.92 839.00,741.90 838.50,741.89 838.00,741.88 837.50,741.86 837.00,741.85 836.50,741.83 836.00,741.82 835.50,741.80 835.00,741.79 834.50,741.78 834.00,741.76 833.50,741.75 833.00,741.73 832.50,741.72 832.00,741.71 831.50,741.69 831.00,741.68 830.50,741.66 830.00,741.65 829.50,741.63 829.00,741.62 828.50,741.61 828.00,741.59 827.50,741.58 827.00,741.56 826.50,741.55 826.00,741.53 825.50,741.52 825.00,741.51 824.50,741.49 824.00,741.48 823.50,741.46 823.00,741.45 822.50,741.43 822.00,741.42 821.50,741.41 821.00,741.39 820.50,741.38 820.00,741.36 819.50,741.35 819.00,741.33 818.50,741.32 818.00,741.31 817.50,741.29 817.00,741.28 816.50,741.26 816.00,741.25 815.50,741.23 815.00,741.22 814.50,741.21 814.00,741.19 813.50,741.18 813.00,741.16 812.50,741.15 812.00,741.13 811.50,741.12 811.00,741.11 810.50,741.09 810.00,741.08 809.50,741.06 809.00,741.05 808.50,741.04 808.00,741.02 807.50,741.01 807.00,740.99 806.50,740.98 806.00,740.96 805.50,740.95 805.00,740.94 804.50,740.92 804.00,740.91 803.50,740.89 803.00,740.88 802.50,740.86 802.00,740.85 801.50,740.84 801.00,740.82 800.50,740.81 800.00,740.79 799.50,740.78 799.00,740.76 798.50,740.75 798.00,740.74 797.50,740.72 797.00,740.71 796.50,740.69 796.00,740.68 795.50,740.66 795.00,740.65 794.50,740.64 794.00,740.62 793.50,740.61 793.00,740.59 792.50,740.58 792.00,740.57 791.50,740.55 791.00,740.54 790.50,740.52 790.00,740.51 789.50,740.49 789.00,740.48 788.50,740.47 788.00,740.45 787.50,740.44 787.00,740.42 786.50,740.41 786.00,740.39 785.50,740.38 785.00,740.37 784.50,740.35 784.00,740.34 783.50,740.32 783.00,740.31 782.50,740.29 782.00,740.28 781.50,740.27 781.00,740.25 780.50,740.24 780.00,740.22 779.50,740.21 779.00,740.19 778.50,740.18 778.00,740.17 777.50,740.15 777.00,740.14 776.50,740.12 776.00,740.11 775.50,740.09 775.00,740.08 774.50,740.07 774.00,740.05 773.50,740.04 773.00,740.02 772.50,740.01 772.00,740.00 771.50,739.98 771.00,739.97 770.50,739.95 770.00,739.94 769.50,739.92 769.00,739.91 768.50,739.90 768.00,739.88 767.50,739.87 767.00,739.85 766.50,739.84 766.00,739.82 765.50,739.81 765.00,739.80 764.50,739.78 764.00,739.77 763.50,739.75 763.00,739.74 762.50,739.72 762.00,739.71 761.50,739.70 761.00,739.68 760.50,739.67 760.00,739.65 759.50,739.64 759.00,739.62 758.50,739.61 758.00,739.60 757.50,739.58 757.00,739.57 756.50,739.55 756.00,739.54 755.50,739.52 755.00,739.51 754.50,739.50 754.00,739.48 753.50,739.47 753.00,739.45 752.50,739.44 752.00,739.42 751.50,739.41 751.00,739.40 750.50,739.38 750.00,739.37 749.50,739.35 749.00,739.34 748.50,739.33 748.00,739.31 747.50,739.30 747.00,739.28 746.50,739.27 746.00,739.25 745.50,739.24 745.00,739.23 744.50,739.21 744.00,739.20 743.50,739.18 743.00,739.17 742.50,739.15 742.00,739.14 741.50,739.13 741.00,739.11 740.50,739.10 740.00,739.08 739.50,739.07 739.00,739.05 738.50,739.04 738.00,739.03 737.50,739.01 737.00,739.00 736.50,738.98 736.00,738.97 735.50,738.95 735.00,738.94 734.50,738.93 734.00,738.91 733.50,738.90 733.00,738.88 732.50,738.87 732.00,738.86 731.50,738.84 731.00,738.83 730.50,738.81 730.00,738.80 729.50,738.78 729.00,738.77 728.50,738.76 728.00,738.74 727.50,738.73 727.00,738.71 726.50,738.70 726.00,738.68 725.50,738.67 725.00,738.66 724.50,738.64 724.00,738.63 723.50,738.61 723.00,738.60 722.50,738.58 722.00,738.57 721.50,738.56 721.00,738.54 720.50,738.53 720.00,738.51 719.50,738.50 719.00,738.48 718.50,738.47 718.00,738.46 717.50,738.44 717.00,738.43 716.50,738.41 716.00,738.40 715.50,738.38 715.00,738.37 714.50,738.36 714.00,738.34 713.50,738.33 713.00,738.31 712.50,738.30 712.00,738.28 711.50,738.27 711.00,738.26 710.50,738.24 710.00,738.23 709.50,738.21 709.00,738.20 708.50,738.19 708.00,738.17 707.50,738.16 707.00,738.14 706.50,738.13 706.00,738.11 705.50,738.10 705.00,738.09 704.50,738.07 704.00,738.06 703.50,738.04 703.00,738.03" fill="#c4e4d3" stroke="none"/>
<polyline points="703.00,737.69 703.50,737.70 704.00,737.71 704.50,737.72 705.00,737.74 705.50,737.75 706.00,737.76 706.50,737.78 707.00,737.79 707.50,737.80 708.00,737.81 708.50,737.83 709.00,737.84 709.50,737.85 710.00,737.86 710.50,737.88 711.00,737.89 711.50,737.90 712.00,737.91 712.50,737.93 713.00,737.94 713.50,737.95 714.00,737.96 714.50,737.98 715.00,737.99 715.50,738.00 716.00,738.01 716.50,738.02 717.00,738.04 717.50,738.05 718.00,738.06 718.50,738.07 719.00,738.09 719.50,738.10 720.00,738.11 720.50,738.12 721.00,738.14 721.50,738.15 722.00,738.16 722.50,738.17 723.00,738.18 723.50,738.20 724.00,738.21 724.50,738.22 725.00,738.23 725.50,738.24 726.00,738.26 726.50,738.27 727.00,738.28 727.50,738.29 728.00,738.30 728.50,738.32 729.00,738.33 729.50,738.34 730.00,738.35 730.50,738.36 731.00,738.38 731.50,738.39 732.00,738.40 732.50,738.41 733.00,738.42 733.50,738.44 734.00,738.45 734.50,738.46 735.00,738.47 735.50,738.48 736.00,738.49 736.50,738.51 737.00,738.52 737.50,738.53 738.00,738.54 738.50,738.55 739.00,738.56 739.50,738.58 740.00,738.59 740.50,738.60 741.00,738.61 741.50,738.62 742.00,738.63 742.50,738.64 743.00,738.66 743.50,738.67 744.00,738.68 744.50,738.69 745.00,738.70 745.50,738.71 746.00,738.72 746.50,738.73 747.00,738.75 747.50,738.76 748.00,738.77 748.50,738.78 749.00,738.79 749.50,738.80 750.00,738.81 750.50,738.82 751.00,738.83 751.50,738.84 752.00,738.86 752.50,738.87 753.00,738.88 753.50,738.89 754.00,738.90 754.50,738.91 755.00,738.92 755.50,738.93 756.00,738.94 756.50,738.95 757.00,738.96 757.50,738.97 758.00,738.98 758.50,738.99 759.00,739.00 759.50,739.02 760.00,739.03 760.50,739.04 761.00,739.05 761.50,739.06 762.00,739.07 762.50,739.08 763.00,739.09 763.50,739.10 764.00,739.11 764.50,739.12 765.00,739.13 765.50,739.14 766.00,739.15 766.50,739.16 767.00,739.17 767.50,739.18 768.00,739.19 768.50,739.20 769.00,739.21 769.50,739.22 770.00,739.22 770.50,739.23 771.00,739.24 771.50,739.25 772.00,739.26 772.50,739.27 773.00,739.28 773.50,739.29 774.00,739.30 774.50,739.31 775.00,739.32 775.50,739.33 776.00,739.34 776.50,739.34 777.00,739.35 777.50,739.36 778.00,739.37 778.50,739.38 779.00,739.39 779.50,739.40 780.00,739.40 780.50,739.41 781.00,739.42 781.50,739.43 782.00,739.44 782.50,739.45 783.00,739.45 783.50,739.46 784.00,739.47 784.50,739.48 785.00,739.49 785.50,739.49 786.00,739.50 786.50,739.51 787.00,739.52 787.50,739.52 788.00,739.53 788.50,739.54 789.00,739.55 789.50,739.55 790.00,739.56 790.50,739.57 791.00,739.57 791.50,739.58 792.00,739.59 792.50,739.59 793.00,739.60 793.50,739.61 794.00,739.61 794.50,739.62 795.00,739.63 795.50,739.63 796.00,739.64 796.50,739.64 797.00,739.65 797.50,739.65 798.00,739.66 798.50,739.67 799.00,739.67 799.50,739.68 800.00,739.68 800.50,739.69 801.00,739.69 801.50,739.70 802.00,739.70 802.50,739.71 803.00,739.71 803.50,739.71 804.00,739.72 804.50,739.72 805.00,739.73 805.50,739.73 806.00,739.73 806.50,739.74 807.00,739.74 807.50,739.74 808.00,739.75 808.50,739.75 809.00,739.75 809.50,739.75 810.00,739.76 810.50,739.76 811.00,739.76 811.50,739.76 812.00,739.77 812.50,739.77 813.00,739.77 813.50,739.77 814.00,739.77 814.50,739.77 815.00,739.77 815.50,739.77 816.00,739.77 816.50,739.77 817.00,739.77 817.50,739.77 818.00,739.77 818.50,739.77 819.00,739.77 819.50,739.77 820.00,739.77 820.50,739.77 821.00,739.76 821.50,739.76 822.00,739.76 822.50,739.76 823.00,739.76 823.50,739.75 824.00,739.75 824.50,739.75 825.00,739.74 825.50,739.74 826.00,739.73 826.50,739.73 827.00,739.72 827.50,739.72 828.00,739.71 828.50,739.71 829.00,739.70 829.50,739.69 830.00,739.69 830.50,739.68 831.00,739.67 831.50,739.66 832.00,739.65 832.50,739.64 833.00,739.64 833.50,739.63 834.00,739.62 834.50,739.61 835.00,739.59 835.50,739.58 836.00,739.57 836.50,739.56 837.00,739.55 837.50,739.53 838.00,739.52 838.50,739.51 839.00,739.49 839.50,739.48 840.00,739.46 840.50,739.44 841.00,739.43 841.50,739.41 842.00,739.39 842.50,739.37 843.00,739.35 843.50,739.33 844.00,739.31 844.50,739.29 845.00,739.27 845.50,739.25 846.00,739.22 846.50,739.20 847.00,739.17 847.50,739.15 848.00,739.12 848.50,739.10 849.00,739.07 849.50,739.04 850.00,739.01 850.50,738.98 851.00,738.95 851.50,738.91 852.00,738.88 852.50,738.84 853.00,738.81 853.50,738.77 854.00,738.73 854.50,738.69 855.00,738.65 855.50,738.61 856.00,738.57 856.50,738.53 857.00,738.48 857.50,738.43 858.00,738.39 858.50,738.34 859.00,738.29 859.50,738.23 860.00,738.18 860.50,738.12 861.00,738.06 861.50,738.01 862.00,737.94 862.50,737.88 863.00,737.82 863.50,737.75 864.00,737.68 864.50,737.61 865.00,737.54 865.50,737.46 866.00,737.38 866.50,737.30 867.00,737.22 867.50,737.13 868.00,737.05 868.50,736.95 869.00,736.86 869.50,736.76 870.00,736.66 870.50,736.56 871.00,736.45 871.50,736.34 872.00,736.23 872.50,736.11 873.00,735.99 873.50,735.86 874.00,735.73 874.50,735.59 875.00,735.45 875.50,735.31 876.00,735.16 876.50,735.00 877.00,734.84 877.50,734.67 878.00,734.49 878.50,734.31 879.00,734.12 879.50,733.92 880.00,733.71 880.50,733.49 881.00,733.26 881.50,733.02 882.00,732.77 882.50,732.51 883.00,732.24 883.50,731.95 884.00,731.64 884.50,731.32 885.00,730.98 885.50,730.62 886.00,730.25 886.50,729.84 887.00,729.42 887.50,728.97 888.00,728.49 888.50,727.99 889.00,727.45 889.50,726.87 890.00,726.26 890.50,725.61 891.00,724.92 891.50,724.19 892.00,723.40 892.50,722.57 893.00,721.68 893.50,720.73 894.00,719.72 894.50,718.65 895.00,717.51 895.50,716.29 896.00,715.00 896.50,713.63 897.00,712.18 897.50,710.65 898.00,709.02 898.50,707.29 899.00,705.48 899.50,703.56 900.00,701.53 900.50,699.40 901.00,697.17 901.50,694.82 902.00,692.36 902.50,689.78 903.00,687.09 903.50,684.29 904.00,681.36 904.50,678.33 905.00,675.18 905.50,671.92 906.00,668.55 906.50,665.08 907.00,661.51 907.50,657.84 908.00,654.09 908.50,650.26 909.00,646.36 909.50,642.40 910.00,638.40 910.50,634.37 911.00,630.33 911.50,626.29 912.00,622.28 912.50,618.32 913.00,614.44 913.50,610.65 914.00,607.00 914.50,603.51 915.00,600.21 915.50,597.14 916.00,594.32 916.50,591.79 917.00,589.58 917.50,587.72 918.00,586.23 918.50,585.12 919.00,584.43 919.50,584.15 920.00,584.29 920.50,584.85 921.00,585.82 921.50,587.18 922.00,588.93 922.50,591.03 923.00,593.46 923.50,596.20 924.00,599.20 924.50,602.44 925.00,605.89 925.50,609.51 926.00,613.27 926.50,617.15 927.00,621.11 927.50,625.13 928.00,629.19 928.50,633.26 929.00,637.33 929.50,641.37 930.00,645.37 930.50,649.33 931.00,653.21 931.50,657.03 932.00,660.76 932.50,664.40 933.00,667.94 933.50,671.38 934.00,674.71 934.50,677.93 935.00,681.04 935.50,684.04 936.00,686.92 936.50,689.68 937.00,692.33 937.50,694.87 938.00,697.29 938.50,699.60 939.00,701.80 939.50,703.89 940.00,705.88 940.50,707.77 941.00,709.56 941.50,711.25 942.00,712.86 942.50,714.37 943.00,715.80 943.50,717.15 944.00,718.42 944.50,719.62 945.00,720.75 945.50,721.81 946.00,722.81 946.50,723.75 947.00,724.64 947.50,725.47 948.00,726.25 948.50,726.99 949.00,727.68 949.50,728.34 950.00,728.95 950.50,729.53 951.00,730.08 951.50,730.60 952.00,731.09 952.50,731.55 953.00,731.99 953.50,732.41 954.00,732.80 954.50,733.18 955.00,733.53 955.50,733.87 956.00,734.20 956.50,734.51 957.00,734.80 957.50,735.09 958.00,735.36 958.50,735.62 959.00,735.87 959.50,736.11 960.00,736.34 960.50,736.56 961.00,736.78 961.50,736.99 962.00,737.19 962.50,737.38 963.00,737.57 963.50,737.75 964.00,737.93 964.50,738.10 965.00,738.26 965.50,738.43 966.00,738.58 966.50,738.73 967.00,738.88 967.50,739.03 968.00,739.17 968.50,739.30 969.00,739.44 969.50,739.57 970.00,739.69 970.50,739.82 971.00,739.94 971.50,740.06 972.00,740.17 972.50,740.28 973.00,740.39 973.50,740.50 974.00,740.61 974.50,740.71 975.00,740.81 975.50,740.91 976.00,741.00 976.50,741.10 977.00,741.19 977.50,741.28 978.00,741.37 978.50,741.46 979.00,741.54 979.50,741.63 980.00,741.71 980.50,741.79 981.00,741.87 981.50,741.94 982.00,742.02 982.50,742.09 983.00,742.17 983.50,742.24 984.00,742.31 984.50,742.38 985.00,742.45 985.50,742.51 986.00,742.58 986.50,742.64 987.00,742.71 987.50,742.77 988.00,742.83 988.50,742.89 989.00,742.95 989.50,743.01 990.00,743.07 990.50,743.13 991.00,743.18 991.50,743.24 992.00,743.29 992.50,743.34 993.00,743.40 993.50,743.45 994.00,743.50 994.50,743.55 995.00,743.60 995.50,743.65 996.00,743.70 996.50,743.75 997.00,743.80 997.50,743.84 998.00,743.89 998.50,743.93 999.00,743.98 999.50,744.02 1000.00,744.07 1000.50,744.11 1001.00,744.15 1001.50,744.20 1002.00,744.24 1002.50,744.28 1003.00,744.32 1003.50,744.36 1004.00,744.40 1004.50,744.44 1005.00,744.48 1005.50,744.52 1006.00,744.56 1006.50,744.59 1007.00,744.63 1007.50,744.67 1008.00,744.71 1008.50,744.74 1009.00,744.78 1009.50,744.81 1010.00,744.85 1010.50,744.88 1011.00,744.92 1011.50,744.95 1012.00,744.99 1012.50,745.02 1013.00,745.05 1013.50,745.09 1014.00,745.12 1014.50,745.15 1015.00,745.19 1015.50,745.22 1016.00,745.25 1016.50,745.28 1017.00,745.31 1017.50,745.34 1018.00,745.37 1018.50,745.40 1019.00,745.43 1019.50,745.46 1020.00,745.49 1020.50,745.52 1021.00,745.55 1021.50,745.58 1022.00,745.61 1022.50,745.64 1023.00,745.67 1023.50,745.70 1024.00,745.72 1024.50,745.75 1025.00,745.78 1025.50,745.81 1026.00,745.83 1026.50,745.86 1027.00,745.89 1027.50,745.91 1028.00,745.94 1028.50,745.97 1029.00,745.99 1029.50,746.02 1030.00,746.05 1030.50,746.07 1031.00,746.10 1031.50,746.12 1032.00,746.15 1032.50,746.17 1033.00,746.20 1033.50,746.22 1034.00,746.25 1034.50,746.27 1035.00,746.30 1035.50,746.32 1036.00,746.35 1036.50,746.37 1037.00,746.39 1037.50,746.42 1038.00,746.44 1038.50,746.47 1039.00,746.49 1039.50,746.51 1040.00,746.54 1040.50,746.56 1041.00,746.58 1041.50,746.61 1042.00,746.63 1042.50,746.65 1043.00,746.67 1043.50,746.70 1044.00,746.72 1044.50,746.74 1045.00,746.76 1045.50,746.79 1046.00,746.81 1046.50,746.83 1047.00,746.85 1047.50,746.87 1048.00,746.90 1048.50,746.92 1049.00,746.94 1049.50,746.96 1050.00,746.98 1050.50,747.00 1051.00,747.02 1051.50,747.05 1052.00,747.07 1052.50,747.09 1053.00,747.11 1053.50,747.13 1054.00,747.15 1054.50,747.17 1055.00,747.19 1055.50,747.21 1056.00,747.23 1056.50,747.25 1057.00,747.27 1057.50,747.29 1058.00,747.31 1058.50,747.33 1059.00,747.35 1059.50,747.37 1060.00,747.39 1060.50,747.41 1061.00,747.43 1061.50,747.45 1062.00,747.47 1062.50,747.49 1063.00,747.51 1063.50,747.53 1064.00,747.55 1064.50,747.57 1065.00,747.59 1065.50,747.61 1066.00,747.63 1066.50,747.65 1067.00,747.67 1067.50,747.69 1068.00,747.71 1068.50,747.73 1069.00,747.74 1069.50,747.76 1070.00,747.78 1070.50,747.80 1071.00,747.82 1071.50,747.84 1072.00,747.86 1072.50,747.88 1073.00,747.89 1073.50,747.91 1074.00,747.93 1074.50,747.95 1075.00,747.97 1075.50,747.99 1076.00,748.01 1076.50,748.02 1077.00,748.04 1077.50,748.06 1078.00,748.08 1078.50,748.10 1079.00,748.12 1079.50,748.13 1080.00,748.15 1080.50,748.17 1081.00,748.19 1081.50,748.21 1082.00,748.22 1082.50,748.24 1083.00,748.26 1083.50,748.28 1084.00,748.30 1084.50,748.31 1085.00,748.33 1085.50,748.35 1086.00,748.37 1086.50,748.38 1087.00,748.40 1087.50,748.42 1088.00,748.44 1088.50,748.45 1089.00,748.47 1089.50,748.49 1090.00,748.51 1090.50,748.52 1091.00,748.54 1091.50,748.56 1092.00,748.58 1092.50,748.59 1093.00,748.61 1093.50,748.63 1094.00,748.65 1094.50,748.66 1095.00,748.68 1095.50,748.70 1096.00,748.71 1096.50,748.73 1097.00,748.75 1097.50,748.77 1098.00,748.78 1098.50,748.80 1099.00,748.82 1099.50,748.83 1100.00,748.85 1100.50,748.87 1101.00,748.89 1101.50,748.90 1102.00,748.92 1102.50,748.94 1103.00,748.95 1103.50,748.97 1104.00,748.99 1104.50,749.00 1105.00,749.02 1105.50,749.04 1106.00,749.05 1106.50,749.07 1107.00,749.09 1107.50,749.10 1108.00,749.12 1108.50,749.14 1109.00,749.15 1109.50,749.17 1110.00,749.19 1110.50,749.20 1111.00,749.22 1111.50,749.24 1112.00,749.25 1112.50,749.27 1113.00,749.29 1113.50,749.30 1114.00,749.32 1114.50,749.33 1115.00,749.35 1115.50,749.37 1116.00,749.38 1116.50,749.40 1117.00,749.42 1117.50,749.43 1118.00,749.45 1118.50,749.47 1119.00,749.48 1119.50,749.50 1120.00,749.51 1120.50,749.53 1121.00,749.55 1121.50,749.56 1122.00,749.58 1122.50,749.60 1123.00,749.61 1123.50,749.63 1124.00,749.64 1124.50,749.66 1125.00,749.68 1125.50,749.69" fill="none" stroke="#a6dcae" stroke-width="0.7"/>
<polyline points="703.00,737.66 703.50,737.67 704.00,737.68 704.50,737.69 705.00,737.71 705.50,737.72 706.00,737.73 706.50,737.75 707.00,737.76 707.50,737.77 708.00,737.78 708.50,737.80 709.00,737.81 709.50,737.82 710.00,737.83 710.50,737.85 711.00,737.86 711.50,737.87 712.00,737.88 712.50,737.90 713.00,737.91 713.50,737.92 714.00,737.93 714.50,737.95 715.00,737.96 715.50,737.97 716.00,737.98 716.50,738.00 717.00,738.01 717.50,738.02 718.00,738.03 718.50,738.05 719.00,738.06 719.50,738.07 720.00,738.08 720.50,738.10 721.00,738.11 721.50,738.12 722.00,738.13 722.50,738.15 723.00,738.16 723.50,738.17 724.00,738.18 724.50,738.19 725.00,738.21 725.50,738.22 726.00,738.23 726.50,738.24 727.00,738.26 727.50,738.27 728.00,738.28 728.50,738.29 729.00,738.30 729.50,738.32 730.00,738.33 730.50,738.34 731.00,738.35 731.50,738.36 732.00,738.38 732.50,738.39 733.00,738.40 733.50,738.41 734.00,738.43 734.50,738.44 735.00,738.45 735.50,738.46 736.00,738.47 736.50,738.48 737.00,738.50 737.50,738.51 738.00,738.52 738.50,738.53 739.00,738.54 739.50,738.56 740.00,738.57 740.50,738.58 741.00,738.59 741.50,738.60 742.00,738.61 742.50,738.63 743.00,738.64 743.50,738.65 744.00,738.66 744.50,738.67 745.00,738.68 745.50,738.70 746.00,738.71 746.50,738.72 747.00,738.73 747.50,738.74 748.00,738.75 748.50,738.77 749.00,738.78 749.50,738.79 750.00,738.80 750.50,738.81 751.00,738.82 751.50,738.83 752.00,738.85 752.50,738.86 753.00,738.87 753.50,738.88 754.00,738.89 754.50,738.90 755.00,738.91 755.50,738.92 756.00,738.94 756.50,738.95 757.00,738.96 757.50,738.97 758.00,738.98 758.50,738.99 759.00,739.00 759.50,739.01 760.00,739.02 760.50,739.03 761.00,739.05 761.50,739.06 762.00,739.07 762.50,739.08 763.00,739.09 763.50,739.10 764.00,739.11 764.50,739.12 765.00,739.13 765.50,739.14 766.00,739.15 766.50,739.16 767.00,739.17 767.50,739.18 768.00,739.20 768.50,739.21 769.00,739.22 769.50,739.23 770.00,739.24 770.50,739.25 771.00,739.26 771.50,739.27 772.00,739.28 772.50,739.29 773.00,739.30 773.50,739.31 774.00,739.32 774.50,739.33 775.00,739.34 775.50,739.35 776.00,739.36 776.50,739.37 777.00,739.38 777.50,739.39 778.00,739.40 778.50,739.41 779.00,739.42 779.50,739.43 780.00,739.44 780.50,739.45 781.00,739.46 781.50,739.47 782.00,739.48 782.50,739.48 783.00,739.49 783.50,739.50 784.00,739.51 784.50,739.52 785.00,739.53 785.50,739.54 786.00,739.55 786.50,739.56 787.00,739.57 787.50,739.58 788.00,739.59 788.50,739.59 789.00,739.60 789.50,739.61 790.00,739.62 790.50,739.63 791.00,739.64 791.50,739.65 792.00,739.66 792.50,739.66 793.00,739.67 793.50,739.68 794.00,739.69 794.50,739.70 795.00,739.71 795.50,739.71 796.00,739.72 796.50,739.73 797.00,739.74 797.50,739.75 798.00,739.75 798.50,739.76 799.00,739.77 799.50,739.78 800.00,739.78 800.50,739.79 801.00,739.80 801.50,739.81 802.00,739.81 802.50,739.82 803.00,739.83 803.50,739.83 804.00,739.84 804.50,739.85 805.00,739.86 805.50,739.86 806.00,739.87 806.50,739.88 807.00,739.88 807.50,739.89 808.00,739.90 808.50,739.90 809.00,739.91 809.50,739.91 810.00,739.92 810.50,739.93 811.00,739.93 811.50,739.94 812.00,739.94 812.50,739.95 813.00,739.95 813.50,739.96 814.00,739.97 814.50,739.97 815.00,739.98 815.50,739.98 816.00,739.99 816.50,739.99 817.00,739.99 817.50,740.00 818.00,740.00 818.50,740.01 819.00,740.01 819.50,740.02 820.00,740.02 820.50,740.02 821.00,740.03 821.50,740.03 822.00,740.04 822.50,740.04 823.00,740.04 823.50,740.05 824.00,740.05 824.50,740.05 825.00,740.05 825.50,740.06 826.00,740.06 826.50,740.06 827.00,740.06 827.50,740.07 828.00,740.07 828.50,740.07 829.00,740.07 829.50,740.07 830.00,740.07 830.50,740.07 831.00,740.08 831.50,740.08 832.00,740.08 832.50,740.08 833.00,740.08 833.50,740.08 834.00,740.08 834.50,740.08 835.00,740.08 835.50,740.08 836.00,740.08 836.50,740.07 837.00,740.07 837.50,740.07 838.00,740.07 838.50,740.07 839.00,740.07 839.50,740.06 840.00,740.06 840.50,740.06 841.00,740.06 841.50,740.05 842.00,740.05 842.50,740.04 843.00,740.04 843.50,740.04 844.00,740.03 844.50,740.03 845.00,740.02 845.50,740.02 846.00,740.01 846.50,740.01 847.00,740.00 847.50,739.99 848.00,739.99 848.50,739.98 849.00,739.97 849.50,739.96 850.00,739.96 850.50,739.95 851.00,739.94 851.50,739.93 852.00,739.92 852.50,739.91 853.00,739.90 853.50,739.89 854.00,739.88 854.50,739.87 855.00,739.86 855.50,739.84 856.00,739.83 856.50,739.82 857.00,739.81 857.50,739.79 858.00,739.78 858.50,739.76 859.00,739.75 859.50,739.73 860.00,739.72 860.50,739.70 861.00,739.68 861.50,739.66 862.00,739.65 862.50,739.63 863.00,739.61 863.50,739.59 864.00,739.57 864.50,739.55 865.00,739.52 865.50,739.50 866.00,739.48 866.50,739.46 867.00,739.43 867.50,739.41 868.00,739.38 868.50,739.35 869.00,739.33 869.50,739.30 870.00,739.27 870.50,739.24 871.00,739.21 871.50,739.18 872.00,739.15 872.50,739.11 873.00,739.08 873.50,739.05 874.00,739.01 874.50,738.97 875.00,738.94 875.50,738.90 876.00,738.86 876.50,738.82 877.00,738.78 877.50,738.73 878.00,738.69 878.50,738.64 879.00,738.60 879.50,738.55 880.00,738.50 880.50,738.45 881.00,738.40 881.50,738.34 882.00,738.29 882.50,738.23 883.00,738.18 883.50,738.12 884.00,738.05 884.50,737.99 885.00,737.93 885.50,737.86 886.00,737.79 886.50,737.72 887.00,737.65 887.50,737.58 888.00,737.50 888.50,737.43 889.00,737.35 889.50,737.26 890.00,737.18 890.50,737.09 891.00,737.00 891.50,736.91 892.00,736.81 892.50,736.72 893.00,736.62 893.50,736.51 894.00,736.41 894.50,736.30 895.00,736.19 895.50,736.07 896.00,735.95 896.50,735.83 897.00,735.70 897.50,735.57 898.00,735.44 898.50,735.30 899.00,735.16 899.50,735.01 900.00,734.86 900.50,734.70 901.00,734.54 901.50,734.37 902.00,734.20 902.50,734.02 903.00,733.84 903.50,733.65 904.00,733.46 904.50,733.25 905.00,733.04 905.50,732.83 906.00,732.60 906.50,732.37 907.00,732.13 907.50,731.88 908.00,731.63 908.50,731.36 909.00,731.08 909.50,730.80 910.00,730.50 910.50,730.19 911.00,729.86 911.50,729.53 912.00,729.17 912.50,728.81 913.00,728.43 913.50,728.03 914.00,727.61 914.50,727.17 915.00,726.72 915.50,726.24 916.00,725.73 916.50,725.20 917.00,724.64 917.50,724.05 918.00,723.43 918.50,722.78 919.00,722.08 919.50,721.35 920.00,720.57 920.50,719.75 921.00,718.87 921.50,717.94 922.00,716.96 922.50,715.91 923.00,714.79 923.50,713.60 924.00,712.34 924.50,710.99 925.00,709.55 925.50,708.03 926.00,706.40 926.50,704.66 927.00,702.82 927.50,700.86 928.00,698.77 928.50,696.55 929.00,694.20 929.50,691.70 930.00,689.06 930.50,686.25 931.00,683.29 931.50,680.16 932.00,676.85 932.50,673.37 933.00,669.71 933.50,665.86 934.00,661.83 934.50,657.60 935.00,653.18 935.50,648.57 936.00,643.76 936.50,638.77 937.00,633.59 937.50,628.23 938.00,622.70 938.50,617.00 939.00,611.15 939.50,605.17 940.00,599.07 940.50,592.88 941.00,586.61 941.50,580.31 942.00,574.00 942.50,567.72 943.00,561.52 943.50,555.45 944.00,549.56 944.50,543.91 945.00,538.55 945.50,533.56 946.00,528.99 946.50,524.91 947.00,521.37 947.50,518.44 948.00,516.15 948.50,514.56 949.00,513.68 949.50,513.53 950.00,514.12 950.50,515.43 951.00,517.44 951.50,520.13 952.00,523.43 952.50,527.31 953.00,531.70 953.50,536.54 954.00,541.78 954.50,547.33 955.00,553.16 955.50,559.18 956.00,565.36 956.50,571.64 957.00,577.97 957.50,584.31 958.00,590.62 958.50,596.88 959.00,603.05 959.50,609.12 960.00,615.05 960.50,620.84 961.00,626.48 961.50,631.94 962.00,637.23 962.50,642.34 963.00,647.25 963.50,651.98 964.00,656.51 964.50,660.85 965.00,665.00 965.50,668.96 966.00,672.73 966.50,676.32 967.00,679.73 967.50,682.97 968.00,686.03 968.50,688.93 969.00,691.68 969.50,694.27 970.00,696.71 970.50,699.02 971.00,701.19 971.50,703.23 972.00,705.16 972.50,706.97 973.00,708.67 973.50,710.27 974.00,711.77 974.50,713.19 975.00,714.52 975.50,715.77 976.00,716.94 976.50,718.05 977.00,719.09 977.50,720.08 978.00,721.00 978.50,721.88 979.00,722.70 979.50,723.48 980.00,724.22 980.50,724.92 981.00,725.59 981.50,726.22 982.00,726.82 982.50,727.39 983.00,727.93 983.50,728.45 984.00,728.95 984.50,729.42 985.00,729.88 985.50,730.31 986.00,730.73 986.50,731.13 987.00,731.52 987.50,731.89 988.00,732.25 988.50,732.59 989.00,732.92 989.50,733.25 990.00,733.56 990.50,733.86 991.00,734.15 991.50,734.43 992.00,734.70 992.50,734.96 993.00,735.22 993.50,735.47 994.00,735.71 994.50,735.94 995.00,736.17 995.50,736.39 996.00,736.60 996.50,736.81 997.00,737.01 997.50,737.21 998.00,737.40 998.50,737.59 999.00,737.77 999.50,737.95 1000.00,738.12 1000.50,738.29 1001.00,738.46 1001.50,738.62 1002.00,738.77 1002.50,738.93 1003.00,739.08 1003.50,739.22 1004.00,739.36 1004.50,739.50 1005.00,739.64 1005.50,739.77 1006.00,739.90 1006.50,740.03 1007.00,740.15 1007.50,740.28 1008.00,740.39 1008.50,740.51 1009.00,740.63 1009.50,740.74 1010.00,740.85 1010.50,740.95 1011.00,741.06 1011.50,741.16 1012.00,741.26 1012.50,741.36 1013.00,741.46 1013.50,741.56 1014.00,741.65 1014.50,741.74 1015.00,741.83 1015.50,741.92 1016.00,742.01 1016.50,742.09 1017.00,742.18 1017.50,742.26 1018.00,742.34 1018.50,742.42 1019.00,742.50 1019.50,742.57 1020.00,742.65 1020.50,742.72 1021.00,742.80 1021.50,742.87 1022.00,742.94 1022.50,743.01 1023.00,743.08 1023.50,743.15 1024.00,743.21 1024.50,743.28 1025.00,743.34 1025.50,743.41 1026.00,743.47 1026.50,743.53 1027.00,743.59 1027.50,743.65 1028.00,743.71 1028.50,743.77 1029.00,743.83 1029.50,743.88 1030.00,743.94 1030.50,743.99 1031.00,744.05 1031.50,744.10 1032.00,744.16 1032.50,744.21 1033.00,744.26 1033.50,744.31 1034.00,744.36 1034.50,744.41 1035.00,744.46 1035.50,744.51 1036.00,744.56 1036.50,744.60 1037.00,744.65 1037.50,744.70 1038.00,744.74 1038.50,744.79 1039.00,744.83 1039.50,744.88 1040.00,744.92 1040.50,744.97 1041.00,745.01 1041.50,745.05 1042.00,745.09 1042.50,745.13 1043.00,745.18 1043.50,745.22 1044.00,745.26 1044.50,745.30 1045.00,745.34 1045.50,745.38 1046.00,745.41 1046.50,745.45 1047.00,745.49 1047.50,745.53 1048.00,745.57 1048.50,745.60 1049.00,745.64 1049.50,745.68 1050.00,745.71 1050.50,745.75 1051.00,745.78 1051.50,745.82 1052.00,745.85 1052.50,745.89 1053.00,745.92 1053.50,745.96 1054.00,745.99 1054.50,746.02 1055.00,746.06 1055.50,746.09 1056.00,746.12 1056.50,746.15 1057.00,746.19 1057.50,746.22 1058.00,746.25 1058.50,746.28 1059.00,746.31 1059.50,746.34 1060.00,746.37 1060.50,746.40 1061.00,746.43 1061.50,746.46 1062.00,746.49 1062.50,746.52 1063.00,746.55 1063.50,746.58 1064.00,746.61 1064.50,746.64 1065.00,746.67 1065.50,746.70 1066.00,746.73 1066.50,746.75 1067.00,746.78 1067.50,746.81 1068.00,746.84 1068.50,746.87 1069.00,746.89 1069.50,746.92 1070.00,746.95 1070.50,746.97 1071.00,747.00 1071.50,747.03 1072.00,747.05 1072.50,747.08 1073.00,747.11 1073.50,747.13 1074.00,747.16 1074.50,747.18 1075.00,747.21 1075.50,747.23 1076.00,747.26 1076.50,747.28 1077.00,747.31 1077.50,747.33 1078.00,747.36 1078.50,747.38 1079.00,747.41 1079.50,747.43 1080.00,747.46 1080.50,747.48 1081.00,747.50 1081.50,747.53 1082.00,747.55 1082.50,747.58 1083.00,747.60 1083.50,747.62 1084.00,747.65 1084.50,747.67 1085.00,747.69 1085.50,747.72 1086.00,747.74 1086.50,747.76 1087.00,747.79 1087.50,747.81 1088.00,747.83 1088.50,747.85 1089.00,747.88 1089.50,747.90 1090.00,747.92 1090.50,747.94 1091.00,747.97 1091.50,747.99 1092.00,748.01 1092.50,748.03 1093.00,748.05 1093.50,748.07 1094.00,748.10 1094.50,748.12 1095.00,748.14 1095.50,748.16 1096.00,748.18 1096.50,748.20 1097.00,748.22 1097.50,748.25 1098.00,748.27 1098.50,748.29 1099.00,748.31 1099.50,748.33 1100.00,748.35 1100.50,748.37 1101.00,748.39 1101.50,748.41 1102.00,748.43 1102.50,748.45 1103.00,748.47 1103.50,748.49 1104.00,748.52 1104.50,748.54 1105.00,748.56 1105.50,748.58 1106.00,748.60 1106.50,748.62 1107.00,748.64 1107.50,748.66 1108.00,748.68 1108.50,748.70 1109.00,748.72 1109.50,748.74 1110.00,748.75 1110.50,748.77 1111.00,748.79 1111.50,748.81 1112.00,748.83 1112.50,748.85 1113.00,748.87 1113.50,748.89 1114.00,748.91 1114.50,748.93 1115.00,748.95 1115.50,748.97 1116.00,748.99 1116.50,749.01 1117.00,749.03 1117.50,749.04 1118.00,749.06 1118.50,749.08 1119.00,749.10 1119.50,749.12 1120.00,749.14 1120.50,749.16 1121.00,749.18 1121.50,749.19 1122.00,749.21 1122.50,749.23 1123.00,749.25 1123.50,749.27 1124.00,749.29 1124.50,749.31 1125.00,749.32 1125.50,749.34" fill="none" stroke="#d4c4e6" stroke-width="0.7"/>
<line x1="702" y1="738" x2="1126" y2="750.1" stroke="#d8b21a" stroke-width="1.8"/>
<polyline points="702.50,737.30 705.53,737.37 708.56,737.44 711.59,737.50 714.62,737.57 717.65,737.63 720.69,737.70 723.72,737.76 726.75,737.82 729.78,737.88 732.81,737.94 735.84,738.00 738.87,738.05 741.90,738.11 744.93,738.16 747.96,738.21 751.00,738.26 754.03,738.31 757.06,738.35 760.09,738.40 763.12,738.44 766.15,738.48 769.18,738.51 772.21,738.55 775.24,738.58 778.27,738.60 781.31,738.63 784.34,738.65 787.37,738.66 790.40,738.67 793.43,738.68 796.46,738.68 799.49,738.67 802.52,738.66 805.55,738.64 808.58,738.62 811.62,738.58 814.65,738.53 817.68,738.48 820.71,738.41 823.74,738.33 826.77,738.23 829.80,738.12 832.83,737.99 835.86,737.84 838.89,737.66 841.93,737.45 844.96,737.22 847.99,736.95 851.02,736.64 854.05,736.27 857.08,735.86 860.11,735.37 863.14,734.81 866.17,734.15 869.20,733.37 872.24,732.45 875.27,731.35 878.30,730.02 881.33,728.36 884.36,726.23 887.39,723.38 890.42,719.45 893.45,713.89 896.48,705.97 899.51,694.87 902.55,679.83 905.58,660.40 908.61,636.83 911.64,610.63 914.67,585.32 917.70,566.73 920.73,560.36 923.76,566.37 926.79,578.66 929.82,589.48 932.86,593.13 935.89,586.47 938.92,568.82 941.95,542.50 944.98,514.54 948.01,497.37 951.04,502.67 954.07,530.24 957.10,568.88 960.13,607.67 963.17,641.03 966.20,667.28 969.23,686.76 972.26,700.64 975.29,710.33 978.32,717.12 981.35,721.99 984.38,725.63 987.41,728.45 990.44,730.72 993.48,732.59 996.51,734.17 999.54,735.51 1002.57,736.67 1005.60,737.67 1008.63,738.55 1011.66,739.33 1014.69,740.03 1017.72,740.65 1020.75,741.21 1023.79,741.72 1026.82,742.19 1029.85,742.62 1032.88,743.01 1035.91,743.37 1038.94,743.71 1041.97,744.03 1045.00,744.32 1048.03,744.60 1051.06,744.87 1054.10,745.11 1057.13,745.35 1060.16,745.58 1063.19,745.79 1066.22,746.00 1069.25,746.19 1072.28,746.38 1075.31,746.57 1078.34,746.74 1081.37,746.91 1084.41,747.08 1087.44,747.24 1090.47,747.39 1093.50,747.55 1096.53,747.69 1099.56,747.84 1102.59,747.98 1105.62,748.12 1108.65,748.25 1111.68,748.39 1114.72,748.52 1117.75,748.65 1120.78,748.77 1123.81,748.90" fill="none" stroke="#2c5e97" stroke-width="2.4" stroke-linejoin="round"/>
<polyline points="701.8,737.1 704.4,736.3 707.0,737.7 710.5,735.4 713.1,738.9 716.6,742.9 719.3,740.6 722.4,744.2 725.4,738.9 728.9,734.5 732.4,736.6 735.0,738.4 737.7,737.7 740.6,732.4 743.8,744.2 746.9,745.9 749.9,735.4 752.5,734.5 756.0,738.4 759.2,737.1 762.2,741.2 765.7,743.6 769.2,739.8 773.6,740.1 777.1,736.6 780.6,739.8 783.2,744.2 786.2,746.4 789.3,743.3 796.3,744.2 801.6,744.2 805.1,745.9 810.7,749.4 814.7,743.3 816.5,742.9 820.0,748.9 822.6,745.9 826.1,748.2 829.6,751.2 834.9,744.2 838.4,747.7 842.7,749.4 845.4,749.4 848.9,752.4 850.6,752.0 854.1,747.1 857.6,751.2 862.0,757.3 865.5,748.9 868.1,749.4 871.6,745.4 874.3,741.2 877.8,745.9 880.4,740.6 883.0,739.4 885.6,734.5 887.4,732.8 890.0,732.8 893.9,714.8 898.3,675.7 904.8,643.0 909.1,610.4 913.5,577.8 917.8,562.6 922.8,552.8 926.5,562.6 930.9,558.3 935.2,540.9 941.7,510.4 947.2,488.7 952.6,503.9 957.0,520.2 961.3,577.8 965.7,632.2 970.0,680.0 974.3,710.4 980.9,723.5 979.4,722.3 981.6,728.3 983.8,737.2 986.8,741.7 989.8,738.0 992.7,742.4 996.5,745.4 999.0,752.8 1001.7,743.9 1004.7,743.2 1007.6,752.1 1011.4,747.6 1015.1,745.4 1018.8,748.4 1022.5,751.4 1028.5,752.8 1032.2,750.6 1035.9,752.4 1041.1,749.1 1044.8,752.8 1049.3,751.4 1053.0,749.1 1058.2,752.8 1062.7,756.6 1065.7,752.8 1070.2,752.1 1073.1,749.1 1077.6,749.9 1081.3,746.1 1083.5,749.9 1089.5,749.1 1093.2,753.6 1096.9,751.4 1102.9,750.3 1106.6,751.4 1111.8,750.6 1117.0,755.1 1120.8,752.1 1123.7,753.6 1125.7,751.4" fill="none" stroke="#ff1010" stroke-width="2" stroke-linejoin="round"/>
<rect x="39" y="869" width="428" height="364" fill="none" stroke="#000" stroke-width="2.2"/>
<line x1="74.66" y1="1233" x2="74.66" y2="1239" stroke="#000" stroke-width="2.2"/>
<line x1="163.81" y1="1233" x2="163.81" y2="1239" stroke="#000" stroke-width="2.2"/>
<line x1="252.95999999999998" y1="1233" x2="252.95999999999998" y2="1239" stroke="#000" stroke-width="2.2"/>
<line x1="342.10999999999996" y1="1233" x2="342.10999999999996" y2="1239" stroke="#000" stroke-width="2.2"/>
<line x1="431.26" y1="1233" x2="431.26" y2="1239" stroke="#000" stroke-width="2.2"/>
<text x="74.7" y="1256.9" font-family='"Liberation Sans", sans-serif' font-size="14.8" font-weight="bold" text-anchor="middle" >1040</text>
<text x="163.8" y="1256.9" font-family='"Liberation Sans", sans-serif' font-size="14.8" font-weight="bold" text-anchor="middle" >1035</text>
<text x="253.0" y="1256.9" font-family='"Liberation Sans", sans-serif' font-size="14.8" font-weight="bold" text-anchor="middle" >1030</text>
<text x="342.1" y="1256.9" font-family='"Liberation Sans", sans-serif' font-size="14.8" font-weight="bold" text-anchor="middle" >1025</text>
<text x="431.3" y="1256.9" font-family='"Liberation Sans", sans-serif' font-size="14.8" font-weight="bold" text-anchor="middle" >1020</text>
<text x="244.35" y="1277.3" font-family='"Liberation Serif", serif' font-size="21.2" font-weight="bold" text-anchor="middle" textLength="183.6" lengthAdjust="spacingAndGlyphs" >Binding Energy (ev)</text>
<text transform="translate(25.8,1043.15) rotate(-90)" font-family='"Liberation Serif", serif' font-size="21.2" font-weight="bold" text-anchor="middle" textLength="139.9" lengthAdjust="spacingAndGlyphs">Intensity (a.u.)</text>
<text transform="translate(6.04,914.01) scale(0.955,1.032)" font-family='"Liberation Sans", sans-serif' font-size="40" font-weight="normal">E</text>
<text transform="translate(46.30,898.80) scale(1.004,1.050)" font-family='"Liberation Serif", serif' font-size="21" font-weight="bold" text-anchor="start">BiOBr/Zn<tspan font-weight="normal">@</tspan>SnO<tspan font-size="14.7" dy="6.3">2</tspan></text>
<text transform="translate(411.28,897.30) scale(1.015,1.090)" font-family='"Liberation Serif", serif' font-size="21" font-weight="bold">Zn2p</text>
<polyline points="54.6,1142.7 56.5,1075.9 58.2,1114.2 60.1,1098.7 61.7,1141.9 63.9,1100.3 65.5,1100.3 67.1,1067.7 69.1,1115 70.9,1081.6 72.8,1086.5 74.5,1088.1 76.1,1123.2 78.1,1101.1 80.2,1139.5 83.4,1165.1 88.8,1085.6 90.8,1128.1 92.4,1119.1 94,1166.1 97.6,1095.4 100.9,1152.5 103,1152.5 104.6,1133.8 106.3,1133 108.2,1089.7 110,1104.4 111.7,1134.6 113.6,1075 115.6,1119.9 117.2,1101.1 119.3,1139.5 120.5,1129.7 122.6,1141.9 125.9,1092.2 128,1113.4 129.9,1078.3 131.6,1102 133.5,1086.5 135.2,1102 136.9,1090.5 138.9,1117.5 140.5,1126.4 142.5,1099.5 144.1,1117.5 146.4,1101.1 147.9,1101.1 149.4,1045.7 151,1115.8 152.8,1115.8 154.8,1075.9 156.4,1166.4 160,1076.7 162.1,1101.1 163.8,1107.7 165.4,1096.2 167,1124.8 169.1,1085.2 171.1,1140.3 172.7,1158.2 174.4,1125.6 176.3,1115.8 178,1072.6 179.7,1104.4 181.7,1097.9 185,1065.3 187.1,1075 189,1119.1 190.7,1114.2 192.3,1144.4 193.9,1103.6 195.9,1121.5 197.5,1084.5 199.2,1120.7 201,1115.8 202.9,1084.8 204.7,1117.5 206.7,1131.3 208.3,1098.7 211.9,1145.2 216.8,1055.5 219.2,1047.3 220.9,1091.4 222.5,1079.9 224.4,1102 226.1,1068.5 228.2,1075 230.6,1107.7 233.1,1149.3 235,1057.9 237.2,1115.8 238.8,1106 240.4,1076.7 241.8,1104 243.6,1205.9 245.7,1112.6 247.3,1108.5 249,1127.2 251.1,1134.6 252.7,1071 254.7,1107.7 256.3,1096.2 257.9,1071 259.9,1089.7 263.7,1069.3 265.3,1147.6 266.9,1096.2 268.9,1092.2 271,1103.6 272.6,1106 273.9,1165.6 275.9,1097.9 277.8,1109.3 279.5,1146.8 281.3,1115.8 282.7,1133.8 284,1138.7 285.2,1139.5 286.8,1174.6 288.5,1128.9 290.1,1148.4 291.9,1119.1 293.5,1140.3 297.1,1113.4 298.7,1114.2 301.2,1091.4 302.8,1117.1 304.9,1074.2 307.7,1114.2 310.1,1069.3 312.6,1097.9 314.2,1128.9 316.3,1141.9 318.8,1084.8 322.4,1146 326,1038.3 328.1,1124.8 331.4,1071 333,1120.7 335.4,1097.9 338.2,1082.6 340.1,1129.3 342.7,1102 345.1,1028.3 348.7,1076.8 350.8,1040.4 352.8,1107.1 354.8,1068.7 356.8,1067.7 358.2,1082.8 359.8,1049.5 361.3,1116.2 364.3,1083.8 366.9,1027.3 369.3,1029.3 372,1145.5 374,1026.3 376.4,1051.5 379,1059.6 381.1,1029.3 382.5,1033.3 384.5,970.7 386.5,917.8 388.5,958.6 389.9,1005.1 392,933.3 394,1058.6 395.2,1049.5 397.2,943.4 399.6,1006.1 402.3,1011.1 404.3,1069.7 406.1,1045.5 409.3,1085.9 411.4,1059.6 415.8,1069.7 416.8,1080.8 420.9,1044.4 424.9,1124.2 428.9,1045.5 433,1104 435,1105 437.6,1122.2 439.6,1071.7 441.7,1112.1 445.1,1069.7 447.1,1124.2 449.1,1091.9 450.8,1140.4" fill="none" stroke="#ee0c0c" stroke-width="1.8" stroke-linejoin="round"/>
<polygon points="55.00,1143.64 55.50,1143.64 56.00,1143.63 56.50,1143.63 57.00,1143.63 57.50,1143.63 58.00,1143.63 58.50,1143.63 59.00,1143.63 59.50,1143.63 60.00,1143.63 60.50,1143.63 61.00,1143.63 61.50,1143.63 62.00,1143.63 62.50,1143.63 63.00,1143.63 63.50,1143.63 64.00,1143.63 64.50,1143.63 65.00,1143.63 65.50,1143.62 66.00,1143.62 66.50,1143.62 67.00,1143.62 67.50,1143.62 68.00,1143.62 68.50,1143.62 69.00,1143.62 69.50,1143.62 70.00,1143.62 70.50,1143.62 71.00,1143.62 71.50,1143.62 72.00,1143.62 72.50,1143.62 73.00,1143.62 73.50,1143.62 74.00,1143.62 74.50,1143.61 75.00,1143.61 75.50,1143.61 76.00,1143.61 76.50,1143.61 77.00,1143.61 77.50,1143.61 78.00,1143.61 78.50,1143.61 79.00,1143.61 79.50,1143.61 80.00,1143.61 80.50,1143.61 81.00,1143.61 81.50,1143.61 82.00,1143.61 82.50,1143.60 83.00,1143.60 83.50,1143.60 84.00,1143.60 84.50,1143.60 85.00,1143.60 85.50,1143.60 86.00,1143.60 86.50,1143.60 87.00,1143.60 87.50,1143.60 88.00,1143.60 88.50,1143.60 89.00,1143.60 89.50,1143.60 90.00,1143.59 90.50,1143.59 91.00,1143.59 91.50,1143.59 92.00,1143.59 92.50,1143.59 93.00,1143.59 93.50,1143.59 94.00,1143.59 94.50,1143.59 95.00,1143.59 95.50,1143.59 96.00,1143.59 96.50,1143.59 97.00,1143.58 97.50,1143.58 98.00,1143.58 98.50,1143.58 99.00,1143.58 99.50,1143.58 100.00,1143.58 100.50,1143.58 101.00,1143.58 101.50,1143.58 102.00,1143.58 102.50,1143.58 103.00,1143.58 103.50,1143.57 104.00,1143.57 104.50,1143.57 105.00,1143.57 105.50,1143.57 106.00,1143.57 106.50,1143.57 107.00,1143.57 107.50,1143.57 108.00,1143.57 108.50,1143.57 109.00,1143.57 109.50,1143.57 110.00,1143.56 110.50,1143.56 111.00,1143.56 111.50,1143.56 112.00,1143.56 112.50,1143.56 113.00,1143.56 113.50,1143.56 114.00,1143.56 114.50,1143.56 115.00,1143.56 115.50,1143.55 116.00,1143.55 116.50,1143.55 117.00,1143.55 117.50,1143.55 118.00,1143.55 118.50,1143.55 119.00,1143.55 119.50,1143.55 120.00,1143.55 120.50,1143.55 121.00,1143.54 121.50,1143.54 122.00,1143.54 122.50,1143.54 123.00,1143.54 123.50,1143.54 124.00,1143.54 124.50,1143.54 125.00,1143.54 125.50,1143.54 126.00,1143.53 126.50,1143.53 127.00,1143.53 127.50,1143.53 128.00,1143.53 128.50,1143.53 129.00,1143.53 129.50,1143.53 130.00,1143.53 130.50,1143.53 131.00,1143.52 131.50,1143.52 132.00,1143.52 132.50,1143.52 133.00,1143.52 133.50,1143.52 134.00,1143.52 134.50,1143.52 135.00,1143.52 135.50,1143.51 136.00,1143.51 136.50,1143.51 137.00,1143.51 137.50,1143.51 138.00,1143.51 138.50,1143.51 139.00,1143.51 139.50,1143.50 140.00,1143.50 140.50,1143.50 141.00,1143.50 141.50,1143.50 142.00,1143.50 142.50,1143.50 143.00,1143.50 143.50,1143.50 144.00,1143.49 144.50,1143.49 145.00,1143.49 145.50,1143.49 146.00,1143.49 146.50,1143.49 147.00,1143.49 147.50,1143.48 148.00,1143.48 148.50,1143.48 149.00,1143.48 149.50,1143.48 150.00,1143.48 150.50,1143.48 151.00,1143.48 151.50,1143.47 152.00,1143.47 152.50,1143.47 153.00,1143.47 153.50,1143.47 154.00,1143.47 154.50,1143.47 155.00,1143.46 155.50,1143.46 156.00,1143.46 156.50,1143.46 157.00,1143.46 157.50,1143.46 158.00,1143.46 158.50,1143.45 159.00,1143.45 159.50,1143.45 160.00,1143.45 160.50,1143.45 161.00,1143.45 161.50,1143.44 162.00,1143.44 162.50,1143.44 163.00,1143.44 163.50,1143.44 164.00,1143.44 164.50,1143.43 165.00,1143.43 165.50,1143.43 166.00,1143.43 166.50,1143.43 167.00,1143.43 167.50,1143.42 168.00,1143.42 168.50,1143.42 169.00,1143.42 169.50,1143.42 170.00,1143.42 170.50,1143.41 171.00,1143.41 171.50,1143.41 172.00,1143.41 172.50,1143.41 173.00,1143.41 173.50,1143.40 174.00,1143.40 174.50,1143.40 175.00,1143.40 175.50,1143.40 176.00,1143.39 176.50,1143.39 177.00,1143.39 177.50,1143.39 178.00,1143.39 178.50,1143.38 179.00,1143.38 179.50,1143.38 180.00,1143.38 180.50,1143.38 181.00,1143.37 181.50,1143.37 182.00,1143.37 182.50,1143.37 183.00,1143.37 183.50,1143.36 184.00,1143.36 184.50,1143.36 185.00,1143.36 185.50,1143.36 186.00,1143.35 186.50,1143.35 187.00,1143.35 187.50,1143.35 188.00,1143.34 188.50,1143.34 189.00,1143.34 189.50,1143.34 190.00,1143.33 190.50,1143.33 191.00,1143.33 191.50,1143.33 192.00,1143.32 192.50,1143.32 193.00,1143.32 193.50,1143.32 194.00,1143.32 194.50,1143.31 195.00,1143.31 195.50,1143.31 196.00,1143.30 196.50,1143.30 197.00,1143.30 197.50,1143.30 198.00,1143.29 198.50,1143.29 199.00,1143.29 199.50,1143.29 200.00,1143.28 200.50,1143.28 201.00,1143.28 201.50,1143.28 202.00,1143.27 202.50,1143.27 203.00,1143.27 203.50,1143.26 204.00,1143.26 204.50,1143.26 205.00,1143.25 205.50,1143.25 206.00,1143.25 206.50,1143.25 207.00,1143.24 207.50,1143.24 208.00,1143.24 208.50,1143.23 209.00,1143.23 209.50,1143.23 210.00,1143.22 210.50,1143.22 211.00,1143.22 211.50,1143.21 212.00,1143.21 212.50,1143.21 213.00,1143.20 213.50,1143.20 214.00,1143.20 214.50,1143.19 215.00,1143.19 215.50,1143.19 216.00,1143.18 216.50,1143.18 217.00,1143.18 217.50,1143.17 218.00,1143.17 218.50,1143.16 219.00,1143.16 219.50,1143.16 220.00,1143.15 220.50,1143.15 221.00,1143.15 221.50,1143.14 222.00,1143.14 222.50,1143.13 223.00,1143.13 223.50,1143.12 224.00,1143.12 224.50,1143.12 225.00,1143.11 225.50,1143.11 226.00,1143.10 226.50,1143.10 227.00,1143.10 227.50,1143.09 228.00,1143.09 228.50,1143.08 229.00,1143.08 229.50,1143.07 230.00,1143.07 230.50,1143.06 231.00,1143.06 231.50,1143.05 232.00,1143.05 232.50,1143.04 233.00,1143.04 233.50,1143.03 234.00,1143.03 234.50,1143.02 235.00,1143.02 235.50,1143.01 236.00,1143.01 236.50,1143.00 237.00,1143.00 237.50,1142.99 238.00,1142.99 238.50,1142.98 239.00,1142.98 239.50,1142.97 240.00,1142.97 240.50,1142.96 241.00,1142.95 241.50,1142.95 242.00,1142.94 242.50,1142.94 243.00,1142.93 243.50,1142.92 244.00,1142.92 244.50,1142.91 245.00,1142.91 245.50,1142.90 246.00,1142.89 246.50,1142.89 247.00,1142.88 247.50,1142.87 248.00,1142.87 248.50,1142.86 249.00,1142.85 249.50,1142.85 250.00,1142.84 250.50,1142.83 251.00,1142.83 251.50,1142.82 252.00,1142.81 252.50,1142.80 253.00,1142.80 253.50,1142.79 254.00,1142.78 254.50,1142.77 255.00,1142.77 255.50,1142.76 256.00,1142.75 256.50,1142.74 257.00,1142.73 257.50,1142.73 258.00,1142.72 258.50,1142.71 259.00,1142.70 259.50,1142.69 260.00,1142.68 260.50,1142.67 261.00,1142.67 261.50,1142.66 262.00,1142.65 262.50,1142.64 263.00,1142.63 263.50,1142.62 264.00,1142.61 264.50,1142.60 265.00,1142.59 265.50,1142.58 266.00,1142.57 266.50,1142.56 267.00,1142.55 267.50,1142.54 268.00,1142.53 268.50,1142.52 269.00,1142.51 269.50,1142.50 270.00,1142.49 270.50,1142.47 271.00,1142.46 271.50,1142.45 272.00,1142.44 272.50,1142.43 273.00,1142.42 273.50,1142.40 274.00,1142.39 274.50,1142.38 275.00,1142.37 275.50,1142.35 276.00,1142.34 276.50,1142.33 277.00,1142.31 277.50,1142.30 278.00,1142.29 278.50,1142.27 279.00,1142.26 279.50,1142.24 280.00,1142.23 280.50,1142.22 281.00,1142.20 281.50,1142.19 282.00,1142.17 282.50,1142.15 283.00,1142.14 283.50,1142.12 284.00,1142.11 284.50,1142.09 285.00,1142.07 285.50,1142.06 286.00,1142.04 286.50,1142.02 287.00,1142.00 287.50,1141.99 288.00,1141.97 288.50,1141.95 289.00,1141.93 289.50,1141.91 290.00,1141.89 290.50,1141.87 291.00,1141.85 291.50,1141.83 292.00,1141.81 292.50,1141.79 293.00,1141.77 293.50,1141.75 294.00,1141.73 294.50,1141.70 295.00,1141.68 295.50,1141.66 296.00,1141.64 296.50,1141.61 297.00,1141.59 297.50,1141.56 298.00,1141.54 298.50,1141.51 299.00,1141.49 299.50,1141.46 300.00,1141.43 300.50,1141.41 301.00,1141.38 301.50,1141.35 302.00,1141.32 302.50,1141.29 303.00,1141.26 303.50,1141.23 304.00,1141.20 304.50,1141.17 305.00,1141.14 305.50,1141.11 306.00,1141.08 306.50,1141.04 307.00,1141.01 307.50,1140.97 308.00,1140.94 308.50,1140.90 309.00,1140.87 309.50,1140.83 310.00,1140.79 310.50,1140.75 311.00,1140.71 311.50,1140.67 312.00,1140.63 312.50,1140.59 313.00,1140.54 313.50,1140.50 314.00,1140.46 314.50,1140.41 315.00,1140.36 315.50,1140.32 316.00,1140.27 316.50,1140.22 317.00,1140.17 317.50,1140.12 318.00,1140.06 318.50,1140.01 319.00,1139.96 319.50,1139.90 320.00,1139.84 320.50,1139.78 321.00,1139.72 321.50,1139.66 322.00,1139.60 322.50,1139.53 323.00,1139.47 323.50,1139.40 324.00,1139.33 324.50,1139.26 325.00,1139.19 325.50,1139.12 326.00,1139.04 326.50,1138.97 327.00,1138.89 327.50,1138.81 328.00,1138.72 328.50,1138.64 329.00,1138.55 329.50,1138.46 330.00,1138.37 330.50,1138.28 331.00,1138.18 331.50,1138.08 332.00,1137.98 332.50,1137.87 333.00,1137.77 333.50,1137.66 334.00,1137.54 334.50,1137.43 335.00,1137.31 335.50,1137.19 336.00,1137.06 336.50,1136.93 337.00,1136.80 337.50,1136.66 338.00,1136.52 338.50,1136.37 339.00,1136.22 339.50,1136.07 340.00,1135.91 340.50,1135.74 341.00,1135.57 341.50,1135.40 342.00,1135.22 342.50,1135.03 343.00,1134.84 343.50,1134.64 344.00,1134.44 344.50,1134.23 345.00,1134.01 345.50,1133.78 346.00,1133.55 346.50,1133.30 347.00,1133.05 347.50,1132.79 348.00,1132.52 348.50,1132.25 349.00,1131.96 349.50,1131.66 350.00,1131.35 350.50,1131.02 351.00,1130.69 351.50,1130.34 352.00,1129.98 352.50,1129.60 353.00,1129.21 353.50,1128.80 354.00,1128.37 354.50,1127.93 355.00,1127.47 355.50,1126.99 356.00,1126.49 356.50,1125.96 357.00,1125.41 357.50,1124.84 358.00,1124.24 358.50,1123.61 359.00,1122.96 359.50,1122.27 360.00,1121.55 360.50,1120.79 361.00,1120.00 361.50,1119.16 362.00,1118.29 362.50,1117.37 363.00,1116.40 363.50,1115.37 364.00,1114.30 364.50,1113.16 365.00,1111.96 365.50,1110.70 366.00,1109.36 366.50,1107.94 367.00,1106.44 367.50,1104.86 368.00,1103.17 368.50,1101.39 369.00,1099.50 369.50,1097.48 370.00,1095.35 370.50,1093.07 371.00,1090.65 371.50,1088.07 372.00,1085.33 372.50,1082.41 373.00,1079.29 373.50,1075.96 374.00,1072.42 374.50,1068.64 375.00,1064.62 375.50,1060.33 376.00,1055.76 376.50,1050.90 377.00,1045.75 377.50,1040.28 378.00,1034.50 378.50,1028.40 379.00,1022.00 379.50,1015.30 380.00,1008.33 380.50,1001.12 381.00,993.73 381.50,986.22 382.00,978.67 382.50,971.20 383.00,963.91 383.50,956.94 384.00,950.46 384.50,944.61 385.00,939.55 385.50,935.44 386.00,932.40 386.50,930.53 387.00,929.90 387.50,930.53 388.00,932.40 388.50,935.44 389.00,939.55 389.50,944.61 390.00,950.46 390.50,956.94 391.00,963.91 391.50,971.20 392.00,978.67 392.50,986.22 393.00,993.73 393.50,1001.12 394.00,1008.33 394.50,1015.30 395.00,1022.00 395.50,1028.40 396.00,1034.50 396.50,1040.28 397.00,1045.75 397.50,1050.90 398.00,1055.76 398.50,1060.33 399.00,1064.62 399.50,1068.64 400.00,1072.42 400.50,1075.96 401.00,1079.29 401.50,1082.41 402.00,1085.33 402.50,1088.07 403.00,1090.65 403.50,1093.07 404.00,1095.35 404.50,1097.48 405.00,1099.50 405.50,1101.39 406.00,1103.17 406.50,1104.86 407.00,1106.44 407.50,1107.94 408.00,1109.36 408.50,1110.70 409.00,1111.96 409.50,1113.16 410.00,1114.30 410.50,1115.37 411.00,1116.40 411.50,1117.37 412.00,1118.29 412.50,1119.16 413.00,1120.00 413.50,1120.79 414.00,1121.55 414.50,1122.27 415.00,1122.96 415.50,1123.61 416.00,1124.24 416.50,1124.84 417.00,1125.41 417.50,1125.96 418.00,1126.49 418.50,1126.99 419.00,1127.47 419.50,1127.93 420.00,1128.37 420.50,1128.80 421.00,1129.21 421.50,1129.60 422.00,1129.98 422.50,1130.34 423.00,1130.69 423.50,1131.02 424.00,1131.35 424.50,1131.66 425.00,1131.96 425.50,1132.25 426.00,1132.52 426.50,1132.79 427.00,1133.05 427.50,1133.30 428.00,1133.55 428.50,1133.78 429.00,1134.01 429.50,1134.23 430.00,1134.44 430.50,1134.64 431.00,1134.84 431.50,1135.03 432.00,1135.22 432.50,1135.40 433.00,1135.57 433.50,1135.74 434.00,1135.91 434.50,1136.07 435.00,1136.22 435.50,1136.37 436.00,1136.52 436.50,1136.66 437.00,1136.80 437.50,1136.93 438.00,1137.06 438.50,1137.19 439.00,1137.31 439.50,1137.43 440.00,1137.54 440.50,1137.66 441.00,1137.77 441.50,1137.87 442.00,1137.98 442.50,1138.08 443.00,1138.18 443.50,1138.28 444.00,1138.37 444.50,1138.46 445.00,1138.55 445.50,1138.64 446.00,1138.72 446.50,1138.81 447.00,1138.89 447.50,1138.97 448.00,1139.04 448.50,1139.12 449.00,1139.19 449.50,1139.26 450.00,1139.33 450.50,1139.40 450.50,1143.80 450.00,1143.80 449.50,1143.80 449.00,1143.80 448.50,1143.80 448.00,1143.80 447.50,1143.80 447.00,1143.80 446.50,1143.80 446.00,1143.80 445.50,1143.80 445.00,1143.80 444.50,1143.80 444.00,1143.80 443.50,1143.80 443.00,1143.80 442.50,1143.80 442.00,1143.80 441.50,1143.80 441.00,1143.80 440.50,1143.80 440.00,1143.80 439.50,1143.80 439.00,1143.80 438.50,1143.80 438.00,1143.80 437.50,1143.80 437.00,1143.80 436.50,1143.80 436.00,1143.80 435.50,1143.80 435.00,1143.80 434.50,1143.80 434.00,1143.80 433.50,1143.80 433.00,1143.80 432.50,1143.80 432.00,1143.80 431.50,1143.80 431.00,1143.80 430.50,1143.80 430.00,1143.80 429.50,1143.80 429.00,1143.80 428.50,1143.80 428.00,1143.80 427.50,1143.80 427.00,1143.80 426.50,1143.80 426.00,1143.80 425.50,1143.80 425.00,1143.80 424.50,1143.80 424.00,1143.80 423.50,1143.80 423.00,1143.80 422.50,1143.80 422.00,1143.80 421.50,1143.80 421.00,1143.80 420.50,1143.80 420.00,1143.80 419.50,1143.80 419.00,1143.80 418.50,1143.80 418.00,1143.80 417.50,1143.80 417.00,1143.80 416.50,1143.80 416.00,1143.80 415.50,1143.80 415.00,1143.80 414.50,1143.80 414.00,1143.80 413.50,1143.80 413.00,1143.80 412.50,1143.80 412.00,1143.80 411.50,1143.80 411.00,1143.80 410.50,1143.80 410.00,1143.80 409.50,1143.80 409.00,1143.80 408.50,1143.80 408.00,1143.80 407.50,1143.80 407.00,1143.80 406.50,1143.80 406.00,1143.80 405.50,1143.80 405.00,1143.80 404.50,1143.80 404.00,1143.80 403.50,1143.80 403.00,1143.80 402.50,1143.80 402.00,1143.80 401.50,1143.80 401.00,1143.80 400.50,1143.80 400.00,1143.80 399.50,1143.80 399.00,1143.80 398.50,1143.80 398.00,1143.80 397.50,1143.80 397.00,1143.80 396.50,1143.80 396.00,1143.80 395.50,1143.80 395.00,1143.80 394.50,1143.80 394.00,1143.80 393.50,1143.80 393.00,1143.80 392.50,1143.80 392.00,1143.80 391.50,1143.80 391.00,1143.80 390.50,1143.80 390.00,1143.80 389.50,1143.80 389.00,1143.80 388.50,1143.80 388.00,1143.80 387.50,1143.80 387.00,1143.80 386.50,1143.80 386.00,1143.80 385.50,1143.80 385.00,1143.80 384.50,1143.80 384.00,1143.80 383.50,1143.80 383.00,1143.80 382.50,1143.80 382.00,1143.80 381.50,1143.80 381.00,1143.80 380.50,1143.80 380.00,1143.80 379.50,1143.80 379.00,1143.80 378.50,1143.80 378.00,1143.80 377.50,1143.80 377.00,1143.80 376.50,1143.80 376.00,1143.80 375.50,1143.80 375.00,1143.80 374.50,1143.80 374.00,1143.80 373.50,1143.80 373.00,1143.80 372.50,1143.80 372.00,1143.80 371.50,1143.80 371.00,1143.80 370.50,1143.80 370.00,1143.80 369.50,1143.80 369.00,1143.80 368.50,1143.80 368.00,1143.80 367.50,1143.80 367.00,1143.80 366.50,1143.80 366.00,1143.80 365.50,1143.80 365.00,1143.80 364.50,1143.80 364.00,1143.80 363.50,1143.80 363.00,1143.80 362.50,1143.80 362.00,1143.80 361.50,1143.80 361.00,1143.80 360.50,1143.80 360.00,1143.80 359.50,1143.80 359.00,1143.80 358.50,1143.80 358.00,1143.80 357.50,1143.80 357.00,1143.80 356.50,1143.80 356.00,1143.80 355.50,1143.80 355.00,1143.80 354.50,1143.80 354.00,1143.80 353.50,1143.80 353.00,1143.80 352.50,1143.80 352.00,1143.80 351.50,1143.80 351.00,1143.80 350.50,1143.80 350.00,1143.80 349.50,1143.80 349.00,1143.80 348.50,1143.80 348.00,1143.80 347.50,1143.80 347.00,1143.80 346.50,1143.80 346.00,1143.80 345.50,1143.80 345.00,1143.80 344.50,1143.80 344.00,1143.80 343.50,1143.80 343.00,1143.80 342.50,1143.80 342.00,1143.80 341.50,1143.80 341.00,1143.80 340.50,1143.80 340.00,1143.80 339.50,1143.80 339.00,1143.80 338.50,1143.80 338.00,1143.80 337.50,1143.80 337.00,1143.80 336.50,1143.80 336.00,1143.80 335.50,1143.80 335.00,1143.80 334.50,1143.80 334.00,1143.80 333.50,1143.80 333.00,1143.80 332.50,1143.80 332.00,1143.80 331.50,1143.80 331.00,1143.80 330.50,1143.80 330.00,1143.80 329.50,1143.80 329.00,1143.80 328.50,1143.80 328.00,1143.80 327.50,1143.80 327.00,1143.80 326.50,1143.80 326.00,1143.80 325.50,1143.80 325.00,1143.80 324.50,1143.80 324.00,1143.80 323.50,1143.80 323.00,1143.80 322.50,1143.80 322.00,1143.80 321.50,1143.80 321.00,1143.80 320.50,1143.80 320.00,1143.80 319.50,1143.80 319.00,1143.80 318.50,1143.80 318.00,1143.80 317.50,1143.80 317.00,1143.80 316.50,1143.80 316.00,1143.80 315.50,1143.80 315.00,1143.80 314.50,1143.80 314.00,1143.80 313.50,1143.80 313.00,1143.80 312.50,1143.80 312.00,1143.80 311.50,1143.80 311.00,1143.80 310.50,1143.80 310.00,1143.80 309.50,1143.80 309.00,1143.80 308.50,1143.80 308.00,1143.80 307.50,1143.80 307.00,1143.80 306.50,1143.80 306.00,1143.80 305.50,1143.80 305.00,1143.80 304.50,1143.80 304.00,1143.80 303.50,1143.80 303.00,1143.80 302.50,1143.80 302.00,1143.80 301.50,1143.80 301.00,1143.80 300.50,1143.80 300.00,1143.80 299.50,1143.80 299.00,1143.80 298.50,1143.80 298.00,1143.80 297.50,1143.80 297.00,1143.80 296.50,1143.80 296.00,1143.80 295.50,1143.80 295.00,1143.80 294.50,1143.80 294.00,1143.80 293.50,1143.80 293.00,1143.80 292.50,1143.80 292.00,1143.80 291.50,1143.80 291.00,1143.80 290.50,1143.80 290.00,1143.80 289.50,1143.80 289.00,1143.80 288.50,1143.80 288.00,1143.80 287.50,1143.80 287.00,1143.80 286.50,1143.80 286.00,1143.80 285.50,1143.80 285.00,1143.80 284.50,1143.80 284.00,1143.80 283.50,1143.80 283.00,1143.80 282.50,1143.80 282.00,1143.80 281.50,1143.80 281.00,1143.80 280.50,1143.80 280.00,1143.80 279.50,1143.80 279.00,1143.80 278.50,1143.80 278.00,1143.80 277.50,1143.80 277.00,1143.80 276.50,1143.80 276.00,1143.80 275.50,1143.80 275.00,1143.80 274.50,1143.80 274.00,1143.80 273.50,1143.80 273.00,1143.80 272.50,1143.80 272.00,1143.80 271.50,1143.80 271.00,1143.80 270.50,1143.80 270.00,1143.80 269.50,1143.80 269.00,1143.80 268.50,1143.80 268.00,1143.80 267.50,1143.80 267.00,1143.80 266.50,1143.80 266.00,1143.80 265.50,1143.80 265.00,1143.80 264.50,1143.80 264.00,1143.80 263.50,1143.80 263.00,1143.80 262.50,1143.80 262.00,1143.80 261.50,1143.80 261.00,1143.80 260.50,1143.80 260.00,1143.80 259.50,1143.80 259.00,1143.80 258.50,1143.80 258.00,1143.80 257.50,1143.80 257.00,1143.80 256.50,1143.80 256.00,1143.80 255.50,1143.80 255.00,1143.80 254.50,1143.80 254.00,1143.80 253.50,1143.80 253.00,1143.80 252.50,1143.80 252.00,1143.80 251.50,1143.80 251.00,1143.80 250.50,1143.80 250.00,1143.80 249.50,1143.80 249.00,1143.80 248.50,1143.80 248.00,1143.80 247.50,1143.80 247.00,1143.80 246.50,1143.80 246.00,1143.80 245.50,1143.80 245.00,1143.80 244.50,1143.80 244.00,1143.80 243.50,1143.80 243.00,1143.80 242.50,1143.80 242.00,1143.80 241.50,1143.80 241.00,1143.80 240.50,1143.80 240.00,1143.80 239.50,1143.80 239.00,1143.80 238.50,1143.80 238.00,1143.80 237.50,1143.80 237.00,1143.80 236.50,1143.80 236.00,1143.80 235.50,1143.80 235.00,1143.80 234.50,1143.80 234.00,1143.80 233.50,1143.80 233.00,1143.80 232.50,1143.80 232.00,1143.80 231.50,1143.80 231.00,1143.80 230.50,1143.80 230.00,1143.80 229.50,1143.80 229.00,1143.80 228.50,1143.80 228.00,1143.80 227.50,1143.80 227.00,1143.80 226.50,1143.80 226.00,1143.80 225.50,1143.80 225.00,1143.80 224.50,1143.80 224.00,1143.80 223.50,1143.80 223.00,1143.80 222.50,1143.80 222.00,1143.80 221.50,1143.80 221.00,1143.80 220.50,1143.80 220.00,1143.80 219.50,1143.80 219.00,1143.80 218.50,1143.80 218.00,1143.80 217.50,1143.80 217.00,1143.80 216.50,1143.80 216.00,1143.80 215.50,1143.80 215.00,1143.80 214.50,1143.80 214.00,1143.80 213.50,1143.80 213.00,1143.80 212.50,1143.80 212.00,1143.80 211.50,1143.80 211.00,1143.80 210.50,1143.80 210.00,1143.80 209.50,1143.80 209.00,1143.80 208.50,1143.80 208.00,1143.80 207.50,1143.80 207.00,1143.80 206.50,1143.80 206.00,1143.80 205.50,1143.80 205.00,1143.80 204.50,1143.80 204.00,1143.80 203.50,1143.80 203.00,1143.80 202.50,1143.80 202.00,1143.80 201.50,1143.80 201.00,1143.80 200.50,1143.80 200.00,1143.80 199.50,1143.80 199.00,1143.80 198.50,1143.80 198.00,1143.80 197.50,1143.80 197.00,1143.80 196.50,1143.80 196.00,1143.80 195.50,1143.80 195.00,1143.80 194.50,1143.80 194.00,1143.80 193.50,1143.80 193.00,1143.80 192.50,1143.80 192.00,1143.80 191.50,1143.80 191.00,1143.80 190.50,1143.80 190.00,1143.80 189.50,1143.80 189.00,1143.80 188.50,1143.80 188.00,1143.80 187.50,1143.80 187.00,1143.80 186.50,1143.80 186.00,1143.80 185.50,1143.80 185.00,1143.80 184.50,1143.80 184.00,1143.80 183.50,1143.80 183.00,1143.80 182.50,1143.80 182.00,1143.80 181.50,1143.80 181.00,1143.80 180.50,1143.80 180.00,1143.80 179.50,1143.80 179.00,1143.80 178.50,1143.80 178.00,1143.80 177.50,1143.80 177.00,1143.80 176.50,1143.80 176.00,1143.80 175.50,1143.80 175.00,1143.80 174.50,1143.80 174.00,1143.80 173.50,1143.80 173.00,1143.80 172.50,1143.80 172.00,1143.80 171.50,1143.80 171.00,1143.80 170.50,1143.80 170.00,1143.80 169.50,1143.80 169.00,1143.80 168.50,1143.80 168.00,1143.80 167.50,1143.80 167.00,1143.80 166.50,1143.80 166.00,1143.80 165.50,1143.80 165.00,1143.80 164.50,1143.80 164.00,1143.80 163.50,1143.80 163.00,1143.80 162.50,1143.80 162.00,1143.80 161.50,1143.80 161.00,1143.80 160.50,1143.80 160.00,1143.80 159.50,1143.80 159.00,1143.80 158.50,1143.80 158.00,1143.80 157.50,1143.80 157.00,1143.80 156.50,1143.80 156.00,1143.80 155.50,1143.80 155.00,1143.80 154.50,1143.80 154.00,1143.80 153.50,1143.80 153.00,1143.80 152.50,1143.80 152.00,1143.80 151.50,1143.80 151.00,1143.80 150.50,1143.80 150.00,1143.80 149.50,1143.80 149.00,1143.80 148.50,1143.80 148.00,1143.80 147.50,1143.80 147.00,1143.80 146.50,1143.80 146.00,1143.80 145.50,1143.80 145.00,1143.80 144.50,1143.80 144.00,1143.80 143.50,1143.80 143.00,1143.80 142.50,1143.80 142.00,1143.80 141.50,1143.80 141.00,1143.80 140.50,1143.80 140.00,1143.80 139.50,1143.80 139.00,1143.80 138.50,1143.80 138.00,1143.80 137.50,1143.80 137.00,1143.80 136.50,1143.80 136.00,1143.80 135.50,1143.80 135.00,1143.80 134.50,1143.80 134.00,1143.80 133.50,1143.80 133.00,1143.80 132.50,1143.80 132.00,1143.80 131.50,1143.80 131.00,1143.80 130.50,1143.80 130.00,1143.80 129.50,1143.80 129.00,1143.80 128.50,1143.80 128.00,1143.80 127.50,1143.80 127.00,1143.80 126.50,1143.80 126.00,1143.80 125.50,1143.80 125.00,1143.80 124.50,1143.80 124.00,1143.80 123.50,1143.80 123.00,1143.80 122.50,1143.80 122.00,1143.80 121.50,1143.80 121.00,1143.80 120.50,1143.80 120.00,1143.80 119.50,1143.80 119.00,1143.80 118.50,1143.80 118.00,1143.80 117.50,1143.80 117.00,1143.80 116.50,1143.80 116.00,1143.80 115.50,1143.80 115.00,1143.80 114.50,1143.80 114.00,1143.80 113.50,1143.80 113.00,1143.80 112.50,1143.80 112.00,1143.80 111.50,1143.80 111.00,1143.80 110.50,1143.80 110.00,1143.80 109.50,1143.80 109.00,1143.80 108.50,1143.80 108.00,1143.80 107.50,1143.80 107.00,1143.80 106.50,1143.80 106.00,1143.80 105.50,1143.80 105.00,1143.80 104.50,1143.80 104.00,1143.80 103.50,1143.80 103.00,1143.80 102.50,1143.80 102.00,1143.80 101.50,1143.80 101.00,1143.80 100.50,1143.80 100.00,1143.80 99.50,1143.80 99.00,1143.80 98.50,1143.80 98.00,1143.80 97.50,1143.80 97.00,1143.80 96.50,1143.80 96.00,1143.80 95.50,1143.80 95.00,1143.80 94.50,1143.80 94.00,1143.80 93.50,1143.80 93.00,1143.80 92.50,1143.80 92.00,1143.80 91.50,1143.80 91.00,1143.80 90.50,1143.80 90.00,1143.80 89.50,1143.80 89.00,1143.80 88.50,1143.80 88.00,1143.80 87.50,1143.80 87.00,1143.80 86.50,1143.80 86.00,1143.80 85.50,1143.80 85.00,1143.80 84.50,1143.80 84.00,1143.80 83.50,1143.80 83.00,1143.80 82.50,1143.80 82.00,1143.80 81.50,1143.80 81.00,1143.80 80.50,1143.80 80.00,1143.80 79.50,1143.80 79.00,1143.80 78.50,1143.80 78.00,1143.80 77.50,1143.80 77.00,1143.80 76.50,1143.80 76.00,1143.80 75.50,1143.80 75.00,1143.80 74.50,1143.80 74.00,1143.80 73.50,1143.80 73.00,1143.80 72.50,1143.80 72.00,1143.80 71.50,1143.80 71.00,1143.80 70.50,1143.80 70.00,1143.80 69.50,1143.80 69.00,1143.80 68.50,1143.80 68.00,1143.80 67.50,1143.80 67.00,1143.80 66.50,1143.80 66.00,1143.80 65.50,1143.80 65.00,1143.80 64.50,1143.80 64.00,1143.80 63.50,1143.80 63.00,1143.80 62.50,1143.80 62.00,1143.80 61.50,1143.80 61.00,1143.80 60.50,1143.80 60.00,1143.80 59.50,1143.80 59.00,1143.80 58.50,1143.80 58.00,1143.80 57.50,1143.80 57.00,1143.80 56.50,1143.80 56.00,1143.80 55.50,1143.80 55.00,1143.80" fill="#d0e9fa" style="mix-blend-mode:multiply" stroke="none"/>
<polyline points="55.00,1143.64 55.50,1143.64 56.00,1143.63 56.50,1143.63 57.00,1143.63 57.50,1143.63 58.00,1143.63 58.50,1143.63 59.00,1143.63 59.50,1143.63 60.00,1143.63 60.50,1143.63 61.00,1143.63 61.50,1143.63 62.00,1143.63 62.50,1143.63 63.00,1143.63 63.50,1143.63 64.00,1143.63 64.50,1143.63 65.00,1143.63 65.50,1143.62 66.00,1143.62 66.50,1143.62 67.00,1143.62 67.50,1143.62 68.00,1143.62 68.50,1143.62 69.00,1143.62 69.50,1143.62 70.00,1143.62 70.50,1143.62 71.00,1143.62 71.50,1143.62 72.00,1143.62 72.50,1143.62 73.00,1143.62 73.50,1143.62 74.00,1143.62 74.50,1143.61 75.00,1143.61 75.50,1143.61 76.00,1143.61 76.50,1143.61 77.00,1143.61 77.50,1143.61 78.00,1143.61 78.50,1143.61 79.00,1143.61 79.50,1143.61 80.00,1143.61 80.50,1143.61 81.00,1143.61 81.50,1143.61 82.00,1143.61 82.50,1143.60 83.00,1143.60 83.50,1143.60 84.00,1143.60 84.50,1143.60 85.00,1143.60 85.50,1143.60 86.00,1143.60 86.50,1143.60 87.00,1143.60 87.50,1143.60 88.00,1143.60 88.50,1143.60 89.00,1143.60 89.50,1143.60 90.00,1143.59 90.50,1143.59 91.00,1143.59 91.50,1143.59 92.00,1143.59 92.50,1143.59 93.00,1143.59 93.50,1143.59 94.00,1143.59 94.50,1143.59 95.00,1143.59 95.50,1143.59 96.00,1143.59 96.50,1143.59 97.00,1143.58 97.50,1143.58 98.00,1143.58 98.50,1143.58 99.00,1143.58 99.50,1143.58 100.00,1143.58 100.50,1143.58 101.00,1143.58 101.50,1143.58 102.00,1143.58 102.50,1143.58 103.00,1143.58 103.50,1143.57 104.00,1143.57 104.50,1143.57 105.00,1143.57 105.50,1143.57 106.00,1143.57 106.50,1143.57 107.00,1143.57 107.50,1143.57 108.00,1143.57 108.50,1143.57 109.00,1143.57 109.50,1143.57 110.00,1143.56 110.50,1143.56 111.00,1143.56 111.50,1143.56 112.00,1143.56 112.50,1143.56 113.00,1143.56 113.50,1143.56 114.00,1143.56 114.50,1143.56 115.00,1143.56 115.50,1143.55 116.00,1143.55 116.50,1143.55 117.00,1143.55 117.50,1143.55 118.00,1143.55 118.50,1143.55 119.00,1143.55 119.50,1143.55 120.00,1143.55 120.50,1143.55 121.00,1143.54 121.50,1143.54 122.00,1143.54 122.50,1143.54 123.00,1143.54 123.50,1143.54 124.00,1143.54 124.50,1143.54 125.00,1143.54 125.50,1143.54 126.00,1143.53 126.50,1143.53 127.00,1143.53 127.50,1143.53 128.00,1143.53 128.50,1143.53 129.00,1143.53 129.50,1143.53 130.00,1143.53 130.50,1143.53 131.00,1143.52 131.50,1143.52 132.00,1143.52 132.50,1143.52 133.00,1143.52 133.50,1143.52 134.00,1143.52 134.50,1143.52 135.00,1143.52 135.50,1143.51 136.00,1143.51 136.50,1143.51 137.00,1143.51 137.50,1143.51 138.00,1143.51 138.50,1143.51 139.00,1143.51 139.50,1143.50 140.00,1143.50 140.50,1143.50 141.00,1143.50 141.50,1143.50 142.00,1143.50 142.50,1143.50 143.00,1143.50 143.50,1143.50 144.00,1143.49 144.50,1143.49 145.00,1143.49 145.50,1143.49 146.00,1143.49 146.50,1143.49 147.00,1143.49 147.50,1143.48 148.00,1143.48 148.50,1143.48 149.00,1143.48 149.50,1143.48 150.00,1143.48 150.50,1143.48 151.00,1143.48 151.50,1143.47 152.00,1143.47 152.50,1143.47 153.00,1143.47 153.50,1143.47 154.00,1143.47 154.50,1143.47 155.00,1143.46 155.50,1143.46 156.00,1143.46 156.50,1143.46 157.00,1143.46 157.50,1143.46 158.00,1143.46 158.50,1143.45 159.00,1143.45 159.50,1143.45 160.00,1143.45 160.50,1143.45 161.00,1143.45 161.50,1143.44 162.00,1143.44 162.50,1143.44 163.00,1143.44 163.50,1143.44 164.00,1143.44 164.50,1143.43 165.00,1143.43 165.50,1143.43 166.00,1143.43 166.50,1143.43 167.00,1143.43 167.50,1143.42 168.00,1143.42 168.50,1143.42 169.00,1143.42 169.50,1143.42 170.00,1143.42 170.50,1143.41 171.00,1143.41 171.50,1143.41 172.00,1143.41 172.50,1143.41 173.00,1143.41 173.50,1143.40 174.00,1143.40 174.50,1143.40 175.00,1143.40 175.50,1143.40 176.00,1143.39 176.50,1143.39 177.00,1143.39 177.50,1143.39 178.00,1143.39 178.50,1143.38 179.00,1143.38 179.50,1143.38 180.00,1143.38 180.50,1143.38 181.00,1143.37 181.50,1143.37 182.00,1143.37 182.50,1143.37 183.00,1143.37 183.50,1143.36 184.00,1143.36 184.50,1143.36 185.00,1143.36 185.50,1143.36 186.00,1143.35 186.50,1143.35 187.00,1143.35 187.50,1143.35 188.00,1143.34 188.50,1143.34 189.00,1143.34 189.50,1143.34 190.00,1143.33 190.50,1143.33 191.00,1143.33 191.50,1143.33 192.00,1143.32 192.50,1143.32 193.00,1143.32 193.50,1143.32 194.00,1143.32 194.50,1143.31 195.00,1143.31 195.50,1143.31 196.00,1143.30 196.50,1143.30 197.00,1143.30 197.50,1143.30 198.00,1143.29 198.50,1143.29 199.00,1143.29 199.50,1143.29 200.00,1143.28 200.50,1143.28 201.00,1143.28 201.50,1143.28 202.00,1143.27 202.50,1143.27 203.00,1143.27 203.50,1143.26 204.00,1143.26 204.50,1143.26 205.00,1143.25 205.50,1143.25 206.00,1143.25 206.50,1143.25 207.00,1143.24 207.50,1143.24 208.00,1143.24 208.50,1143.23 209.00,1143.23 209.50,1143.23 210.00,1143.22 210.50,1143.22 211.00,1143.22 211.50,1143.21 212.00,1143.21 212.50,1143.21 213.00,1143.20 213.50,1143.20 214.00,1143.20 214.50,1143.19 215.00,1143.19 215.50,1143.19 216.00,1143.18 216.50,1143.18 217.00,1143.18 217.50,1143.17 218.00,1143.17 218.50,1143.16 219.00,1143.16 219.50,1143.16 220.00,1143.15 220.50,1143.15 221.00,1143.15 221.50,1143.14 222.00,1143.14 222.50,1143.13 223.00,1143.13 223.50,1143.12 224.00,1143.12 224.50,1143.12 225.00,1143.11 225.50,1143.11 226.00,1143.10 226.50,1143.10 227.00,1143.10 227.50,1143.09 228.00,1143.09 228.50,1143.08 229.00,1143.08 229.50,1143.07 230.00,1143.07 230.50,1143.06 231.00,1143.06 231.50,1143.05 232.00,1143.05 232.50,1143.04 233.00,1143.04 233.50,1143.03 234.00,1143.03 234.50,1143.02 235.00,1143.02 235.50,1143.01 236.00,1143.01 236.50,1143.00 237.00,1143.00 237.50,1142.99 238.00,1142.99 238.50,1142.98 239.00,1142.98 239.50,1142.97 240.00,1142.97 240.50,1142.96 241.00,1142.95 241.50,1142.95 242.00,1142.94 242.50,1142.94 243.00,1142.93 243.50,1142.92 244.00,1142.92 244.50,1142.91 245.00,1142.91 245.50,1142.90 246.00,1142.89 246.50,1142.89 247.00,1142.88 247.50,1142.87 248.00,1142.87 248.50,1142.86 249.00,1142.85 249.50,1142.85 250.00,1142.84 250.50,1142.83 251.00,1142.83 251.50,1142.82 252.00,1142.81 252.50,1142.80 253.00,1142.80 253.50,1142.79 254.00,1142.78 254.50,1142.77 255.00,1142.77 255.50,1142.76 256.00,1142.75 256.50,1142.74 257.00,1142.73 257.50,1142.73 258.00,1142.72 258.50,1142.71 259.00,1142.70 259.50,1142.69 260.00,1142.68 260.50,1142.67 261.00,1142.67 261.50,1142.66 262.00,1142.65 262.50,1142.64 263.00,1142.63 263.50,1142.62 264.00,1142.61 264.50,1142.60 265.00,1142.59 265.50,1142.58 266.00,1142.57 266.50,1142.56 267.00,1142.55 267.50,1142.54 268.00,1142.53 268.50,1142.52 269.00,1142.51 269.50,1142.50 270.00,1142.49 270.50,1142.47 271.00,1142.46 271.50,1142.45 272.00,1142.44 272.50,1142.43 273.00,1142.42 273.50,1142.40 274.00,1142.39 274.50,1142.38 275.00,1142.37 275.50,1142.35 276.00,1142.34 276.50,1142.33 277.00,1142.31 277.50,1142.30 278.00,1142.29 278.50,1142.27 279.00,1142.26 279.50,1142.24 280.00,1142.23 280.50,1142.22 281.00,1142.20 281.50,1142.19 282.00,1142.17 282.50,1142.15 283.00,1142.14 283.50,1142.12 284.00,1142.11 284.50,1142.09 285.00,1142.07 285.50,1142.06 286.00,1142.04 286.50,1142.02 287.00,1142.00 287.50,1141.99 288.00,1141.97 288.50,1141.95 289.00,1141.93 289.50,1141.91 290.00,1141.89 290.50,1141.87 291.00,1141.85 291.50,1141.83 292.00,1141.81 292.50,1141.79 293.00,1141.77 293.50,1141.75 294.00,1141.73 294.50,1141.70 295.00,1141.68 295.50,1141.66 296.00,1141.64 296.50,1141.61 297.00,1141.59 297.50,1141.56 298.00,1141.54 298.50,1141.51 299.00,1141.49 299.50,1141.46 300.00,1141.43 300.50,1141.41 301.00,1141.38 301.50,1141.35 302.00,1141.32 302.50,1141.29 303.00,1141.26 303.50,1141.23 304.00,1141.20 304.50,1141.17 305.00,1141.14 305.50,1141.11 306.00,1141.08 306.50,1141.04 307.00,1141.01 307.50,1140.97 308.00,1140.94 308.50,1140.90 309.00,1140.87 309.50,1140.83 310.00,1140.79 310.50,1140.75 311.00,1140.71 311.50,1140.67 312.00,1140.63 312.50,1140.59 313.00,1140.54 313.50,1140.50 314.00,1140.46 314.50,1140.41 315.00,1140.36 315.50,1140.32 316.00,1140.27 316.50,1140.22 317.00,1140.17 317.50,1140.12 318.00,1140.06 318.50,1140.01 319.00,1139.96 319.50,1139.90 320.00,1139.84 320.50,1139.78 321.00,1139.72 321.50,1139.66 322.00,1139.60 322.50,1139.53 323.00,1139.47 323.50,1139.40 324.00,1139.33 324.50,1139.26 325.00,1139.19 325.50,1139.12 326.00,1139.04 326.50,1138.97 327.00,1138.89 327.50,1138.81 328.00,1138.72 328.50,1138.64 329.00,1138.55 329.50,1138.46 330.00,1138.37 330.50,1138.28 331.00,1138.18 331.50,1138.08 332.00,1137.98 332.50,1137.87 333.00,1137.77 333.50,1137.66 334.00,1137.54 334.50,1137.43 335.00,1137.31 335.50,1137.19 336.00,1137.06 336.50,1136.93 337.00,1136.80 337.50,1136.66 338.00,1136.52 338.50,1136.37 339.00,1136.22 339.50,1136.07 340.00,1135.91 340.50,1135.74 341.00,1135.57 341.50,1135.40 342.00,1135.22 342.50,1135.03 343.00,1134.84 343.50,1134.64 344.00,1134.44 344.50,1134.23 345.00,1134.01 345.50,1133.78 346.00,1133.55 346.50,1133.30 347.00,1133.05 347.50,1132.79 348.00,1132.52 348.50,1132.25 349.00,1131.96 349.50,1131.66 350.00,1131.35 350.50,1131.02 351.00,1130.69 351.50,1130.34 352.00,1129.98 352.50,1129.60 353.00,1129.21 353.50,1128.80 354.00,1128.37 354.50,1127.93 355.00,1127.47 355.50,1126.99 356.00,1126.49 356.50,1125.96 357.00,1125.41 357.50,1124.84 358.00,1124.24 358.50,1123.61 359.00,1122.96 359.50,1122.27 360.00,1121.55 360.50,1120.79 361.00,1120.00 361.50,1119.16 362.00,1118.29 362.50,1117.37 363.00,1116.40 363.50,1115.37 364.00,1114.30 364.50,1113.16 365.00,1111.96 365.50,1110.70 366.00,1109.36 366.50,1107.94 367.00,1106.44 367.50,1104.86 368.00,1103.17 368.50,1101.39 369.00,1099.50 369.50,1097.48 370.00,1095.35 370.50,1093.07 371.00,1090.65 371.50,1088.07 372.00,1085.33 372.50,1082.41 373.00,1079.29 373.50,1075.96 374.00,1072.42 374.50,1068.64 375.00,1064.62 375.50,1060.33 376.00,1055.76 376.50,1050.90 377.00,1045.75 377.50,1040.28 378.00,1034.50 378.50,1028.40 379.00,1022.00 379.50,1015.30 380.00,1008.33 380.50,1001.12 381.00,993.73 381.50,986.22 382.00,978.67 382.50,971.20 383.00,963.91 383.50,956.94 384.00,950.46 384.50,944.61 385.00,939.55 385.50,935.44 386.00,932.40 386.50,930.53 387.00,929.90 387.50,930.53 388.00,932.40 388.50,935.44 389.00,939.55 389.50,944.61 390.00,950.46 390.50,956.94 391.00,963.91 391.50,971.20 392.00,978.67 392.50,986.22 393.00,993.73 393.50,1001.12 394.00,1008.33 394.50,1015.30 395.00,1022.00 395.50,1028.40 396.00,1034.50 396.50,1040.28 397.00,1045.75 397.50,1050.90 398.00,1055.76 398.50,1060.33 399.00,1064.62 399.50,1068.64 400.00,1072.42 400.50,1075.96 401.00,1079.29 401.50,1082.41 402.00,1085.33 402.50,1088.07 403.00,1090.65 403.50,1093.07 404.00,1095.35 404.50,1097.48 405.00,1099.50 405.50,1101.39 406.00,1103.17 406.50,1104.86 407.00,1106.44 407.50,1107.94 408.00,1109.36 408.50,1110.70 409.00,1111.96 409.50,1113.16 410.00,1114.30 410.50,1115.37 411.00,1116.40 411.50,1117.37 412.00,1118.29 412.50,1119.16 413.00,1120.00 413.50,1120.79 414.00,1121.55 414.50,1122.27 415.00,1122.96 415.50,1123.61 416.00,1124.24 416.50,1124.84 417.00,1125.41 417.50,1125.96 418.00,1126.49 418.50,1126.99 419.00,1127.47 419.50,1127.93 420.00,1128.37 420.50,1128.80 421.00,1129.21 421.50,1129.60 422.00,1129.98 422.50,1130.34 423.00,1130.69 423.50,1131.02 424.00,1131.35 424.50,1131.66 425.00,1131.96 425.50,1132.25 426.00,1132.52 426.50,1132.79 427.00,1133.05 427.50,1133.30 428.00,1133.55 428.50,1133.78 429.00,1134.01 429.50,1134.23 430.00,1134.44 430.50,1134.64 431.00,1134.84 431.50,1135.03 432.00,1135.22 432.50,1135.40 433.00,1135.57 433.50,1135.74 434.00,1135.91 434.50,1136.07 435.00,1136.22 435.50,1136.37 436.00,1136.52 436.50,1136.66 437.00,1136.80 437.50,1136.93 438.00,1137.06 438.50,1137.19 439.00,1137.31 439.50,1137.43 440.00,1137.54 440.50,1137.66 441.00,1137.77 441.50,1137.87 442.00,1137.98 442.50,1138.08 443.00,1138.18 443.50,1138.28 444.00,1138.37 444.50,1138.46 445.00,1138.55 445.50,1138.64 446.00,1138.72 446.50,1138.81 447.00,1138.89 447.50,1138.97 448.00,1139.04 448.50,1139.12 449.00,1139.19 449.50,1139.26 450.00,1139.33 450.50,1139.40" fill="none" stroke="#4a86b6" stroke-width="2"/>
<line x1="55" y1="1143.8" x2="451" y2="1143.8" stroke="#ffb300" stroke-width="2" stroke-opacity="0.8"/>
<rect x="693.6" y="865.7" width="436.1" height="360.29999999999995" fill="none" stroke="#000" stroke-width="2.2"/>
<line x1="693.6" y1="1226" x2="693.6" y2="1232" stroke="#000" stroke-width="2.2"/>
<line x1="797.45" y1="1226" x2="797.45" y2="1232" stroke="#000" stroke-width="2.2"/>
<line x1="901.3" y1="1226" x2="901.3" y2="1232" stroke="#000" stroke-width="2.2"/>
<line x1="1005.1500000000001" y1="1226" x2="1005.1500000000001" y2="1232" stroke="#000" stroke-width="2.2"/>
<line x1="1109.0" y1="1226" x2="1109.0" y2="1232" stroke="#000" stroke-width="2.2"/>
<text x="693.6" y="1250.1" font-family='"Liberation Sans", sans-serif' font-size="14.8" font-weight="bold" text-anchor="middle" >500</text>
<text x="797.5" y="1250.1" font-family='"Liberation Sans", sans-serif' font-size="14.8" font-weight="bold" text-anchor="middle" >495</text>
<text x="901.3" y="1250.1" font-family='"Liberation Sans", sans-serif' font-size="14.8" font-weight="bold" text-anchor="middle" >490</text>
<text x="1005.2" y="1250.1" font-family='"Liberation Sans", sans-serif' font-size="14.8" font-weight="bold" text-anchor="middle" >485</text>
<text x="1109.0" y="1250.1" font-family='"Liberation Sans", sans-serif' font-size="14.8" font-weight="bold" text-anchor="middle" >480</text>
<text x="920.9" y="1275.2" font-family='"Liberation Serif", serif' font-size="21.2" font-weight="bold" text-anchor="middle" textLength="185.9" lengthAdjust="spacingAndGlyphs" >Binding Energy (ev)</text>
<text transform="translate(677.9,1032.3) rotate(-90)" font-family='"Liberation Serif", serif' font-size="21.2" font-weight="bold" text-anchor="middle" textLength="139.2" lengthAdjust="spacingAndGlyphs">Intensity (a.u.)</text>
<text transform="translate(655.90,910.10) scale(0.919,1.039)" font-family='"Liberation Sans", sans-serif' font-size="40.5" font-weight="bold">F</text>
<text transform="translate(700.69,895.50) scale(1.022,1.070)" font-family='"Liberation Serif", serif' font-size="21" font-weight="bold" text-anchor="start">BiOBr/Zn<tspan font-weight="normal">@</tspan>SnO<tspan font-size="14.7" dy="6.3">2</tspan></text>
<text transform="translate(1067.20,892.60) scale(1.010,1.070)" font-family='"Liberation Serif", serif' font-size="21" font-weight="bold">Sn3d</text>
<polygon points="694.50,1159.46 695.00,1159.45 695.50,1159.45 696.00,1159.45 696.50,1159.44 697.00,1159.44 697.50,1159.43 698.00,1159.43 698.50,1159.42 699.00,1159.41 699.50,1159.41 700.00,1159.40 700.50,1159.39 701.00,1159.39 701.50,1159.38 702.00,1159.37 702.50,1159.36 703.00,1159.35 703.50,1159.34 704.00,1159.33 704.50,1159.32 705.00,1159.31 705.50,1159.30 706.00,1159.29 706.50,1159.28 707.00,1159.27 707.50,1159.26 708.00,1159.24 708.50,1159.23 709.00,1159.22 709.50,1159.20 710.00,1159.19 710.50,1159.17 711.00,1159.16 711.50,1159.14 712.00,1159.12 712.50,1159.11 713.00,1159.09 713.50,1159.07 714.00,1159.05 714.50,1159.03 715.00,1159.01 715.50,1158.99 716.00,1158.97 716.50,1158.95 717.00,1158.93 717.50,1158.90 718.00,1158.88 718.50,1158.85 719.00,1158.83 719.50,1158.80 720.00,1158.78 720.50,1158.75 721.00,1158.72 721.50,1158.69 722.00,1158.66 722.50,1158.63 723.00,1158.60 723.50,1158.56 724.00,1158.53 724.50,1158.49 725.00,1158.46 725.50,1158.42 726.00,1158.38 726.50,1158.34 727.00,1158.30 727.50,1158.26 728.00,1158.22 728.50,1158.17 729.00,1158.13 729.50,1158.08 730.00,1158.03 730.50,1157.98 731.00,1157.93 731.50,1157.88 732.00,1157.83 732.50,1157.77 733.00,1157.72 733.50,1157.66 734.00,1157.60 734.50,1157.54 735.00,1157.47 735.50,1157.41 736.00,1157.34 736.50,1157.27 737.00,1157.20 737.50,1157.12 738.00,1157.05 738.50,1156.97 739.00,1156.89 739.50,1156.81 740.00,1156.72 740.50,1156.63 741.00,1156.54 741.50,1156.45 742.00,1156.35 742.50,1156.25 743.00,1156.15 743.50,1156.04 744.00,1155.94 744.50,1155.82 745.00,1155.71 745.50,1155.59 746.00,1155.46 746.50,1155.34 747.00,1155.21 747.50,1155.07 748.00,1154.93 748.50,1154.78 749.00,1154.63 749.50,1154.48 750.00,1154.32 750.50,1154.15 751.00,1153.98 751.50,1153.81 752.00,1153.62 752.50,1153.43 753.00,1153.24 753.50,1153.03 754.00,1152.82 754.50,1152.60 755.00,1152.38 755.50,1152.14 756.00,1151.90 756.50,1151.65 757.00,1151.38 757.50,1151.11 758.00,1150.83 758.50,1150.54 759.00,1150.23 759.50,1149.91 760.00,1149.58 760.50,1149.24 761.00,1148.88 761.50,1148.51 762.00,1148.12 762.50,1147.72 763.00,1147.29 763.50,1146.85 764.00,1146.40 764.50,1145.92 765.00,1145.42 765.50,1144.89 766.00,1144.34 766.50,1143.77 767.00,1143.17 767.50,1142.54 768.00,1141.89 768.50,1141.20 769.00,1140.47 769.50,1139.71 770.00,1138.92 770.50,1138.08 771.00,1137.20 771.50,1136.27 772.00,1135.29 772.50,1134.27 773.00,1133.18 773.50,1132.04 774.00,1130.83 774.50,1129.56 775.00,1128.21 775.50,1126.79 776.00,1125.28 776.50,1123.69 777.00,1122.00 777.50,1120.21 778.00,1118.31 778.50,1116.30 779.00,1114.16 779.50,1111.89 780.00,1109.47 780.50,1106.91 781.00,1104.18 781.50,1101.29 782.00,1098.21 782.50,1094.93 783.00,1091.45 783.50,1087.76 784.00,1083.84 784.50,1079.68 785.00,1075.27 785.50,1070.62 786.00,1065.71 786.50,1060.54 787.00,1055.11 787.50,1049.44 788.00,1043.55 788.50,1037.45 789.00,1031.18 789.50,1024.78 790.00,1018.32 790.50,1011.87 791.00,1005.50 791.50,999.33 792.00,993.46 792.50,988.01 793.00,983.10 793.50,978.86 794.00,975.39 794.50,972.81 795.00,971.18 795.50,970.56 796.00,970.97 796.50,972.40 797.00,974.79 797.50,978.09 798.00,982.19 798.50,986.98 799.00,992.34 799.50,998.14 800.00,1004.28 800.50,1010.63 801.00,1017.09 801.50,1023.58 802.00,1030.01 802.50,1036.34 803.00,1042.50 803.50,1048.46 804.00,1054.20 804.50,1059.70 805.00,1064.95 805.50,1069.94 806.00,1074.68 806.50,1079.16 807.00,1083.39 807.50,1087.38 808.00,1091.15 808.50,1094.69 809.00,1098.03 809.50,1101.17 810.00,1104.13 810.50,1106.91 811.00,1109.53 811.50,1112.00 812.00,1114.32 812.50,1116.51 813.00,1118.57 813.50,1120.51 814.00,1122.35 814.50,1124.08 815.00,1125.71 815.50,1127.26 816.00,1128.72 816.50,1130.10 817.00,1131.41 817.50,1132.65 818.00,1133.83 818.50,1134.94 819.00,1136.00 819.50,1137.01 820.00,1137.97 820.50,1138.88 821.00,1139.74 821.50,1140.57 822.00,1141.35 822.50,1142.10 823.00,1142.82 823.50,1143.50 824.00,1144.16 824.50,1144.78 825.00,1145.38 825.50,1145.95 826.00,1146.50 826.50,1147.02 827.00,1147.52 827.50,1148.00 828.00,1148.47 828.50,1148.91 829.00,1149.34 829.50,1149.75 830.00,1150.14 830.50,1150.52 831.00,1150.88 831.50,1151.23 832.00,1151.57 832.50,1151.90 833.00,1152.21 833.50,1152.51 834.00,1152.81 834.50,1153.09 835.00,1153.36 835.50,1153.62 836.00,1153.88 836.50,1154.12 837.00,1154.36 837.50,1154.59 838.00,1154.81 838.50,1155.02 839.00,1155.23 839.50,1155.43 840.00,1155.63 840.50,1155.82 841.00,1156.00 841.50,1156.18 842.00,1156.35 842.50,1156.51 843.00,1156.68 843.50,1156.83 844.00,1156.98 844.50,1157.13 845.00,1157.28 845.50,1157.41 846.00,1157.55 846.50,1157.68 847.00,1157.81 847.50,1157.93 848.00,1158.05 848.50,1158.17 849.00,1158.28 849.50,1158.40 850.00,1158.50 850.50,1158.61 851.00,1158.71 851.50,1158.81 852.00,1158.91 852.50,1159.00 853.00,1159.09 853.50,1159.18 854.00,1159.27 854.50,1159.35 855.00,1159.43 855.50,1159.51 856.00,1159.59 856.50,1159.66 857.00,1159.74 857.50,1159.81 858.00,1159.88 858.50,1159.95 859.00,1160.01 859.50,1160.08 860.00,1160.14 860.50,1160.20 861.00,1160.26 861.50,1160.32 862.00,1160.37 862.50,1160.43 863.00,1160.48 863.50,1160.53 864.00,1160.58 864.50,1160.63 865.00,1160.68 865.50,1160.72 866.00,1160.77 866.50,1160.81 867.00,1160.85 867.50,1160.89 868.00,1160.93 868.50,1160.97 869.00,1161.00 869.50,1161.04 870.00,1161.07 870.50,1161.11 871.00,1161.14 871.50,1161.17 872.00,1161.20 872.50,1161.23 873.00,1161.25 873.50,1161.28 874.00,1161.31 874.50,1161.33 875.00,1161.35 875.50,1161.37 876.00,1161.40 876.50,1161.41 877.00,1161.43 877.50,1161.45 878.00,1161.47 878.50,1161.48 879.00,1161.50 879.50,1161.51 880.00,1161.52 880.50,1161.54 881.00,1161.55 881.50,1161.56 882.00,1161.56 882.50,1161.57 883.00,1161.58 883.50,1161.58 884.00,1161.59 884.50,1161.59 885.00,1161.59 885.50,1161.60 886.00,1161.60 886.50,1161.60 887.00,1161.59 887.50,1161.59 888.00,1161.59 888.50,1161.58 889.00,1161.57 889.50,1161.57 890.00,1161.56 890.50,1161.55 891.00,1161.54 891.50,1161.53 892.00,1161.51 892.50,1161.50 893.00,1161.48 893.50,1161.47 894.00,1161.45 894.50,1161.43 895.00,1161.41 895.50,1161.39 896.00,1161.37 896.50,1161.34 897.00,1161.32 897.50,1161.29 898.00,1161.26 898.50,1161.23 899.00,1161.20 899.50,1161.17 900.00,1161.13 900.50,1161.10 901.00,1161.06 901.50,1161.02 902.00,1160.98 902.50,1160.94 903.00,1160.89 903.50,1160.85 904.00,1160.80 904.50,1160.75 905.00,1160.70 905.50,1160.65 906.00,1160.59 906.50,1160.53 907.00,1160.48 907.50,1160.41 908.00,1160.35 908.50,1160.28 909.00,1160.22 909.50,1160.15 910.00,1160.07 910.50,1160.00 911.00,1159.92 911.50,1159.84 912.00,1159.76 912.50,1159.67 913.00,1159.58 913.50,1159.49 914.00,1159.40 914.50,1159.30 915.00,1159.20 915.50,1159.09 916.00,1158.98 916.50,1158.87 917.00,1158.76 917.50,1158.64 918.00,1158.52 918.50,1158.39 919.00,1158.26 919.50,1158.12 920.00,1157.98 920.50,1157.84 921.00,1157.69 921.50,1157.53 922.00,1157.37 922.50,1157.20 923.00,1157.03 923.50,1156.85 924.00,1156.67 924.50,1156.48 925.00,1156.28 925.50,1156.07 926.00,1155.86 926.50,1155.63 927.00,1155.40 927.50,1155.16 928.00,1154.91 928.50,1154.64 929.00,1154.37 929.50,1154.08 930.00,1153.78 930.50,1153.46 931.00,1153.13 931.50,1152.79 932.00,1152.42 932.50,1152.04 933.00,1151.63 933.50,1151.21 934.00,1150.76 934.50,1150.28 935.00,1149.77 935.50,1149.24 936.00,1148.67 936.50,1148.07 937.00,1147.42 937.50,1146.74 938.00,1146.01 938.50,1145.24 939.00,1144.41 939.50,1143.53 940.00,1142.58 940.50,1141.58 941.00,1140.50 941.50,1139.36 942.00,1138.13 942.50,1136.82 943.00,1135.42 943.50,1133.93 944.00,1132.34 944.50,1130.64 945.00,1128.83 945.50,1126.91 946.00,1124.85 946.50,1122.67 947.00,1120.36 947.50,1117.90 948.00,1115.29 948.50,1112.53 949.00,1109.61 949.50,1106.53 950.00,1103.28 950.50,1099.86 951.00,1096.25 951.50,1092.47 952.00,1088.50 952.50,1084.35 953.00,1080.01 953.50,1075.47 954.00,1070.75 954.50,1065.85 955.00,1060.75 955.50,1055.48 956.00,1050.02 956.50,1044.39 957.00,1038.60 957.50,1032.65 958.00,1026.55 958.50,1020.31 959.00,1013.94 959.50,1007.47 960.00,1000.91 960.50,994.28 961.00,987.59 961.50,980.87 962.00,974.16 962.50,967.47 963.00,960.84 963.50,954.31 964.00,947.90 964.50,941.66 965.00,935.64 965.50,929.86 966.00,924.39 966.50,919.26 967.00,914.52 967.50,910.21 968.00,906.38 968.50,903.07 969.00,900.31 969.50,898.14 970.00,896.58 970.50,895.65 971.00,895.37 971.50,895.72 972.00,896.72 972.50,898.35 973.00,900.59 973.50,903.42 974.00,906.80 974.50,910.69 975.00,915.06 975.50,919.86 976.00,925.04 976.50,930.57 977.00,936.40 977.50,942.47 978.00,948.76 978.50,955.21 979.00,961.78 979.50,968.45 980.00,975.18 980.50,981.93 981.00,988.68 981.50,995.40 982.00,1002.07 982.50,1008.66 983.00,1015.17 983.50,1021.56 984.00,1027.83 984.50,1033.95 985.00,1039.94 985.50,1045.76 986.00,1051.41 986.50,1056.89 987.00,1062.20 987.50,1067.32 988.00,1072.25 988.50,1077.00 989.00,1081.55 989.50,1085.92 990.00,1090.10 990.50,1094.10 991.00,1097.91 991.50,1101.54 992.00,1104.99 992.50,1108.27 993.00,1111.38 993.50,1114.32 994.00,1117.11 994.50,1119.75 995.00,1122.23 995.50,1124.58 996.00,1126.79 996.50,1128.87 997.00,1130.83 997.50,1132.67 998.00,1134.40 998.50,1136.02 999.00,1137.54 999.50,1138.97 1000.00,1140.31 1000.50,1141.57 1001.00,1142.75 1001.50,1143.86 1002.00,1144.90 1002.50,1145.88 1003.00,1146.79 1003.50,1147.66 1004.00,1148.47 1004.50,1149.23 1005.00,1149.95 1005.50,1150.63 1006.00,1151.27 1006.50,1151.87 1007.00,1152.44 1007.50,1152.98 1008.00,1153.50 1008.50,1153.98 1009.00,1154.45 1009.50,1154.89 1010.00,1155.31 1010.50,1155.71 1011.00,1156.10 1011.50,1156.47 1012.00,1156.82 1012.50,1157.16 1013.00,1157.48 1013.50,1157.80 1014.00,1158.10 1014.50,1158.39 1015.00,1158.67 1015.50,1158.94 1016.00,1159.20 1016.50,1159.45 1017.00,1159.70 1017.50,1159.94 1018.00,1160.17 1018.50,1160.39 1019.00,1160.61 1019.50,1160.82 1020.00,1161.03 1020.50,1161.23 1021.00,1161.42 1021.50,1161.61 1022.00,1161.80 1022.50,1161.98 1023.00,1162.15 1023.50,1162.33 1024.00,1162.49 1024.50,1162.66 1025.00,1162.82 1025.50,1162.97 1026.00,1163.12 1026.50,1163.27 1027.00,1163.42 1027.50,1163.56 1028.00,1163.70 1028.50,1163.84 1029.00,1163.97 1029.50,1164.10 1030.00,1164.23 1030.50,1164.35 1031.00,1164.48 1031.50,1164.60 1032.00,1164.71 1032.50,1164.83 1033.00,1164.94 1033.50,1165.05 1034.00,1165.16 1034.50,1165.27 1035.00,1165.37 1035.50,1165.48 1036.00,1165.58 1036.50,1165.68 1037.00,1165.77 1037.50,1165.87 1038.00,1165.96 1038.50,1166.05 1039.00,1166.14 1039.50,1166.23 1040.00,1166.32 1040.50,1166.41 1041.00,1166.49 1041.50,1166.57 1042.00,1166.66 1042.50,1166.74 1043.00,1166.82 1043.50,1166.89 1044.00,1166.97 1044.50,1167.05 1045.00,1167.12 1045.50,1167.19 1046.00,1167.27 1046.50,1167.34 1047.00,1167.41 1047.50,1167.48 1048.00,1167.54 1048.50,1167.61 1049.00,1167.68 1049.50,1167.74 1050.00,1167.81 1050.50,1167.87 1051.00,1167.93 1051.50,1167.99 1052.00,1168.06 1052.50,1168.12 1053.00,1168.17 1053.50,1168.23 1054.00,1168.29 1054.50,1168.35 1055.00,1168.40 1055.50,1168.46 1056.00,1168.51 1056.50,1168.57 1057.00,1168.62 1057.50,1168.68 1058.00,1168.73 1058.50,1168.78 1059.00,1168.83 1059.50,1168.88 1060.00,1168.93 1060.50,1168.98 1061.00,1169.03 1061.50,1169.08 1062.00,1169.13 1062.50,1169.17 1063.00,1169.22 1063.50,1169.27 1064.00,1169.31 1064.50,1169.36 1065.00,1169.40 1065.50,1169.45 1066.00,1169.49 1066.50,1169.53 1067.00,1169.58 1067.50,1169.62 1068.00,1169.66 1068.50,1169.70 1069.00,1169.74 1069.50,1169.79 1070.00,1169.83 1070.50,1169.87 1071.00,1169.91 1071.50,1169.95 1072.00,1169.98 1072.50,1170.02 1073.00,1170.06 1073.50,1170.10 1074.00,1170.14 1074.50,1170.18 1075.00,1170.21 1075.50,1170.25 1076.00,1170.29 1076.50,1170.32 1077.00,1170.36 1077.50,1170.39 1078.00,1170.43 1078.50,1170.47 1079.00,1170.50 1079.50,1170.53 1080.00,1170.57 1080.50,1170.60 1081.00,1170.64 1081.50,1170.67 1082.00,1170.70 1082.50,1170.74 1083.00,1170.77 1083.50,1170.80 1084.00,1170.84 1084.50,1170.87 1085.00,1170.90 1085.50,1170.93 1086.00,1170.96 1086.50,1170.99 1087.00,1171.03 1087.50,1171.06 1088.00,1171.09 1088.50,1171.12 1089.00,1171.15 1089.50,1171.18 1090.00,1171.21 1090.50,1171.24 1091.00,1171.27 1091.50,1171.30 1092.00,1171.33 1092.50,1171.36 1093.00,1171.38 1093.50,1171.41 1094.00,1171.44 1094.50,1171.47 1095.00,1171.50 1095.50,1171.53 1096.00,1171.55 1096.50,1171.58 1097.00,1171.61 1097.50,1171.64 1098.00,1171.67 1098.50,1171.69 1099.00,1171.72 1099.50,1171.75 1100.00,1171.77 1100.50,1171.80 1101.00,1171.83 1101.50,1171.85 1102.00,1171.88 1102.50,1171.91 1103.00,1171.93 1103.50,1171.96 1104.00,1171.98 1104.50,1172.01 1105.00,1172.03 1105.50,1172.06 1106.00,1172.09 1106.50,1172.11 1107.00,1172.14 1107.50,1172.16 1108.00,1172.19 1108.50,1172.21 1109.00,1172.24 1109.50,1172.26 1110.00,1172.28 1110.50,1172.31 1111.00,1172.33 1111.50,1172.36 1112.00,1172.38 1112.50,1172.41 1113.00,1172.43 1113.50,1172.45 1114.00,1172.48 1114.50,1172.50 1115.00,1172.52 1115.50,1172.55 1116.00,1172.57 1116.50,1172.59 1117.00,1172.62 1117.50,1172.64 1118.00,1172.66 1118.50,1172.69 1119.00,1172.71 1119.50,1172.73 1120.00,1172.75 1120.50,1172.78 1121.00,1172.80 1121.50,1172.82 1122.00,1172.84 1122.50,1172.87 1123.00,1172.89 1123.50,1172.91 1124.00,1172.93 1124.50,1172.96 1125.00,1172.98 1125.50,1173.00 1126.00,1173.02 1126.50,1173.04 1127.00,1173.07 1127.50,1173.09 1128.00,1173.11 1128.50,1173.13 1129.00,1173.15 1129.00,1174.31 1128.50,1174.30 1128.00,1174.28 1127.50,1174.27 1127.00,1174.25 1126.50,1174.24 1126.00,1174.22 1125.50,1174.21 1125.00,1174.19 1124.50,1174.18 1124.00,1174.16 1123.50,1174.15 1123.00,1174.13 1122.50,1174.12 1122.00,1174.10 1121.50,1174.09 1121.00,1174.08 1120.50,1174.06 1120.00,1174.05 1119.50,1174.03 1119.00,1174.02 1118.50,1174.00 1118.00,1173.99 1117.50,1173.97 1117.00,1173.96 1116.50,1173.94 1116.00,1173.93 1115.50,1173.91 1115.00,1173.90 1114.50,1173.88 1114.00,1173.87 1113.50,1173.86 1113.00,1173.84 1112.50,1173.83 1112.00,1173.81 1111.50,1173.80 1111.00,1173.78 1110.50,1173.77 1110.00,1173.75 1109.50,1173.74 1109.00,1173.72 1108.50,1173.71 1108.00,1173.69 1107.50,1173.68 1107.00,1173.66 1106.50,1173.65 1106.00,1173.63 1105.50,1173.62 1105.00,1173.61 1104.50,1173.59 1104.00,1173.58 1103.50,1173.56 1103.00,1173.55 1102.50,1173.53 1102.00,1173.52 1101.50,1173.50 1101.00,1173.49 1100.50,1173.47 1100.00,1173.46 1099.50,1173.44 1099.00,1173.43 1098.50,1173.41 1098.00,1173.40 1097.50,1173.38 1097.00,1173.37 1096.50,1173.36 1096.00,1173.34 1095.50,1173.33 1095.00,1173.31 1094.50,1173.30 1094.00,1173.28 1093.50,1173.27 1093.00,1173.25 1092.50,1173.24 1092.00,1173.22 1091.50,1173.21 1091.00,1173.19 1090.50,1173.18 1090.00,1173.16 1089.50,1173.15 1089.00,1173.14 1088.50,1173.12 1088.00,1173.11 1087.50,1173.09 1087.00,1173.08 1086.50,1173.06 1086.00,1173.05 1085.50,1173.03 1085.00,1173.02 1084.50,1173.00 1084.00,1172.99 1083.50,1172.97 1083.00,1172.96 1082.50,1172.94 1082.00,1172.93 1081.50,1172.91 1081.00,1172.90 1080.50,1172.89 1080.00,1172.87 1079.50,1172.86 1079.00,1172.84 1078.50,1172.83 1078.00,1172.81 1077.50,1172.80 1077.00,1172.78 1076.50,1172.77 1076.00,1172.75 1075.50,1172.74 1075.00,1172.72 1074.50,1172.71 1074.00,1172.69 1073.50,1172.68 1073.00,1172.66 1072.50,1172.65 1072.00,1172.64 1071.50,1172.62 1071.00,1172.61 1070.50,1172.59 1070.00,1172.58 1069.50,1172.56 1069.00,1172.55 1068.50,1172.53 1068.00,1172.52 1067.50,1172.50 1067.00,1172.49 1066.50,1172.47 1066.00,1172.46 1065.50,1172.44 1065.00,1172.43 1064.50,1172.41 1064.00,1172.40 1063.50,1172.39 1063.00,1172.37 1062.50,1172.36 1062.00,1172.34 1061.50,1172.33 1061.00,1172.31 1060.50,1172.30 1060.00,1172.28 1059.50,1172.27 1059.00,1172.25 1058.50,1172.24 1058.00,1172.22 1057.50,1172.21 1057.00,1172.19 1056.50,1172.18 1056.00,1172.17 1055.50,1172.15 1055.00,1172.14 1054.50,1172.12 1054.00,1172.11 1053.50,1172.09 1053.00,1172.08 1052.50,1172.06 1052.00,1172.05 1051.50,1172.03 1051.00,1172.02 1050.50,1172.00 1050.00,1171.99 1049.50,1171.97 1049.00,1171.96 1048.50,1171.94 1048.00,1171.93 1047.50,1171.92 1047.00,1171.90 1046.50,1171.89 1046.00,1171.87 1045.50,1171.86 1045.00,1171.84 1044.50,1171.83 1044.00,1171.81 1043.50,1171.80 1043.00,1171.78 1042.50,1171.77 1042.00,1171.75 1041.50,1171.74 1041.00,1171.72 1040.50,1171.71 1040.00,1171.69 1039.50,1171.68 1039.00,1171.67 1038.50,1171.65 1038.00,1171.64 1037.50,1171.62 1037.00,1171.61 1036.50,1171.59 1036.00,1171.58 1035.50,1171.56 1035.00,1171.55 1034.50,1171.53 1034.00,1171.52 1033.50,1171.50 1033.00,1171.49 1032.50,1171.47 1032.00,1171.46 1031.50,1171.45 1031.00,1171.43 1030.50,1171.42 1030.00,1171.40 1029.50,1171.39 1029.00,1171.37 1028.50,1171.36 1028.00,1171.34 1027.50,1171.33 1027.00,1171.31 1026.50,1171.30 1026.00,1171.28 1025.50,1171.27 1025.00,1171.25 1024.50,1171.24 1024.00,1171.22 1023.50,1171.21 1023.00,1171.20 1022.50,1171.18 1022.00,1171.17 1021.50,1171.15 1021.00,1171.14 1020.50,1171.12 1020.00,1171.11 1019.50,1171.09 1019.00,1171.08 1018.50,1171.06 1018.00,1171.05 1017.50,1171.03 1017.00,1171.02 1016.50,1171.00 1016.00,1170.99 1015.50,1170.97 1015.00,1170.96 1014.50,1170.95 1014.00,1170.93 1013.50,1170.92 1013.00,1170.90 1012.50,1170.89 1012.00,1170.87 1011.50,1170.86 1011.00,1170.84 1010.50,1170.83 1010.00,1170.81 1009.50,1170.80 1009.00,1170.78 1008.50,1170.77 1008.00,1170.75 1007.50,1170.74 1007.00,1170.72 1006.50,1170.71 1006.00,1170.70 1005.50,1170.68 1005.00,1170.67 1004.50,1170.65 1004.00,1170.64 1003.50,1170.62 1003.00,1170.61 1002.50,1170.59 1002.00,1170.58 1001.50,1170.56 1001.00,1170.55 1000.50,1170.53 1000.00,1170.52 999.50,1170.50 999.00,1170.49 998.50,1170.48 998.00,1170.46 997.50,1170.45 997.00,1170.43 996.50,1170.42 996.00,1170.40 995.50,1170.39 995.00,1170.37 994.50,1170.36 994.00,1170.34 993.50,1170.33 993.00,1170.31 992.50,1170.30 992.00,1170.28 991.50,1170.27 991.00,1170.25 990.50,1170.24 990.00,1170.23 989.50,1170.21 989.00,1170.20 988.50,1170.18 988.00,1170.17 987.50,1170.15 987.00,1170.14 986.50,1170.12 986.00,1170.11 985.50,1170.09 985.00,1170.08 984.50,1170.06 984.00,1170.05 983.50,1170.03 983.00,1170.02 982.50,1170.00 982.00,1169.99 981.50,1169.98 981.00,1169.96 980.50,1169.95 980.00,1169.93 979.50,1169.92 979.00,1169.90 978.50,1169.89 978.00,1169.87 977.50,1169.86 977.00,1169.84 976.50,1169.83 976.00,1169.81 975.50,1169.80 975.00,1169.78 974.50,1169.77 974.00,1169.76 973.50,1169.74 973.00,1169.73 972.50,1169.71 972.00,1169.70 971.50,1169.68 971.00,1169.67 970.50,1169.65 970.00,1169.64 969.50,1169.62 969.00,1169.61 968.50,1169.59 968.00,1169.58 967.50,1169.56 967.00,1169.55 966.50,1169.53 966.00,1169.52 965.50,1169.51 965.00,1169.49 964.50,1169.48 964.00,1169.46 963.50,1169.45 963.00,1169.43 962.50,1169.42 962.00,1169.40 961.50,1169.39 961.00,1169.37 960.50,1169.36 960.00,1169.34 959.50,1169.33 959.00,1169.31 958.50,1169.30 958.00,1169.28 957.50,1169.27 957.00,1169.26 956.50,1169.24 956.00,1169.23 955.50,1169.21 955.00,1169.20 954.50,1169.18 954.00,1169.17 953.50,1169.15 953.00,1169.14 952.50,1169.12 952.00,1169.11 951.50,1169.09 951.00,1169.08 950.50,1169.06 950.00,1169.05 949.50,1169.03 949.00,1169.02 948.50,1169.01 948.00,1168.99 947.50,1168.98 947.00,1168.96 946.50,1168.95 946.00,1168.93 945.50,1168.92 945.00,1168.90 944.50,1168.89 944.00,1168.87 943.50,1168.86 943.00,1168.84 942.50,1168.83 942.00,1168.81 941.50,1168.80 941.00,1168.79 940.50,1168.77 940.00,1168.76 939.50,1168.74 939.00,1168.73 938.50,1168.71 938.00,1168.70 937.50,1168.68 937.00,1168.67 936.50,1168.65 936.00,1168.64 935.50,1168.62 935.00,1168.61 934.50,1168.59 934.00,1168.58 933.50,1168.56 933.00,1168.55 932.50,1168.54 932.00,1168.52 931.50,1168.51 931.00,1168.49 930.50,1168.48 930.00,1168.46 929.50,1168.45 929.00,1168.43 928.50,1168.42 928.00,1168.40 927.50,1168.39 927.00,1168.37 926.50,1168.36 926.00,1168.34 925.50,1168.33 925.00,1168.31 924.50,1168.30 924.00,1168.29 923.50,1168.27 923.00,1168.26 922.50,1168.24 922.00,1168.23 921.50,1168.21 921.00,1168.20 920.50,1168.18 920.00,1168.17 919.50,1168.15 919.00,1168.14 918.50,1168.12 918.00,1168.11 917.50,1168.09 917.00,1168.08 916.50,1168.07 916.00,1168.05 915.50,1168.04 915.00,1168.02 914.50,1168.01 914.00,1167.99 913.50,1167.98 913.00,1167.96 912.50,1167.95 912.00,1167.93 911.50,1167.92 911.00,1167.90 910.50,1167.89 910.00,1167.87 909.50,1167.86 909.00,1167.84 908.50,1167.83 908.00,1167.82 907.50,1167.80 907.00,1167.79 906.50,1167.77 906.00,1167.76 905.50,1167.74 905.00,1167.73 904.50,1167.71 904.00,1167.70 903.50,1167.68 903.00,1167.67 902.50,1167.65 902.00,1167.64 901.50,1167.62 901.00,1167.61 900.50,1167.59 900.00,1167.58 899.50,1167.57 899.00,1167.55 898.50,1167.54 898.00,1167.52 897.50,1167.51 897.00,1167.49 896.50,1167.48 896.00,1167.46 895.50,1167.45 895.00,1167.43 894.50,1167.42 894.00,1167.40 893.50,1167.39 893.00,1167.37 892.50,1167.36 892.00,1167.34 891.50,1167.33 891.00,1167.32 890.50,1167.30 890.00,1167.29 889.50,1167.27 889.00,1167.26 888.50,1167.24 888.00,1167.23 887.50,1167.21 887.00,1167.20 886.50,1167.18 886.00,1167.17 885.50,1167.15 885.00,1167.14 884.50,1167.12 884.00,1167.11 883.50,1167.10 883.00,1167.08 882.50,1167.07 882.00,1167.05 881.50,1167.04 881.00,1167.02 880.50,1167.01 880.00,1166.99 879.50,1166.98 879.00,1166.96 878.50,1166.95 878.00,1166.93 877.50,1166.92 877.00,1166.90 876.50,1166.89 876.00,1166.87 875.50,1166.86 875.00,1166.85 874.50,1166.83 874.00,1166.82 873.50,1166.80 873.00,1166.79 872.50,1166.77 872.00,1166.76 871.50,1166.74 871.00,1166.73 870.50,1166.71 870.00,1166.70 869.50,1166.68 869.00,1166.67 868.50,1166.65 868.00,1166.64 867.50,1166.62 867.00,1166.61 866.50,1166.60 866.00,1166.58 865.50,1166.57 865.00,1166.55 864.50,1166.54 864.00,1166.52 863.50,1166.51 863.00,1166.49 862.50,1166.48 862.00,1166.46 861.50,1166.45 861.00,1166.43 860.50,1166.42 860.00,1166.40 859.50,1166.39 859.00,1166.38 858.50,1166.36 858.00,1166.35 857.50,1166.33 857.00,1166.32 856.50,1166.30 856.00,1166.29 855.50,1166.27 855.00,1166.26 854.50,1166.24 854.00,1166.23 853.50,1166.21 853.00,1166.20 852.50,1166.18 852.00,1166.17 851.50,1166.15 851.00,1166.14 850.50,1166.13 850.00,1166.11 849.50,1166.10 849.00,1166.08 848.50,1166.07 848.00,1166.05 847.50,1166.04 847.00,1166.02 846.50,1166.01 846.00,1165.99 845.50,1165.98 845.00,1165.96 844.50,1165.95 844.00,1165.93 843.50,1165.92 843.00,1165.90 842.50,1165.89 842.00,1165.88 841.50,1165.86 841.00,1165.85 840.50,1165.83 840.00,1165.82 839.50,1165.80 839.00,1165.79 838.50,1165.77 838.00,1165.76 837.50,1165.74 837.00,1165.73 836.50,1165.71 836.00,1165.70 835.50,1165.68 835.00,1165.67 834.50,1165.65 834.00,1165.64 833.50,1165.63 833.00,1165.61 832.50,1165.60 832.00,1165.58 831.50,1165.57 831.00,1165.55 830.50,1165.54 830.00,1165.52 829.50,1165.51 829.00,1165.49 828.50,1165.48 828.00,1165.46 827.50,1165.45 827.00,1165.43 826.50,1165.42 826.00,1165.41 825.50,1165.39 825.00,1165.38 824.50,1165.36 824.00,1165.35 823.50,1165.33 823.00,1165.32 822.50,1165.30 822.00,1165.29 821.50,1165.27 821.00,1165.26 820.50,1165.24 820.00,1165.23 819.50,1165.21 819.00,1165.20 818.50,1165.18 818.00,1165.17 817.50,1165.16 817.00,1165.14 816.50,1165.13 816.00,1165.11 815.50,1165.10 815.00,1165.08 814.50,1165.07 814.00,1165.05 813.50,1165.04 813.00,1165.02 812.50,1165.01 812.00,1164.99 811.50,1164.98 811.00,1164.96 810.50,1164.95 810.00,1164.93 809.50,1164.92 809.00,1164.91 808.50,1164.89 808.00,1164.88 807.50,1164.86 807.00,1164.85 806.50,1164.83 806.00,1164.82 805.50,1164.80 805.00,1164.79 804.50,1164.77 804.00,1164.76 803.50,1164.74 803.00,1164.73 802.50,1164.71 802.00,1164.70 801.50,1164.68 801.00,1164.67 800.50,1164.66 800.00,1164.64 799.50,1164.63 799.00,1164.61 798.50,1164.60 798.00,1164.58 797.50,1164.57 797.00,1164.55 796.50,1164.54 796.00,1164.52 795.50,1164.51 795.00,1164.49 794.50,1164.48 794.00,1164.46 793.50,1164.45 793.00,1164.44 792.50,1164.42 792.00,1164.41 791.50,1164.39 791.00,1164.38 790.50,1164.36 790.00,1164.35 789.50,1164.33 789.00,1164.32 788.50,1164.30 788.00,1164.29 787.50,1164.27 787.00,1164.26 786.50,1164.24 786.00,1164.23 785.50,1164.21 785.00,1164.20 784.50,1164.19 784.00,1164.17 783.50,1164.16 783.00,1164.14 782.50,1164.13 782.00,1164.11 781.50,1164.10 781.00,1164.08 780.50,1164.07 780.00,1164.05 779.50,1164.04 779.00,1164.02 778.50,1164.01 778.00,1163.99 777.50,1163.98 777.00,1163.96 776.50,1163.95 776.00,1163.94 775.50,1163.92 775.00,1163.91 774.50,1163.89 774.00,1163.88 773.50,1163.86 773.00,1163.85 772.50,1163.83 772.00,1163.82 771.50,1163.80 771.00,1163.79 770.50,1163.77 770.00,1163.76 769.50,1163.74 769.00,1163.73 768.50,1163.72 768.00,1163.70 767.50,1163.69 767.00,1163.67 766.50,1163.66 766.00,1163.64 765.50,1163.63 765.00,1163.61 764.50,1163.60 764.00,1163.58 763.50,1163.57 763.00,1163.55 762.50,1163.54 762.00,1163.52 761.50,1163.51 761.00,1163.49 760.50,1163.48 760.00,1163.47 759.50,1163.45 759.00,1163.44 758.50,1163.42 758.00,1163.41 757.50,1163.39 757.00,1163.38 756.50,1163.36 756.00,1163.35 755.50,1163.33 755.00,1163.32 754.50,1163.30 754.00,1163.29 753.50,1163.27 753.00,1163.26 752.50,1163.24 752.00,1163.23 751.50,1163.22 751.00,1163.20 750.50,1163.19 750.00,1163.17 749.50,1163.16 749.00,1163.14 748.50,1163.13 748.00,1163.11 747.50,1163.10 747.00,1163.08 746.50,1163.07 746.00,1163.05 745.50,1163.04 745.00,1163.02 744.50,1163.01 744.00,1162.99 743.50,1162.98 743.00,1162.97 742.50,1162.95 742.00,1162.94 741.50,1162.92 741.00,1162.91 740.50,1162.89 740.00,1162.88 739.50,1162.86 739.00,1162.85 738.50,1162.83 738.00,1162.82 737.50,1162.80 737.00,1162.79 736.50,1162.77 736.00,1162.76 735.50,1162.75 735.00,1162.73 734.50,1162.72 734.00,1162.70 733.50,1162.69 733.00,1162.67 732.50,1162.66 732.00,1162.64 731.50,1162.63 731.00,1162.61 730.50,1162.60 730.00,1162.58 729.50,1162.57 729.00,1162.55 728.50,1162.54 728.00,1162.52 727.50,1162.51 727.00,1162.50 726.50,1162.48 726.00,1162.47 725.50,1162.45 725.00,1162.44 724.50,1162.42 724.00,1162.41 723.50,1162.39 723.00,1162.38 722.50,1162.36 722.00,1162.35 721.50,1162.33 721.00,1162.32 720.50,1162.30 720.00,1162.29 719.50,1162.27 719.00,1162.26 718.50,1162.25 718.00,1162.23 717.50,1162.22 717.00,1162.20 716.50,1162.19 716.00,1162.17 715.50,1162.16 715.00,1162.14 714.50,1162.13 714.00,1162.11 713.50,1162.10 713.00,1162.08 712.50,1162.07 712.00,1162.05 711.50,1162.04 711.00,1162.03 710.50,1162.01 710.00,1162.00 709.50,1161.98 709.00,1161.97 708.50,1161.95 708.00,1161.94 707.50,1161.92 707.00,1161.91 706.50,1161.89 706.00,1161.88 705.50,1161.86 705.00,1161.85 704.50,1161.83 704.00,1161.82 703.50,1161.80 703.00,1161.79 702.50,1161.78 702.00,1161.76 701.50,1161.75 701.00,1161.73 700.50,1161.72 700.00,1161.70 699.50,1161.69 699.00,1161.67 698.50,1161.66 698.00,1161.64 697.50,1161.63 697.00,1161.61 696.50,1161.60 696.00,1161.58 695.50,1161.57 695.00,1161.55 694.50,1161.54" fill="#dcf0fc" stroke="none"/>
<polyline points="694.50,1159.46 695.00,1159.45 695.50,1159.45 696.00,1159.45 696.50,1159.44 697.00,1159.44 697.50,1159.43 698.00,1159.43 698.50,1159.42 699.00,1159.41 699.50,1159.41 700.00,1159.40 700.50,1159.39 701.00,1159.39 701.50,1159.38 702.00,1159.37 702.50,1159.36 703.00,1159.35 703.50,1159.34 704.00,1159.33 704.50,1159.32 705.00,1159.31 705.50,1159.30 706.00,1159.29 706.50,1159.28 707.00,1159.27 707.50,1159.26 708.00,1159.24 708.50,1159.23 709.00,1159.22 709.50,1159.20 710.00,1159.19 710.50,1159.17 711.00,1159.16 711.50,1159.14 712.00,1159.12 712.50,1159.11 713.00,1159.09 713.50,1159.07 714.00,1159.05 714.50,1159.03 715.00,1159.01 715.50,1158.99 716.00,1158.97 716.50,1158.95 717.00,1158.93 717.50,1158.90 718.00,1158.88 718.50,1158.85 719.00,1158.83 719.50,1158.80 720.00,1158.78 720.50,1158.75 721.00,1158.72 721.50,1158.69 722.00,1158.66 722.50,1158.63 723.00,1158.60 723.50,1158.56 724.00,1158.53 724.50,1158.49 725.00,1158.46 725.50,1158.42 726.00,1158.38 726.50,1158.34 727.00,1158.30 727.50,1158.26 728.00,1158.22 728.50,1158.17 729.00,1158.13 729.50,1158.08 730.00,1158.03 730.50,1157.98 731.00,1157.93 731.50,1157.88 732.00,1157.83 732.50,1157.77 733.00,1157.72 733.50,1157.66 734.00,1157.60 734.50,1157.54 735.00,1157.47 735.50,1157.41 736.00,1157.34 736.50,1157.27 737.00,1157.20 737.50,1157.12 738.00,1157.05 738.50,1156.97 739.00,1156.89 739.50,1156.81 740.00,1156.72 740.50,1156.63 741.00,1156.54 741.50,1156.45 742.00,1156.35 742.50,1156.25 743.00,1156.15 743.50,1156.04 744.00,1155.94 744.50,1155.82 745.00,1155.71 745.50,1155.59 746.00,1155.46 746.50,1155.34 747.00,1155.21 747.50,1155.07 748.00,1154.93 748.50,1154.78 749.00,1154.63 749.50,1154.48 750.00,1154.32 750.50,1154.15 751.00,1153.98 751.50,1153.81 752.00,1153.62 752.50,1153.43 753.00,1153.24 753.50,1153.03 754.00,1152.82 754.50,1152.60 755.00,1152.38 755.50,1152.14 756.00,1151.90 756.50,1151.65 757.00,1151.38 757.50,1151.11 758.00,1150.83 758.50,1150.54 759.00,1150.23 759.50,1149.91 760.00,1149.58 760.50,1149.24 761.00,1148.88 761.50,1148.51 762.00,1148.12 762.50,1147.72 763.00,1147.29 763.50,1146.85 764.00,1146.40 764.50,1145.92 765.00,1145.42 765.50,1144.89 766.00,1144.34 766.50,1143.77 767.00,1143.17 767.50,1142.54 768.00,1141.89 768.50,1141.20 769.00,1140.47 769.50,1139.71 770.00,1138.92 770.50,1138.08 771.00,1137.20 771.50,1136.27 772.00,1135.29 772.50,1134.27 773.00,1133.18 773.50,1132.04 774.00,1130.83 774.50,1129.56 775.00,1128.21 775.50,1126.79 776.00,1125.28 776.50,1123.69 777.00,1122.00 777.50,1120.21 778.00,1118.31 778.50,1116.30 779.00,1114.16 779.50,1111.89 780.00,1109.47 780.50,1106.91 781.00,1104.18 781.50,1101.29 782.00,1098.21 782.50,1094.93 783.00,1091.45 783.50,1087.76 784.00,1083.84 784.50,1079.68 785.00,1075.27 785.50,1070.62 786.00,1065.71 786.50,1060.54 787.00,1055.11 787.50,1049.44 788.00,1043.55 788.50,1037.45 789.00,1031.18 789.50,1024.78 790.00,1018.32 790.50,1011.87 791.00,1005.50 791.50,999.33 792.00,993.46 792.50,988.01 793.00,983.10 793.50,978.86 794.00,975.39 794.50,972.81 795.00,971.18 795.50,970.56 796.00,970.97 796.50,972.40 797.00,974.79 797.50,978.09 798.00,982.19 798.50,986.98 799.00,992.34 799.50,998.14 800.00,1004.28 800.50,1010.63 801.00,1017.09 801.50,1023.58 802.00,1030.01 802.50,1036.34 803.00,1042.50 803.50,1048.46 804.00,1054.20 804.50,1059.70 805.00,1064.95 805.50,1069.94 806.00,1074.68 806.50,1079.16 807.00,1083.39 807.50,1087.38 808.00,1091.15 808.50,1094.69 809.00,1098.03 809.50,1101.17 810.00,1104.13 810.50,1106.91 811.00,1109.53 811.50,1112.00 812.00,1114.32 812.50,1116.51 813.00,1118.57 813.50,1120.51 814.00,1122.35 814.50,1124.08 815.00,1125.71 815.50,1127.26 816.00,1128.72 816.50,1130.10 817.00,1131.41 817.50,1132.65 818.00,1133.83 818.50,1134.94 819.00,1136.00 819.50,1137.01 820.00,1137.97 820.50,1138.88 821.00,1139.74 821.50,1140.57 822.00,1141.35 822.50,1142.10 823.00,1142.82 823.50,1143.50 824.00,1144.16 824.50,1144.78 825.00,1145.38 825.50,1145.95 826.00,1146.50 826.50,1147.02 827.00,1147.52 827.50,1148.00 828.00,1148.47 828.50,1148.91 829.00,1149.34 829.50,1149.75 830.00,1150.14 830.50,1150.52 831.00,1150.88 831.50,1151.23 832.00,1151.57 832.50,1151.90 833.00,1152.21 833.50,1152.51 834.00,1152.81 834.50,1153.09 835.00,1153.36 835.50,1153.62 836.00,1153.88 836.50,1154.12 837.00,1154.36 837.50,1154.59 838.00,1154.81 838.50,1155.02 839.00,1155.23 839.50,1155.43 840.00,1155.63 840.50,1155.82 841.00,1156.00 841.50,1156.18 842.00,1156.35 842.50,1156.51 843.00,1156.68 843.50,1156.83 844.00,1156.98 844.50,1157.13 845.00,1157.28 845.50,1157.41 846.00,1157.55 846.50,1157.68 847.00,1157.81 847.50,1157.93 848.00,1158.05 848.50,1158.17 849.00,1158.28 849.50,1158.40 850.00,1158.50 850.50,1158.61 851.00,1158.71 851.50,1158.81 852.00,1158.91 852.50,1159.00 853.00,1159.09 853.50,1159.18 854.00,1159.27 854.50,1159.35 855.00,1159.43 855.50,1159.51 856.00,1159.59 856.50,1159.66 857.00,1159.74 857.50,1159.81 858.00,1159.88 858.50,1159.95 859.00,1160.01 859.50,1160.08 860.00,1160.14 860.50,1160.20 861.00,1160.26 861.50,1160.32 862.00,1160.37 862.50,1160.43 863.00,1160.48 863.50,1160.53 864.00,1160.58 864.50,1160.63 865.00,1160.68 865.50,1160.72 866.00,1160.77 866.50,1160.81 867.00,1160.85 867.50,1160.89 868.00,1160.93 868.50,1160.97 869.00,1161.00 869.50,1161.04 870.00,1161.07 870.50,1161.11 871.00,1161.14 871.50,1161.17 872.00,1161.20 872.50,1161.23 873.00,1161.25 873.50,1161.28 874.00,1161.31 874.50,1161.33 875.00,1161.35 875.50,1161.37 876.00,1161.40 876.50,1161.41 877.00,1161.43 877.50,1161.45 878.00,1161.47 878.50,1161.48 879.00,1161.50 879.50,1161.51 880.00,1161.52 880.50,1161.54 881.00,1161.55 881.50,1161.56 882.00,1161.56 882.50,1161.57 883.00,1161.58 883.50,1161.58 884.00,1161.59 884.50,1161.59 885.00,1161.59 885.50,1161.60 886.00,1161.60 886.50,1161.60 887.00,1161.59 887.50,1161.59 888.00,1161.59 888.50,1161.58 889.00,1161.57 889.50,1161.57 890.00,1161.56 890.50,1161.55 891.00,1161.54 891.50,1161.53 892.00,1161.51 892.50,1161.50 893.00,1161.48 893.50,1161.47 894.00,1161.45 894.50,1161.43 895.00,1161.41 895.50,1161.39 896.00,1161.37 896.50,1161.34 897.00,1161.32 897.50,1161.29 898.00,1161.26 898.50,1161.23 899.00,1161.20 899.50,1161.17 900.00,1161.13 900.50,1161.10 901.00,1161.06 901.50,1161.02 902.00,1160.98 902.50,1160.94 903.00,1160.89 903.50,1160.85 904.00,1160.80 904.50,1160.75 905.00,1160.70 905.50,1160.65 906.00,1160.59 906.50,1160.53 907.00,1160.48 907.50,1160.41 908.00,1160.35 908.50,1160.28 909.00,1160.22 909.50,1160.15 910.00,1160.07 910.50,1160.00 911.00,1159.92 911.50,1159.84 912.00,1159.76 912.50,1159.67 913.00,1159.58 913.50,1159.49 914.00,1159.40 914.50,1159.30 915.00,1159.20 915.50,1159.09 916.00,1158.98 916.50,1158.87 917.00,1158.76 917.50,1158.64 918.00,1158.52 918.50,1158.39 919.00,1158.26 919.50,1158.12 920.00,1157.98 920.50,1157.84 921.00,1157.69 921.50,1157.53 922.00,1157.37 922.50,1157.20 923.00,1157.03 923.50,1156.85 924.00,1156.67 924.50,1156.48 925.00,1156.28 925.50,1156.07 926.00,1155.86 926.50,1155.63 927.00,1155.40 927.50,1155.16 928.00,1154.91 928.50,1154.64 929.00,1154.37 929.50,1154.08 930.00,1153.78 930.50,1153.46 931.00,1153.13 931.50,1152.79 932.00,1152.42 932.50,1152.04 933.00,1151.63 933.50,1151.21 934.00,1150.76 934.50,1150.28 935.00,1149.77 935.50,1149.24 936.00,1148.67 936.50,1148.07 937.00,1147.42 937.50,1146.74 938.00,1146.01 938.50,1145.24 939.00,1144.41 939.50,1143.53 940.00,1142.58 940.50,1141.58 941.00,1140.50 941.50,1139.36 942.00,1138.13 942.50,1136.82 943.00,1135.42 943.50,1133.93 944.00,1132.34 944.50,1130.64 945.00,1128.83 945.50,1126.91 946.00,1124.85 946.50,1122.67 947.00,1120.36 947.50,1117.90 948.00,1115.29 948.50,1112.53 949.00,1109.61 949.50,1106.53 950.00,1103.28 950.50,1099.86 951.00,1096.25 951.50,1092.47 952.00,1088.50 952.50,1084.35 953.00,1080.01 953.50,1075.47 954.00,1070.75 954.50,1065.85 955.00,1060.75 955.50,1055.48 956.00,1050.02 956.50,1044.39 957.00,1038.60 957.50,1032.65 958.00,1026.55 958.50,1020.31 959.00,1013.94 959.50,1007.47 960.00,1000.91 960.50,994.28 961.00,987.59 961.50,980.87 962.00,974.16 962.50,967.47 963.00,960.84 963.50,954.31 964.00,947.90 964.50,941.66 965.00,935.64 965.50,929.86 966.00,924.39 966.50,919.26 967.00,914.52 967.50,910.21 968.00,906.38 968.50,903.07 969.00,900.31 969.50,898.14 970.00,896.58 970.50,895.65 971.00,895.37 971.50,895.72 972.00,896.72 972.50,898.35 973.00,900.59 973.50,903.42 974.00,906.80 974.50,910.69 975.00,915.06 975.50,919.86 976.00,925.04 976.50,930.57 977.00,936.40 977.50,942.47 978.00,948.76 978.50,955.21 979.00,961.78 979.50,968.45 980.00,975.18 980.50,981.93 981.00,988.68 981.50,995.40 982.00,1002.07 982.50,1008.66 983.00,1015.17 983.50,1021.56 984.00,1027.83 984.50,1033.95 985.00,1039.94 985.50,1045.76 986.00,1051.41 986.50,1056.89 987.00,1062.20 987.50,1067.32 988.00,1072.25 988.50,1077.00 989.00,1081.55 989.50,1085.92 990.00,1090.10 990.50,1094.10 991.00,1097.91 991.50,1101.54 992.00,1104.99 992.50,1108.27 993.00,1111.38 993.50,1114.32 994.00,1117.11 994.50,1119.75 995.00,1122.23 995.50,1124.58 996.00,1126.79 996.50,1128.87 997.00,1130.83 997.50,1132.67 998.00,1134.40 998.50,1136.02 999.00,1137.54 999.50,1138.97 1000.00,1140.31 1000.50,1141.57 1001.00,1142.75 1001.50,1143.86 1002.00,1144.90 1002.50,1145.88 1003.00,1146.79 1003.50,1147.66 1004.00,1148.47 1004.50,1149.23 1005.00,1149.95 1005.50,1150.63 1006.00,1151.27 1006.50,1151.87 1007.00,1152.44 1007.50,1152.98 1008.00,1153.50 1008.50,1153.98 1009.00,1154.45 1009.50,1154.89 1010.00,1155.31 1010.50,1155.71 1011.00,1156.10 1011.50,1156.47 1012.00,1156.82 1012.50,1157.16 1013.00,1157.48 1013.50,1157.80 1014.00,1158.10 1014.50,1158.39 1015.00,1158.67 1015.50,1158.94 1016.00,1159.20 1016.50,1159.45 1017.00,1159.70 1017.50,1159.94 1018.00,1160.17 1018.50,1160.39 1019.00,1160.61 1019.50,1160.82 1020.00,1161.03 1020.50,1161.23 1021.00,1161.42 1021.50,1161.61 1022.00,1161.80 1022.50,1161.98 1023.00,1162.15 1023.50,1162.33 1024.00,1162.49 1024.50,1162.66 1025.00,1162.82 1025.50,1162.97 1026.00,1163.12 1026.50,1163.27 1027.00,1163.42 1027.50,1163.56 1028.00,1163.70 1028.50,1163.84 1029.00,1163.97 1029.50,1164.10 1030.00,1164.23 1030.50,1164.35 1031.00,1164.48 1031.50,1164.60 1032.00,1164.71 1032.50,1164.83 1033.00,1164.94 1033.50,1165.05 1034.00,1165.16 1034.50,1165.27 1035.00,1165.37 1035.50,1165.48 1036.00,1165.58 1036.50,1165.68 1037.00,1165.77 1037.50,1165.87 1038.00,1165.96 1038.50,1166.05 1039.00,1166.14 1039.50,1166.23 1040.00,1166.32 1040.50,1166.41 1041.00,1166.49 1041.50,1166.57 1042.00,1166.66 1042.50,1166.74 1043.00,1166.82 1043.50,1166.89 1044.00,1166.97 1044.50,1167.05 1045.00,1167.12 1045.50,1167.19 1046.00,1167.27 1046.50,1167.34 1047.00,1167.41 1047.50,1167.48 1048.00,1167.54 1048.50,1167.61 1049.00,1167.68 1049.50,1167.74 1050.00,1167.81 1050.50,1167.87 1051.00,1167.93 1051.50,1167.99 1052.00,1168.06 1052.50,1168.12 1053.00,1168.17 1053.50,1168.23 1054.00,1168.29 1054.50,1168.35 1055.00,1168.40 1055.50,1168.46 1056.00,1168.51 1056.50,1168.57 1057.00,1168.62 1057.50,1168.68 1058.00,1168.73 1058.50,1168.78 1059.00,1168.83 1059.50,1168.88 1060.00,1168.93 1060.50,1168.98 1061.00,1169.03 1061.50,1169.08 1062.00,1169.13 1062.50,1169.17 1063.00,1169.22 1063.50,1169.27 1064.00,1169.31 1064.50,1169.36 1065.00,1169.40 1065.50,1169.45 1066.00,1169.49 1066.50,1169.53 1067.00,1169.58 1067.50,1169.62 1068.00,1169.66 1068.50,1169.70 1069.00,1169.74 1069.50,1169.79 1070.00,1169.83 1070.50,1169.87 1071.00,1169.91 1071.50,1169.95 1072.00,1169.98 1072.50,1170.02 1073.00,1170.06 1073.50,1170.10 1074.00,1170.14 1074.50,1170.18 1075.00,1170.21 1075.50,1170.25 1076.00,1170.29 1076.50,1170.32 1077.00,1170.36 1077.50,1170.39 1078.00,1170.43 1078.50,1170.47 1079.00,1170.50 1079.50,1170.53 1080.00,1170.57 1080.50,1170.60 1081.00,1170.64 1081.50,1170.67 1082.00,1170.70 1082.50,1170.74 1083.00,1170.77 1083.50,1170.80 1084.00,1170.84 1084.50,1170.87 1085.00,1170.90 1085.50,1170.93 1086.00,1170.96 1086.50,1170.99 1087.00,1171.03 1087.50,1171.06 1088.00,1171.09 1088.50,1171.12 1089.00,1171.15 1089.50,1171.18 1090.00,1171.21 1090.50,1171.24 1091.00,1171.27 1091.50,1171.30 1092.00,1171.33 1092.50,1171.36 1093.00,1171.38 1093.50,1171.41 1094.00,1171.44 1094.50,1171.47 1095.00,1171.50 1095.50,1171.53 1096.00,1171.55 1096.50,1171.58 1097.00,1171.61 1097.50,1171.64 1098.00,1171.67 1098.50,1171.69 1099.00,1171.72 1099.50,1171.75 1100.00,1171.77 1100.50,1171.80 1101.00,1171.83 1101.50,1171.85 1102.00,1171.88 1102.50,1171.91 1103.00,1171.93 1103.50,1171.96 1104.00,1171.98 1104.50,1172.01 1105.00,1172.03 1105.50,1172.06 1106.00,1172.09 1106.50,1172.11 1107.00,1172.14 1107.50,1172.16 1108.00,1172.19 1108.50,1172.21 1109.00,1172.24 1109.50,1172.26 1110.00,1172.28 1110.50,1172.31 1111.00,1172.33 1111.50,1172.36 1112.00,1172.38 1112.50,1172.41 1113.00,1172.43 1113.50,1172.45 1114.00,1172.48 1114.50,1172.50 1115.00,1172.52 1115.50,1172.55 1116.00,1172.57 1116.50,1172.59 1117.00,1172.62 1117.50,1172.64 1118.00,1172.66 1118.50,1172.69 1119.00,1172.71 1119.50,1172.73 1120.00,1172.75 1120.50,1172.78 1121.00,1172.80 1121.50,1172.82 1122.00,1172.84 1122.50,1172.87 1123.00,1172.89 1123.50,1172.91 1124.00,1172.93 1124.50,1172.96 1125.00,1172.98 1125.50,1173.00 1126.00,1173.02 1126.50,1173.04 1127.00,1173.07 1127.50,1173.09 1128.00,1173.11 1128.50,1173.13 1129.00,1173.15" fill="none" stroke="#b6cfe6" stroke-width="1"/>
<polyline points="694.50,1161.03 696.58,1159.53 698.65,1157.96 700.73,1161.75 702.81,1161.84 704.88,1163.55 706.96,1163.10 709.04,1162.04 711.12,1163.57 713.19,1161.66 715.27,1161.79 717.35,1161.65 719.42,1161.85 721.50,1163.71 723.58,1164.62 725.65,1162.99 727.73,1166.11 729.81,1166.23 731.89,1167.16 733.96,1166.94 736.04,1165.23 738.12,1164.55 740.19,1166.13 742.27,1163.16 744.35,1160.36 746.42,1161.41 748.50,1160.65 750.58,1159.33 752.66,1158.96 754.73,1159.43 756.81,1160.53 758.89,1156.35 760.96,1154.54 763.04,1154.11 765.12,1150.66 767.19,1144.91 769.27,1141.85 771.35,1138.97 773.43,1133.09 775.50,1120.05 777.58,1106.20 779.66,1092.87 781.73,1078.44 783.81,1063.95 785.89,1048.03 787.96,1030.71 790.04,1011.39 792.12,994.19 794.20,980.91 796.27,973.48 798.35,973.67 800.43,980.74 802.50,992.58 804.58,1004.94 806.66,1021.99 808.73,1043.20 810.81,1066.45 812.89,1088.97 814.97,1104.04 817.04,1115.84 819.12,1125.49 821.20,1132.77 823.27,1139.61 825.35,1149.76 827.43,1156.87 829.50,1159.43 831.58,1162.57 833.66,1164.53 835.74,1164.24 837.81,1163.35 839.89,1165.66 841.97,1163.43 844.04,1167.48 846.12,1169.71 848.20,1168.72 850.27,1169.46 852.35,1169.95 854.43,1169.67 856.51,1166.32 858.58,1168.12 860.66,1168.94 862.74,1170.86 864.81,1171.54 866.89,1172.60 868.97,1171.59 871.04,1171.79 873.12,1170.71 875.20,1170.29 877.28,1170.43 879.35,1170.26 881.43,1169.38 883.51,1172.33 885.58,1171.16 887.66,1170.48 889.74,1173.33 891.81,1171.93 893.89,1173.28 895.97,1172.65 898.05,1172.47 900.12,1171.78 902.20,1170.37 904.28,1170.24 906.35,1171.45 908.43,1167.18 910.51,1169.00 912.58,1169.08 914.66,1167.53 916.74,1166.98 918.82,1169.62 920.89,1167.06 922.97,1168.42 925.05,1165.64 927.12,1163.13 929.20,1161.54 931.28,1160.61 933.35,1160.06 935.43,1158.13 937.51,1155.06 939.59,1150.68 941.66,1144.77 943.74,1137.07 945.82,1127.14 947.89,1114.35 949.97,1096.42 952.05,1078.56 954.12,1061.92 956.20,1041.78 958.28,1018.31 960.36,993.36 962.43,968.15 964.51,944.54 966.59,924.04 968.66,908.74 970.74,900.22 972.82,899.08 974.89,905.26 976.97,919.32 979.05,939.39 981.13,962.22 983.20,986.54 985.28,1012.00 987.36,1036.91 989.43,1060.27 991.51,1083.25 993.59,1104.28 995.66,1122.37 997.74,1137.18 999.82,1145.69 1001.90,1148.33 1003.97,1151.95 1006.05,1155.25 1008.13,1158.93 1010.20,1161.32 1012.28,1163.18 1014.36,1164.92 1016.43,1166.12 1018.51,1166.05 1020.59,1165.32 1022.67,1165.38 1024.74,1167.74 1026.82,1167.34 1028.90,1167.31 1030.97,1168.27 1033.05,1170.11 1035.13,1170.59 1037.20,1170.51 1039.28,1170.39 1041.36,1173.30 1043.44,1171.63 1045.51,1170.99 1047.59,1170.47 1049.67,1171.17 1051.74,1172.73 1053.82,1172.89 1055.90,1172.04 1057.97,1172.42 1060.05,1172.19 1062.13,1171.50 1064.21,1174.08 1066.28,1173.34 1068.36,1175.80 1070.44,1172.92 1072.51,1174.05 1074.59,1175.65 1076.67,1175.06 1078.74,1174.45 1080.82,1175.44 1082.90,1177.02 1084.98,1177.68 1087.05,1177.54 1089.13,1178.98 1091.21,1179.27 1093.28,1178.85 1095.36,1178.81 1097.44,1178.77 1099.51,1179.85 1101.59,1180.45 1103.67,1179.72 1105.75,1180.28 1107.82,1179.56 1109.90,1178.14 1111.98,1177.96 1114.05,1179.10 1116.13,1178.13 1118.21,1178.97 1120.28,1177.01 1122.36,1177.57 1124.44,1177.80 1126.52,1177.24 1128.59,1175.37" fill="none" stroke="#d8070a" stroke-width="2.1" stroke-linejoin="round"/>
<line x1="694" y1="1162.3" x2="1129.5" y2="1175.1" stroke="#ffb300" stroke-width="2"/>
</svg>
</body></html>
